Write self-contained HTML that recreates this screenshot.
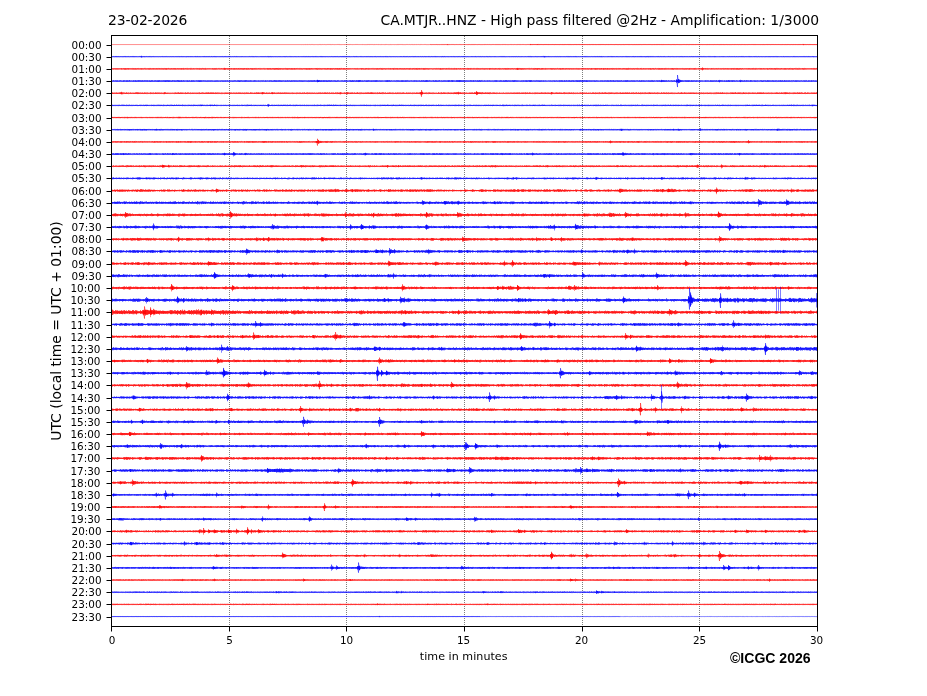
<!DOCTYPE html>
<html lang="en">
<head>
<meta charset="utf-8">
<title>CA.MTJR..HNZ - 23-02-2026</title>
<style>
html,body{margin:0;padding:0;background:#fff;}
body{width:927px;height:696px;overflow:hidden;}
svg{display:block;}
text{font-family:"DejaVu Sans","Liberation Sans",sans-serif;fill:#000;}
.c{font-family:"Liberation Sans",sans-serif;font-weight:bold;}
</style>
</head>
<body>
<svg width="927" height="696" viewBox="0 0 927 696">
<rect width="927" height="696" fill="#fff"/>
<g stroke="#000" stroke-opacity="0.5" stroke-width="1" stroke-dasharray="1 1" fill="none">
<line x1="229.5" y1="36" x2="229.5" y2="626"/>
<line x1="346.5" y1="36" x2="346.5" y2="626"/>
<line x1="464.5" y1="36" x2="464.5" y2="626"/>
<line x1="582.5" y1="36" x2="582.5" y2="626"/>
<line x1="699.5" y1="36" x2="699.5" y2="626"/>
</g>
<clipPath id="ax"><rect x="111.5" y="35.5" width="706.0" height="591.0"/></clipPath>
<g clip-path="url(#ax)" fill="none" stroke-width="5.00" stroke-linejoin="round">
<g stroke="#f00" transform="translate(111.5,44.55) scale(0.1)"><path id="t0" d="M0 0h10h10h10h10h10h10h10h10h10h10h10h10h10h10h10h10h10h10h10h10h10h10h10h10h10h10h10h10h10h10h10h10h10h10h10h10h10h10h10h10h10h10h10h10h10h10h10h10h10h10h10h10h10h10h10h10h10h10h10h10h10h10h10h10h10h10h10h10h10h10h10h10h10h10h10h10h10h10h10h10h10h10h10h10h10h10h10h10h10h10h10h10h10h10h10h10h10h10h10h10h10h10h10h10h10h10h10h10h10h10h10h10h10h10h10h10h10h10h10h10h10h10h10h10h10h10h10h10h10h10h10h10h10h10h10h10h10h10h10h10h10h10h10h10h10h10h10h10h10h10h10h10h10h10h10h10h10h10h10h10h10h10h10h10h10h10h10h10h10h10h10h10h10h10h10h10h10h10h10h10h10h10h10h10h10h10h10h10h10l10 1v-1h10l10 1v-1h10l10 1v-2l10 1l10 1v-2l10 1h10v-1l10 2v-1h10v-1l10 1v-1l10 2v-1l10 1v-1h10h10l10 1v-1l10 1v-1h10v-1l10 2v-2l10 2v-1h10v-1l10 1h10v-1l10 2v-1l10 1v-1h10v-1l10 1v-1l10 1v-1l10 2v-2l10 2v-1h10v-1l10 1l10 1v-1h10h10h10v-1l10 1v-1l10 2v-2l10 2v-1l10 1v-1h10h10l10 1v-2l10 1h10l10 1v-2l10 2v-2l10 2v-2l10 1v-1l10 1l10 1v-1h10h10h10v-1l10 1v-1l10 1v-1l10 1h10h10h10l10 1v-2l10 1l10 1v-1l10 1v-1l10 1v-1l10 1v-2l10 1v-1l10 2v-2l10 1v-1l10 1v-1l10 1v-1l10 2v-1l10 1v-2l10 1h10v-1l10 1l10 1v-2l10 1l10 1v-1l10 1v-2l10 1h10l10 1v-1l10 1v-2l10 1v-1l10 1l10 1v-1l10 1v-1l10 1v-2l10 2v-1h10h10l10 1v-1h10l10 1v-1l10 1v-2l10 2v-2l10 1v-1l10 1v-1l10 1v-1l10 2v-2l10 2v-1l10 1v-1l10 1v-1h10v-1l10 1v-1l10 1h10v-1l10 2v-1h10v-1l10 2v-2l10 2v-1l10 1v-2l10 1l10 1v-2l10 1h10v-1l10 2v-1l10 1v-2l10 1v-1l10 1h10h10v-1l10 1v-1l10 2v-1l10 1v-1l10 1v-1h10h10v-1l10 2v-1h10h10h10h10h10v-1l10 2v-1h10l10 1v-1h10l10 1v-2l10 2v-2l10 2v-2l10 2v-2l10 1v-1l10 2v-2l10 3v-3l10 3v-3l10 2v-2l10 1h10v-1l10 1v-1l10 1v-1l10 2v-1h10h10v-1l10 1h10h10v-1l10 2v-2l10 2v-1h10h10v-1l10 1h10h10l10 1v-1l10 1v-2l10 1v-1l10 2v-1l10 1v-2l10 2v-2l10 2v-2l10 2v-2l10 1v-1l10 1l10 1v-1h10v-1l10 1v-1l10 2v-1l10 1v-1l10 1v-1h10l10 1v-2l10 1v-1l10 1h10v-1l10 1h10v-1l10 2v-1l10 1v-1h10v-1l10 1v-1l10 1l10 1v-2l10 2v-2l10 2v-2l10 2v-2l10 2v-2l10 2v-1h10l10 1v-2l10 1v-1l10 1v-1l10 2v-2l10 1l10 1v-1l10 1v-1h10h10v-1l10 2v-2l10 1l10 1v-1h10v-1l10 1l10 1v-1l10 1v-2l10 1v-1l10 2v-2l10 2v-2l10 1h10v-1l10 1v-1l10 1l10 1v-1l10 1v-1h10v-1l10 1v-1l10 2v-2l10 3v-4l10 3v-2l10 2v-2l10 1v-1l10 1v-1l10 1v-1l10 2v-2l10 2v-2l10 2v-3l10 3v-2l10 1v-1l10 1v-1l10 1l10 1v-1h10v-1l10 1v-1l10 1v-1l10 1l10 1v-2l10 1h10h10h10v-1l10 1l10 1v-1h10v-1l10 1h10h10l10 1v-1h10v-1l10 1l10 1v-2l10 2v-1l10 1v-2l10 1v-1l10 1h10v-1l10 2v-2l10 2v-2l10 2v-2l10 2v-1h10l10 1v-1h10v-1l10 1v-1l10 2v-2l10 1h10v-1l10 2v-2l10 2v-1l10 1v-2l10 2v-1l10 1v-1l10 1v-2l10 1h10l10 1v-1h10l10 1v-2l10 2v-1h10v-1l10 2v-2l10 2v-2l10 1l10 1v-2l10 2v-1h10l10 1v-2l10 2v-2l10 2v-2l10 1v-1l10 1v-1l10 1v-1l10 1l10 1v-1h10v-1l10 1l10 1v-2l10 1h10v-1l10 1v-1l10 1h10l10 1v-1h10v-1l10 1v-1l10 2v-1l10 1v-1h10v-1l10 2v-1l10 1v-1h10l10 1v-2l10 2v-1h10v-1l10 1v-1l10 1v-1l10 2v-2l10 2v-2l10 1h10v-1l10 2v-1l10 1v-1l10 1v-2l10 2v-1l10 1v-2l10 2v-1l10 1v-2l10 2v-2l10 1v-1l10 2v-1h10h10v-1l10 1v-1l10 1v-1l10 1h10h10v-1l10 1v-1l10 1v-1l10 2v-1l10 1v-1h10l10 1v-2l10 1l10 1v-2l10 2v-2l10 1v-1l10 2v-2l10 1l10 1v-2l10 2v-1l10 1v-2l10 1h10h10h10h10v-1l10 1l10 1v-1l10 1v-1h10v-1l10 2v-2l10 2v-2l10 2v-1h10v-1l10 1v-1l10 1l10 1v-1l10 1v-1l10 1v-1h10h10v-1l10 1v-1l10 1l10 1v-2l10 1v-1l10 2v-1l10 1v-2l10 1v-1l10 2v-2l10 2v-2l10 2v-2l10 1l10 1v-2l10 1v-1l10 1v-1l10 2v-2l10 2v-2l10 2v-1h10v-1l10 2v-1h10h10h10l10 1v-1l10 1v-2l10 1l10 1v-2l10 1h10h10l10 1v-1h10v-1l10 1h10h10v-1l10 1l10 1v-1l10 1v-2l10 2v-2l10 1l10 1v-2l10 2v-1h10h10v-1l10 2v-1h10l10 1v-1l10 1v-1l10 1v-1h10v-1l10 1l10 1v-2l10 1v-1l10 1h10v-1l10 2v-1h10v-1l10 2v-1l10 1v-2l10 1v-1l10 1l10 1v-2l10 2v-1h10l10 1v-1h10v-1l10 1v-1l10 1h10v-1l10 1v-1l10 2v-2l10 2v-2l10 2v-2l10 1h10h10h10l10 1v-1h10l10 1v-1l10 1v-2l10 2v-1h10h10v-1l10 2v-2l10 1v-1l10 1v-1l10 2v-1h10v-1l10 1v-1l10 1v-1l10 1h10v-1l10 1h10h10v-1l10 1l10 1v-1l10 1v-1l10 1v-2l10 1l10 1v-1l10 1v-2l10 2v-1l10 1v-2l10 1v-1l10 2v-1l10 1v-1h10v-1l10 2v-1l10 1v-2l10 1l10 1v-2l10 1l10 1v-1l10 1v-2l10 2v-2l10 2v-2l10 1l10 1v-3l10 4v-4l10 3v-2l10 2v-2l10 2v-1h10v-1l10 2v-1l10 1v-2l10 2v-2l10 1l10 1v-1l10 1v-1l10 1v-2l10 2v-1l10 1v-1h10v-1"/><path d="M3360 5v-10M4190 4v-9M4260 3v-7M6920 6v-11"/><path stroke-width="2.5" d="M3185 0H4185"/><path stroke-width="5.0" d="M4185 0H7065"/></g>
<g stroke="#00f" transform="translate(111.5,56.72) scale(0.1)"><path id="t1" d="M0 3v-4l10 2v-2l10 2v-4l10 5v-3l10 4v-6l10 6v-6l10 5v-4l10 4v-5l10 5v-3l10 3v-4l10 3v-3l10 5v-4l10 4v-4l10 3v-5l10 6v-6l10 4v-3l10 4v-4l10 4v-5l10 4v-2l10 4v-5l10 4v-4l10 5v-6l10 6v-6l10 6v-5l10 4v-4l10 4v-4l10 3v-2l10 3v-3l10 3v-5l10 6v-6l10 9v-11l10 7v-4l10 5v-5l10 6v-6l10 4v-3l10 3v-5l10 4v-3l10 5v-5l10 5v-6l10 4v-4l10 6v-4l10 3v-4l10 4v-5l10 4v-3l10 3v-3l10 3v-3l10 3v-3l10 4v-3l10 2v-3l10 4v-3l10 2v-3l10 4v-5l10 4v-3l10 4v-4l10 4v-4l10 3v-4l10 4v-3l10 3v-3l10 4v-3l10 3v-4l10 4v-3l10 3v-4l10 4v-4l10 3v-2l10 3v-4l10 4v-4l10 4v-4l10 3v-4l10 6v-5l10 3v-3l10 4v-5l10 5v-4l10 4v-4l10 3v-3l10 4v-3l10 5v-5l10 3v-4l10 5v-5l10 3v-3l10 5v-5l10 4v-4l10 4v-4l10 3v-2l10 3v-4l10 5v-6l10 5v-4l10 5v-6l10 4v-3l10 5v-5l10 4v-3l10 2v-2l10 3v-4l10 5v-5l10 5v-6l10 5v-4l10 5v-5l10 4v-4l10 5v-5l10 4v-5l10 4v-2l10 4v-6l10 5v-3l10 4v-5l10 5v-6l10 6v-5l10 5v-4l10 2v-3l10 3v-3l10 4v-4l10 4v-4l10 4v-4l10 4v-5l10 5v-3l10 4v-5l10 4v-5l10 5v-4l10 4v-3l10 4v-6l10 5v-5l10 5v-5l10 4v-2l10 3v-4l10 4v-3l10 3v-5l10 4v-3l10 5v-6l10 4v-3l10 3v-3l10 4v-3l10 3v-3l10 4v-4l10 3v-4l10 3v-2l10 3v-3l10 3v-3l10 2v-2l10 2v-2l10 3v-3l10 3v-5l10 4v-3l10 3v-4l10 5v-5l10 6v-5l10 4v-3l10 2v-4l10 5v-4l10 3v-3l10 3v-2l10 2v-2l10 3v-4l10 4v-4l10 4v-4l10 4v-4l10 4v-4l10 3v-4l10 4v-3l10 4v-5l10 7v-7l10 6v-5l10 5v-6l10 6v-4l10 3v-4l10 4v-3l10 2v-3l10 4v-4l10 3v-3l10 4v-3l10 3v-4l10 4v-4l10 4v-4l10 3v-2l10 3v-3l10 3v-4l10 5v-5l10 5v-4l10 2v-4l10 4v-3l10 3v-3l10 3v-4l10 5v-5l10 5v-4l10 3v-3l10 4v-3l10 3v-4l10 4v-4l10 4v-3l10 2v-2l10 4v-5l10 3v-2l10 2v-3l10 4v-4l10 4v-4l10 4v-5l10 4v-4l10 6v-5l10 4v-5l10 5v-4l10 5v-6l10 5v-4l10 5v-4l10 3v-4l10 4v-5l10 6v-5l10 4v-4l10 5v-6l10 4v-4l10 5v-4l10 4v-3l10 3v-4l10 5v-6l10 6v-6l10 6v-5l10 4v-4l10 4v-4l10 5v-4l10 2v-3l10 4v-4l10 4v-3l10 3v-4l10 4v-3l10 3v-5l10 5v-4l10 5v-4l10 4v-5l10 5v-5l10 4v-4l10 4v-5l10 5v-3l10 4v-4l10 3v-5l10 6v-5l10 5v-6l10 6v-6l10 5v-6l10 6v-5l10 5v-5l10 4v-4l10 5v-5l10 6v-6l10 4v-2l10 3v-3l10 2v-2l10 3v-5l10 6v-5l10 4v-4l10 5v-6l10 4v-3l10 4v-3l10 2v-3l10 4v-5l10 4v-4l10 4v-3l10 4v-3l10 3v-4l10 3v-3l10 5v-5l10 4v-4l10 3v-4l10 5v-4l10 5v-5l10 4v-4l10 5v-4l10 2v-2l10 4v-5l10 4v-5l10 5v-3l10 3v-4l10 4v-4l10 4v-4l10 4v-5l10 4v-3l10 4v-4l10 5v-4l10 2v-3l10 5v-6l10 4v-4l10 6v-5l10 3v-2l10 2v-4l10 5v-4l10 4v-3l10 2v-3l10 4v-4l10 3v-3l10 4v-3l10 2v-3l10 4v-3l10 2v-2l10 3v-3l10 4v-5l10 4v-4l10 3v-2l10 4v-6l10 4v-4l10 5v-4l10 5v-5l10 3v-4l10 5v-3l10 4v-5l10 4v-3l10 3v-4l10 3v-4l10 6v-5l10 5v-5l10 4v-5l10 4v-3l10 4v-4l10 5v-5l10 3v-2l10 3v-5l10 5v-3l10 3v-5l10 5v-3l10 3v-5l10 6v-5l10 4v-4l10 3v-3l10 5v-6l10 4v-4l10 5v-3l10 3v-5l10 5v-4l10 4v-4l10 4v-5l10 6v-6l10 5v-4l10 4v-4l10 3v-3l10 4v-3l10 2v-3l10 6v-5l10 4v-6l10 6v-4l10 4v-6l10 5v-3l10 2v-3l10 4v-4l10 5v-4l10 2v-2l10 3v-4l10 5v-5l10 3v-3l10 4v-5l10 6v-5l10 4v-3l10 3v-4l10 5v-4l10 4v-5l10 3v-4l10 5v-3l10 3v-5l10 6v-5l10 5v-6l10 5v-4l10 3v-4l10 5v-3l10 3v-4l10 4v-3l10 2v-2l10 2v-2l10 4v-5l10 4v-4l10 3v-3l10 4v-4l10 5v-6l10 5v-3l10 2v-3l10 3v-4l10 5v-4l10 4v-5l10 5v-3l10 2v-4l10 4v-3l10 5v-4l10 2v-2l10 3v-5l10 6v-5l10 4v-3l10 3v-5l10 5v-4l10 4v-3l10 2v-3l10 3v-3l10 5v-5l10 4v-4l10 3v-2l10 2v-2l10 3v-3l10 3v-4l10 3v-4l10 5v-5l10 5v-5l10 5v-5l10 5v-5l10 5v-3l10 3v-3l10 2v-2l10 2v-3l10 5v-4l10 2v-2l10 4v-4l10 3v-4l10 5v-4l10 3v-4l10 5v-4l10 2v-4l10 5v-3l10 3v-5l10 4v-3l10 4v-3l10 4v-4l10 2v-3l10 3v-2l10 3v-3l10 3v-4l10 3v-2l10 3v-4l10 5v-6l10 5v-5l10 5v-6l10 7v-5l10 3v-3l10 4v-3l10 3v-3l10 3v-5l10 5v-4l10 5v-4l10 3v-4l10 3v-3l10 4v-4l10 5v-5l10 4v-5l10 6v-8l10 7v-5l10 7v-7l10 5v-4l10 4v-4l10 5v-6l10 5v-4l10 3v-3l10 4v-3l10 2v-3l10 3v-3l10 4v-4l10 3v-4l10 5v-4l10 3v-4l10 5v-4l10 3v-4l10 6v-5l10 3v-3l10 3v-3l10 4v-4l10 4v-4l10 4v-3l10 3v-5l10 5v-5l10 6v-6l10 6v-5l10 3v-4l10 5v-4l10 3v-3l10 5v-5l10 4v-4l10 5v-6l10 6v-5l10 3v-2l10 3v-4l10 3v-2l10 3v-4l10 3v-3l10 5v-4l10 3v-4l10 5v-6l10 6v-6l10 5v-5l10 4v-4l10 5v-4l10 4v-4l10 4v-3l10 2v-4l10 5v-4l10 4v-4l10 4v-5l10 6v-5l10 4v-4l10 5v-6l10 5v-4l10 5v-6l10 6v-5l10 6v-7l10 5v-3l10 3v-4l10 3v-2l10 2v-2l10 2v-2l10 4v-4l10 4v-5l10 3v-3l10 3v-4l10 6v-6l10 6v-5l10 4v-4l10 4v-4l10 3v-2l10 4v-5l10 4v-4l10 4v-3l10 3v-3l10 3v-4l10 4v-3l10 4v-4l10 3v-4l10 3v-3l10 4v-5l10 6v-6l10 6v-5l10 5v-5l10 5v-4l10 2v-3l10 4v-3l10 4v-5l10 5v-6l10 6v-4l10 4v-5l10 3v-3l10 5v-5l10 4v-4l10 5v-5l10 5v-6l10 6v-6l10 5v-4l10 4v-4l10 5v-5l10 6v-5l10 5v-6l10 5v-6l10 7v-7l10 4v-4l10 6v-6l10 4v-4l10 5v-5l10 4v-4l10 4v-3l10 4v-3l10 3v-4l10 5v-5l10 5v-6l10 5v-3l10 3v-5l10 5v-4l10 3v-3l10 5v-5l10 4v-5l10 4v-2l10 2v-2l10 3v-3l10 4v-6l10 4v-3l10 5v-4l10 2v-3l10 3v-4l10 5v-4l10 4v-3l10 3v-3l10 4v-4l10 2v-3l10 4v-4l10 5v-4l10 4v-5l10 4v-5l10 6v-5l10 4v-3l10 4v-5l10 3v-3l10 4v-4l10 4v-4l10 3v-2l10 4v-5l10 4v-3l10 3v-5l10 5v-4l10 5v-5l10 3v-3l10 3v-4l10 5v-4l10 4v-5l10 6v-5l10 4v-3l10 3v-5l10 5v-5l10 5v-4l10 4v-5l10 4v-4l10 5v-4l10 4v-3l10 2v-3l10 4v-5l10 5v-5l10 4v-4l10 4v-3l10 4v-4l10 4v-4l10 6v-7l10 6v-5l10 3v-2l10 2v-2l10 2v-2l10 4v-4l10 2v-2l10 3v-4l10 4v-4l10 5v-5l10 3v-3l10 3v-2l10 2v-2l10 3v-4l10 4v-3l10 3v-5l10 4v-3l10 4v-4l10 4v-4l10 3v-3l10 4v-5l10 4v-2l10 4v-5l10 3v-2l10 4v-4l10 3v-4l10 4v-4l10 5v-6l10 5v-5l10 5v-5l10 5v-3l10 3v-4l10 4v-4l10 3v-3l10 4v-5l10 6v-6l10 5v-4l10 4v-4l10 3v-2l10 3v-4l10 5v-5l10 3v-4l10 4v-4l10 5v-3l10 3v-5l10 5v-3l10 2v-3l10 4v-4l10 4v-3l10 2v-3l10 4v-3l10 4v-4l10 3v-4l10 3v-3l10 5v-5l10 5v-5l10 5v-4l10 3v-4l10 4v-4l10 5v-5l10 4v-4l10 3v-4l10 5v-5l10 6v-5l10 3v-3l10 3v-2l10 2v-3l10 4v-4l10 3v-2l10 4v-6l10 5v-3l10 3v-4l10 4v-4l10 4v-4l10 4v-4l10 4v-3l10 3v-3l10 2v-3l10 4v-3l10 4v-6l10 5v-5l10 5v-4l10 4v-4l10 4v-4l10 4v-3l10 3v-4l10 4v-4l10 4v-4l10 4v-4l10 4v-5l10 5v-5l10 5v-4l10 3v-4l10 5v-4l10 5v-6l10 5v-4l10 4v-3l10 2v-2l10 3v-5l10 7v-6l10 3v-2l10 2v-2l10 3v-3l10 3v-3"/><use href="#t1" transform="translate(5,0) scale(1,-.85)"/><path d="M300 8v-17M4330 7v-14"/></g>
<g stroke="#f00" transform="translate(111.5,68.89) scale(0.1)"><path id="t2" d="M0 3v-6l10 6v-6l10 9v-9l10 6v-7l10 9v-9l10 9v-9l10 9v-9l10 8v-7l10 6v-6l10 6v-6l10 8v-12l10 12v-8l10 7v-8l10 10v-12l10 13v-14l10 13v-9l10 8v-9l10 10v-13l10 10v-7l10 7v-7l10 8v-8l10 9v-10l10 8v-9l10 12v-11l10 11v-10l10 10v-8l10 7v-9l10 8v-9l10 8v-6l10 8v-9l10 11v-12l10 10v-8l10 8v-7l10 5v-9l10 9v-9l10 9v-6l10 7v-7l10 8v-9l10 12v-13l10 9v-9l10 9v-7l10 8v-9l10 9v-11l10 10v-8l10 8v-7l10 8v-11l10 11v-9l10 7v-8l10 8v-10l10 11v-8l10 8v-9l10 9v-9l10 11v-10l10 8v-9l10 9v-10l10 13v-14l10 12v-8l10 6v-9l10 9v-7l10 10v-9l10 8v-10l10 10v-8l10 8v-10l10 10v-12l10 10v-10l10 12v-8l10 7v-8l10 9v-9l10 8v-8l10 9v-9l10 9v-12l10 12v-10l10 11v-12l10 9v-6l10 6v-9l10 10v-9l10 9v-10l10 9v-7l10 7v-7l10 10v-12l10 9v-9l10 9v-6l10 7v-10l10 10v-7l10 5v-5l10 7v-9l10 8v-9l10 10v-8l10 11v-12l10 9v-8l10 11v-10l10 6v-9l10 9v-9l10 11v-9l10 11v-13l10 9v-5l10 6v-7l10 6v-6l10 6v-7l10 6v-5l10 6v-5l10 8v-11l10 11v-9l10 10v-11l10 11v-11l10 9v-10l10 8v-5l10 5v-8l10 8v-8l10 8v-6l10 6v-9l10 10v-7l10 9v-11l10 9v-10l10 13v-16l10 12v-7l10 10v-10l10 10v-10l10 11v-12l10 10v-8l10 8v-11l10 10v-7l10 10v-11l10 11v-13l10 11v-8l10 6v-9l10 12v-10l10 7v-9l10 12v-11l10 9v-9l10 10v-11l10 10v-9l10 13v-13l10 10v-12l10 10v-7l10 9v-12l10 13v-11l10 8v-9l10 12v-9l10 6v-8l10 10v-11l10 13v-13l10 12v-9l10 9v-10l10 9v-10l10 9v-9l10 8v-6l10 6v-9l10 10v-9l10 9v-9l10 8v-7l10 7v-6l10 6v-8l10 9v-9l10 8v-6l10 6v-6l10 8v-12l10 13v-12l10 11v-9l10 8v-11l10 13v-9l10 8v-9l10 7v-9l10 13v-13l10 13v-13l10 11v-13l10 11v-11l10 15v-13l10 9v-8l10 12v-14l10 10v-6l10 9v-9l10 9v-9l10 7v-7l10 8v-11l10 9v-9l10 13v-13l10 12v-10l10 8v-8l10 10v-9l10 9v-12l10 12v-12l10 12v-9l10 9v-12l10 12v-10l10 8v-8l10 7v-8l10 8v-7l10 9v-10l10 9v-9l10 8v-8l10 12v-10l10 6v-6l10 7v-9l10 10v-10l10 11v-12l10 12v-11l10 12v-11l10 11v-12l10 12v-11l10 8v-9l10 10v-9l10 7v-6l10 6v-7l10 7v-10l10 10v-11l10 15v-12l10 9v-8l10 9v-10l10 9v-9l10 11v-9l10 8v-8l10 6v-7l10 8v-10l10 10v-9l10 12v-10l10 9v-12l10 10v-10l10 10v-8l10 11v-14l10 12v-11l10 13v-10l10 6v-7l10 10v-9l10 8v-11l10 11v-10l10 10v-13l10 14v-10l10 9v-12l10 13v-11l10 8v-9l10 9v-7l10 10v-13l10 10v-10l10 13v-9l10 7v-8l10 9v-9l10 9v-9l10 8v-8l10 7v-7l10 6v-5l10 5v-6l10 6v-5l10 6v-8l10 10v-9l10 8v-7l10 8v-10l10 8v-5l10 6v-6l10 5v-7l10 11v-14l10 10v-9l10 11v-9l10 9v-7l10 10v-11l10 7v-10l10 10v-8l10 10v-11l10 9v-8l10 7v-6l10 7v-8l10 7v-8l10 8v-8l10 9v-8l10 7v-7l10 11v-11l10 8v-10l10 12v-10l10 8v-8l10 7v-9l10 9v-10l10 14v-12l10 8v-6l10 6v-8l10 11v-9l10 7v-7l10 6v-6l10 7v-9l10 8v-7l10 9v-12l10 10v-6l10 6v-8l10 11v-13l10 12v-11l10 9v-7l10 8v-10l10 10v-11l10 12v-8l10 8v-8l10 7v-10l10 11v-9l10 9v-9l10 10v-9l10 6v-9l10 12v-10l10 8v-8l10 7v-8l10 10v-9l10 11v-12l10 10v-10l10 8v-6l10 10v-11l10 7v-9l10 11v-10l10 9v-9l10 10v-13l10 14v-11l10 9v-8l10 9v-13l10 11v-6l10 7v-9l10 8v-7l10 10v-13l10 13v-12l10 12v-11l10 8v-7l10 8v-9l10 11v-9l10 7v-7l10 5v-5l10 5v-6l10 9v-7l10 7v-7l10 5v-6l10 8v-8l10 7v-9l10 8v-7l10 7v-8l10 9v-8l10 11v-14l10 13v-9l10 9v-9l10 8v-9l10 6v-6l10 9v-8l10 8v-11l10 10v-7l10 7v-10l10 9v-9l10 9v-7l10 9v-10l10 9v-7l10 9v-9l10 9v-12l10 9v-7l10 10v-13l10 10v-5l10 5v-8l10 10v-8l10 7v-10l10 10v-6l10 5v-7l10 10v-10l10 7v-7l10 7v-7l10 8v-7l10 9v-12l10 9v-10l10 12v-10l10 11v-11l10 8v-8l10 8v-6l10 8v-10l10 8v-8l10 8v-6l10 9v-11l10 9v-10l10 9v-9l10 11v-8l10 9v-9l10 7v-7l10 7v-9l10 9v-8l10 11v-10l10 8v-8l10 7v-8l10 9v-8l10 6v-6l10 10v-14l10 12v-12l10 10v-6l10 7v-9l10 9v-8l10 10v-9l10 8v-11l10 10v-8l10 8v-6l10 7v-10l10 11v-11l10 9v-8l10 8v-6l10 6v-8l10 9v-8l10 7v-9l10 10v-12l10 12v-11l10 12v-11l10 9v-10l10 10v-8l10 9v-8l10 7v-8l10 6v-8l10 11v-8l10 5v-6l10 9v-8l10 9v-12l10 13v-14l10 15v-13l10 9v-9l10 8v-10l10 15v-13l10 11v-10l10 11v-10l10 8v-9l10 9v-8l10 7v-7l10 6v-7l10 7v-8l10 9v-10l10 9v-7l10 7v-9l10 9v-7l10 9v-10l10 13v-13l10 9v-11l10 11v-10l10 14v-16l10 12v-11l10 10v-9l10 12v-9l10 11v-11l10 9v-13l10 11v-8l10 8v-7l10 10v-12l10 8v-6l10 7v-7l10 6v-6l10 6v-6l10 7v-10l10 11v-11l10 12v-12l10 10v-8l10 10v-9l10 8v-8l10 8v-7l10 5v-9l10 9v-6l10 8v-10l10 11v-12l10 12v-10l10 9v-11l10 10v-11l10 10v-6l10 9v-10l10 7v-9l10 10v-8l10 7v-8l10 11v-10l10 7v-7l10 9v-9l10 8v-7l10 8v-9l10 7v-6l10 7v-7l10 7v-9l10 9v-8l10 10v-10l10 9v-8l10 6v-5l10 5v-8l10 12v-10l10 8v-10l10 8v-8l10 10v-11l10 10v-7l10 8v-10l10 11v-9l10 6v-7l10 10v-9l10 11v-15l10 11v-7l10 6v-7l10 7v-9l10 13v-15l10 14v-10l10 10v-10l10 7v-7l10 9v-10l10 12v-11l10 9v-12l10 10v-6l10 11v-15l10 13v-10l10 7v-9l10 12v-10l10 11v-13l10 11v-8l10 10v-10l10 8v-8l10 8v-10l10 11v-11l10 8v-9l10 11v-9l10 7v-7l10 10v-11l10 8v-6l10 8v-10l10 8v-10l10 10v-9l10 10v-6l10 8v-9l10 7v-10l10 10v-10l10 11v-9l10 10v-11l10 12v-12l10 12v-14l10 9v-6l10 8v-9l10 9v-8l10 10v-9l10 7v-9l10 11v-9l10 6v-7l10 8v-9l10 10v-12l10 9v-7l10 10v-7l10 7v-11l10 11v-11l10 9v-5l10 7v-11l10 10v-7l10 8v-8l10 7v-7l10 6v-6l10 9v-10l10 8v-8l10 10v-13l10 13v-9l10 7v-8l10 7v-10l10 13v-9l10 5v-8l10 9v-6l10 7v-8l10 11v-12l10 9v-11l10 13v-11l10 11v-10l10 10v-11l10 10v-8l10 10v-11l10 9v-11l10 9v-8l10 8v-7l10 8v-9l10 8v-6l10 8v-8l10 9v-11l10 10v-13l10 15v-11l10 7v-6l10 8v-9l10 9v-10l10 9v-10l10 10v-7l10 7v-7l10 8v-8l10 7v-7l10 8v-10l10 8v-7l10 12v-11l10 9v-9l10 10v-10l10 7v-8l10 10v-9l10 9v-13l10 12v-10l10 8v-6l10 8v-8l10 9v-10l10 11v-13l10 11v-11l10 9v-6l10 5v-4l10 6v-10l10 8v-5l10 7v-8l10 10v-14l10 15v-13l10 12v-15l10 12v-7l10 8v-10l10 10v-8l10 9v-10l10 9v-7l10 5v-5l10 8v-7l10 8v-12l10 10v-8l10 7v-8l10 9v-7l10 7v-7l10 7v-9l10 10v-8l10 6v-8l10 7v-5l10 8v-9l10 9v-8l10 6v-7l10 9v-10l10 9v-8l10 7v-9l10 10v-8l10 8v-10l10 11v-9l10 7v-6l10 6v-7l10 12v-14l10 10v-8l10 10v-12l10 11v-10l10 9v-8l10 11v-13l10 11v-12l10 13v-10l10 12v-12l10 8v-9l10 11v-9l10 6v-9l10 10v-6l10 5v-6l10 6v-6l10 7v-8l10 8v-7l10 8v-11l10 10v-10l10 11v-8l10 8v-8l10 9v-11l10 10v-11l10 9v-7l10 11v-12l10 8v-8l10 8v-6l10 6v-7l10 7v-8l10 9v-11l10 11v-11l10 10v-6l10 6v-10l10 11v-8l10 7v-6l10 6v-7l10 10v-12l10 12v-9l10 6v-8l10 10v-10l10 8v-10l10 11v-9l10 10v-8l10 6v-10l10 13v-13l10 12v-11l10 9v-8l10 8v-9l10 11v-8l10 9v-9l10 6v-10l10 10v-6l10 8v-8l10 10v-12l10 11v-12l10 11v-8l10 6v-7l10 10v-9l10 6v-10l10 12v-11l10 9v-7l10 10v-11l10 12v-10l10 6v-7l10 8v-10l10 9v-9l10 9v-9l10 12v-12l10 9v-9l10 9v-7l10 7v-6l10 6v-10l10 13v-12l10 12v-12l10 9v-7l10 8v-7l10 6v-6l10 6v-6l10 6v-6l10 6v-6l10 7v-8l10 7v-6l10 8v-10l10 9v-9l10 9v-7l10 6v-9l10 9v-9"/><use href="#t2" transform="translate(5,0) scale(1,-.85)"/><path d="M1130 9v-20M4060 11v-21M5910 16v-33"/></g>
<g stroke="#00f" transform="translate(111.5,81.06) scale(0.1)"><path id="t3" d="M0 8v-15l10 12v-8l10 7v-11l10 10v-7l10 7v-10l10 11v-10l10 12v-13l10 12v-8l10 10v-10l10 7v-11l10 11v-8l10 8v-7l10 11v-14l10 12v-13l10 10v-7l10 11v-13l10 13v-14l10 13v-9l10 8v-14l10 13v-8l10 8v-8l10 10v-9l10 10v-13l10 12v-11l10 11v-13l10 15v-12l10 10v-10l10 11v-15l10 12v-13l10 12v-10l10 14v-12l10 9v-11l10 13v-11l10 10v-11l10 10v-11l10 11v-11l10 11v-12l10 12v-9l10 9v-10l10 14v-12l10 13v-14l10 9v-10l10 12v-10l10 11v-11l10 10v-12l10 10v-9l10 12v-14l10 16v-14l10 12v-14l10 13v-9l10 8v-9l10 12v-13l10 11v-11l10 9v-11l10 16v-16l10 15v-14l10 10v-12l10 15v-15l10 16v-13l10 8v-7l10 12v-12l10 12v-15l10 10v-8l10 10v-12l10 14v-12l10 11v-9l10 8v-15l10 15v-14l10 15v-11l10 13v-12l10 11v-13l10 13v-11l10 10v-12l10 11v-9l10 7v-7l10 9v-10l10 11v-13l10 14v-10l10 7v-9l10 12v-10l10 10v-12l10 13v-13l10 11v-11l10 11v-9l10 6v-6l10 7v-11l10 11v-10l10 10v-12l10 16v-15l10 14v-13l10 14v-13l10 8v-6l10 7v-11l10 10v-9l10 10v-10l10 11v-8l10 8v-10l10 12v-12l10 9v-8l10 11v-11l10 9v-10l10 10v-9l10 8v-7l10 10v-10l10 11v-11l10 10v-11l10 10v-11l10 10v-8l10 6v-7l10 11v-10l10 6v-8l10 8v-9l10 13v-12l10 9v-8l10 11v-12l10 8v-7l10 7v-11l10 12v-8l10 11v-13l10 10v-8l10 8v-8l10 9v-9l10 12v-12l10 8v-9l10 8v-10l10 11v-8l10 10v-12l10 9v-11l10 17v-14l10 13v-12l10 8v-9l10 8v-8l10 12v-12l10 9v-9l10 13v-17l10 13v-11l10 11v-8l10 8v-9l10 12v-12l10 11v-11l10 10v-9l10 7v-6l10 10v-11l10 11v-14l10 11v-10l10 10v-8l10 7v-7l10 10v-11l10 9v-7l10 9v-9l10 7v-9l10 10v-10l10 8v-9l10 9v-7l10 10v-13l10 12v-9l10 7v-7l10 7v-7l10 11v-12l10 8v-9l10 10v-11l10 12v-9l10 12v-12l10 11v-14l10 11v-11l10 15v-14l10 10v-8l10 11v-13l10 11v-13l10 11v-10l10 13v-12l10 12v-10l10 7v-7l10 9v-9l10 10v-11l10 12v-11l10 10v-12l10 11v-9l10 8v-10l10 11v-9l10 13v-15l10 11v-8l10 8v-11l10 10v-11l10 12v-12l10 11v-9l10 11v-10l10 9v-9l10 9v-12l10 11v-10l10 11v-11l10 11v-10l10 12v-12l10 8v-7l10 7v-8l10 8v-8l10 11v-9l10 9v-11l10 12v-12l10 12v-12l10 10v-10l10 12v-13l10 13v-12l10 9v-12l10 13v-10l10 11v-11l10 11v-17l10 17v-10l10 13v-18l10 16v-11l10 11v-12l10 12v-12l10 11v-12l10 14v-15l10 11v-9l10 11v-13l10 16v-13l10 11v-11l10 8v-11l10 15v-13l10 10v-11l10 10v-8l10 9v-10l10 9v-11l10 11v-10l10 14v-11l10 10v-11l10 8v-10l10 9v-6l10 7v-7l10 8v-10l10 8v-9l10 11v-9l10 11v-14l10 11v-11l10 11v-10l10 11v-9l10 7v-6l10 8v-11l10 10v-12l10 17v-13l10 10v-13l10 16v-13l10 9v-9l10 9v-9l10 12v-17l10 12v-9l10 16v-18l10 17v-18l10 13v-13l10 13v-8l10 8v-9l10 12v-10l10 6v-8l10 9v-9l10 11v-12l10 15v-14l10 8v-10l10 12v-12l10 11v-8l10 11v-12l10 12v-12l10 11v-10l10 8v-10l10 14v-16l10 14v-14l10 13v-11l10 10v-7l10 8v-10l10 8v-8l10 12v-12l10 8v-6l10 6v-6l10 6v-7l10 8v-10l10 13v-15l10 16v-16l10 14v-12l10 10v-12l10 14v-10l10 7v-8l10 8v-6l10 7v-8l10 8v-9l10 10v-8l10 9v-12l10 11v-12l10 10v-10l10 13v-11l10 10v-8l10 10v-13l10 14v-15l10 12v-10l10 12v-11l10 10v-11l10 13v-14l10 10v-10l10 9v-8l10 11v-9l10 6v-7l10 7v-10l10 10v-7l10 9v-10l10 11v-13l10 10v-9l10 10v-11l10 12v-10l10 8v-6l10 6v-9l10 13v-10l10 10v-12l10 11v-10l10 8v-12l10 13v-10l10 13v-14l10 15v-18l10 14v-12l10 13v-10l10 8v-10l10 9v-8l10 10v-8l10 7v-8l10 8v-12l10 14v-10l10 10v-13l10 13v-13l10 12v-9l10 12v-12l10 9v-12l10 10v-6l10 9v-11l10 11v-9l10 10v-11l10 7v-9l10 12v-13l10 11v-7l10 6v-9l10 15v-17l10 14v-13l10 11v-7l10 8v-14l10 17v-17l10 13v-9l10 9v-8l10 8v-8l10 11v-15l10 15v-16l10 14v-13l10 18v-19l10 15v-14l10 15v-13l10 11v-10l10 13v-16l10 12v-7l10 12v-12l10 9v-9l10 7v-9l10 12v-12l10 9v-7l10 8v-13l10 12v-12l10 12v-9l10 11v-14l10 12v-9l10 8v-10l10 11v-8l10 8v-12l10 16v-12l10 8v-12l10 16v-13l10 9v-10l10 9v-9l10 9v-6l10 6v-10l10 12v-9l10 7v-6l10 10v-12l10 8v-7l10 8v-11l10 11v-8l10 8v-7l10 8v-8l10 9v-9l10 10v-11l10 9v-12l10 15v-16l10 11v-6l10 6v-7l10 11v-11l10 11v-13l10 9v-9l10 12v-10l10 10v-11l10 12v-12l10 14v-16l10 11v-12l10 15v-12l10 9v-9l10 8v-9l10 13v-13l10 9v-6l10 7v-12l10 15v-14l10 16v-16l10 11v-10l10 11v-11l10 11v-10l10 8v-7l10 7v-7l10 10v-9l10 10v-10l10 9v-10l10 11v-12l10 9v-8l10 8v-11l10 14v-15l10 14v-10l10 7v-9l10 11v-14l10 18v-17l10 13v-13l10 12v-7l10 7v-8l10 6v-7l10 12v-12l10 8v-9l10 9v-10l10 10v-10l10 13v-12l10 14v-12l10 10v-9l10 7v-8l10 11v-12l10 8v-6l10 8v-10l10 8v-6l10 6v-5l10 5v-7l10 8v-8l10 9v-10l10 9v-7l10 9v-9l10 6v-8l10 10v-11l10 12v-10l10 7v-8l10 10v-8l10 8v-8l10 9v-12l10 13v-13l10 10v-11l10 13v-13l10 12v-8l10 10v-13l10 13v-10l10 7v-11l10 12v-10l10 11v-11l10 10v-13l10 12v-9l10 14v-13l10 8v-9l10 11v-13l10 13v-10l10 9v-9l10 9v-13l10 16v-15l10 12v-11l10 16v-15l10 9v-12l10 13v-12l10 12v-14l10 16v-12l10 8v-11l10 12v-12l10 15v-15l10 16v-12l10 9v-8l10 8v-11l10 12v-12l10 11v-9l10 8v-9l10 8v-9l10 10v-11l10 14v-11l10 8v-9l10 9v-9l10 9v-7l10 6v-6l10 10v-11l10 8v-9l10 11v-11l10 9v-8l10 10v-11l10 8v-9l10 11v-10l10 9v-12l10 13v-12l10 12v-9l10 9v-13l10 12v-11l10 12v-11l10 11v-13l10 12v-9l10 13v-12l10 7v-7l10 9v-12l10 14v-12l10 11v-10l10 11v-10l10 8v-12l10 11v-7l10 10v-11l10 10v-10l10 10v-13l10 16v-15l10 11v-13l10 13v-10l10 8v-7l10 12v-12l10 8v-9l10 11v-11l10 8v-9l10 12v-13l10 12v-8l10 6v-7l10 7v-10l10 11v-8l10 10v-13l10 11v-8l10 12v-16l10 12v-9l10 11v-11l10 8v-8l10 12v-11l10 7v-7l10 8v-8l10 8v-11l10 12v-11l10 12v-11l10 13v-14l10 9v-10l10 15v-12l10 8v-8l10 7v-6l10 6v-10l10 11v-11l10 12v-12l10 10v-10l10 13v-11l10 14v-17l10 15v-15l10 15v-15l10 14v-12l10 14v-12l10 9v-11l10 12v-9l10 8v-11l10 11v-8l10 8v-8l10 9v-12l10 11v-9l10 12v-12l10 9v-11l10 12v-9l10 15v-25l10 21v-15l10 19v-33l10 35v-28l10 23v-18l10 16v-14l10 12v-12l10 13v-10l10 7v-7l10 8v-12l10 15v-14l10 11v-10l10 15v-16l10 12v-11l10 12v-10l10 11v-13l10 12v-12l10 13v-12l10 8v-8l10 9v-9l10 13v-15l10 10v-7l10 7v-7l10 11v-12l10 13v-12l10 7v-6l10 8v-9l10 6v-4l10 6v-8l10 10v-13l10 12v-11l10 9v-8l10 9v-9l10 8v-6l10 10v-14l10 13v-12l10 12v-11l10 13v-11l10 8v-9l10 11v-10l10 7v-11l10 12v-9l10 11v-13l10 14v-12l10 12v-15l10 11v-10l10 11v-11l10 9v-7l10 10v-12l10 12v-10l10 11v-12l10 14v-13l10 10v-15l10 18v-15l10 9v-7l10 7v-11l10 16v-16l10 11v-9l10 11v-12l10 11v-7l10 6v-10l10 11v-9l10 8v-6l10 6v-11l10 17v-13l10 12v-15l10 10v-8l10 13v-11l10 8v-11l10 12v-10l10 9v-12l10 12v-12l10 11v-8l10 8v-8l10 11v-16l10 13v-12l10 11v-6l10 6v-8l10 9v-11l10 13v-12l10 12v-9l10 9v-10l10 7v-6l10 8v-8l10 6v-10l10 10v-11l10 16v-12l10 11v-10l10 6v-8l10 8v-10l10 14v-11l10 10v-13l10 13v-13l10 13v-11l10 10v-9l10 10v-9l10 7v-11l10 13v-12l10 12v-10l10 11v-10l10 9v-10l10 9v-8l10 11v-12l10 10v-10l10 10v-14l10 15v-11l10 8v-10l10 13v-10l10 10v-14l10 12v-10l10 13v-12l10 9v-8l10 11v-11l10 8v-10l10 12v-10l10 9v-9l10 9v-9l10 6v-10l10 11v-8l10 8v-11l10 15v-14l10 10v-8l10 8v-9l10 11v-9l10 8v-8l10 6v-9l10 10v-7l10 8v-10l10 9v-10l10 13v-13l10 9v-9l10 9v-6l10 11v-13l10 10v-9l10 8v-8l10 11v-14l10 12v-10l10 8v-9l10 10v-8l10 8v-9l10 12v-10l10 8v-10"/><use href="#t3" transform="translate(5,0) scale(1,-.85)"/><path d="M2060 13v-25l10 21v-19M5500 11v-24M5650 16v-31l10 75v-120l10 81v-41M6080 14v-26M6290 11v-24"/></g>
<g stroke="#f00" transform="translate(111.5,93.23) scale(0.1)"><path id="t4" d="M0 4v-8l10 11v-13l10 12v-9l10 6v-6l10 6v-7l10 7v-10l10 13v-10l10 7v-6l10 6v-10l10 14v-17l10 16v-14l10 18v-15l10 9v-8l10 7v-9l10 11v-9l10 11v-14l10 11v-7l10 9v-10l10 7v-7l10 10v-12l10 9v-6l10 6v-7l10 7v-8l10 12v-11l10 11v-12l10 10v-14l10 13v-14l10 15v-12l10 11v-8l10 8v-10l10 10v-9l10 11v-11l10 9v-7l10 11v-14l10 11v-9l10 9v-9l10 9v-10l10 8v-6l10 6v-6l10 9v-13l10 12v-10l10 9v-7l10 8v-10l10 8v-7l10 10v-13l10 14v-11l10 8v-9l10 10v-10l10 9v-10l10 10v-8l10 8v-9l10 8v-6l10 9v-10l10 12v-16l10 13v-13l10 11v-7l10 10v-9l10 6v-6l10 7v-6l10 6v-6l10 5v-5l10 4v-6l10 6v-5l10 8v-10l10 11v-12l10 9v-8l10 12v-13l10 9v-11l10 15v-11l10 12v-13l10 11v-10l10 11v-10l10 6v-6l10 6v-6l10 8v-12l10 14v-10l10 10v-10l10 6v-9l10 9v-6l10 8v-10l10 8v-7l10 10v-11l10 10v-8l10 6v-7l10 7v-7l10 8v-9l10 11v-9l10 7v-8l10 9v-12l10 12v-9l10 12v-11l10 7v-10l10 10v-9l10 8v-7l10 12v-13l10 11v-11l10 10v-11l10 13v-15l10 13v-9l10 10v-12l10 12v-13l10 13v-12l10 11v-11l10 12v-9l10 7v-10l10 14v-12l10 8v-8l10 8v-9l10 8v-8l10 9v-7l10 9v-10l10 9v-8l10 6v-6l10 9v-9l10 6v-9l10 13v-13l10 11v-8l10 6v-7l10 8v-9l10 13v-13l10 8v-7l10 7v-6l10 6v-9l10 9v-8l10 9v-9l10 10v-11l10 9v-7l10 7v-10l10 12v-12l10 11v-9l10 9v-7l10 6v-9l10 11v-8l10 9v-10l10 8v-7l10 6v-10l10 12v-11l10 9v-7l10 7v-6l10 10v-14l10 10v-9l10 8v-7l10 8v-7l10 10v-11l10 12v-10l10 7v-11l10 12v-12l10 14v-14l10 13v-9l10 6v-7l10 9v-12l10 17v-19l10 16v-14l10 10v-9l10 10v-8l10 11v-12l10 9v-8l10 10v-10l10 10v-10l10 7v-6l10 11v-15l10 14v-13l10 13v-12l10 11v-11l10 8v-6l10 7v-9l10 11v-10l10 7v-10l10 12v-10l10 9v-10l10 12v-11l10 12v-12l10 10v-8l10 10v-12l10 9v-10l10 10v-10l10 9v-9l10 10v-9l10 9v-8l10 8v-7l10 6v-7l10 9v-11l10 11v-8l10 6v-6l10 6v-6l10 9v-10l10 7v-8l10 8v-7l10 8v-10l10 10v-9l10 9v-7l10 10v-11l10 8v-7l10 6v-11l10 12v-8l10 10v-9l10 9v-12l10 10v-9l10 10v-10l10 9v-8l10 8v-8l10 7v-9l10 11v-8l10 6v-8l10 9v-6l10 6v-7l10 7v-8l10 12v-13l10 8v-7l10 8v-11l10 12v-9l10 7v-9l10 10v-9l10 10v-12l10 12v-13l10 14v-9l10 7v-10l10 9v-7l10 9v-12l10 10v-7l10 10v-11l10 9v-8l10 8v-10l10 12v-9l10 10v-11l10 9v-9l10 9v-12l10 13v-11l10 14v-13l10 14v-15l10 10v-8l10 6v-5l10 5v-6l10 8v-12l10 13v-10l10 8v-9l10 14v-15l10 10v-9l10 9v-9l10 11v-11l10 13v-14l10 11v-10l10 8v-6l10 6v-10l10 13v-10l10 10v-9l10 10v-15l10 13v-8l10 9v-9l10 9v-10l10 8v-10l10 9v-7l10 8v-9l10 12v-10l10 6v-8l10 12v-13l10 12v-12l10 9v-10l10 12v-11l10 13v-14l10 15v-16l10 16v-12l10 8v-8l10 12v-12l10 8v-7l10 7v-7l10 8v-12l10 12v-9l10 7v-11l10 14v-11l10 13v-11l10 9v-11l10 9v-11l10 10v-7l10 8v-11l10 10v-6l10 10v-11l10 10v-9l10 10v-13l10 10v-9l10 8v-7l10 9v-10l10 9v-8l10 7v-6l10 10v-11l10 9v-8l10 11v-12l10 8v-8l10 8v-9l10 9v-9l10 9v-8l10 11v-12l10 10v-12l10 10v-6l10 6v-6l10 10v-12l10 9v-8l10 10v-11l10 11v-9l10 6v-8l10 8v-6l10 9v-10l10 7v-7l10 7v-9l10 10v-8l10 11v-13l10 10v-10l10 11v-9l10 8v-11l10 16v-16l10 23v-30l10 21v-13l10 9v-7l10 10v-10l10 10v-9l10 8v-10l10 9v-7l10 9v-12l10 10v-11l10 12v-11l10 10v-7l10 8v-9l10 8v-10l10 10v-7l10 6v-6l10 6v-7l10 7v-6l10 11v-16l10 11v-6l10 8v-9l10 9v-13l10 14v-9l10 6v-10l10 14v-14l10 12v-9l10 7v-6l10 8v-10l10 8v-11l10 14v-10l10 9v-9l10 10v-11l10 12v-10l10 9v-10l10 12v-16l10 16v-14l10 15v-16l10 13v-16l10 16v-13l10 12v-13l10 15v-16l10 14v-8l10 9v-10l10 9v-10l10 9v-9l10 8v-7l10 7v-9l10 9v-6l10 6v-7l10 11v-12l10 10v-10l10 13v-13l10 8v-9l10 12v-10l10 12v-17l10 17v-14l10 18v-26l10 21v-15l10 14v-15l10 16v-16l10 14v-12l10 16v-14l10 9v-12l10 12v-10l10 12v-11l10 13v-15l10 11v-8l10 8v-11l10 15v-14l10 15v-13l10 8v-10l10 9v-6l10 7v-10l10 11v-12l10 10v-10l10 13v-10l10 9v-8l10 6v-7l10 6v-6l10 10v-11l10 7v-4l10 5v-6l10 7v-6l10 5v-9l10 9v-5l10 6v-7l10 7v-8l10 8v-8l10 7v-8l10 9v-7l10 6v-8l10 8v-9l10 10v-9l10 11v-10l10 8v-10l10 11v-9l10 7v-9l10 14v-14l10 9v-7l10 8v-11l10 12v-8l10 6v-8l10 12v-13l10 13v-11l10 7v-6l10 9v-13l10 13v-11l10 10v-10l10 8v-7l10 11v-14l10 10v-8l10 8v-6l10 8v-9l10 7v-6l10 9v-10l10 9v-11l10 12v-11l10 9v-8l10 7v-8l10 11v-10l10 12v-12l10 10v-12l10 10v-10l10 11v-9l10 8v-10l10 11v-12l10 12v-9l10 8v-9l10 10v-11l10 11v-8l10 9v-10l10 14v-20l10 15v-12l10 10v-7l10 8v-8l10 10v-11l10 10v-12l10 11v-10l10 13v-12l10 11v-11l10 10v-10l10 10v-10l10 12v-10l10 10v-10l10 9v-13l10 12v-11l10 10v-8l10 8v-8l10 9v-11l10 10v-11l10 13v-11l10 10v-10l10 9v-7l10 9v-12l10 9v-6l10 8v-8l10 6v-6l10 7v-9l10 8v-5l10 6v-8l10 8v-11l10 10v-8l10 9v-10l10 11v-9l10 7v-9l10 10v-8l10 7v-9l10 9v-7l10 10v-9l10 6v-6l10 6v-8l10 9v-7l10 10v-12l10 8v-10l10 13v-9l10 9v-11l10 11v-10l10 10v-9l10 8v-8l10 8v-13l10 12v-8l10 8v-9l10 11v-13l10 12v-10l10 12v-13l10 9v-11l10 12v-10l10 13v-10l10 9v-9l10 8v-11l10 13v-13l10 13v-12l10 8v-7l10 8v-8l10 9v-9l10 12v-12l10 8v-8l10 8v-10l10 9v-7l10 7v-8l10 9v-12l10 14v-10l10 11v-11l10 12v-13l10 12v-10l10 10v-12l10 11v-11l10 12v-14l10 13v-10l10 10v-11l10 8v-6l10 10v-12l10 12v-11l10 9v-11l10 10v-8l10 12v-12l10 8v-11l10 10v-6l10 7v-11l10 13v-10l10 13v-13l10 8v-7l10 11v-12l10 8v-7l10 8v-10l10 9v-11l10 11v-9l10 10v-9l10 9v-11l10 11v-14l10 17v-12l10 7v-6l10 6v-9l10 13v-11l10 7v-8l10 9v-9l10 11v-9l10 9v-12l10 9v-8l10 8v-7l10 8v-7l10 10v-14l10 10v-6l10 6v-11l10 12v-11l10 13v-9l10 8v-11l10 11v-8l10 9v-12l10 10v-8l10 11v-11l10 10v-10l10 9v-9l10 8v-7l10 8v-8l10 6v-6l10 6v-7l10 12v-11l10 6v-8l10 9v-8l10 11v-11l10 11v-15l10 13v-9l10 7v-7l10 10v-14l10 12v-9l10 9v-9l10 10v-8l10 6v-9l10 12v-12l10 12v-12l10 13v-11l10 7v-8l10 11v-12l10 11v-10l10 12v-11l10 9v-8l10 6v-6l10 7v-7l10 8v-8l10 8v-8l10 8v-11l10 11v-8l10 9v-10l10 8v-8l10 10v-9l10 6v-7l10 9v-11l10 11v-9l10 12v-12l10 8v-7l10 9v-9l10 5v-5l10 9v-9l10 9v-9l10 9v-10l10 9v-12l10 10v-10l10 10v-11l10 12v-10l10 10v-11l10 14v-12l10 11v-13l10 12v-10l10 10v-8l10 6v-6l10 9v-10l10 8v-8l10 8v-7l10 6v-6l10 8v-11l10 9v-10l10 14v-14l10 15v-12l10 12v-12l10 10v-14l10 13v-8l10 7v-9l10 12v-14l10 15v-12l10 9v-9l10 9v-8l10 9v-10l10 11v-15l10 15v-10l10 8v-9l10 10v-10l10 7v-6l10 9v-12l10 12v-12l10 9v-6l10 6v-8l10 11v-12l10 9v-9l10 12v-11l10 8v-7l10 9v-8l10 10v-13l10 13v-13l10 11v-11l10 13v-14l10 15v-13l10 11v-9l10 11v-14l10 9v-6l10 6v-7l10 8v-9l10 11v-9l10 7v-9l10 9v-8l10 7v-7l10 9v-11l10 10v-8l10 7v-6l10 6v-8l10 11v-11l10 11v-13l10 10v-10l10 14v-10l10 7v-9l10 10v-9l10 10v-13l10 14v-11l10 9v-9l10 9v-13l10 17v-18l10 16v-13l10 10v-10l10 14v-11l10 9v-10l10 7v-7l10 7v-7l10 8v-8l10 9v-11l10 13v-13l10 9v-8l10 12v-11l10 8v-11l10 11v-10l10 14v-15l10 13v-9l10 7v-11l10 11v-9l10 8v-6l10 11v-12l10 9v-12l10 11v-7l10 11v-13l10 8v-8l10 9v-7l10 6v-6l10 6v-9l10 9v-9l10 10v-10l10 11v-11l10 12v-10l10 8v-11l10 12v-10"/><use href="#t4" transform="translate(5,0) scale(1,-.85)"/><path d="M100 13v-28M530 10v-18M1510 9v-19M1610 10v-21M2290 9v-18M2360 11v-22M3090 9v-19l10 44v-65l10 41v-19M3470 14v-29M3650 19v-39l10 33v-26M4400 11v-22"/></g>
<g stroke="#00f" transform="translate(111.5,105.40) scale(0.1)"><path id="t5" d="M0 3v-7l10 9v-10l10 8v-5l10 5v-5l10 6v-6l10 4v-5l10 6v-6l10 8v-8l10 5v-7l10 8v-5l10 5v-8l10 8v-9l10 9v-10l10 10v-8l10 8v-5l10 7v-10l10 8v-7l10 9v-8l10 6v-9l10 9v-6l10 7v-8l10 8v-7l10 5v-6l10 6v-7l10 10v-9l10 6v-7l10 9v-8l10 7v-7l10 10v-8l10 6v-8l10 6v-7l10 8v-6l10 6v-8l10 9v-9l10 11v-10l10 9v-11l10 11v-10l10 7v-5l10 6v-6l10 5v-4l10 6v-10l10 11v-8l10 8v-9l10 8v-8l10 7v-6l10 7v-7l10 6v-8l10 8v-9l10 9v-8l10 9v-10l10 10v-9l10 9v-6l10 8v-11l10 8v-7l10 7v-6l10 8v-9l10 10v-12l10 10v-8l10 9v-8l10 6v-8l10 8v-10l10 11v-10l10 13v-11l10 10v-10l10 6v-6l10 10v-13l10 10v-8l10 10v-10l10 8v-9l10 10v-10l10 10v-7l10 9v-13l10 10v-7l10 9v-8l10 7v-8l10 7v-6l10 7v-6l10 6v-10l10 10v-9l10 9v-8l10 8v-9l10 9v-6l10 8v-12l10 10v-9l10 8v-9l10 11v-9l10 9v-8l10 6v-8l10 9v-9l10 8v-11l10 14v-11l10 11v-11l10 8v-7l10 6v-7l10 9v-6l10 6v-8l10 8v-9l10 7v-7l10 11v-10l10 8v-9l10 10v-10l10 8v-10l10 14v-11l10 10v-13l10 11v-7l10 9v-9l10 7v-7l10 5v-5l10 5v-4l10 6v-6l10 6v-7l10 5v-4l10 5v-7l10 6v-6l10 6v-7l10 9v-6l10 4v-4l10 5v-7l10 8v-7l10 5v-7l10 8v-6l10 7v-7l10 7v-7l10 6v-7l10 7v-8l10 10v-8l10 7v-9l10 8v-6l10 7v-8l10 6v-4l10 5v-8l10 9v-10l10 12v-8l10 5v-6l10 8v-8l10 9v-9l10 8v-11l10 9v-9l10 12v-12l10 12v-9l10 7v-9l10 8v-5l10 5v-6l10 7v-9l10 10v-9l10 7v-6l10 7v-6l10 4v-5l10 6v-8l10 10v-9l10 7v-7l10 8v-7l10 5v-7l10 9v-6l10 4v-6l10 6v-5l10 11v-16l10 16v-15l10 12v-10l10 8v-7l10 10v-10l10 8v-9l10 8v-6l10 6v-9l10 12v-11l10 10v-8l10 6v-7l10 8v-10l10 9v-7l10 7v-9l10 12v-11l10 9v-8l10 10v-12l10 10v-9l10 8v-9l10 9v-7l10 8v-11l10 10v-8l10 11v-10l10 7v-10l10 10v-6l10 6v-7l10 9v-10l10 9v-7l10 9v-11l10 10v-10l10 8v-9l10 10v-8l10 6v-7l10 9v-9l10 8v-7l10 7v-8l10 7v-6l10 8v-10l10 8v-4l10 7v-9l10 7v-7l10 9v-8l10 6v-6l10 6v-7l10 8v-7l10 7v-8l10 8v-7l10 8v-11l10 9v-6l10 8v-8l10 8v-10l10 7v-8l10 12v-9l10 7v-9l10 8v-9l10 10v-7l10 8v-8l10 9v-10l10 7v-7l10 7v-7l10 8v-11l10 13v-11l10 8v-10l10 12v-11l10 12v-12l10 9v-6l10 10v-14l10 10v-8l10 11v-11l10 8v-9l10 11v-9l10 7v-6l10 6v-6l10 7v-10l10 12v-9l10 5v-4l10 5v-7l10 7v-8l10 7v-7l10 10v-11l10 10v-8l10 7v-7l10 8v-7l10 6v-9l10 9v-7l10 9v-8l10 6v-7l10 9v-8l10 6v-6l10 6v-6l10 5v-5l10 6v-6l10 6v-6l10 6v-8l10 8v-8l10 7v-7l10 8v-8l10 8v-10l10 12v-8l10 8v-10l10 8v-7l10 8v-8l10 8v-7l10 8v-9l10 6v-5l10 5v-5l10 6v-7l10 9v-8l10 9v-10l10 6v-4l10 6v-8l10 7v-6l10 8v-8l10 9v-9l10 6v-8l10 10v-11l10 10v-10l10 12v-11l10 9v-9l10 10v-10l10 11v-12l10 9v-9l10 11v-10l10 10v-8l10 7v-8l10 9v-10l10 11v-13l10 10v-6l10 8v-9l10 9v-8l10 7v-7l10 6v-8l10 11v-13l10 12v-9l10 7v-10l10 11v-9l10 9v-10l10 10v-7l10 7v-7l10 6v-8l10 10v-7l10 6v-7l10 7v-8l10 10v-11l10 9v-7l10 6v-8l10 12v-10l10 8v-10l10 10v-9l10 8v-8l10 8v-7l10 9v-11l10 11v-8l10 7v-8l10 7v-10l10 12v-10l10 8v-8l10 8v-8l10 10v-10l10 8v-10l10 9v-6l10 8v-9l10 8v-10l10 11v-8l10 8v-10l10 11v-9l10 6v-8l10 7v-6l10 7v-5l10 6v-10l10 12v-9l10 10v-13l10 9v-6l10 6v-8l10 9v-10l10 11v-8l10 6v-7l10 7v-5l10 5v-5l10 5v-8l10 8v-6l10 8v-9l10 7v-8l10 9v-8l10 7v-7l10 7v-9l10 11v-9l10 9v-9l10 9v-10l10 9v-10l10 11v-8l10 9v-11l10 8v-8l10 8v-7l10 8v-9l10 7v-5l10 7v-7l10 5v-5l10 6v-6l10 5v-5l10 9v-8l10 4v-5l10 6v-8l10 8v-10l10 11v-7l10 6v-7l10 10v-9l10 5v-6l10 8v-8l10 8v-9l10 8v-7l10 9v-9l10 7v-7l10 8v-6l10 6v-6l10 4v-4l10 6v-8l10 10v-9l10 7v-9l10 10v-11l10 10v-7l10 6v-10l10 11v-7l10 6v-9l10 12v-9l10 9v-10l10 10v-10l10 6v-5l10 5v-6l10 7v-9l10 10v-10l10 10v-6l10 6v-7l10 6v-8l10 8v-6l10 10v-13l10 14v-13l10 9v-7l10 10v-11l10 10v-11l10 9v-9l10 10v-10l10 11v-10l10 8v-7l10 5v-5l10 6v-8l10 8v-6l10 9v-9l10 6v-9l10 13v-10l10 5v-5l10 6v-8l10 9v-8l10 7v-5l10 7v-8l10 8v-11l10 9v-6l10 5v-5l10 5v-5l10 7v-9l10 8v-8l10 7v-4l10 5v-9l10 9v-8l10 8v-6l10 7v-9l10 11v-12l10 13v-11l10 7v-7l10 7v-6l10 7v-7l10 7v-8l10 8v-10l10 9v-8l10 11v-9l10 6v-10l10 13v-12l10 11v-10l10 8v-6l10 6v-5l10 5v-5l10 4v-5l10 7v-7l10 6v-5l10 5v-9l10 9v-9l10 10v-7l10 6v-6l10 7v-10l10 10v-9l10 10v-7l10 7v-8l10 7v-8l10 8v-9l10 8v-9l10 11v-7l10 8v-10l10 7v-7l10 7v-9l10 10v-8l10 9v-10l10 10v-9l10 9v-9l10 8v-6l10 7v-8l10 5v-4l10 7v-9l10 8v-7l10 7v-7l10 6v-6l10 9v-11l10 9v-6l10 7v-11l10 9v-6l10 10v-12l10 8v-9l10 11v-9l10 10v-10l10 9v-7l10 6v-7l10 8v-8l10 6v-8l10 9v-8l10 10v-9l10 6v-5l10 5v-5l10 7v-10l10 11v-9l10 9v-9l10 9v-10l10 9v-8l10 7v-10l10 9v-6l10 7v-9l10 8v-7l10 7v-6l10 6v-9l10 12v-10l10 10v-9l10 6v-7l10 6v-8l10 8v-5l10 5v-5l10 5v-4l10 7v-8l10 5v-7l10 9v-8l10 7v-6l10 6v-6l10 7v-9l10 9v-7l10 7v-9l10 8v-6l10 10v-12l10 9v-9l10 8v-8l10 10v-8l10 7v-7l10 6v-8l10 9v-7l10 6v-6l10 7v-8l10 9v-8l10 8v-8l10 9v-9l10 7v-9l10 11v-10l10 7v-6l10 8v-10l10 9v-7l10 6v-10l10 9v-6l10 7v-7l10 6v-5l10 10v-10l10 7v-10l10 9v-9l10 10v-9l10 9v-7l10 8v-9l10 7v-7l10 7v-9l10 11v-8l10 6v-7l10 7v-8l10 8v-6l10 9v-11l10 8v-9l10 11v-9l10 7v-8l10 8v-9l10 8v-5l10 7v-7l10 6v-7l10 9v-8l10 8v-10l10 11v-10l10 8v-8l10 9v-11l10 9v-7l10 7v-9l10 10v-10l10 9v-8l10 11v-12l10 9v-6l10 6v-6l10 7v-10l10 12v-9l10 7v-8l10 7v-8l10 8v-7l10 9v-11l10 11v-8l10 6v-5l10 5v-8l10 7v-5l10 6v-6l10 6v-7l10 8v-7l10 9v-10l10 8v-11l10 13v-9l10 7v-7l10 9v-10l10 7v-7l10 9v-10l10 11v-9l10 5v-5l10 8v-8l10 7v-9l10 8v-5l10 7v-10l10 8v-8l10 10v-8l10 9v-11l10 7v-5l10 5v-5l10 7v-8l10 9v-9l10 7v-6l10 7v-7l10 9v-10l10 8v-7l10 7v-7l10 7v-7l10 7v-7l10 6v-7l10 7v-5l10 4v-8l10 9v-8l10 10v-11l10 9v-6l10 8v-10l10 9v-8l10 10v-9l10 10v-13l10 10v-9l10 8v-7l10 7v-8l10 8v-7l10 9v-8l10 7v-9l10 8v-6l10 8v-11l10 10v-7l10 6v-6l10 6v-6l10 6v-6l10 7v-8l10 9v-8l10 6v-6l10 8v-8l10 5v-5l10 5v-6l10 6v-6l10 7v-6l10 7v-6l10 4v-5l10 8v-9l10 7v-9l10 11v-12l10 12v-10l10 10v-10l10 7v-4l10 5v-6l10 8v-9l10 8v-10l10 12v-11l10 8v-8l10 10v-12l10 12v-10l10 11v-11l10 10v-10l10 8v-6l10 9v-9l10 8v-10l10 8v-8l10 10v-9l10 10v-13l10 13v-9l10 6v-6l10 8v-8l10 6v-6l10 7v-7l10 6v-7l10 10v-9l10 6v-8l10 7v-5l10 7v-7l10 7v-6l10 5v-5l10 4v-5l10 7v-8l10 7v-5l10 5v-7l10 8v-7l10 6v-8l10 8v-7l10 7v-6l10 6v-8l10 10v-10l10 8v-8l10 11v-12l10 12v-9l10 8v-12l10 12v-8l10 9v-11l10 9v-9l10 9v-7l10 8v-9l10 7v-9l10 9v-7l10 7v-7l10 8v-9l10 10v-8l10 7v-8l10 8v-9l10 7v-4l10 5v-8l10 8v-6l10 6v-7l10 7v-6l10 7v-11l10 10v-5l10 7v-9l10 8v-8l10 11v-13l10 10v-9l10 8v-7l10 8v-7l10 10v-11"/><use href="#t5" transform="translate(5,0) scale(1,-.85)"/><path d="M900 8v-16M990 8v-16M1570 16v-31M7010 10v-19"/></g>
<g stroke="#f00" transform="translate(111.5,117.57) scale(0.1)"><path id="t6" d="M0 4v-9l10 10v-10l10 8v-6l10 6v-7l10 7v-6l10 7v-10l10 11v-8l10 6v-8l10 9v-8l10 9v-10l10 10v-8l10 5v-6l10 7v-6l10 9v-10l10 7v-7l10 8v-7l10 9v-13l10 13v-8l10 5v-6l10 8v-8l10 6v-8l10 8v-6l10 7v-6l10 7v-8l10 7v-9l10 9v-7l10 5v-4l10 5v-6l10 6v-6l10 6v-7l10 9v-10l10 9v-6l10 5v-5l10 4v-4l10 5v-6l10 6v-7l10 9v-7l10 4v-4l10 6v-8l10 8v-7l10 7v-7l10 8v-8l10 5v-5l10 5v-4l10 6v-7l10 8v-8l10 8v-10l10 8v-8l10 7v-6l10 8v-9l10 7v-8l10 9v-6l10 6v-6l10 5v-7l10 10v-10l10 7v-5l10 7v-10l10 8v-4l10 7v-11l10 11v-11l10 10v-6l10 8v-8l10 8v-10l10 7v-6l10 6v-5l10 5v-7l10 9v-8l10 7v-12l10 13v-9l10 9v-11l10 9v-6l10 6v-7l10 8v-7l10 7v-6l10 6v-9l10 9v-9l10 8v-7l10 10v-9l10 7v-6l10 4v-7l10 10v-8l10 8v-10l10 9v-8l10 7v-9l10 10v-9l10 7v-8l10 9v-6l10 6v-6l10 8v-9l10 10v-11l10 8v-6l10 6v-9l10 10v-10l10 13v-13l10 12v-12l10 8v-5l10 6v-9l10 13v-10l10 7v-10l10 12v-9l10 10v-10l10 9v-13l10 11v-8l10 8v-8l10 9v-10l10 10v-9l10 8v-8l10 8v-7l10 5v-4l10 6v-9l10 9v-8l10 6v-4l10 7v-7l10 6v-10l10 10v-7l10 6v-5l10 5v-6l10 5v-6l10 8v-6l10 4v-6l10 6v-4l10 7v-8l10 9v-9l10 8v-8l10 7v-7l10 8v-7l10 5v-5l10 6v-6l10 5v-6l10 6v-5l10 8v-11l10 7v-6l10 6v-4l10 7v-8l10 6v-8l10 11v-8l10 6v-8l10 7v-9l10 9v-5l10 5v-5l10 5v-5l10 4v-6l10 7v-6l10 6v-6l10 8v-10l10 7v-6l10 7v-5l10 7v-10l10 7v-4l10 5v-7l10 7v-5l10 6v-6l10 5v-7l10 7v-9l10 10v-9l10 10v-9l10 8v-9l10 9v-6l10 4v-6l10 8v-8l10 8v-7l10 8v-10l10 8v-6l10 7v-7l10 7v-7l10 6v-9l10 10v-8l10 9v-10l10 8v-5l10 7v-8l10 7v-7l10 7v-8l10 6v-4l10 4v-5l10 8v-9l10 6v-4l10 5v-8l10 9v-7l10 5v-6l10 7v-5l10 5v-6l10 9v-11l10 9v-7l10 9v-11l10 8v-7l10 9v-8l10 10v-13l10 9v-9l10 12v-12l10 11v-8l10 6v-6l10 8v-8l10 6v-7l10 10v-13l10 12v-8l10 6v-5l10 6v-7l10 8v-8l10 6v-6l10 7v-7l10 6v-7l10 9v-8l10 6v-8l10 11v-9l10 8v-7l10 7v-8l10 6v-6l10 8v-8l10 8v-11l10 10v-9l10 8v-6l10 9v-11l10 12v-12l10 10v-9l10 8v-9l10 11v-9l10 7v-10l10 12v-11l10 8v-9l10 8v-7l10 8v-6l10 6v-7l10 7v-6l10 6v-7l10 7v-9l10 11v-12l10 10v-8l10 9v-7l10 8v-8l10 6v-7l10 6v-7l10 9v-6l10 6v-8l10 6v-6l10 6v-8l10 10v-7l10 6v-8l10 9v-6l10 7v-10l10 8v-8l10 8v-8l10 10v-9l10 9v-8l10 8v-8l10 7v-8l10 9v-9l10 7v-7l10 9v-9l10 6v-7l10 7v-5l10 7v-8l10 6v-7l10 8v-5l10 5v-6l10 6v-6l10 7v-8l10 9v-7l10 6v-8l10 7v-5l10 4v-7l10 9v-7l10 8v-7l10 5v-7l10 8v-9l10 9v-8l10 8v-7l10 7v-10l10 9v-10l10 11v-8l10 10v-8l10 6v-9l10 10v-10l10 10v-10l10 10v-7l10 6v-9l10 9v-8l10 8v-7l10 7v-7l10 6v-5l10 8v-10l10 9v-8l10 7v-9l10 8v-6l10 7v-7l10 6v-6l10 6v-6l10 8v-11l10 9v-6l10 7v-7l10 7v-9l10 8v-8l10 10v-11l10 9v-7l10 7v-7l10 6v-7l10 10v-7l10 5v-6l10 5v-5l10 7v-8l10 6v-6l10 9v-9l10 7v-6l10 8v-9l10 9v-8l10 6v-5l10 5v-5l10 4v-7l10 11v-10l10 10v-9l10 5v-6l10 7v-6l10 5v-5l10 8v-10l10 9v-7l10 6v-9l10 9v-6l10 6v-6l10 5v-5l10 6v-6l10 5v-7l10 9v-10l10 9v-8l10 8v-5l10 5v-6l10 7v-9l10 7v-4l10 7v-10l10 9v-6l10 5v-6l10 6v-6l10 6v-9l10 8v-8l10 11v-9l10 9v-8l10 7v-7l10 5v-6l10 7v-8l10 9v-7l10 5v-5l10 6v-6l10 9v-11l10 9v-9l10 10v-8l10 9v-8l10 4v-4l10 6v-6l10 7v-7l10 5v-6l10 5v-6l10 7v-8l10 7v-6l10 9v-8l10 8v-8l10 5v-7l10 7v-4l10 5v-5l10 6v-9l10 9v-8l10 7v-7l10 7v-7l10 6v-5l10 8v-11l10 9v-8l10 11v-9l10 6v-6l10 7v-8l10 9v-10l10 10v-9l10 7v-7l10 8v-6l10 6v-7l10 6v-7l10 8v-9l10 9v-7l10 6v-9l10 12v-9l10 9v-10l10 7v-6l10 6v-5l10 4v-4l10 7v-9l10 9v-7l10 5v-6l10 6v-8l10 8v-6l10 8v-8l10 7v-7l10 6v-8l10 7v-7l10 8v-5l10 8v-10l10 7v-8l10 7v-5l10 6v-7l10 7v-9l10 11v-12l10 11v-10l10 9v-7l10 7v-8l10 10v-10l10 8v-7l10 6v-7l10 8v-6l10 5v-4l10 5v-5l10 5v-8l10 8v-6l10 5v-6l10 8v-8l10 9v-8l10 8v-10l10 7v-6l10 7v-8l10 7v-4l10 7v-9l10 8v-10l10 9v-7l10 9v-9l10 10v-10l10 9v-8l10 6v-5l10 6v-7l10 6v-7l10 8v-7l10 7v-7l10 5v-7l10 8v-9l10 11v-7l10 5v-7l10 7v-8l10 8v-9l10 11v-7l10 7v-11l10 11v-8l10 6v-7l10 8v-6l10 7v-8l10 7v-9l10 10v-8l10 5v-6l10 9v-9l10 7v-7l10 9v-7l10 6v-6l10 5v-6l10 8v-8l10 6v-9l10 8v-6l10 8v-8l10 7v-8l10 9v-10l10 12v-10l10 10v-12l10 11v-10l10 10v-7l10 6v-7l10 6v-6l10 8v-9l10 7v-6l10 5v-5l10 6v-9l10 12v-11l10 11v-9l10 9v-12l10 10v-9l10 10v-10l10 9v-6l10 5v-5l10 6v-7l10 9v-11l10 7v-4l10 7v-11l10 9v-8l10 10v-11l10 8v-4l10 5v-6l10 6v-6l10 8v-11l10 11v-9l10 7v-6l10 6v-7l10 10v-9l10 6v-7l10 7v-7l10 7v-5l10 7v-11l10 9v-9l10 11v-8l10 7v-8l10 10v-8l10 6v-8l10 9v-8l10 7v-7l10 8v-7l10 7v-8l10 7v-8l10 8v-9l10 9v-7l10 8v-7l10 4v-6l10 9v-11l10 8v-4l10 4v-6l10 8v-6l10 4v-4l10 4v-5l10 7v-7l10 7v-7l10 6v-8l10 11v-9l10 6v-6l10 5v-5l10 6v-7l10 9v-10l10 8v-6l10 7v-6l10 7v-10l10 9v-9l10 7v-6l10 7v-6l10 5v-5l10 6v-7l10 6v-5l10 6v-7l10 9v-10l10 9v-6l10 5v-7l10 8v-7l10 8v-10l10 8v-7l10 8v-10l10 10v-10l10 11v-11l10 12v-9l10 6v-5l10 7v-8l10 7v-6l10 5v-6l10 6v-8l10 7v-6l10 7v-8l10 8v-8l10 10v-11l10 9v-8l10 11v-12l10 11v-9l10 9v-8l10 7v-8l10 8v-7l10 9v-10l10 10v-11l10 10v-7l10 4v-4l10 5v-9l10 10v-10l10 10v-7l10 8v-11l10 8v-5l10 6v-9l10 9v-7l10 7v-9l10 9v-8l10 8v-9l10 11v-9l10 7v-7l10 9v-10l10 8v-6l10 6v-7l10 7v-7l10 8v-7l10 8v-8l10 8v-9l10 7v-6l10 9v-12l10 9v-7l10 7v-6l10 7v-9l10 11v-8l10 6v-10l10 11v-7l10 4v-6l10 9v-7l10 7v-8l10 5v-5l10 8v-8l10 5v-5l10 7v-8l10 8v-7l10 8v-9l10 7v-6l10 8v-10l10 11v-11l10 11v-9l10 6v-9l10 12v-13l10 11v-8l10 8v-7l10 8v-8l10 5v-7l10 8v-7l10 7v-7l10 7v-6l10 9v-8l10 5v-7l10 7v-10l10 10v-6l10 6v-6l10 6v-9l10 9v-8l10 8v-6l10 7v-6l10 7v-9l10 8v-6l10 4v-5l10 7v-8l10 7v-6l10 5v-4l10 6v-7l10 7v-7l10 8v-10l10 7v-7l10 10v-7l10 5v-5l10 5v-5l10 6v-9l10 10v-10l10 9v-7l10 7v-7l10 5v-6l10 7v-5l10 6v-6l10 4v-8l10 11v-10l10 9v-10l10 9v-8l10 8v-6l10 9v-12l10 11v-8l10 5v-7l10 8v-7l10 7v-8l10 10v-8l10 9v-10l10 8v-6l10 5v-6l10 6v-6l10 9v-11l10 8v-6l10 6v-8l10 8v-6l10 7v-7l10 6v-7l10 7v-7l10 8v-7l10 6v-6l10 6v-6l10 7v-6l10 7v-9l10 6v-5l10 9v-11l10 9v-8l10 10v-11l10 8v-8l10 9v-9l10 10v-11l10 9v-9l10 9v-9l10 12v-11l10 9v-7l10 7v-8l10 9v-8l10 8v-9l10 10v-8l10 6v-7l10 8v-8l10 7v-9l10 9v-9l10 8v-6l10 7v-9l10 12v-11l10 9v-10l10 8v-6l10 6v-8l10 9v-8l10 7v-5l10 6v-6l10 7v-10l10 10v-10l10 8v-7l10 10v-9l10 9v-9l10 5v-5l10 6v-7l10 7v-7l10 6v-4l10 6v-7l10 5v-7l10 10v-8l10 6v-6l10 6v-8l10 9v-6l10 5v-8l10 11v-9l10 9v-9l10 9v-12l10 10v-7l10 6v-9"/><use href="#t6" transform="translate(5,0) scale(1,-.85)"/><path d="M680 7v-15"/></g>
<g stroke="#00f" transform="translate(111.5,129.74) scale(0.1)"><path id="t7" d="M0 7v-10l10 6v-6l10 6v-6l10 6v-8l10 9v-8l10 8v-8l10 10v-12l10 9v-8l10 10v-8l10 8v-11l10 9v-9l10 10v-10l10 10v-7l10 8v-9l10 7v-9l10 11v-8l10 9v-10l10 8v-10l10 13v-14l10 13v-11l10 11v-11l10 10v-9l10 8v-9l10 8v-6l10 8v-11l10 10v-9l10 11v-14l10 11v-8l10 10v-9l10 8v-12l10 14v-11l10 12v-14l10 13v-10l10 8v-12l10 13v-12l10 14v-13l10 10v-7l10 7v-8l10 7v-7l10 7v-10l10 11v-7l10 8v-9l10 7v-6l10 10v-11l10 11v-13l10 10v-9l10 8v-9l10 12v-10l10 10v-12l10 13v-12l10 9v-10l10 9v-9l10 12v-12l10 10v-7l10 7v-8l10 8v-8l10 8v-9l10 9v-8l10 9v-8l10 9v-11l10 9v-9l10 9v-12l10 11v-10l10 10v-10l10 12v-8l10 8v-12l10 14v-12l10 9v-7l10 8v-10l10 10v-9l10 11v-13l10 13v-10l10 6v-6l10 8v-8l10 7v-7l10 9v-9l10 7v-6l10 5v-5l10 4v-7l10 7v-4l10 4v-8l10 9v-9l10 9v-6l10 6v-8l10 8v-7l10 7v-7l10 7v-9l10 10v-10l10 10v-8l10 10v-10l10 11v-11l10 9v-9l10 10v-10l10 9v-8l10 7v-10l10 10v-10l10 9v-6l10 7v-11l10 12v-12l10 11v-8l10 11v-10l10 6v-9l10 14v-14l10 12v-13l10 10v-8l10 10v-8l10 9v-10l10 9v-8l10 6v-8l10 9v-7l10 8v-10l10 8v-9l10 9v-6l10 6v-10l10 13v-9l10 6v-8l10 9v-7l10 10v-14l10 10v-7l10 7v-7l10 9v-10l10 8v-7l10 8v-7l10 10v-12l10 13v-15l10 12v-9l10 7v-9l10 12v-11l10 12v-11l10 8v-8l10 7v-7l10 10v-11l10 13v-13l10 9v-11l10 13v-14l10 16v-14l10 10v-8l10 8v-7l10 7v-9l10 10v-10l10 10v-10l10 12v-10l10 9v-12l10 11v-12l10 13v-13l10 12v-12l10 11v-7l10 8v-10l10 11v-12l10 9v-8l10 10v-9l10 7v-8l10 8v-9l10 10v-11l10 12v-12l10 16v-16l10 11v-8l10 7v-10l10 13v-8l10 7v-8l10 9v-11l10 11v-10l10 8v-7l10 6v-7l10 9v-8l10 6v-8l10 9v-10l10 9v-6l10 6v-6l10 6v-9l10 11v-11l10 9v-10l10 10v-6l10 8v-8l10 8v-10l10 7v-4l10 5v-6l10 9v-10l10 7v-6l10 8v-12l10 15v-13l10 8v-9l10 10v-7l10 5v-6l10 8v-6l10 6v-8l10 9v-10l10 8v-7l10 7v-7l10 9v-7l10 4v-5l10 9v-10l10 7v-6l10 6v-9l10 9v-6l10 6v-8l10 10v-9l10 9v-11l10 12v-11l10 8v-9l10 11v-8l10 7v-7l10 6v-8l10 9v-7l10 6v-10l10 14v-14l10 13v-11l10 11v-11l10 10v-8l10 8v-10l10 9v-7l10 8v-11l10 13v-12l10 10v-8l10 10v-14l10 11v-11l10 12v-9l10 11v-10l10 8v-12l10 13v-12l10 13v-13l10 12v-11l10 9v-9l10 11v-10l10 10v-11l10 8v-7l10 9v-8l10 9v-11l10 9v-9l10 8v-7l10 10v-12l10 9v-7l10 10v-10l10 10v-10l10 8v-8l10 8v-9l10 10v-11l10 12v-10l10 11v-14l10 12v-10l10 8v-6l10 9v-10l10 8v-11l10 12v-10l10 10v-8l10 7v-10l10 10v-8l10 9v-11l10 12v-11l10 12v-13l10 13v-13l10 9v-7l10 7v-6l10 9v-10l10 8v-7l10 6v-7l10 7v-7l10 10v-9l10 8v-9l10 8v-7l10 6v-6l10 7v-8l10 9v-15l10 14v-10l10 12v-10l10 7v-8l10 9v-7l10 6v-6l10 8v-8l10 7v-9l10 8v-6l10 7v-9l10 10v-9l10 8v-7l10 7v-7l10 9v-12l10 11v-8l10 6v-6l10 7v-11l10 13v-11l10 10v-12l10 13v-8l10 7v-8l10 9v-9l10 8v-11l10 8v-6l10 8v-7l10 7v-7l10 7v-8l10 8v-9l10 8v-6l10 8v-10l10 8v-8l10 9v-6l10 4v-5l10 7v-9l10 8v-9l10 11v-9l10 8v-9l10 11v-13l10 13v-12l10 11v-12l10 14v-11l10 8v-9l10 10v-8l10 6v-7l10 8v-8l10 8v-10l10 13v-12l10 11v-11l10 9v-11l10 11v-8l10 7v-7l10 7v-7l10 11v-13l10 13v-12l10 8v-5l10 7v-10l10 12v-12l10 13v-12l10 8v-11l10 11v-8l10 7v-7l10 9v-8l10 8v-11l10 12v-12l10 12v-10l10 7v-9l10 10v-8l10 10v-9l10 7v-7l10 5v-5l10 7v-10l10 9v-6l10 7v-10l10 10v-9l10 11v-9l10 7v-8l10 7v-8l10 10v-12l10 10v-10l10 10v-6l10 5v-7l10 11v-12l10 12v-12l10 12v-9l10 9v-9l10 8v-8l10 5v-5l10 8v-11l10 12v-12l10 10v-9l10 12v-11l10 9v-11l10 10v-6l10 6v-6l10 7v-8l10 6v-5l10 5v-6l10 6v-6l10 5v-5l10 8v-8l10 9v-9l10 8v-10l10 8v-6l10 9v-11l10 8v-6l10 7v-8l10 8v-10l10 9v-9l10 13v-12l10 8v-6l10 5v-4l10 6v-7l10 6v-5l10 5v-7l10 10v-10l10 8v-10l10 8v-6l10 6v-6l10 9v-7l10 6v-7l10 7v-9l10 9v-10l10 9v-10l10 11v-7l10 9v-10l10 7v-8l10 9v-7l10 8v-9l10 10v-10l10 11v-11l10 9v-8l10 7v-9l10 10v-9l10 7v-7l10 7v-7l10 7v-7l10 7v-6l10 10v-12l10 9v-10l10 10v-11l10 11v-9l10 9v-8l10 9v-13l10 13v-8l10 11v-12l10 11v-13l10 10v-7l10 6v-7l10 8v-10l10 12v-9l10 7v-8l10 7v-8l10 11v-10l10 11v-11l10 10v-11l10 9v-11l10 12v-8l10 6v-8l10 8v-6l10 9v-9l10 6v-6l10 6v-8l10 8v-6l10 6v-6l10 7v-9l10 11v-10l10 9v-11l10 9v-7l10 10v-13l10 13v-11l10 8v-7l10 7v-10l10 10v-9l10 9v-6l10 6v-6l10 6v-9l10 9v-9l10 10v-7l10 9v-11l10 10v-9l10 8v-6l10 7v-9l10 7v-7l10 7v-5l10 7v-8l10 5v-7l10 11v-10l10 10v-12l10 9v-7l10 9v-10l10 8v-5l10 8v-9l10 9v-10l10 7v-10l10 11v-9l10 11v-8l10 5v-9l10 13v-10l10 8v-10l10 10v-8l10 9v-9l10 5v-6l10 7v-5l10 5v-6l10 6v-6l10 6v-5l10 7v-11l10 12v-10l10 10v-11l10 9v-9l10 9v-11l10 11v-8l10 8v-7l10 6v-10l10 12v-8l10 8v-9l10 7v-7l10 8v-10l10 13v-10l10 7v-7l10 10v-13l10 9v-8l10 9v-10l10 13v-10l10 6v-9l10 13v-14l10 12v-8l10 8v-9l10 9v-11l10 11v-8l10 9v-9l10 6v-6l10 6v-7l10 7v-7l10 7v-7l10 7v-7l10 7v-9l10 9v-6l10 7v-10l10 9v-7l10 10v-11l10 7v-6l10 8v-8l10 9v-8l10 7v-10l10 10v-7l10 9v-10l10 8v-13l10 20v-16l10 12v-14l10 12v-10l10 8v-7l10 7v-8l10 8v-7l10 7v-9l10 9v-9l10 13v-10l10 8v-10l10 7v-5l10 6v-6l10 6v-7l10 6v-6l10 7v-6l10 6v-7l10 9v-8l10 8v-8l10 9v-9l10 7v-7l10 7v-8l10 8v-7l10 6v-6l10 6v-6l10 7v-7l10 6v-6l10 6v-8l10 12v-11l10 7v-6l10 10v-13l10 10v-10l10 11v-8l10 8v-11l10 10v-7l10 7v-8l10 9v-8l10 6v-7l10 6v-8l10 10v-7l10 6v-6l10 6v-9l10 9v-6l10 6v-6l10 10v-11l10 10v-11l10 9v-8l10 10v-13l10 11v-10l10 11v-10l10 11v-11l10 9v-7l10 8v-10l10 10v-10l10 11v-9l10 8v-8l10 8v-10l10 11v-11l10 9v-8l10 13v-16l10 12v-11l10 13v-10l10 6v-6l10 6v-6l10 7v-7l10 6v-6l10 7v-7l10 5v-4l10 5v-6l10 6v-7l10 9v-8l10 8v-10l10 11v-10l10 10v-9l10 6v-10l10 10v-6l10 6v-6l10 9v-9l10 9v-11l10 11v-10l10 10v-18l10 15v-8l10 9v-9l10 8v-5l10 7v-9l10 9v-8l10 8v-9l10 9v-9l10 7v-6l10 6v-9l10 12v-10l10 6v-5l10 8v-10l10 9v-7l10 8v-8l10 7v-11l10 14v-12l10 11v-13l10 12v-11l10 9v-6l10 10v-11l10 7v-8l10 8v-9l10 12v-12l10 9v-11l10 11v-6l10 8v-10l10 9v-7l10 6v-6l10 7v-10l10 10v-9l10 12v-10l10 6v-9l10 9v-7l10 9v-8l10 6v-6l10 9v-13l10 12v-10l10 8v-9l10 12v-10l10 9v-12l10 11v-7l10 8v-8l10 7v-8l10 10v-11l10 10v-13l10 15v-14l10 10v-10l10 10v-6l10 7v-7l10 8v-9l10 10v-13l10 10v-10l10 11v-11l10 12v-10l10 8v-9l10 9v-9l10 9v-9l10 10v-10l10 12v-9l10 6v-7l10 7v-8l10 10v-11l10 9v-6l10 6v-8l10 8v-6l10 6v-8l10 12v-10l10 7v-9l10 10v-8l10 10v-10l10 7v-10l10 12v-11l10 9v-7l10 8v-10l10 9v-7l10 10v-13l10 14v-17l10 14v-15l10 14v-13l10 14v-10l10 12v-12l10 11v-12l10 9v-9l10 9v-9l10 9v-8l10 8v-10l10 14v-13l10 9v-7l10 9v-13l10 14v-13l10 13v-10l10 11v-13l10 10v-8l10 8v-10l10 9v-8l10 12v-13l10 8v-8l10 8v-5l10 9v-9l10 6v-9l10 9v-9l10 11v-8l10 8v-10l10 11v-11l10 10v-8l10 8v-10l10 11v-10l10 9v-8l10 8v-9l10 11v-12l10 8v-7l10 8v-7l10 8v-10l10 10v-7l10 8v-11l10 10v-8l10 6v-6"/><use href="#t7" transform="translate(5,0) scale(1,-.85)"/><path d="M450 9v-19M2620 10v-18M4690 9v-19M5100 9v-19M5620 9v-20M5670 10v-21M5890 11v-22M6660 9v-18"/></g>
<g stroke="#f00" transform="translate(111.5,141.91) scale(0.1)"><path id="t8" d="M0 3v-7l10 10v-9l10 9v-10l10 7v-7l10 8v-11l10 14v-11l10 10v-10l10 7v-8l10 9v-7l10 9v-12l10 14v-14l10 10v-7l10 7v-7l10 7v-12l10 13v-9l10 11v-14l10 11v-11l10 10v-9l10 13v-12l10 9v-10l10 10v-7l10 6v-11l10 14v-10l10 9v-12l10 13v-12l10 9v-9l10 10v-7l10 8v-9l10 10v-9l10 7v-11l10 10v-8l10 9v-11l10 12v-9l10 7v-8l10 9v-8l10 8v-8l10 9v-9l10 7v-6l10 7v-9l10 8v-5l10 8v-9l10 6v-9l10 13v-10l10 11v-14l10 13v-11l10 8v-9l10 10v-12l10 13v-10l10 8v-8l10 12v-15l10 10v-7l10 7v-6l10 9v-11l10 9v-7l10 7v-8l10 11v-15l10 13v-9l10 10v-10l10 8v-11l10 13v-12l10 10v-8l10 9v-12l10 10v-9l10 10v-8l10 8v-8l10 11v-15l10 14v-10l10 11v-15l10 13v-9l10 8v-11l10 12v-11l10 10v-7l10 6v-7l10 8v-11l10 11v-10l10 12v-9l10 11v-13l10 11v-14l10 12v-11l10 16v-16l10 14v-14l10 11v-7l10 8v-8l10 8v-9l10 9v-12l10 12v-10l10 10v-7l10 6v-8l10 7v-9l10 13v-10l10 10v-12l10 10v-13l10 14v-9l10 7v-9l10 10v-8l10 7v-8l10 10v-12l10 13v-16l10 12v-7l10 10v-13l10 14v-12l10 9v-11l10 12v-9l10 10v-12l10 12v-13l10 14v-10l10 6v-10l10 10v-6l10 8v-8l10 8v-9l10 10v-11l10 9v-9l10 10v-13l10 12v-8l10 8v-7l10 9v-10l10 9v-9l10 7v-7l10 7v-11l10 15v-10l10 6v-6l10 7v-11l10 14v-11l10 11v-12l10 9v-11l10 13v-10l10 9v-11l10 13v-10l10 6v-6l10 9v-9l10 6v-9l10 9v-7l10 7v-5l10 9v-14l10 12v-8l10 10v-12l10 8v-10l10 14v-14l10 13v-13l10 13v-11l10 9v-8l10 11v-16l10 14v-11l10 13v-12l10 11v-10l10 7v-9l10 12v-9l10 9v-9l10 7v-8l10 9v-9l10 10v-10l10 9v-14l10 17v-16l10 16v-17l10 13v-13l10 14v-12l10 12v-8l10 11v-13l10 9v-8l10 8v-11l10 13v-11l10 13v-15l10 10v-7l10 8v-8l10 11v-12l10 10v-8l10 9v-12l10 11v-9l10 9v-11l10 10v-10l10 11v-12l10 11v-12l10 11v-7l10 8v-12l10 12v-7l10 6v-11l10 15v-10l10 7v-7l10 7v-9l10 9v-9l10 8v-6l10 6v-8l10 8v-7l10 8v-10l10 11v-8l10 7v-9l10 9v-10l10 13v-10l10 11v-15l10 15v-13l10 14v-14l10 11v-9l10 7v-11l10 11v-10l10 10v-8l10 8v-8l10 8v-7l10 7v-11l10 10v-9l10 8v-5l10 6v-6l10 9v-9l10 6v-7l10 9v-9l10 9v-12l10 15v-17l10 16v-14l10 18v-29l10 24v-14l10 18v-20l10 19v-14l10 9v-9l10 12v-12l10 10v-9l10 10v-14l10 15v-15l10 16v-14l10 9v-7l10 10v-9l10 7v-12l10 17v-14l10 11v-14l10 11v-7l10 9v-10l10 8v-9l10 9v-9l10 10v-7l10 6v-7l10 7v-8l10 8v-9l10 9v-6l10 8v-8l10 6v-9l10 14v-14l10 10v-11l10 11v-9l10 9v-7l10 9v-12l10 10v-8l10 8v-9l10 8v-9l10 10v-10l10 12v-9l10 7v-8l10 11v-12l10 9v-10l10 13v-10l10 6v-7l10 8v-8l10 9v-11l10 13v-10l10 8v-10l10 8v-6l10 7v-7l10 8v-8l10 7v-10l10 10v-8l10 7v-6l10 7v-9l10 10v-12l10 11v-7l10 7v-9l10 10v-9l10 8v-8l10 12v-14l10 12v-10l10 10v-10l10 7v-6l10 6v-6l10 6v-6l10 9v-10l10 7v-6l10 8v-11l10 11v-8l10 8v-8l10 6v-9l10 11v-11l10 9v-7l10 8v-10l10 10v-7l10 7v-10l10 9v-6l10 7v-7l10 7v-9l10 13v-15l10 12v-12l10 11v-10l10 10v-11l10 10v-6l10 9v-12l10 9v-7l10 7v-6l10 6v-8l10 8v-10l10 11v-9l10 9v-8l10 8v-11l10 11v-8l10 9v-11l10 12v-9l10 6v-9l10 12v-10l10 8v-7l10 9v-11l10 11v-12l10 12v-12l10 10v-9l10 10v-10l10 9v-9l10 12v-12l10 8v-5l10 5v-6l10 7v-7l10 8v-9l10 8v-9l10 12v-11l10 12v-15l10 12v-12l10 12v-12l10 11v-8l10 10v-12l10 11v-13l10 13v-9l10 12v-12l10 11v-10l10 7v-10l10 9v-7l10 8v-7l10 9v-13l10 14v-15l10 12v-8l10 8v-7l10 8v-8l10 10v-11l10 11v-11l10 9v-8l10 7v-10l10 12v-9l10 7v-11l10 13v-9l10 7v-7l10 9v-13l10 13v-9l10 6v-9l10 10v-9l10 8v-6l10 9v-10l10 8v-8l10 8v-9l10 9v-11l10 10v-6l10 6v-6l10 10v-15l10 16v-14l10 11v-10l10 11v-9l10 5v-7l10 8v-9l10 12v-9l10 9v-14l10 17v-13l10 8v-10l10 13v-12l10 8v-9l10 11v-12l10 10v-10l10 11v-9l10 8v-9l10 13v-12l10 9v-8l10 8v-7l10 10v-13l10 9v-6l10 7v-8l10 8v-11l10 15v-16l10 11v-8l10 10v-12l10 10v-7l10 8v-7l10 6v-7l10 8v-12l10 16v-15l10 14v-15l10 14v-13l10 12v-9l10 10v-9l10 7v-7l10 9v-10l10 11v-11l10 8v-7l10 7v-10l10 11v-9l10 7v-9l10 9v-9l10 11v-8l10 10v-13l10 14v-14l10 11v-9l10 8v-11l10 11v-9l10 11v-10l10 9v-12l10 11v-12l10 12v-8l10 8v-8l10 10v-12l10 9v-10l10 11v-8l10 7v-7l10 11v-10l10 7v-7l10 7v-9l10 11v-11l10 9v-11l10 13v-10l10 9v-9l10 7v-6l10 7v-7l10 6v-6l10 7v-8l10 7v-6l10 9v-13l10 11v-9l10 9v-8l10 10v-12l10 10v-10l10 12v-12l10 9v-9l10 13v-11l10 8v-7l10 10v-12l10 9v-12l10 11v-9l10 13v-10l10 8v-9l10 10v-9l10 7v-8l10 10v-8l10 7v-8l10 9v-9l10 9v-10l10 9v-11l10 10v-10l10 13v-11l10 10v-13l10 11v-7l10 10v-15l10 12v-11l10 12v-10l10 10v-8l10 7v-8l10 7v-11l10 16v-12l10 11v-12l10 10v-9l10 10v-9l10 6v-8l10 8v-7l10 8v-7l10 7v-9l10 10v-10l10 9v-8l10 9v-8l10 9v-10l10 7v-7l10 8v-10l10 10v-7l10 7v-10l10 9v-7l10 8v-7l10 10v-12l10 8v-9l10 12v-11l10 9v-10l10 14v-13l10 11v-9l10 6v-10l10 13v-12l10 10v-13l10 14v-8l10 9v-10l10 9v-10l10 10v-13l10 11v-10l10 14v-12l10 10v-12l10 12v-10l10 8v-10l10 10v-6l10 7v-8l10 7v-6l10 8v-12l10 12v-8l10 7v-11l10 12v-11l10 11v-9l10 10v-9l10 12v-17l10 16v-15l10 15v-15l10 14v-12l10 9v-7l10 8v-9l10 12v-13l10 9v-10l10 13v-13l10 11v-9l10 8v-12l10 16v-15l10 11v-9l10 8v-9l10 11v-13l10 14v-11l10 11v-9l10 6v-6l10 11v-12l10 11v-14l10 12v-11l10 11v-8l10 7v-11l10 11v-11l10 14v-10l10 7v-9l10 12v-10l10 10v-10l10 9v-14l10 16v-16l10 14v-12l10 9v-6l10 7v-10l10 9v-6l10 10v-10l10 10v-13l10 11v-12l10 13v-12l10 9v-8l10 10v-9l10 10v-12l10 9v-6l10 8v-8l10 7v-10l10 10v-10l10 12v-11l10 11v-11l10 11v-11l10 10v-11l10 9v-9l10 12v-11l10 11v-11l10 9v-11l10 12v-9l10 9v-8l10 7v-9l10 10v-11l10 9v-9l10 15v-15l10 12v-11l10 10v-8l10 8v-13l10 17v-13l10 8v-11l10 12v-10l10 8v-7l10 8v-7l10 10v-14l10 12v-12l10 15v-14l10 11v-11l10 12v-14l10 12v-10l10 12v-11l10 12v-11l10 9v-12l10 12v-10l10 9v-9l10 12v-12l10 12v-11l10 7v-8l10 9v-9l10 9v-8l10 10v-11l10 9v-9l10 12v-11l10 13v-15l10 12v-11l10 9v-9l10 13v-12l10 9v-10l10 10v-13l10 13v-12l10 13v-11l10 10v-11l10 9v-9l10 11v-11l10 10v-9l10 10v-11l10 11v-10l10 12v-13l10 12v-11l10 9v-8l10 9v-13l10 15v-13l10 9v-9l10 9v-6l10 7v-12l10 14v-9l10 8v-11l10 11v-12l10 15v-12l10 7v-10l10 15v-13l10 12v-14l10 10v-9l10 13v-10l10 9v-11l10 9v-8l10 10v-9l10 7v-10l10 13v-14l10 13v-14l10 16v-12l10 9v-14l10 18v-15l10 14v-12l10 8v-11l10 13v-10l10 7v-9l10 14v-12l10 9v-8l10 9v-9l10 10v-10l10 7v-10l10 10v-8l10 7v-8l10 12v-14l10 13v-14l10 16v-22l10 23v-16l10 12v-11l10 13v-11l10 8v-8l10 8v-8l10 8v-10l10 10v-7l10 8v-9l10 8v-9l10 7v-5l10 6v-8l10 12v-11l10 11v-13l10 9v-9l10 10v-7l10 8v-9l10 7v-6l10 9v-13l10 11v-8l10 10v-11l10 9v-7l10 7v-11l10 12v-9l10 12v-12l10 8v-8l10 10v-12l10 11v-10l10 13v-16l10 12v-10l10 14v-15l10 12v-12l10 16v-17l10 12v-7l10 8v-8l10 9v-10l10 10v-12l10 10v-7l10 9v-13l10 13v-10l10 8v-7l10 8v-9l10 10v-12l10 10v-11l10 11v-9l10 7v-5l10 5v-8l10 10v-10l10 11v-11l10 11v-9l10 8v-11l10 11v-11l10 13v-12l10 11v-11l10 15v-13l10 8v-8l10 10v-13l10 10v-7l10 8v-8l10 11v-13l10 10v-7l10 5v-7l10 8v-7l10 8v-11l10 12v-11l10 9v-6l10 10v-11l10 10v-13l10 11v-9l10 8v-10"/><use href="#t8" transform="translate(5,0) scale(1,-.85)"/><path d="M2050 9v-18l10 45v-67l10 49v-35M4990 15v-31M6370 15v-31"/></g>
<g stroke="#00f" transform="translate(111.5,154.08) scale(0.1)"><path id="t9" d="M0 8v-12l10 13v-13l10 9v-11l10 12v-10l10 13v-16l10 15v-15l10 15v-16l10 16v-13l10 9v-8l10 11v-15l10 16v-14l10 12v-13l10 14v-15l10 16v-13l10 11v-13l10 12v-13l10 16v-11l10 10v-15l10 13v-12l10 11v-10l10 10v-7l10 9v-9l10 8v-10l10 10v-12l10 11v-7l10 6v-11l10 13v-12l10 12v-8l10 9v-13l10 11v-8l10 7v-11l10 15v-11l10 10v-10l10 9v-11l10 10v-10l10 12v-11l10 12v-11l10 13v-13l10 13v-17l10 17v-17l10 13v-9l10 8v-9l10 9v-8l10 8v-9l10 8v-10l10 14v-15l10 14v-9l10 6v-7l10 10v-10l10 8v-7l10 6v-6l10 7v-12l10 16v-14l10 13v-10l10 6v-11l10 13v-9l10 9v-14l10 14v-11l10 11v-10l10 9v-12l10 12v-9l10 14v-17l10 14v-16l10 19v-12l10 11v-13l10 11v-15l10 13v-8l10 8v-10l10 11v-11l10 14v-16l10 13v-9l10 8v-10l10 11v-9l10 8v-10l10 13v-15l10 16v-12l10 11v-11l10 11v-12l10 14v-16l10 11v-8l10 8v-10l10 12v-15l10 16v-10l10 7v-9l10 10v-12l10 11v-8l10 8v-10l10 14v-16l10 12v-10l10 10v-13l10 17v-15l10 15v-14l10 11v-13l10 16v-16l10 12v-11l10 12v-9l10 8v-12l10 16v-15l10 11v-13l10 14v-13l10 15v-11l10 12v-15l10 11v-11l10 12v-11l10 12v-13l10 10v-7l10 11v-15l10 11v-10l10 11v-10l10 11v-10l10 11v-10l10 9v-13l10 15v-16l10 20v-20l10 18v-16l10 12v-13l10 14v-12l10 14v-15l10 12v-15l10 14v-9l10 9v-12l10 18v-17l10 16v-20l10 24v-27l10 22v-15l10 13v-12l10 10v-9l10 9v-8l10 11v-14l10 14v-12l10 13v-16l10 11v-7l10 9v-8l10 11v-15l10 16v-16l10 13v-17l10 16v-9l10 8v-10l10 10v-9l10 12v-16l10 13v-9l10 9v-8l10 12v-12l10 8v-9l10 11v-9l10 10v-12l10 11v-10l10 9v-12l10 11v-11l10 12v-11l10 13v-16l10 13v-9l10 10v-11l10 10v-7l10 9v-10l10 8v-8l10 11v-11l10 8v-7l10 8v-13l10 13v-9l10 10v-12l10 10v-7l10 7v-10l10 12v-10l10 13v-15l10 10v-8l10 12v-12l10 10v-11l10 12v-10l10 10v-11l10 11v-11l10 7v-9l10 14v-14l10 10v-8l10 12v-12l10 8v-8l10 12v-16l10 13v-11l10 13v-11l10 9v-9l10 11v-15l10 14v-11l10 9v-10l10 10v-9l10 11v-12l10 11v-12l10 13v-12l10 10v-8l10 8v-11l10 10v-11l10 12v-10l10 12v-13l10 16v-16l10 11v-8l10 8v-11l10 13v-12l10 13v-13l10 10v-12l10 15v-16l10 16v-15l10 14v-13l10 12v-13l10 12v-10l10 11v-9l10 8v-8l10 10v-10l10 8v-11l10 11v-11l10 12v-10l10 12v-17l10 17v-12l10 13v-12l10 9v-11l10 11v-13l10 12v-8l10 10v-12l10 10v-7l10 7v-7l10 9v-9l10 6v-6l10 8v-11l10 11v-12l10 15v-16l10 14v-13l10 10v-10l10 12v-8l10 10v-14l10 11v-10l10 13v-12l10 11v-11l10 13v-13l10 14v-15l10 16v-14l10 10v-13l10 15v-13l10 12v-14l10 13v-16l10 14v-8l10 8v-8l10 12v-12l10 12v-11l10 9v-10l10 13v-13l10 13v-17l10 13v-13l10 12v-7l10 6v-8l10 9v-8l10 9v-11l10 10v-10l10 10v-10l10 14v-11l10 11v-12l10 15v-21l10 15v-15l10 19v-16l10 12v-11l10 11v-9l10 8v-8l10 7v-6l10 10v-12l10 9v-12l10 14v-9l10 7v-11l10 16v-18l10 18v-16l10 12v-9l10 11v-11l10 11v-16l10 17v-16l10 15v-15l10 11v-7l10 11v-14l10 15v-12l10 8v-7l10 10v-11l10 11v-10l10 10v-16l10 15v-10l10 12v-13l10 9v-9l10 10v-9l10 8v-13l10 16v-14l10 14v-12l10 9v-10l10 13v-11l10 11v-11l10 8v-11l10 11v-11l10 11v-8l10 8v-9l10 9v-7l10 11v-12l10 8v-9l10 12v-10l10 8v-10l10 12v-13l10 14v-14l10 13v-15l10 13v-9l10 9v-9l10 8v-7l10 9v-12l10 11v-9l10 7v-9l10 9v-7l10 8v-8l10 8v-9l10 11v-15l10 13v-13l10 13v-12l10 16v-17l10 16v-11l10 8v-8l10 10v-13l10 14v-13l10 13v-13l10 11v-12l10 10v-8l10 8v-6l10 9v-13l10 15v-16l10 16v-14l10 13v-10l10 11v-15l10 11v-11l10 12v-10l10 12v-16l10 17v-13l10 13v-14l10 15v-13l10 9v-8l10 8v-8l10 8v-10l10 11v-11l10 12v-15l10 14v-11l10 12v-11l10 8v-8l10 10v-9l10 8v-10l10 10v-12l10 12v-13l10 15v-13l10 11v-10l10 9v-8l10 8v-8l10 8v-8l10 8v-10l10 10v-10l10 9v-6l10 8v-11l10 14v-14l10 10v-13l10 14v-9l10 9v-10l10 11v-11l10 9v-9l10 9v-12l10 11v-7l10 8v-6l10 6v-7l10 12v-17l10 12v-8l10 10v-9l10 11v-12l10 8v-9l10 12v-10l10 6v-6l10 10v-14l10 15v-16l10 16v-16l10 11v-6l10 8v-13l10 12v-11l10 12v-11l10 11v-9l10 8v-8l10 10v-15l10 13v-13l10 15v-14l10 15v-15l10 13v-9l10 9v-13l10 12v-13l10 18v-16l10 11v-8l10 9v-9l10 12v-16l10 13v-16l10 21v-17l10 12v-11l10 14v-13l10 12v-16l10 13v-11l10 13v-13l10 13v-13l10 16v-17l10 16v-16l10 12v-8l10 11v-11l10 8v-8l10 8v-10l10 10v-8l10 9v-11l10 10v-9l10 12v-11l10 11v-12l10 11v-11l10 10v-13l10 14v-9l10 6v-7l10 10v-14l10 12v-8l10 10v-14l10 17v-17l10 16v-12l10 12v-12l10 9v-11l10 12v-16l10 16v-13l10 17v-19l10 15v-11l10 11v-10l10 8v-14l10 15v-10l10 12v-11l10 13v-14l10 9v-10l10 10v-8l10 8v-9l10 11v-11l10 8v-10l10 15v-13l10 9v-11l10 12v-12l10 15v-13l10 14v-16l10 12v-11l10 14v-15l10 12v-8l10 7v-10l10 10v-8l10 8v-8l10 9v-14l10 15v-10l10 13v-16l10 12v-9l10 10v-9l10 10v-13l10 12v-10l10 10v-9l10 11v-12l10 10v-11l10 14v-13l10 8v-9l10 9v-10l10 10v-13l10 14v-11l10 10v-9l10 8v-8l10 13v-13l10 10v-11l10 9v-10l10 11v-8l10 11v-11l10 8v-9l10 10v-12l10 11v-10l10 11v-12l10 12v-9l10 12v-13l10 9v-9l10 9v-9l10 12v-12l10 10v-12l10 15v-17l10 14v-12l10 14v-16l10 15v-12l10 12v-11l10 11v-13l10 11v-10l10 12v-13l10 14v-13l10 14v-15l10 11v-11l10 12v-9l10 8v-8l10 8v-7l10 11v-16l10 12v-8l10 12v-15l10 11v-10l10 14v-12l10 11v-10l10 6v-8l10 11v-12l10 10v-10l10 12v-10l10 11v-15l10 18v-17l10 12v-14l10 14v-11l10 12v-11l10 13v-16l10 17v-16l10 15v-16l10 15v-15l10 17v-17l10 15v-14l10 19v-27l10 21v-14l10 17v-21l10 19v-13l10 13v-16l10 14v-10l10 14v-14l10 13v-19l10 15v-9l10 10v-9l10 9v-12l10 10v-7l10 12v-13l10 14v-13l10 9v-10l10 10v-14l10 16v-12l10 8v-6l10 8v-13l10 15v-16l10 13v-11l10 15v-16l10 14v-12l10 10v-8l10 9v-11l10 11v-9l10 9v-12l10 11v-10l10 11v-9l10 11v-13l10 17v-20l10 13v-8l10 11v-11l10 8v-12l10 17v-16l10 15v-12l10 10v-9l10 11v-12l10 13v-15l10 13v-16l10 13v-12l10 18v-18l10 13v-11l10 12v-12l10 13v-15l10 14v-12l10 10v-10l10 11v-12l10 11v-10l10 13v-15l10 16v-12l10 10v-11l10 12v-12l10 10v-12l10 14v-12l10 12v-15l10 13v-9l10 13v-14l10 10v-11l10 10v-8l10 12v-14l10 9v-6l10 6v-6l10 8v-10l10 12v-10l10 6v-7l10 13v-16l10 16v-14l10 16v-21l10 18v-16l10 13v-13l10 14v-13l10 12v-11l10 14v-14l10 9v-6l10 7v-11l10 16v-17l10 14v-10l10 11v-11l10 10v-13l10 10v-7l10 11v-13l10 11v-9l10 11v-11l10 8v-8l10 9v-11l10 9v-7l10 8v-10l10 10v-12l10 17v-13l10 9v-10l10 9v-13l10 17v-15l10 11v-9l10 11v-10l10 9v-14l10 18v-13l10 8v-11l10 11v-10l10 13v-10l10 9v-12l10 12v-11l10 10v-11l10 14v-16l10 12v-11l10 14v-12l10 13v-13l10 9v-11l10 16v-14l10 8v-10l10 10v-6l10 10v-15l10 14v-13l10 12v-9l10 9v-12l10 11v-13l10 20v-20l10 15v-14l10 14v-12l10 10v-8l10 13v-14l10 9v-10l10 13v-13l10 13v-14l10 11v-10l10 13v-13l10 13v-11l10 9v-10l10 10v-11l10 15v-17l10 15v-12l10 10v-9l10 7v-8l10 9v-9l10 9v-8l10 8v-9l10 8v-7l10 12v-13l10 11v-14l10 14v-12l10 11v-14l10 14v-14l10 12v-10l10 10v-11l10 16v-15l10 14v-10l10 7v-9l10 8v-6l10 7v-11l10 11v-11l10 11v-10l10 15v-16l10 12v-12l10 11v-8l10 9v-10l10 9v-9l10 9v-12l10 15v-14l10 13v-10l10 11v-11l10 10v-10l10 12v-14l10 13v-16l10 13v-8l10 9v-11l10 13v-14l10 13v-10l10 8v-7l10 11v-12l10 7v-7l10 10v-10l10 7v-10l10 15v-14l10 12v-10l10 12v-14l10 13v-14l10 13v-10l10 11v-12l10 11v-12l10 10v-12l10 15v-11l10 8v-10l10 14v-13l10 12v-11l10 8v-11l10 11v-11l10 11v-8l10 11v-15l10 14v-10l10 10v-10l10 9v-10l10 13v-13l10 12v-10l10 10v-12l10 11v-10"/><use href="#t9" transform="translate(5,0) scale(1,-.85)"/><path d="M120 10v-19M610 10v-20M1130 12v-26M1220 24v-45l10 31v-22M1340 11v-23M2540 15v-29M4210 15v-31M5110 16v-32l10 28v-24M5790 11v-22M6280 13v-24"/></g>
<g stroke="#f00" transform="translate(111.5,166.25) scale(0.1)"><path id="t10" d="M0 3v-10l10 11v-7l10 9v-14l10 11v-7l10 10v-11l10 9v-10l10 9v-7l10 8v-9l10 13v-14l10 12v-11l10 12v-13l10 10v-12l10 12v-13l10 13v-8l10 11v-11l10 14v-17l10 12v-15l10 15v-12l10 14v-13l10 12v-14l10 16v-15l10 10v-7l10 9v-13l10 11v-7l10 11v-12l10 11v-12l10 11v-10l10 11v-11l10 14v-17l10 13v-9l10 10v-13l10 13v-10l10 8v-13l10 18v-16l10 17v-14l10 11v-10l10 10v-11l10 9v-11l10 14v-16l10 12v-10l10 15v-15l10 10v-10l10 11v-14l10 13v-10l10 10v-11l10 11v-8l10 10v-12l10 13v-11l10 13v-13l10 9v-13l10 13v-14l10 21v-20l10 18v-22l10 21v-17l10 14v-13l10 12v-11l10 13v-12l10 13v-18l10 20v-16l10 14v-12l10 9v-9l10 9v-9l10 11v-16l10 15v-10l10 9v-11l10 14v-12l10 8v-10l10 12v-10l10 13v-17l10 12v-14l10 16v-15l10 13v-10l10 14v-13l10 11v-13l10 11v-9l10 10v-9l10 11v-11l10 13v-15l10 15v-16l10 16v-15l10 11v-12l10 14v-13l10 13v-13l10 11v-12l10 12v-11l10 11v-11l10 15v-15l10 15v-18l10 18v-14l10 10v-9l10 8v-8l10 10v-12l10 10v-11l10 12v-12l10 14v-12l10 14v-13l10 12v-16l10 12v-12l10 11v-6l10 8v-11l10 11v-8l10 8v-14l10 16v-11l10 8v-8l10 8v-10l10 10v-7l10 8v-10l10 8v-7l10 12v-13l10 9v-11l10 15v-12l10 9v-9l10 8v-7l10 11v-11l10 10v-14l10 11v-9l10 12v-11l10 11v-11l10 10v-11l10 14v-13l10 13v-15l10 9v-9l10 14v-13l10 15v-17l10 13v-13l10 13v-14l10 16v-13l10 11v-13l10 16v-17l10 16v-17l10 13v-8l10 14v-15l10 10v-10l10 12v-14l10 12v-10l10 12v-11l10 8v-8l10 11v-11l10 11v-15l10 12v-9l10 10v-10l10 10v-10l10 11v-14l10 13v-15l10 15v-12l10 16v-13l10 10v-14l10 16v-12l10 14v-16l10 11v-14l10 17v-13l10 13v-16l10 12v-11l10 11v-8l10 12v-15l10 14v-11l10 10v-14l10 12v-11l10 11v-11l10 16v-18l10 19v-19l10 18v-17l10 11v-11l10 12v-11l10 12v-13l10 13v-13l10 13v-11l10 13v-13l10 10v-9l10 10v-9l10 8v-8l10 12v-13l10 11v-10l10 12v-15l10 10v-10l10 12v-11l10 11v-11l10 10v-10l10 11v-13l10 14v-10l10 12v-12l10 9v-12l10 10v-10l10 11v-8l10 13v-18l10 15v-11l10 8v-11l10 15v-12l10 13v-12l10 12v-17l10 20v-22l10 18v-14l10 15v-18l10 16v-10l10 14v-17l10 14v-13l10 10v-10l10 9v-10l10 14v-14l10 16v-13l10 9v-10l10 10v-15l10 18v-14l10 13v-13l10 9v-8l10 10v-10l10 10v-9l10 11v-11l10 14v-18l10 18v-14l10 9v-12l10 16v-14l10 9v-10l10 15v-14l10 11v-15l10 16v-14l10 14v-11l10 8v-8l10 11v-14l10 13v-15l10 14v-14l10 15v-15l10 17v-17l10 14v-9l10 8v-12l10 14v-10l10 8v-9l10 8v-11l10 12v-8l10 8v-10l10 12v-14l10 14v-10l10 9v-8l10 6v-9l10 9v-7l10 10v-13l10 14v-12l10 13v-13l10 11v-9l10 10v-15l10 15v-11l10 8v-9l10 11v-10l10 8v-8l10 11v-14l10 10v-8l10 10v-11l10 11v-10l10 14v-16l10 11v-9l10 10v-9l10 10v-11l10 11v-10l10 9v-10l10 9v-11l10 15v-12l10 8v-8l10 10v-16l10 20v-14l10 9v-13l10 12v-8l10 8v-11l10 12v-9l10 9v-13l10 13v-9l10 10v-11l10 8v-7l10 7v-6l10 7v-8l10 11v-11l10 12v-13l10 10v-12l10 15v-13l10 9v-9l10 13v-15l10 13v-12l10 18v-22l10 15v-11l10 11v-9l10 10v-10l10 8v-10l10 11v-14l10 17v-15l10 15v-12l10 13v-14l10 9v-11l10 14v-12l10 11v-14l10 13v-11l10 11v-14l10 13v-7l10 8v-11l10 13v-14l10 12v-11l10 10v-13l10 13v-10l10 11v-13l10 16v-14l10 10v-12l10 15v-14l10 10v-8l10 11v-12l10 14v-12l10 9v-11l10 12v-11l10 10v-8l10 7v-10l10 12v-15l10 16v-13l10 10v-12l10 16v-13l10 9v-10l10 10v-8l10 10v-11l10 14v-13l10 9v-10l10 9v-7l10 9v-10l10 11v-14l10 14v-14l10 11v-10l10 14v-13l10 12v-12l10 10v-11l10 13v-14l10 12v-11l10 11v-9l10 13v-15l10 10v-10l10 14v-13l10 13v-14l10 11v-10l10 10v-11l10 15v-14l10 11v-15l10 14v-9l10 12v-13l10 9v-10l10 10v-11l10 12v-9l10 12v-12l10 11v-14l10 12v-9l10 13v-15l10 11v-9l10 9v-9l10 8v-12l10 12v-12l10 13v-13l10 14v-10l10 13v-16l10 11v-11l10 15v-16l10 12v-10l10 12v-14l10 13v-9l10 8v-10l10 15v-13l10 8v-11l10 13v-12l10 10v-8l10 10v-10l10 8v-13l10 15v-10l10 11v-11l10 13v-14l10 9v-11l10 14v-11l10 9v-13l10 15v-12l10 10v-9l10 13v-17l10 12v-8l10 12v-14l10 14v-17l10 15v-12l10 9v-6l10 6v-11l10 14v-13l10 17v-14l10 12v-17l10 19v-17l10 11v-11l10 16v-16l10 17v-21l10 16v-9l10 8v-11l10 15v-13l10 12v-12l10 11v-11l10 10v-12l10 14v-10l10 7v-10l10 9v-7l10 7v-11l10 15v-15l10 12v-7l10 7v-10l10 10v-12l10 13v-11l10 9v-10l10 13v-11l10 8v-8l10 10v-9l10 13v-13l10 8v-8l10 8v-9l10 11v-11l10 12v-11l10 8v-9l10 9v-8l10 8v-11l10 12v-9l10 10v-13l10 12v-11l10 14v-16l10 13v-10l10 11v-12l10 10v-11l10 10v-9l10 10v-7l10 6v-8l10 12v-16l10 13v-10l10 13v-14l10 12v-14l10 16v-15l10 12v-9l10 14v-17l10 12v-13l10 12v-8l10 13v-13l10 11v-13l10 12v-9l10 13v-15l10 14v-15l10 17v-20l10 17v-12l10 10v-9l10 10v-10l10 9v-9l10 7v-11l10 16v-12l10 11v-12l10 10v-11l10 15v-17l10 16v-12l10 11v-12l10 13v-18l10 15v-9l10 12v-12l10 13v-14l10 13v-12l10 9v-9l10 9v-10l10 9v-9l10 9v-11l10 11v-8l10 11v-11l10 8v-12l10 14v-13l10 11v-8l10 10v-15l10 18v-13l10 12v-15l10 12v-11l10 10v-8l10 13v-14l10 12v-11l10 8v-12l10 15v-12l10 11v-15l10 14v-11l10 14v-11l10 9v-10l10 10v-14l10 13v-11l10 10v-11l10 12v-12l10 16v-15l10 11v-10l10 9v-12l10 17v-13l10 8v-9l10 13v-12l10 12v-15l10 11v-8l10 12v-15l10 12v-13l10 12v-7l10 6v-6l10 9v-12l10 10v-9l10 9v-11l10 11v-8l10 9v-11l10 10v-10l10 11v-12l10 11v-11l10 12v-13l10 15v-12l10 11v-10l10 10v-11l10 9v-11l10 13v-11l10 13v-16l10 17v-19l10 14v-11l10 13v-10l10 11v-13l10 13v-13l10 14v-16l10 15v-11l10 12v-12l10 10v-13l10 11v-12l10 14v-10l10 8v-10l10 15v-12l10 12v-14l10 9v-11l10 13v-11l10 10v-10l10 11v-13l10 12v-12l10 11v-7l10 6v-7l10 9v-8l10 9v-13l10 12v-11l10 13v-16l10 13v-11l10 10v-8l10 9v-8l10 11v-11l10 11v-11l10 9v-9l10 9v-11l10 14v-14l10 11v-8l10 7v-8l10 7v-7l10 10v-15l10 17v-15l10 11v-10l10 11v-13l10 17v-13l10 11v-13l10 11v-11l10 13v-17l10 15v-14l10 13v-8l10 10v-10l10 10v-9l10 9v-13l10 12v-10l10 9v-12l10 14v-14l10 14v-12l10 9v-10l10 15v-13l10 12v-11l10 11v-13l10 9v-10l10 15v-14l10 15v-13l10 13v-19l10 20v-14l10 11v-11l10 10v-15l10 16v-11l10 10v-13l10 12v-13l10 14v-13l10 15v-13l10 15v-17l10 13v-14l10 13v-9l10 11v-14l10 13v-12l10 12v-14l10 16v-17l10 13v-9l10 12v-15l10 15v-15l10 19v-19l10 19v-27l10 21v-16l10 18v-12l10 11v-10l10 8v-12l10 12v-8l10 8v-13l10 18v-13l10 10v-10l10 9v-13l10 17v-14l10 9v-13l10 13v-10l10 12v-13l10 16v-13l10 7v-9l10 12v-12l10 10v-11l10 12v-9l10 13v-15l10 11v-10l10 8v-7l10 8v-7l10 9v-12l10 15v-20l10 23v-20l10 12v-9l10 9v-11l10 12v-15l10 15v-10l10 9v-8l10 7v-7l10 9v-9l10 10v-14l10 16v-13l10 9v-14l10 15v-13l10 17v-14l10 8v-8l10 13v-14l10 11v-8l10 7v-8l10 12v-14l10 12v-13l10 13v-12l10 13v-16l10 16v-13l10 10v-8l10 10v-10l10 10v-12l10 11v-10l10 10v-13l10 15v-14l10 13v-14l10 12v-8l10 12v-12l10 9v-13l10 12v-11l10 13v-10l10 8v-11l10 10v-10l10 11v-9l10 15v-15l10 9v-13l10 17v-13l10 10v-12l10 13v-12l10 11v-13l10 16v-20l10 18v-11l10 12v-14l10 16v-14l10 10v-9l10 10v-15l10 15v-10l10 8v-11l10 13v-11l10 11v-13l10 14v-16l10 14v-13l10 14v-12l10 10v-11l10 15v-13l10 10v-11l10 11v-8l10 9v-10l10 12v-14l10 11v-12l10 11v-7l10 8v-8l10 6v-8l10 10v-8l10 6v-7l10 10v-9l10 10v-13l10 12v-14l10 15v-13l10 10v-9l10 10v-10l10 10v-10l10 11v-14l10 12v-8l10 13v-18l10 15v-12l10 13v-15l10 11v-8l10 8v-9l10 11v-12l10 11v-9l10 11v-9l10 8v-12l10 14v-16l10 18v-15l10 15v-15l10 10v-13l10 17v-16l10 15v-15l10 14v-13l10 16v-15l10 12v-10l10 13v-19"/><use href="#t10" transform="translate(5,0) scale(1,-.85)"/><path d="M510 14v-29l10 25v-20M570 12v-27M2760 11v-21M2870 11v-22M5860 14v-27M6100 22v-43M6530 16v-30M6980 9v-20"/></g>
<g stroke="#00f" transform="translate(111.5,178.42) scale(0.1)"><path id="t11" d="M0 4v-10l10 15v-16l10 13v-15l10 14v-10l10 11v-10l10 8v-12l10 12v-10l10 12v-13l10 12v-13l10 15v-10l10 7v-11l10 11v-9l10 13v-15l10 10v-8l10 11v-11l10 14v-16l10 11v-12l10 13v-13l10 12v-8l10 8v-9l10 9v-9l10 13v-16l10 13v-12l10 13v-9l10 6v-9l10 10v-12l10 17v-19l10 18v-17l10 18v-19l10 18v-15l10 12v-9l10 9v-11l10 13v-13l10 12v-10l10 11v-13l10 12v-13l10 15v-15l10 12v-13l10 16v-16l10 16v-12l10 8v-10l10 14v-14l10 15v-17l10 17v-16l10 13v-12l10 10v-10l10 13v-10l10 9v-12l10 11v-9l10 13v-17l10 12v-9l10 10v-12l10 13v-14l10 12v-14l10 14v-8l10 13v-13l10 11v-14l10 13v-11l10 11v-13l10 16v-14l10 10v-13l10 12v-13l10 17v-15l10 11v-9l10 14v-16l10 13v-11l10 13v-15l10 12v-13l10 12v-9l10 10v-10l10 11v-11l10 15v-14l10 11v-16l10 15v-12l10 9v-7l10 8v-10l10 11v-8l10 7v-9l10 12v-13l10 15v-18l10 17v-16l10 12v-8l10 9v-9l10 10v-13l10 14v-13l10 10v-8l10 8v-11l10 13v-14l10 16v-15l10 18v-19l10 15v-15l10 16v-14l10 10v-10l10 10v-10l10 10v-12l10 17v-17l10 15v-15l10 15v-13l10 10v-10l10 13v-11l10 13v-17l10 15v-11l10 10v-14l10 16v-16l10 18v-15l10 9v-8l10 12v-12l10 9v-9l10 13v-15l10 11v-13l10 11v-7l10 13v-17l10 14v-10l10 8v-8l10 9v-11l10 10v-13l10 17v-13l10 11v-14l10 15v-12l10 14v-13l10 7v-11l10 12v-7l10 8v-11l10 14v-12l10 10v-9l10 8v-10l10 8v-11l10 14v-11l10 8v-6l10 8v-8l10 10v-13l10 10v-8l10 11v-10l10 8v-11l10 10v-10l10 12v-12l10 11v-14l10 14v-9l10 7v-9l10 9v-10l10 12v-8l10 7v-12l10 14v-10l10 9v-9l10 11v-12l10 12v-11l10 8v-10l10 10v-8l10 13v-13l10 8v-8l10 10v-12l10 10v-9l10 11v-11l10 9v-9l10 9v-9l10 10v-13l10 13v-11l10 11v-10l10 12v-13l10 10v-9l10 8v-8l10 13v-12l10 10v-11l10 10v-12l10 16v-17l10 13v-9l10 11v-15l10 11v-6l10 7v-10l10 10v-8l10 11v-15l10 11v-8l10 10v-10l10 10v-12l10 12v-12l10 10v-7l10 13v-13l10 13v-13l10 9v-11l10 10v-8l10 8v-8l10 12v-15l10 15v-16l10 13v-10l10 10v-10l10 14v-14l10 11v-10l10 9v-9l10 13v-15l10 10v-9l10 11v-15l10 17v-14l10 10v-12l10 12v-9l10 13v-15l10 11v-11l10 14v-13l10 10v-10l10 11v-11l10 11v-11l10 15v-16l10 15v-17l10 16v-15l10 15v-17l10 17v-12l10 11v-14l10 12v-8l10 11v-16l10 14v-9l10 11v-13l10 10v-11l10 12v-9l10 10v-13l10 11v-12l10 13v-12l10 11v-10l10 12v-11l10 11v-13l10 15v-15l10 10v-10l10 12v-12l10 11v-11l10 15v-15l10 12v-13l10 11v-8l10 9v-8l10 8v-8l10 11v-12l10 13v-11l10 10v-14l10 14v-15l10 12v-7l10 11v-11l10 7v-8l10 8v-10l10 9v-9l10 9v-11l10 12v-9l10 14v-13l10 11v-14l10 12v-10l10 9v-9l10 12v-11l10 8v-8l10 9v-10l10 8v-10l10 12v-8l10 9v-10l10 8v-11l10 16v-18l10 14v-9l10 7v-11l10 14v-9l10 9v-12l10 10v-9l10 8v-10l10 11v-7l10 6v-8l10 10v-10l10 9v-8l10 11v-13l10 11v-9l10 11v-11l10 8v-8l10 9v-10l10 10v-11l10 15v-16l10 10v-8l10 12v-14l10 12v-9l10 13v-18l10 18v-14l10 11v-15l10 15v-15l10 16v-12l10 9v-12l10 17v-16l10 13v-15l10 15v-10l10 8v-13l10 17v-17l10 17v-13l10 11v-14l10 12v-8l10 10v-12l10 12v-13l10 17v-16l10 15v-16l10 13v-16l10 17v-11l10 11v-12l10 12v-12l10 13v-13l10 12v-12l10 9v-10l10 9v-6l10 6v-11l10 13v-8l10 11v-16l10 11v-9l10 10v-7l10 7v-11l10 12v-13l10 13v-10l10 9v-10l10 11v-9l10 10v-13l10 12v-9l10 8v-10l10 13v-16l10 14v-15l10 17v-15l10 13v-12l10 12v-14l10 13v-10l10 14v-13l10 9v-9l10 12v-11l10 8v-12l10 14v-12l10 10v-9l10 12v-14l10 11v-10l10 12v-10l10 11v-12l10 12v-13l10 10v-12l10 12v-9l10 11v-13l10 13v-14l10 14v-13l10 11v-12l10 14v-10l10 10v-10l10 8v-8l10 12v-16l10 13v-12l10 16v-18l10 15v-11l10 13v-11l10 11v-12l10 11v-12l10 9v-9l10 14v-18l10 17v-18l10 20v-17l10 14v-14l10 16v-15l10 11v-13l10 14v-15l10 15v-12l10 11v-9l10 12v-16l10 12v-9l10 13v-14l10 11v-12l10 11v-11l10 12v-11l10 11v-10l10 9v-9l10 9v-12l10 15v-12l10 12v-13l10 10v-10l10 15v-13l10 11v-15l10 16v-12l10 8v-9l10 8v-11l10 11v-6l10 7v-10l10 9v-6l10 10v-10l10 7v-10l10 10v-9l10 11v-12l10 12v-10l10 9v-14l10 17v-14l10 11v-8l10 6v-9l10 9v-7l10 7v-6l10 8v-10l10 13v-14l10 11v-8l10 7v-9l10 8v-11l10 14v-13l10 13v-11l10 10v-11l10 10v-11l10 12v-11l10 14v-14l10 12v-10l10 12v-14l10 15v-18l10 16v-11l10 9v-10l10 11v-11l10 14v-13l10 14v-15l10 14v-17l10 14v-11l10 11v-14l10 19v-22l10 15v-9l10 9v-11l10 10v-10l10 13v-9l10 10v-11l10 7v-9l10 10v-9l10 9v-9l10 9v-8l10 9v-9l10 11v-13l10 11v-12l10 12v-12l10 11v-11l10 16v-13l10 9v-12l10 14v-16l10 13v-8l10 8v-8l10 11v-10l10 6v-6l10 7v-9l10 8v-10l10 12v-9l10 7v-9l10 12v-11l10 9v-11l10 16v-17l10 16v-12l10 12v-12l10 10v-13l10 13v-11l10 11v-12l10 14v-15l10 11v-10l10 13v-13l10 14v-16l10 12v-7l10 8v-10l10 8v-9l10 12v-10l10 10v-13l10 11v-10l10 9v-8l10 10v-12l10 10v-7l10 8v-10l10 9v-8l10 10v-13l10 16v-14l10 16v-15l10 9v-9l10 12v-13l10 11v-11l10 13v-13l10 15v-17l10 18v-16l10 14v-15l10 13v-14l10 14v-13l10 16v-13l10 12v-13l10 11v-11l10 8v-9l10 11v-9l10 8v-10l10 9v-8l10 11v-11l10 12v-11l10 11v-15l10 16v-17l10 14v-10l10 12v-11l10 11v-12l10 9v-8l10 8v-9l10 11v-13l10 10v-9l10 16v-19l10 20v-18l10 14v-15l10 13v-12l10 12v-10l10 12v-13l10 15v-15l10 12v-11l10 11v-10l10 10v-10l10 8v-9l10 9v-12l10 12v-8l10 11v-13l10 13v-11l10 9v-11l10 11v-12l10 11v-9l10 10v-8l10 8v-12l10 11v-8l10 11v-14l10 11v-8l10 11v-14l10 13v-13l10 16v-13l10 8v-9l10 10v-9l10 7v-10l10 13v-10l10 10v-15l10 15v-11l10 15v-19l10 13v-8l10 8v-7l10 6v-7l10 9v-12l10 14v-14l10 13v-10l10 9v-12l10 11v-11l10 12v-9l10 9v-10l10 12v-13l10 12v-11l10 11v-12l10 12v-15l10 14v-11l10 16v-19l10 15v-10l10 8v-9l10 10v-11l10 11v-10l10 15v-15l10 9v-9l10 12v-13l10 10v-12l10 13v-10l10 9v-8l10 13v-16l10 11v-8l10 9v-9l10 8v-10l10 11v-12l10 12v-12l10 14v-13l10 15v-21l10 20v-18l10 16v-13l10 12v-14l10 12v-8l10 12v-11l10 10v-9l10 7v-7l10 12v-14l10 12v-11l10 9v-12l10 15v-13l10 13v-13l10 9v-8l10 8v-12l10 12v-9l10 9v-8l10 9v-13l10 16v-12l10 11v-11l10 13v-16l10 15v-17l10 16v-16l10 14v-9l10 14v-17l10 12v-10l10 13v-16l10 14v-11l10 10v-10l10 12v-12l10 15v-16l10 10v-10l10 14v-12l10 9v-9l10 12v-12l10 10v-9l10 9v-10l10 9v-9l10 9v-9l10 13v-16l10 14v-16l10 17v-15l10 12v-14l10 17v-17l10 13v-10l10 10v-12l10 11v-6l10 7v-10l10 14v-12l10 9v-8l10 8v-9l10 8v-9l10 13v-15l10 11v-14l10 20v-19l10 13v-10l10 11v-9l10 10v-14l10 16v-12l10 10v-12l10 10v-9l10 8v-7l10 9v-9l10 11v-15l10 14v-12l10 10v-9l10 15v-16l10 13v-15l10 15v-12l10 9v-13l10 16v-13l10 12v-12l10 11v-11l10 10v-8l10 10v-10l10 10v-14l10 12v-9l10 10v-9l10 12v-12l10 8v-8l10 8v-8l10 9v-12l10 10v-8l10 14v-15l10 14v-15l10 16v-17l10 16v-18l10 14v-11l10 12v-11l10 11v-10l10 14v-18l10 18v-13l10 11v-14l10 14v-16l10 14v-11l10 10v-10l10 10v-7l10 6v-10l10 10v-9l10 9v-6l10 9v-11l10 10v-10l10 9v-8l10 9v-8l10 7v-11l10 10v-8l10 10v-9l10 10v-10l10 9v-9l10 10v-10l10 7v-6l10 7v-7l10 8v-14l10 16v-12l10 13v-12l10 9v-10l10 9v-10l10 10v-9l10 8v-8l10 9v-7l10 7v-10l10 12v-13l10 14v-10l10 7v-11l10 14v-15l10 14v-10l10 14v-17l10 11v-12l10 12v-12l10 13v-14l10 12v-11l10 13v-10l10 10v-9l10 8v-11l10 10v-6l10 6v-7l10 11v-10l10 8v-10l10 9v-8l10 12v-14l10 12v-12l10 10v-12l10 14v-10l10 7v-6l10 7v-12l10 11v-7l10 9v-9l10 11v-14l10 11v-8l10 8v-7l10 12v-15l10 10v-8l10 11v-14l10 13v-12l10 15v-15l10 10v-9l10 10v-11"/><use href="#t11" transform="translate(5,0) scale(1,-.85)"/><path d="M350 11v-23M650 12v-22M2130 10v-19M2850 11v-20M3100 14v-28M4020 9v-19M4850 13v-28M5500 11v-22M6340 13v-29"/></g>
<g stroke="#f00" transform="translate(111.5,190.59) scale(0.1)"><path id="t12" d="M0 7v-12l10 13v-16l10 15v-12l10 11v-17l10 23v-17l10 10v-12l10 15v-20l10 19v-12l10 18v-21l10 19v-17l10 17v-18l10 19v-20l10 18v-14l10 14v-17l10 18v-16l10 10v-12l10 19v-17l10 12v-16l10 17v-12l10 9v-10l10 13v-15l10 16v-17l10 12v-13l10 17v-15l10 11v-14l10 23v-19l10 20v-21l10 13v-12l10 17v-17l10 19v-25l10 20v-22l10 22v-18l10 16v-16l10 19v-15l10 15v-20l10 20v-14l10 16v-17l10 18v-20l10 16v-18l10 21v-17l10 11v-12l10 16v-16l10 16v-15l10 13v-15l10 15v-12l10 10v-9l10 10v-13l10 12v-9l10 14v-15l10 10v-11l10 14v-18l10 17v-13l10 14v-19l10 20v-18l10 14v-13l10 13v-10l10 12v-19l10 18v-16l10 16v-18l10 18v-11l10 12v-14l10 12v-14l10 14v-10l10 17v-19l10 13v-12l10 13v-12l10 11v-10l10 8v-8l10 8v-13l10 13v-7l10 7v-14l10 22v-18l10 13v-19l10 18v-15l10 14v-13l10 15v-12l10 14v-17l10 16v-19l10 17v-13l10 18v-16l10 10v-14l10 18v-14l10 11v-14l10 18v-19l10 17v-21l10 19v-13l10 14v-14l10 18v-17l10 12v-14l10 15v-16l10 13v-11l10 15v-17l10 16v-17l10 18v-14l10 14v-15l10 12v-10l10 13v-16l10 13v-9l10 9v-10l10 13v-12l10 14v-17l10 11v-15l10 16v-14l10 15v-11l10 11v-15l10 26v-32l10 28v-26l10 23v-17l10 13v-13l10 16v-16l10 13v-12l10 17v-17l10 12v-13l10 15v-14l10 10v-11l10 19v-23l10 16v-11l10 10v-11l10 11v-8l10 12v-12l10 14v-18l10 12v-12l10 13v-16l10 16v-14l10 17v-19l10 21v-15l10 10v-10l10 14v-17l10 16v-15l10 13v-12l10 14v-20l10 23v-17l10 12v-14l10 14v-13l10 13v-17l10 20v-14l10 14v-20l10 16v-9l10 15v-16l10 10v-11l10 13v-12l10 10v-13l10 12v-11l10 12v-15l10 19v-15l10 13v-12l10 10v-17l10 17v-14l10 17v-18l10 15v-12l10 12v-10l10 14v-15l10 11v-16l10 21v-21l10 16v-12l10 18v-22l10 17v-13l10 15v-14l10 11v-16l10 17v-12l10 12v-14l10 13v-10l10 11v-11l10 10v-17l10 19v-17l10 15v-16l10 17v-14l10 17v-15l10 16v-15l10 14v-16l10 13v-11l10 16v-23l10 18v-13l10 15v-12l10 15v-20l10 17v-19l10 19v-14l10 15v-16l10 15v-18l10 19v-15l10 18v-23l10 16v-12l10 13v-13l10 18v-18l10 12v-11l10 12v-15l10 18v-15l10 17v-17l10 13v-15l10 16v-17l10 18v-18l10 17v-16l10 18v-14l10 16v-20l10 13v-12l10 12v-10l10 15v-18l10 14v-17l10 15v-10l10 16v-18l10 13v-9l10 13v-19l10 15v-11l10 17v-16l10 9v-12l10 13v-12l10 12v-13l10 17v-19l10 18v-17l10 19v-18l10 19v-17l10 17v-22l10 22v-22l10 16v-10l10 17v-19l10 16v-17l10 13v-12l10 13v-17l10 23v-21l10 22v-22l10 20v-22l10 22v-19l10 20v-19l10 16v-21l10 21v-21l10 22v-21l10 19v-23l10 24v-21l10 20v-13l10 12v-12l10 14v-14l10 17v-17l10 12v-12l10 15v-15l10 18v-25l10 24v-24l10 21v-17l10 17v-15l10 13v-13l10 12v-17l10 19v-22l10 25v-23l10 18v-14l10 14v-18l10 25v-25l10 19v-19l10 22v-23l10 18v-15l10 18v-18l10 18v-18l10 20v-18l10 12v-13l10 14v-15l10 21v-16l10 10v-9l10 14v-17l10 17v-17l10 19v-24l10 18v-12l10 14v-13l10 14v-14l10 14v-14l10 10v-14l10 20v-21l10 17v-12l10 11v-15l10 14v-11l10 14v-14l10 11v-16l10 23v-24l10 17v-12l10 13v-13l10 14v-12l10 15v-19l10 14v-10l10 10v-15l10 15v-12l10 21v-28l10 24v-18l10 17v-23l10 20v-11l10 13v-17l10 17v-17l10 18v-14l10 14v-19l10 16v-11l10 11v-14l10 17v-18l10 15v-10l10 15v-20l10 20v-22l10 22v-16l10 9v-11l10 16v-14l10 10v-15l10 17v-17l10 16v-18l10 18v-11l10 16v-21l10 23v-23l10 18v-16l10 18v-20l10 21v-19l10 14v-16l10 18v-21l10 26v-19l10 13v-17l10 19v-17l10 17v-18l10 14v-15l10 15v-18l10 20v-15l10 12v-15l10 22v-21l10 16v-12l10 16v-20l10 19v-22l10 23v-20l10 21v-21l10 22v-24l10 19v-16l10 17v-19l10 18v-11l10 12v-16l10 12v-9l10 16v-16l10 11v-14l10 14v-17l10 16v-14l10 14v-15l10 14v-14l10 14v-11l10 16v-14l10 14v-17l10 13v-10l10 13v-16l10 12v-8l10 14v-15l10 12v-12l10 9v-8l10 8v-8l10 13v-19l10 15v-12l10 12v-13l10 13v-10l10 12v-11l10 8v-8l10 11v-11l10 10v-10l10 12v-15l10 14v-13l10 10v-8l10 8v-9l10 12v-20l10 25v-21l10 17v-14l10 10v-12l10 13v-10l10 10v-11l10 11v-12l10 13v-13l10 20v-24l10 18v-15l10 17v-14l10 10v-10l10 12v-12l10 10v-10l10 11v-12l10 16v-17l10 13v-16l10 24v-27l10 26v-23l10 19v-16l10 15v-13l10 17v-21l10 18v-15l10 10v-9l10 13v-15l10 14v-14l10 15v-15l10 12v-11l10 11v-10l10 16v-22l10 19v-18l10 22v-21l10 16v-12l10 12v-20l10 18v-14l10 16v-15l10 20v-17l10 17v-19l10 15v-13l10 11v-16l10 15v-12l10 17v-18l10 18v-18l10 15v-14l10 18v-18l10 16v-16l10 19v-20l10 17v-19l10 20v-16l10 18v-23l10 24v-25l10 19v-15l10 16v-13l10 16v-24l10 26v-24l10 19v-13l10 10v-13l10 17v-21l10 23v-23l10 23v-24l10 17v-12l10 16v-18l10 14v-11l10 13v-13l10 17v-21l10 23v-20l10 18v-20l10 15v-11l10 12v-16l10 15v-13l10 14v-16l10 17v-17l10 16v-14l10 19v-17l10 19v-18l10 13v-13l10 16v-16l10 11v-15l10 14v-11l10 16v-17l10 17v-22l10 23v-16l10 15v-21l10 19v-21l10 20v-12l10 15v-22l10 21v-15l10 11v-11l10 10v-12l10 13v-17l10 24v-20l10 17v-14l10 18v-18l10 12v-20l10 24v-25l10 23v-19l10 17v-21l10 25v-16l10 11v-17l10 19v-14l10 18v-22l10 18v-17l10 15v-15l10 19v-15l10 10v-12l10 17v-14l10 12v-15l10 11v-10l10 12v-12l10 12v-13l10 12v-9l10 10v-17l10 23v-20l10 13v-9l10 8v-8l10 8v-8l10 12v-17l10 16v-18l10 15v-9l10 10v-10l10 12v-16l10 15v-18l10 18v-18l10 21v-14l10 10v-11l10 11v-15l10 19v-21l10 18v-17l10 18v-14l10 15v-12l10 11v-12l10 10v-10l10 13v-15l10 16v-16l10 12v-15l10 18v-18l10 18v-13l10 11v-11l10 13v-13l10 12v-15l10 13v-15l10 19v-16l10 16v-13l10 9v-14l10 21v-24l10 18v-11l10 15v-14l10 8v-15l10 15v-10l10 11v-12l10 15v-14l10 13v-16l10 16v-14l10 14v-17l10 18v-15l10 24v-29l10 34v-39l10 32v-28l10 27v-26l10 20v-17l10 18v-19l10 17v-19l10 19v-19l10 21v-15l10 14v-13l10 14v-20l10 19v-13l10 11v-14l10 15v-16l10 16v-13l10 15v-19l10 17v-12l10 16v-16l10 15v-21l10 22v-16l10 16v-19l10 19v-20l10 18v-17l10 14v-13l10 13v-12l10 15v-19l10 14v-10l10 14v-17l10 19v-15l10 11v-14l10 13v-14l10 16v-12l10 11v-11l10 16v-16l10 14v-15l10 16v-21l10 17v-12l10 18v-25l10 25v-20l10 21v-21l10 16v-13l10 15v-24l10 21v-16l10 26v-31l10 22v-21l10 21v-15l10 16v-15l10 12v-15l10 24v-27l10 26v-29l10 24v-22l10 25v-24l10 21v-27l10 28v-27l10 32v-22l10 20v-26l10 20v-20l10 21v-15l10 13v-12l10 14v-16l10 18v-20l10 16v-13l10 14v-13l10 11v-11l10 11v-13l10 13v-13l10 14v-15l10 14v-11l10 12v-18l10 23v-16l10 17v-20l10 14v-14l10 13v-15l10 17v-16l10 17v-18l10 19v-20l10 16v-13l10 15v-12l10 12v-13l10 12v-14l10 15v-13l10 14v-16l10 14v-12l10 17v-18l10 12v-11l10 10v-13l10 15v-10l10 9v-11l10 17v-16l10 12v-18l10 16v-14l10 22v-23l10 17v-13l10 12v-15l10 17v-14l10 16v-19l10 19v-21l10 35v-39l10 29v-27l10 22v-15l10 11v-16l10 22v-21l10 15v-13l10 19v-17l10 17v-17l10 13v-13l10 13v-14l10 21v-20l10 12v-11l10 12v-12l10 12v-12l10 10v-14l10 15v-11l10 10v-9l10 11v-13l10 15v-13l10 14v-15l10 9v-10l10 12v-12l10 13v-15l10 13v-15l10 18v-15l10 13v-15l10 14v-17l10 20v-17l10 14v-15l10 20v-22l10 25v-24l10 17v-17l10 17v-17l10 25v-26l10 23v-26l10 20v-18l10 19v-18l10 19v-13l10 12v-16l10 15v-9l10 10v-10l10 9v-10l10 17v-19l10 13v-15l10 14v-12l10 19v-19l10 17v-15l10 15v-14l10 9v-15l10 23v-19l10 11v-11l10 16v-22l10 18v-13l10 15v-14l10 13v-20l10 22v-14l10 10v-14l10 14v-16l10 21v-17l10 14v-15l10 13v-16l10 18v-13l10 18v-17l10 15v-16l10 19v-21l10 16v-16l10 13v-15l10 19v-17l10 20v-17l10 11v-10l10 8v-13l10 14v-17l10 21v-17l10 12v-10l10 15v-17l10 19v-18l10 19v-20l10 19v-19l10 18v-15l10 10v-10l10 17v-20l10 18v-18l10 17v-21l10 17v-10l10 11v-13l10 15v-16l10 16v-16l10 18v-14l10 16v-18l10 16v-20l10 16v-14l10 18v-19l10 21v-17l10 15v-19l10 17v-18l10 21v-17l10 15v-21l10 21v-19l10 15v-12l10 11v-12l10 13v-16l10 17v-15"/><use href="#t12" transform="translate(5,0) scale(1,-.85)"/><path d="M720 12v-24M1050 22v-43M2240 16v-35M2350 14v-27M2410 17v-32M5080 18v-37M5510 12v-25M5570 17v-36l10 33v-26M6050 36v-68M6800 21v-42M6860 13v-24"/></g>
<g stroke="#00f" transform="translate(111.5,202.76) scale(0.1)"><path id="t13" d="M0 7v-22l10 20v-12l10 13v-13l10 16v-20l10 21v-19l10 20v-18l10 19v-23l10 18v-17l10 16v-19l10 24v-16l10 10v-11l10 17v-17l10 12v-16l10 23v-26l10 24v-20l10 14v-17l10 20v-13l10 11v-14l10 17v-20l10 20v-14l10 13v-19l10 22v-18l10 15v-15l10 19v-24l10 22v-17l10 20v-26l10 21v-14l10 12v-15l10 23v-20l10 19v-26l10 18v-15l10 19v-21l10 22v-16l10 14v-17l10 14v-16l10 16v-18l10 20v-13l10 16v-18l10 17v-15l10 12v-16l10 21v-15l10 10v-15l10 20v-17l10 12v-12l10 13v-17l10 21v-23l10 21v-17l10 15v-14l10 15v-20l10 18v-11l10 16v-21l10 20v-16l10 15v-18l10 15v-13l10 16v-19l10 17v-14l10 16v-14l10 17v-20l10 17v-17l10 18v-22l10 20v-14l10 19v-19l10 18v-21l10 22v-24l10 20v-23l10 22v-15l10 13v-12l10 15v-20l10 19v-15l10 14v-17l10 15v-12l10 20v-23l10 21v-23l10 16v-15l10 18v-14l10 17v-18l10 14v-14l10 21v-19l10 12v-17l10 17v-12l10 17v-16l10 13v-21l10 19v-11l10 15v-15l10 13v-18l10 21v-18l10 22v-31l10 22v-12l10 21v-21l10 12v-14l10 22v-24l10 17v-21l10 24v-22l10 17v-16l10 23v-22l10 15v-14l10 17v-14l10 11v-14l10 16v-12l10 16v-24l10 19v-12l10 18v-20l10 17v-21l10 19v-11l10 13v-19l10 18v-14l10 12v-17l10 19v-13l10 14v-18l10 16v-17l10 22v-20l10 13v-14l10 19v-20l10 23v-25l10 21v-18l10 15v-17l10 16v-13l10 18v-20l10 15v-12l10 12v-15l10 17v-11l10 15v-20l10 14v-13l10 13v-12l10 12v-12l10 13v-12l10 12v-18l10 24v-19l10 13v-12l10 15v-16l10 13v-15l10 24v-23l10 24v-30l10 23v-20l10 17v-16l10 15v-17l10 19v-13l10 12v-13l10 17v-18l10 14v-13l10 21v-26l10 22v-23l10 20v-19l10 17v-13l10 20v-25l10 24v-17l10 10v-14l10 15v-17l10 17v-12l10 12v-14l10 19v-15l10 11v-15l10 22v-26l10 20v-15l10 13v-11l10 17v-24l10 22v-16l10 16v-21l10 22v-23l10 19v-11l10 16v-18l10 14v-15l10 17v-21l10 19v-13l10 15v-20l10 19v-13l10 14v-19l10 15v-11l10 12v-11l10 12v-15l10 16v-17l10 16v-12l10 15v-18l10 14v-12l10 13v-12l10 10v-12l10 19v-18l10 16v-24l10 19v-14l10 15v-10l10 10v-10l10 13v-17l10 16v-15l10 17v-20l10 15v-12l10 15v-13l10 17v-17l10 18v-19l10 17v-16l10 10v-13l10 19v-16l10 18v-22l10 15v-17l10 21v-17l10 14v-13l10 17v-16l10 10v-13l10 15v-18l10 23v-23l10 17v-14l10 21v-20l10 15v-21l10 20v-16l10 21v-25l10 22v-15l10 20v-26l10 28v-28l10 20v-14l10 16v-20l10 20v-16l10 12v-14l10 15v-15l10 20v-17l10 13v-15l10 15v-15l10 14v-19l10 17v-15l10 18v-13l10 16v-24l10 22v-20l10 21v-18l10 14v-16l10 18v-13l10 13v-15l10 11v-12l10 12v-10l10 12v-10l10 11v-12l10 11v-18l10 18v-11l10 16v-19l10 20v-20l10 13v-12l10 17v-22l10 18v-11l10 12v-13l10 14v-13l10 10v-10l10 16v-16l10 14v-21l10 19v-17l10 21v-24l10 19v-13l10 18v-20l10 18v-15l10 11v-16l10 16v-13l10 18v-17l10 17v-17l10 11v-8l10 10v-12l10 16v-15l10 10v-9l10 11v-15l10 13v-9l10 11v-17l10 17v-13l10 14v-15l10 14v-20l10 24v-16l10 13v-15l10 15v-16l10 17v-14l10 13v-19l10 16v-15l10 21v-18l10 13v-12l10 16v-16l10 14v-18l10 16v-11l10 11v-17l10 19v-13l10 16v-21l10 19v-20l10 18v-12l10 14v-22l10 21v-24l10 28v-21l10 17v-14l10 18v-18l10 15v-20l10 17v-12l10 13v-19l10 23v-21l10 23v-24l10 21v-25l10 25v-15l10 11v-14l10 14v-17l10 23v-18l10 11v-12l10 14v-11l10 11v-16l10 17v-13l10 12v-14l10 18v-16l10 13v-14l10 12v-15l10 16v-15l10 15v-11l10 9v-9l10 9v-14l10 15v-13l10 11v-8l10 10v-11l10 10v-15l10 18v-19l10 19v-13l10 10v-11l10 16v-15l10 17v-20l10 14v-18l10 29v-33l10 25v-21l10 23v-20l10 16v-16l10 14v-15l10 21v-18l10 19v-20l10 18v-21l10 18v-15l10 18v-17l10 14v-12l10 16v-18l10 19v-20l10 13v-16l10 18v-16l10 19v-20l10 15v-13l10 15v-13l10 13v-18l10 20v-14l10 15v-20l10 23v-30l10 34v-31l10 27v-27l10 26v-23l10 18v-22l10 28v-19l10 13v-16l10 22v-28l10 30v-27l10 21v-17l10 22v-23l10 18v-19l10 17v-18l10 26v-30l10 28v-24l10 22v-23l10 21v-16l10 19v-21l10 17v-14l10 12v-16l10 21v-20l10 19v-16l10 11v-10l10 13v-17l10 18v-19l10 19v-20l10 17v-12l10 11v-13l10 18v-22l10 20v-12l10 12v-15l10 14v-16l10 19v-18l10 18v-15l10 14v-16l10 12v-12l10 15v-15l10 13v-15l10 16v-19l10 26v-27l10 23v-18l10 17v-20l10 23v-17l10 12v-14l10 12v-14l10 14v-9l10 9v-16l10 18v-13l10 15v-17l10 17v-19l10 23v-27l10 28v-21l10 15v-13l10 18v-25l10 24v-18l10 14v-21l10 23v-22l10 23v-16l10 10v-15l10 17v-11l10 10v-15l10 17v-18l10 16v-16l10 19v-17l10 14v-12l10 14v-14l10 20v-23l10 16v-17l10 24v-24l10 23v-22l10 16v-15l10 15v-12l10 11v-12l10 14v-16l10 12v-12l10 17v-14l10 13v-16l10 14v-15l10 17v-19l10 19v-16l10 13v-10l10 10v-14l10 15v-13l10 13v-13l10 17v-15l10 17v-23l10 19v-18l10 22v-18l10 15v-15l10 13v-17l10 17v-15l10 20v-19l10 17v-20l10 18v-14l10 16v-20l10 16v-15l10 21v-19l10 16v-19l10 22v-21l10 14v-14l10 22v-19l10 14v-17l10 16v-20l10 24v-21l10 19v-14l10 10v-11l10 14v-15l10 16v-16l10 13v-14l10 22v-20l10 15v-14l10 13v-13l10 11v-12l10 13v-16l10 14v-11l10 15v-16l10 14v-13l10 12v-16l10 17v-15l10 18v-16l10 11v-10l10 12v-18l10 23v-23l10 17v-13l10 12v-12l10 12v-10l10 10v-9l10 14v-16l10 12v-14l10 12v-12l10 15v-15l10 16v-14l10 18v-17l10 15v-24l10 28v-23l10 17v-21l10 20v-17l10 15v-18l10 21v-14l10 18v-22l10 24v-27l10 19v-12l10 13v-19l10 21v-20l10 17v-12l10 17v-16l10 13v-18l10 21v-19l10 18v-17l10 21v-23l10 15v-12l10 15v-16l10 18v-22l10 15v-14l10 19v-16l10 16v-17l10 16v-15l10 12v-10l10 10v-15l10 17v-18l10 20v-15l10 13v-17l10 21v-19l10 15v-13l10 11v-13l10 19v-21l10 19v-21l10 25v-18l10 11v-14l10 20v-17l10 13v-14l10 13v-11l10 14v-16l10 13v-16l10 16v-12l10 10v-11l10 12v-12l10 19v-18l10 13v-18l10 17v-14l10 19v-21l10 19v-20l10 17v-14l10 20v-20l10 12v-13l10 18v-16l10 12v-13l10 13v-14l10 19v-20l10 22v-19l10 18v-25l10 19v-16l10 16v-16l10 18v-15l10 17v-17l10 20v-22l10 17v-18l10 16v-11l10 15v-15l10 11v-18l10 21v-19l10 17v-19l10 23v-22l10 16v-14l10 20v-21l10 23v-26l10 19v-11l10 10v-10l10 14v-19l10 22v-25l10 20v-13l10 19v-23l10 15v-15l10 17v-18l10 18v-14l10 17v-18l10 15v-16l10 21v-19l10 13v-13l10 20v-23l10 18v-15l10 15v-18l10 20v-17l10 16v-19l10 15v-13l10 16v-15l10 21v-27l10 22v-20l10 18v-12l10 19v-20l10 17v-18l10 18v-20l10 15v-15l10 18v-13l10 10v-12l10 13v-19l10 23v-17l10 13v-21l10 24v-21l10 17v-15l10 21v-25l10 19v-12l10 13v-16l10 18v-14l10 15v-18l10 21v-20l10 17v-19l10 23v-23l10 15v-15l10 20v-18l10 13v-11l10 11v-13l10 13v-14l10 12v-10l10 16v-16l10 10v-8l10 13v-14l10 11v-13l10 16v-18l10 13v-9l10 10v-11l10 11v-10l10 11v-11l10 15v-20l10 17v-12l10 11v-16l10 17v-15l10 21v-21l10 18v-18l10 16v-16l10 16v-13l10 15v-17l10 13v-14l10 12v-13l10 16v-11l10 9v-12l10 13v-12l10 11v-14l10 18v-15l10 10v-9l10 11v-11l10 12v-12l10 15v-20l10 15v-16l10 16v-11l10 11v-16l10 23v-17l10 13v-19l10 19v-20l10 24v-18l10 20v-22l10 14v-15l10 18v-17l10 20v-22l10 19v-20l10 23v-24l10 19v-14l10 21v-21l10 13v-18l10 20v-22l10 21v-14l10 11v-11l10 19v-19l10 20v-26l10 20v-16l10 15v-14l10 17v-17l10 19v-18l10 16v-19l10 17v-19l10 22v-22l10 23v-17l10 16v-17l10 16v-20l10 24v-22l10 23v-38l10 37v-35l10 40v-29l10 18v-17l10 23v-24l10 18v-14l10 16v-22l10 26v-22l10 18v-15l10 12v-13l10 20v-20l10 18v-17l10 18v-20l10 17v-18l10 15v-17l10 23v-18l10 17v-18l10 15v-12l10 10v-13l10 12v-13l10 20v-22l10 17v-18l10 19v-19l10 22v-19l10 20v-17l10 17v-25l10 24v-20l10 25v-29l10 35v-43l10 39v-37l10 27v-15l10 20v-22l10 18v-21l10 19v-20l10 19v-17l10 18v-12l10 18v-24l10 19v-13l10 17v-21l10 18v-16l10 21v-28l10 22v-14l10 15v-15l10 11v-13l10 21v-21l10 14v-15l10 20v-23l10 21v-16l10 19v-22l10 18v-14l10 11v-18l10 21v-19l10 24v-19l10 12v-18l10 25v-22l10 18v-21l10 20v-14l10 19v-19l10 12v-15"/><use href="#t13" transform="translate(5,0) scale(1,-.85)"/><path d="M2060 25v-45M3110 23v-47l10 38v-26M3180 16v-31M3330 17v-32l10 28v-23M3470 23v-44M3830 13v-26M4300 13v-29M5790 15v-30M6470 40v-76l10 59v-45M6750 30v-62l10 45v-29"/></g>
<g stroke="#f00" transform="translate(111.5,214.93) scale(0.1)"><path id="t14" d="M0 7v-20l10 18v-13l10 21v-24l10 23v-25l10 26v-29l10 22v-17l10 24v-22l10 16v-13l10 14v-14l10 18v-24l10 23v-20l10 23v-21l10 14v-16l10 25v-25l10 25v-29l10 30v-31l10 28v-32l10 28v-21l10 19v-23l10 27v-25l10 19v-14l10 15v-20l10 21v-15l10 13v-12l10 17v-18l10 13v-15l10 18v-16l10 16v-19l10 19v-20l10 24v-19l10 13v-15l10 18v-16l10 18v-17l10 11v-18l10 21v-16l10 21v-20l10 17v-18l10 17v-17l10 14v-14l10 18v-21l10 17v-22l10 24v-20l10 22v-16l10 15v-15l10 11v-12l10 14v-16l10 23v-28l10 25v-20l10 16v-16l10 14v-15l10 16v-15l10 15v-13l10 20v-20l10 14v-17l10 15v-17l10 23v-22l10 22v-26l10 20v-18l10 25v-26l10 22v-20l10 19v-15l10 17v-23l10 21v-19l10 17v-17l10 16v-12l10 13v-14l10 14v-12l10 22v-25l10 24v-22l10 14v-16l10 19v-17l10 18v-24l10 27v-25l10 25v-26l10 19v-13l10 17v-17l10 17v-17l10 13v-13l10 12v-13l10 19v-21l10 19v-21l10 20v-17l10 15v-14l10 17v-17l10 19v-24l10 19v-14l10 18v-19l10 17v-16l10 14v-18l10 17v-19l10 20v-13l10 14v-14l10 13v-15l10 19v-16l10 10v-12l10 17v-19l10 18v-18l10 16v-18l10 19v-14l10 17v-23l10 17v-16l10 18v-21l10 22v-15l10 14v-13l10 12v-14l10 17v-23l10 24v-17l10 16v-26l10 30v-20l10 22v-22l10 13v-20l10 29v-30l10 26v-19l10 15v-14l10 15v-18l10 24v-19l10 20v-25l10 22v-19l10 22v-29l10 27v-40l10 45v-39l10 32v-27l10 25v-21l10 19v-24l10 26v-21l10 26v-29l10 24v-17l10 15v-20l10 23v-21l10 18v-19l10 19v-15l10 15v-18l10 16v-10l10 18v-22l10 20v-17l10 13v-15l10 16v-23l10 26v-18l10 16v-19l10 18v-14l10 17v-18l10 19v-19l10 12v-10l10 12v-12l10 13v-17l10 18v-19l10 18v-22l10 22v-18l10 17v-15l10 14v-17l10 18v-15l10 18v-20l10 19v-17l10 16v-23l10 23v-20l10 19v-13l10 18v-22l10 16v-12l10 16v-16l10 14v-22l10 24v-15l10 12v-14l10 13v-17l10 24v-21l10 19v-20l10 16v-15l10 17v-16l10 12v-11l10 15v-16l10 15v-14l10 12v-12l10 13v-19l10 18v-14l10 18v-22l10 25v-24l10 24v-20l10 16v-23l10 26v-19l10 16v-22l10 22v-24l10 21v-13l10 17v-21l10 23v-20l10 22v-27l10 19v-16l10 18v-20l10 20v-15l10 18v-22l10 18v-16l10 17v-21l10 19v-13l10 14v-18l10 19v-20l10 27v-29l10 22v-19l10 17v-19l10 23v-24l10 29v-31l10 26v-16l10 11v-17l10 20v-13l10 11v-14l10 13v-12l10 18v-23l10 18v-20l10 20v-18l10 22v-18l10 14v-17l10 25v-20l10 12v-13l10 17v-26l10 29v-26l10 29v-29l10 28v-22l10 21v-23l10 21v-23l10 21v-20l10 24v-24l10 21v-19l10 17v-16l10 18v-20l10 21v-18l10 12v-14l10 16v-16l10 14v-14l10 18v-25l10 23v-17l10 17v-15l10 14v-16l10 18v-17l10 17v-19l10 16v-18l10 23v-18l10 16v-22l10 32v-30l10 24v-26l10 23v-19l10 23v-23l10 19v-26l10 22v-21l10 27v-23l10 26v-23l10 22v-28l10 21v-16l10 20v-17l10 16v-18l10 16v-20l10 26v-25l10 23v-19l10 15v-21l10 21v-19l10 22v-22l10 17v-11l10 13v-17l10 14v-17l10 17v-16l10 20v-15l10 17v-26l10 22v-19l10 21v-18l10 22v-28l10 26v-20l10 34v-42l10 27v-20l10 21v-22l10 24v-21l10 23v-24l10 21v-29l10 29v-20l10 20v-25l10 24v-22l10 24v-22l10 16v-17l10 15v-16l10 17v-14l10 14v-21l10 22v-14l10 13v-14l10 16v-13l10 11v-15l10 16v-18l10 24v-24l10 20v-17l10 16v-20l10 25v-22l10 25v-33l10 29v-20l10 25v-33l10 26v-20l10 24v-27l10 26v-22l10 21v-21l10 21v-25l10 21v-20l10 21v-21l10 24v-21l10 20v-18l10 17v-19l10 18v-21l10 24v-21l10 17v-14l10 19v-22l10 14v-12l10 13v-16l10 16v-16l10 19v-16l10 16v-15l10 17v-20l10 16v-15l10 22v-28l10 20v-18l10 25v-19l10 12v-14l10 20v-23l10 26v-24l10 33v-46l10 33v-24l10 30v-24l10 24v-30l10 19v-19l10 27v-30l10 31v-22l10 14v-16l10 15v-13l10 14v-13l10 13v-18l10 24v-19l10 18v-19l10 13v-12l10 12v-17l10 22v-25l10 27v-20l10 21v-21l10 15v-15l10 14v-21l10 24v-24l10 22v-14l10 19v-18l10 12v-13l10 18v-22l10 16v-11l10 12v-16l10 20v-22l10 16v-16l10 20v-16l10 17v-19l10 20v-27l10 27v-25l10 29v-36l10 34v-29l10 31v-26l10 19v-15l10 17v-17l10 17v-18l10 18v-18l10 20v-19l10 18v-26l10 28v-24l10 19v-15l10 14v-14l10 15v-20l10 21v-20l10 19v-13l10 17v-17l10 15v-23l10 19v-12l10 13v-13l10 20v-27l10 23v-18l10 19v-25l10 24v-24l10 21v-15l10 15v-15l10 19v-23l10 23v-19l10 17v-15l10 12v-14l10 14v-14l10 18v-18l10 16v-20l10 26v-21l10 13v-12l10 13v-18l10 16v-14l10 17v-16l10 18v-23l10 23v-17l10 14v-16l10 19v-20l10 16v-12l10 19v-23l10 21v-21l10 17v-14l10 18v-16l10 13v-15l10 16v-15l10 11v-10l10 17v-19l10 13v-17l10 18v-16l10 16v-23l10 25v-23l10 20v-19l10 19v-15l10 21v-18l10 16v-23l10 22v-16l10 20v-25l10 19v-13l10 12v-13l10 20v-20l10 20v-24l10 24v-26l10 21v-15l10 13v-19l10 23v-16l10 14v-17l10 14v-13l10 17v-15l10 13v-18l10 18v-16l10 21v-21l10 17v-16l10 19v-17l10 14v-20l10 21v-16l10 17v-17l10 17v-16l10 15v-16l10 13v-13l10 19v-19l10 13v-11l10 13v-19l10 20v-17l10 21v-23l10 17v-15l10 16v-16l10 21v-19l10 14v-14l10 15v-15l10 20v-24l10 22v-25l10 25v-20l10 13v-13l10 14v-20l10 26v-18l10 19v-24l10 23v-23l10 18v-16l10 18v-21l10 18v-16l10 25v-22l10 19v-21l10 22v-20l10 17v-23l10 23v-15l10 10v-11l10 11v-14l10 15v-14l10 20v-18l10 12v-12l10 15v-16l10 20v-22l10 17v-14l10 12v-14l10 16v-15l10 19v-17l10 14v-17l10 20v-22l10 15v-11l10 15v-14l10 13v-18l10 22v-24l10 25v-24l10 25v-25l10 24v-24l10 25v-23l10 21v-23l10 17v-17l10 18v-16l10 14v-10l10 11v-13l10 15v-20l10 26v-23l10 17v-16l10 23v-22l10 21v-29l10 23v-15l10 16v-24l10 23v-15l10 21v-20l10 20v-21l10 18v-25l10 26v-25l10 19v-14l10 17v-17l10 21v-22l10 18v-22l10 28v-26l10 28v-38l10 40v-34l10 28v-25l10 26v-33l10 32v-23l10 18v-19l10 23v-20l10 16v-19l10 23v-18l10 14v-23l10 25v-16l10 12v-11l10 15v-17l10 12v-12l10 18v-25l10 28v-26l10 31v-34l10 26v-25l10 27v-26l10 23v-19l10 26v-25l10 17v-17l10 16v-15l10 18v-17l10 17v-17l10 17v-18l10 15v-16l10 22v-27l10 23v-25l10 22v-13l10 13v-12l10 12v-17l10 17v-12l10 12v-17l10 21v-19l10 15v-12l10 15v-16l10 13v-16l10 17v-19l10 24v-19l10 14v-22l10 21v-12l10 18v-26l10 22v-18l10 22v-29l10 25v-18l10 17v-23l10 23v-21l10 21v-14l10 12v-16l10 25v-26l10 25v-28l10 27v-23l10 17v-18l10 24v-20l10 13v-13l10 22v-26l10 24v-25l10 18v-14l10 14v-14l10 15v-20l10 18v-13l10 13v-11l10 16v-23l10 22v-21l10 19v-20l10 20v-18l10 20v-16l10 15v-18l10 25v-28l10 24v-23l10 22v-19l10 21v-19l10 15v-12l10 11v-21l10 25v-27l10 31v-29l10 22v-23l10 25v-27l10 23v-16l10 20v-16l10 14v-17l10 14v-14l10 14v-14l10 16v-18l10 20v-16l10 13v-16l10 17v-14l10 15v-22l10 23v-21l10 22v-17l10 12v-13l10 16v-20l10 20v-17l10 15v-14l10 14v-11l10 10v-18l10 19v-11l10 11v-13l10 18v-21l10 17v-18l10 24v-26l10 24v-19l10 14v-12l10 14v-19l10 23v-20l10 17v-18l10 26v-26l10 30v-49l10 44v-34l10 35v-30l10 24v-24l10 25v-18l10 13v-17l10 18v-19l10 17v-19l10 23v-16l10 14v-15l10 13v-12l10 17v-16l10 15v-20l10 16v-15l10 19v-17l10 16v-19l10 21v-18l10 14v-18l10 24v-21l10 16v-16l10 15v-19l10 23v-16l10 14v-15l10 14v-17l10 19v-15l10 12v-14l10 17v-18l10 18v-22l10 20v-19l10 23v-26l10 21v-21l10 20v-17l10 21v-17l10 16v-16l10 17v-16l10 12v-16l10 15v-18l10 24v-19l10 20v-18l10 17v-18l10 20v-19l10 15v-22l10 26v-19l10 13v-13l10 13v-17l10 21v-18l10 18v-23l10 23v-17l10 13v-17l10 15v-12l10 18v-17l10 18v-17l10 10v-13l10 14v-20l10 22v-21l10 22v-24l10 21v-16l10 23v-27l10 21v-13l10 14v-14l10 20v-20l10 14v-20l10 18v-15l10 15v-16l10 18v-16l10 15v-18l10 21v-23l10 22v-19l10 25v-29l10 21v-14l10 17v-16l10 16v-16l10 18v-21l10 23v-27l10 21v-23l10 23v-20l10 22v-21l10 18v-16l10 16v-17l10 23v-20l10 18v-16l10 15v-15l10 10v-18l10 29v-29l10 22v-25l10 22v-20l10 28v-23l10 16v-14l10 16v-17l10 19v-17l10 13v-21l10 24v-17l10 17v-21l10 23v-19l10 17v-16l10 13v-15l10 20v-23l10 21v-23l10 19v-13l10 17v-18"/><use href="#t14" transform="translate(5,0) scale(1,-.85)"/><path d="M140 31v-60l10 44v-31M1190 38v-74l10 59v-47M1640 17v-33M2340 27v-60M2620 19v-36M2840 18v-37M3150 29v-57l10 42v-29M3460 27v-54l10 49v-43M4730 19v-36M4980 19v-43M5140 31v-61l10 46v-36M5250 15v-33M5500 15v-31M5740 28v-56M6070 28v-61l10 48v-29M6800 17v-33"/></g>
<g stroke="#00f" transform="translate(111.5,227.10) scale(0.1)"><path id="t15" d="M0 10v-18l10 14v-16l10 19v-15l10 12v-16l10 16v-19l10 18v-9l10 11v-17l10 21v-16l10 16v-23l10 20v-18l10 16v-14l10 12v-9l10 10v-18l10 24v-18l10 15v-14l10 17v-26l10 26v-21l10 17v-16l10 18v-14l10 17v-24l10 18v-17l10 21v-16l10 15v-19l10 20v-22l10 23v-26l10 22v-20l10 22v-16l10 18v-23l10 19v-17l10 15v-10l10 13v-13l10 11v-15l10 14v-14l10 19v-18l10 23v-21l10 17v-18l10 16v-20l10 16v-10l10 15v-22l10 18v-13l10 16v-16l10 16v-24l10 37v-34l10 19v-14l10 19v-20l10 21v-25l10 25v-24l10 18v-16l10 15v-15l10 16v-12l10 10v-14l10 17v-19l10 17v-12l10 14v-17l10 19v-21l10 16v-10l10 13v-20l10 22v-17l10 15v-18l10 17v-19l10 21v-17l10 14v-16l10 14v-11l10 16v-14l10 14v-14l10 11v-21l10 24v-23l10 24v-24l10 30v-22l10 12v-21l10 27v-25l10 23v-16l10 14v-13l10 15v-23l10 21v-16l10 17v-15l10 17v-17l10 19v-25l10 21v-18l10 21v-17l10 15v-21l10 23v-19l10 18v-19l10 19v-21l10 16v-17l10 16v-11l10 14v-14l10 11v-13l10 14v-18l10 18v-17l10 18v-14l10 13v-14l10 14v-11l10 11v-17l10 21v-20l10 23v-20l10 17v-21l10 15v-12l10 16v-12l10 9v-12l10 11v-8l10 9v-14l10 14v-11l10 15v-13l10 14v-21l10 19v-18l10 17v-15l10 19v-23l10 22v-15l10 19v-24l10 24v-21l10 19v-24l10 20v-18l10 16v-18l10 21v-21l10 22v-16l10 10v-14l10 19v-17l10 16v-13l10 18v-25l10 24v-19l10 14v-17l10 15v-12l10 14v-16l10 17v-13l10 15v-17l10 16v-15l10 12v-14l10 15v-15l10 19v-24l10 24v-22l10 21v-23l10 19v-20l10 29v-26l10 22v-22l10 16v-12l10 13v-10l10 14v-20l10 18v-14l10 19v-23l10 21v-21l10 18v-21l10 20v-19l10 22v-18l10 19v-20l10 14v-11l10 14v-20l10 20v-18l10 17v-15l10 13v-12l10 15v-18l10 16v-11l10 11v-15l10 13v-8l10 14v-17l10 13v-13l10 12v-13l10 15v-17l10 16v-13l10 19v-19l10 23v-28l10 21v-18l10 30v-35l10 25v-26l10 27v-21l10 24v-22l10 21v-28l10 29v-24l10 18v-17l10 13v-15l10 21v-19l10 18v-15l10 17v-18l10 19v-22l10 22v-19l10 15v-22l10 23v-24l10 25v-18l10 13v-18l10 17v-13l10 20v-19l10 15v-15l10 17v-16l10 15v-17l10 15v-16l10 25v-25l10 18v-20l10 17v-15l10 14v-14l10 16v-13l10 17v-20l10 16v-18l10 20v-22l10 24v-19l10 14v-12l10 11v-15l10 20v-19l10 16v-16l10 19v-19l10 14v-10l10 15v-21l10 22v-16l10 10v-14l10 16v-12l10 13v-19l10 22v-15l10 14v-16l10 14v-13l10 16v-17l10 14v-12l10 14v-16l10 17v-20l10 20v-22l10 17v-12l10 11v-11l10 16v-19l10 16v-17l10 17v-11l10 12v-18l10 21v-17l10 10v-10l10 11v-12l10 17v-14l10 14v-14l10 9v-9l10 8v-8l10 11v-19l10 19v-19l10 18v-18l10 24v-19l10 12v-16l10 17v-16l10 23v-19l10 14v-13l10 14v-14l10 11v-20l10 19v-14l10 19v-16l10 18v-22l10 24v-33l10 29v-25l10 26v-19l10 15v-15l10 21v-23l10 18v-17l10 22v-23l10 22v-23l10 20v-14l10 11v-15l10 23v-30l10 33v-35l10 37v-36l10 30v-25l10 21v-19l10 22v-19l10 18v-19l10 13v-13l10 19v-18l10 14v-19l10 19v-18l10 26v-24l10 16v-22l10 29v-26l10 26v-28l10 25v-24l10 22v-14l10 11v-13l10 12v-12l10 18v-19l10 15v-13l10 15v-16l10 13v-11l10 15v-16l10 13v-15l10 14v-16l10 23v-23l10 15v-10l10 12v-17l10 16v-14l10 18v-19l10 22v-18l10 14v-18l10 19v-22l10 21v-15l10 12v-16l10 15v-11l10 20v-22l10 21v-23l10 19v-23l10 22v-15l10 21v-26l10 25v-19l10 12v-15l10 17v-15l10 16v-14l10 13v-19l10 18v-13l10 13v-18l10 20v-18l10 17v-15l10 15v-13l10 12v-12l10 11v-11l10 13v-18l10 15v-14l10 14v-13l10 14v-20l10 20v-19l10 25v-17l10 14v-20l10 20v-15l10 11v-12l10 12v-16l10 16v-12l10 21v-31l10 39v-43l10 36v-31l10 30v-21l10 18v-18l10 13v-16l10 16v-19l10 19v-11l10 10v-17l10 20v-18l10 18v-15l10 17v-16l10 10v-9l10 10v-15l10 16v-16l10 21v-16l10 10v-14l10 17v-15l10 12v-15l10 23v-26l10 20v-16l10 17v-22l10 20v-13l10 18v-26l10 24v-21l10 19v-14l10 15v-18l10 18v-21l10 23v-21l10 19v-13l10 13v-20l10 24v-19l10 17v-19l10 14v-10l10 18v-21l10 20v-24l10 20v-21l10 21v-20l10 20v-19l10 17v-11l10 11v-11l10 15v-17l10 15v-13l10 14v-14l10 13v-15l10 11v-13l10 14v-11l10 15v-19l10 15v-16l10 20v-17l10 16v-15l10 13v-18l10 18v-13l10 15v-19l10 15v-9l10 10v-10l10 10v-12l10 16v-15l10 11v-11l10 15v-19l10 15v-16l10 20v-16l10 15v-22l10 25v-25l10 26v-18l10 14v-14l10 16v-19l10 18v-15l10 14v-21l10 25v-25l10 23v-15l10 10v-13l10 19v-22l10 18v-15l10 20v-24l10 28v-27l10 20v-17l10 14v-16l10 23v-19l10 14v-14l10 13v-15l10 17v-20l10 20v-19l10 23v-25l10 24v-22l10 24v-22l10 15v-18l10 24v-19l10 15v-19l10 17v-14l10 12v-17l10 21v-14l10 14v-13l10 9v-16l10 19v-19l10 21v-16l10 15v-14l10 11v-17l10 18v-15l10 15v-13l10 16v-18l10 18v-15l10 15v-16l10 13v-21l10 19v-16l10 23v-25l10 22v-18l10 23v-26l10 22v-21l10 22v-19l10 16v-20l10 23v-23l10 22v-20l10 18v-15l10 12v-13l10 17v-17l10 16v-15l10 16v-14l10 10v-12l10 17v-22l10 19v-12l10 16v-23l10 19v-16l10 16v-20l10 25v-24l10 24v-33l10 30v-19l10 25v-24l10 24v-29l10 26v-27l10 25v-20l10 18v-17l10 15v-12l10 14v-20l10 21v-20l10 17v-12l10 18v-20l10 15v-18l10 18v-15l10 19v-19l10 14v-14l10 15v-13l10 19v-19l10 13v-15l10 20v-24l10 17v-15l10 21v-16l10 13v-19l10 16v-16l10 19v-21l10 21v-27l10 39v-30l10 30v-38l10 28v-25l10 30v-24l10 24v-29l10 23v-22l10 20v-19l10 28v-27l10 20v-17l10 20v-18l10 15v-22l10 20v-15l10 22v-24l10 15v-15l10 21v-18l10 17v-21l10 18v-16l10 15v-15l10 18v-24l10 24v-17l10 16v-15l10 17v-20l10 15v-9l10 10v-12l10 11v-12l10 11v-8l10 9v-10l10 16v-23l10 22v-16l10 12v-14l10 14v-15l10 19v-16l10 15v-15l10 12v-18l10 18v-19l10 19v-18l10 18v-14l10 19v-18l10 11v-12l10 14v-11l10 12v-12l10 15v-20l10 20v-23l10 18v-18l10 20v-14l10 12v-14l10 18v-14l10 10v-12l10 11v-9l10 16v-18l10 14v-18l10 22v-23l10 18v-17l10 23v-17l10 14v-14l10 13v-15l10 16v-18l10 20v-24l10 22v-17l10 19v-20l10 21v-26l10 24v-23l10 20v-20l10 20v-17l10 18v-19l10 18v-17l10 17v-16l10 14v-10l10 13v-16l10 14v-12l10 14v-21l10 21v-14l10 19v-25l10 18v-18l10 22v-22l10 18v-17l10 18v-19l10 20v-15l10 22v-21l10 11v-17l10 22v-14l10 14v-15l10 15v-17l10 21v-21l10 13v-15l10 14v-12l10 12v-9l10 15v-16l10 10v-10l10 11v-17l10 21v-17l10 13v-15l10 16v-15l10 13v-15l10 15v-10l10 10v-17l10 20v-13l10 10v-14l10 21v-19l10 17v-21l10 16v-13l10 18v-16l10 13v-13l10 20v-20l10 14v-16l10 18v-24l10 25v-22l10 18v-13l10 13v-19l10 24v-21l10 18v-16l10 17v-17l10 16v-15l10 13v-12l10 11v-13l10 16v-14l10 18v-19l10 17v-17l10 11v-18l10 18v-12l10 16v-18l10 16v-21l10 27v-19l10 15v-23l10 21v-17l10 20v-20l10 18v-15l10 13v-11l10 13v-13l10 17v-21l10 18v-14l10 12v-17l10 18v-12l10 10v-14l10 12v-13l10 14v-11l10 15v-20l10 23v-17l10 10v-10l10 16v-16l10 15v-17l10 13v-13l10 15v-16l10 18v-16l10 15v-14l10 13v-14l10 14v-14l10 13v-12l10 12v-12l10 10v-15l10 18v-15l10 18v-17l10 20v-23l10 41v-64l10 44v-26l10 25v-27l10 30v-24l10 24v-26l10 18v-14l10 16v-14l10 15v-14l10 19v-28l10 27v-19l10 13v-17l10 18v-19l10 21v-24l10 23v-20l10 22v-19l10 18v-18l10 19v-20l10 16v-18l10 16v-10l10 11v-12l10 11v-12l10 12v-14l10 20v-19l10 17v-19l10 17v-18l10 20v-16l10 20v-24l10 20v-16l10 16v-17l10 12v-9l10 11v-13l10 17v-16l10 14v-13l10 11v-14l10 16v-16l10 19v-17l10 16v-17l10 17v-16l10 12v-12l10 14v-18l10 20v-21l10 19v-13l10 11v-17l10 17v-13l10 17v-15l10 15v-16l10 14v-16l10 14v-16l10 19v-18l10 16v-16l10 16v-16l10 18v-21l10 18v-17l10 18v-13l10 12v-14l10 14v-18l10 19v-19l10 18v-12l10 14v-15l10 17v-18l10 14v-15l10 18v-21l10 24v-21l10 15v-18l10 25v-24l10 18v-15l10 15v-14l10 16v-15l10 12v-13l10 12v-15l10 18v-13l10 14v-20l10 22v-17l10 11v-13l10 15v-17l10 18v-13l10 13v-18l10 19v-20l10 21v-15l10 15v-15l10 13v-19l10 20v-14l10 13v-13l10 11v-17l10 16v-16l10 19v-16l10 18v-23l10 26v-22l10 19v-21"/><use href="#t15" transform="translate(5,0) scale(1,-.85)"/><path d="M420 32v-67l10 47v-26M1610 23v-52l10 44v-29M2390 30v-60M2500 28v-59l10 48v-32M2580 20v-39M2620 16v-35M3150 28v-56M3880 12v-25M4370 17v-32M4430 34v-60M4640 29v-61l10 50v-39M4840 15v-31M6180 38v-76l10 54v-32"/></g>
<g stroke="#f00" transform="translate(111.5,239.27) scale(0.1)"><path id="t16" d="M0 7v-17l10 16v-13l10 19v-19l10 13v-13l10 16v-16l10 16v-19l10 16v-11l10 16v-18l10 11v-8l10 12v-13l10 11v-15l10 20v-19l10 16v-15l10 15v-16l10 17v-17l10 19v-20l10 17v-20l10 20v-14l10 14v-14l10 14v-21l10 26v-20l10 19v-25l10 20v-19l10 21v-21l10 22v-18l10 16v-15l10 14v-20l10 26v-25l10 24v-23l10 17v-21l10 22v-17l10 17v-16l10 18v-18l10 16v-16l10 16v-19l10 22v-21l10 17v-19l10 25v-20l10 18v-19l10 21v-18l10 16v-19l10 17v-13l10 13v-22l10 24v-16l10 18v-19l10 13v-13l10 14v-12l10 10v-11l10 11v-17l10 17v-13l10 18v-18l10 15v-14l10 19v-19l10 14v-14l10 14v-14l10 19v-19l10 19v-17l10 14v-20l10 17v-15l10 18v-21l10 24v-23l10 17v-13l10 19v-17l10 10v-11l10 11v-12l10 18v-16l10 14v-21l10 33v-38l10 28v-20l10 15v-14l10 19v-18l10 19v-22l10 15v-11l10 11v-14l10 14v-12l10 20v-25l10 24v-24l10 23v-22l10 21v-23l10 22v-16l10 19v-20l10 13v-16l10 19v-13l10 11v-12l10 15v-14l10 12v-19l10 23v-18l10 20v-21l10 14v-18l10 18v-16l10 17v-18l10 19v-13l10 10v-12l10 11v-9l10 15v-22l10 21v-18l10 16v-20l10 22v-20l10 22v-21l10 19v-15l10 12v-11l10 17v-26l10 25v-17l10 15v-18l10 20v-20l10 15v-12l10 13v-16l10 15v-19l10 19v-16l10 16v-11l10 10v-15l10 20v-23l10 25v-23l10 21v-18l10 13v-10l10 15v-17l10 12v-15l10 16v-11l10 16v-20l10 19v-15l10 14v-16l10 18v-21l10 17v-15l10 20v-18l10 19v-20l10 12v-11l10 13v-15l10 15v-13l10 16v-15l10 15v-16l10 18v-23l10 20v-17l10 13v-10l10 10v-10l10 15v-20l10 16v-16l10 18v-16l10 15v-19l10 19v-14l10 19v-21l10 19v-17l10 12v-16l10 17v-13l10 14v-19l10 21v-18l10 20v-19l10 26v-28l10 20v-16l10 14v-21l10 26v-22l10 17v-16l10 17v-18l10 24v-28l10 26v-20l10 15v-18l10 18v-19l10 25v-23l10 30v-41l10 29v-23l10 22v-15l10 16v-22l10 19v-19l10 21v-20l10 22v-23l10 21v-14l10 12v-20l10 25v-22l10 18v-19l10 21v-16l10 16v-20l10 17v-12l10 12v-20l10 27v-24l10 17v-12l10 13v-14l10 14v-17l10 19v-15l10 21v-24l10 16v-13l10 16v-16l10 15v-16l10 18v-20l10 18v-18l10 19v-17l10 13v-14l10 15v-15l10 14v-17l10 18v-17l10 18v-18l10 20v-23l10 20v-19l10 19v-18l10 21v-22l10 25v-22l10 22v-20l10 13v-13l10 21v-23l10 22v-19l10 14v-15l10 17v-24l10 23v-16l10 13v-17l10 19v-15l10 12v-10l10 12v-14l10 14v-13l10 18v-18l10 14v-14l10 13v-15l10 17v-19l10 20v-21l10 31v-40l10 40v-33l10 20v-16l10 22v-25l10 23v-24l10 24v-19l10 16v-17l10 19v-18l10 18v-22l10 22v-23l10 21v-13l10 12v-12l10 15v-21l10 19v-14l10 20v-22l10 15v-13l10 15v-20l10 15v-8l10 10v-12l10 18v-18l10 11v-13l10 14v-19l10 19v-13l10 13v-12l10 17v-18l10 14v-19l10 24v-22l10 16v-11l10 17v-18l10 14v-19l10 18v-12l10 15v-21l10 22v-19l10 20v-24l10 19v-12l10 12v-17l10 18v-16l10 21v-19l10 13v-15l10 15v-14l10 16v-16l10 13v-18l10 23v-20l10 21v-21l10 20v-21l10 20v-21l10 18v-12l10 12v-14l10 17v-17l10 14v-15l10 15v-13l10 16v-20l10 22v-17l10 11v-16l10 20v-16l10 15v-20l10 24v-21l10 14v-17l10 17v-16l10 17v-18l10 15v-12l10 16v-18l10 19v-19l10 16v-15l10 17v-17l10 15v-13l10 12v-11l10 16v-22l10 23v-16l10 13v-18l10 23v-26l10 18v-16l10 19v-18l10 15v-16l10 20v-15l10 13v-15l10 21v-18l10 16v-17l10 14v-17l10 19v-19l10 15v-16l10 22v-22l10 16v-14l10 15v-18l10 19v-17l10 17v-16l10 19v-20l10 15v-17l10 20v-17l10 13v-14l10 14v-11l10 13v-12l10 10v-11l10 16v-14l10 9v-11l10 11v-12l10 18v-24l10 19v-14l10 17v-15l10 11v-14l10 21v-23l10 19v-17l10 14v-12l10 12v-11l10 14v-19l10 21v-18l10 14v-10l10 8v-10l10 17v-17l10 19v-26l10 26v-24l10 24v-20l10 13v-12l10 13v-13l10 11v-13l10 12v-10l10 15v-13l10 10v-11l10 18v-22l10 25v-27l10 22v-23l10 22v-22l10 17v-12l10 20v-20l10 16v-15l10 16v-23l10 28v-23l10 19v-17l10 13v-21l10 24v-18l10 21v-18l10 14v-16l10 20v-19l10 14v-21l10 20v-12l10 14v-20l10 16v-12l10 18v-17l10 15v-16l10 14v-15l10 21v-20l10 28v-33l10 25v-27l10 27v-23l10 25v-24l10 23v-21l10 18v-23l10 20v-20l10 21v-18l10 20v-17l10 14v-14l10 17v-21l10 22v-22l10 19v-18l10 16v-13l10 17v-22l10 19v-14l10 11v-12l10 18v-18l10 17v-19l10 19v-15l10 15v-19l10 18v-16l10 16v-14l10 15v-15l10 9v-11l10 13v-12l10 11v-16l10 21v-21l10 23v-20l10 19v-18l10 13v-14l10 14v-15l10 19v-24l10 24v-22l10 24v-22l10 19v-15l10 14v-16l10 13v-13l10 15v-16l10 15v-11l10 12v-18l10 16v-16l10 16v-15l10 17v-15l10 16v-18l10 18v-17l10 18v-20l10 18v-22l10 24v-18l10 16v-23l10 24v-18l10 16v-11l10 16v-18l10 18v-18l10 17v-17l10 17v-21l10 19v-13l10 21v-30l10 21v-20l10 21v-16l10 19v-17l10 13v-14l10 15v-16l10 18v-15l10 12v-16l10 18v-20l10 17v-18l10 23v-16l10 10v-16l10 24v-27l10 20v-14l10 18v-16l10 14v-14l10 18v-19l10 22v-23l10 17v-22l10 23v-20l10 21v-20l10 15v-13l10 18v-17l10 17v-23l10 18v-11l10 16v-23l10 18v-12l10 14v-14l10 13v-15l10 13v-13l10 15v-23l10 31v-35l10 27v-16l10 17v-14l10 13v-15l10 21v-24l10 16v-12l10 15v-16l10 16v-19l10 16v-12l10 21v-25l10 22v-25l10 25v-21l10 24v-25l10 24v-20l10 18v-17l10 11v-12l10 21v-23l10 18v-19l10 22v-17l10 18v-19l10 17v-19l10 14v-19l10 22v-15l10 14v-14l10 15v-15l10 15v-15l10 13v-15l10 15v-18l10 16v-13l10 17v-19l10 15v-15l10 21v-16l10 10v-17l10 20v-20l10 17v-14l10 16v-16l10 16v-13l10 13v-17l10 20v-19l10 19v-15l10 12v-13l10 14v-14l10 16v-21l10 16v-16l10 18v-13l10 15v-15l10 13v-18l10 20v-19l10 22v-22l10 20v-23l10 23v-23l10 23v-22l10 17v-16l10 20v-14l10 11v-20l10 19v-14l10 15v-13l10 15v-15l10 12v-17l10 16v-11l10 11v-15l10 23v-19l10 14v-15l10 16v-17l10 15v-15l10 23v-23l10 21v-20l10 18v-16l10 18v-28l10 23v-21l10 29v-22l10 23v-24l10 19v-20l10 17v-16l10 14v-14l10 20v-18l10 20v-21l10 17v-19l10 22v-18l10 15v-21l10 21v-24l10 29v-31l10 23v-22l10 27v-19l10 16v-20l10 24v-20l10 12v-16l10 18v-18l10 21v-20l10 21v-16l10 15v-19l10 14v-14l10 16v-17l10 15v-10l10 13v-15l10 15v-18l10 17v-17l10 18v-13l10 14v-13l10 14v-18l10 13v-10l10 12v-14l10 18v-19l10 19v-17l10 10v-9l10 10v-16l10 22v-22l10 17v-16l10 15v-14l10 19v-15l10 12v-12l10 10v-10l10 14v-18l10 16v-15l10 20v-22l10 19v-14l10 14v-14l10 17v-20l10 21v-25l10 20v-17l10 21v-23l10 18v-21l10 19v-16l10 16v-11l10 15v-19l10 22v-20l10 14v-15l10 18v-19l10 21v-19l10 18v-21l10 19v-17l10 21v-17l10 13v-18l10 20v-17l10 21v-24l10 17v-14l10 12v-14l10 20v-16l10 10v-15l10 18v-14l10 12v-15l10 16v-12l10 12v-17l10 22v-20l10 20v-20l10 17v-21l10 17v-10l10 14v-16l10 13v-12l10 13v-18l10 19v-14l10 11v-13l10 15v-13l10 12v-11l10 13v-16l10 13v-12l10 13v-19l10 19v-13l10 16v-15l10 14v-15l10 15v-16l10 13v-11l10 12v-12l10 12v-15l10 21v-23l10 18v-13l10 16v-15l10 17v-22l10 20v-19l10 26v-35l10 26v-24l10 25v-19l10 24v-23l10 16v-18l10 22v-21l10 15v-14l10 20v-18l10 12v-14l10 14v-12l10 11v-8l10 9v-15l10 17v-13l10 12v-14l10 20v-19l10 17v-15l10 10v-12l10 18v-23l10 23v-17l10 16v-22l10 21v-18l10 18v-17l10 21v-19l10 11v-13l10 14v-11l10 10v-11l10 11v-14l10 18v-18l10 21v-20l10 20v-22l10 16v-11l10 10v-18l10 20v-14l10 13v-14l10 18v-20l10 25v-23l10 15v-14l10 20v-22l10 20v-20l10 18v-23l10 25v-20l10 22v-18l10 17v-19l10 19v-20l10 15v-15l10 14v-19l10 18v-17l10 22v-16l10 14v-16l10 17v-14l10 17v-20l10 17v-21l10 20v-13l10 16v-17l10 11v-10l10 13v-14l10 11v-14l10 13v-8l10 10v-15l10 15v-11l10 14v-23l10 28v-25l10 19v-23l10 27v-21l10 20v-25l10 27v-21l10 20v-23l10 18v-14l10 16v-24l10 27v-18l10 12v-11l10 12v-12l10 14v-21l10 20v-17l10 15v-13l10 20v-21l10 18v-17l10 20v-25l10 16v-9l10 9v-10l10 13v-12l10 11v-11l10 11v-13l10 18v-16l10 14v-18l10 15v-16l10 18v-17l10 14v-11l10 12v-20l10 26v-23l10 21v-18l10 16v-15l10 19v-22l10 20v-17l10 15v-15l10 18v-24l10 19v-13l10 16v-14"/><use href="#t16" transform="translate(5,0) scale(1,-.85)"/><path d="M120 16v-31M260 16v-32M670 27v-52M970 21v-41M1450 21v-42M1520 17v-36M1570 22v-41M2100 24v-47l10 40v-33M3510 26v-51l10 37v-26M4250 21v-44M4400 15v-28M4500 27v-50M5210 13v-29M6080 33v-64l10 48v-34"/></g>
<g stroke="#00f" transform="translate(111.5,251.44) scale(0.1)"><path id="t17" d="M0 9v-18l10 16v-13l10 12v-16l10 21v-20l10 17v-17l10 17v-14l10 18v-24l10 21v-13l10 11v-16l10 21v-24l10 21v-19l10 19v-15l10 12v-17l10 15v-10l10 15v-13l10 15v-21l10 15v-11l10 16v-17l10 16v-20l10 21v-21l10 19v-13l10 17v-23l10 24v-25l10 22v-23l10 27v-20l10 15v-18l10 22v-24l10 26v-22l10 13v-14l10 18v-18l10 16v-19l10 23v-25l10 19v-12l10 18v-21l10 15v-12l10 18v-17l10 19v-20l10 15v-20l10 18v-17l10 20v-17l10 17v-23l10 27v-27l10 24v-21l10 20v-16l10 18v-18l10 12v-11l10 18v-19l10 11v-10l10 14v-19l10 21v-24l10 24v-21l10 21v-17l10 14v-16l10 15v-16l10 16v-13l10 15v-15l10 12v-17l10 19v-15l10 22v-24l10 22v-23l10 15v-12l10 15v-18l10 18v-14l10 15v-19l10 19v-14l10 11v-14l10 14v-13l10 15v-19l10 23v-20l10 18v-15l10 14v-15l10 14v-14l10 18v-20l10 15v-17l10 19v-14l10 10v-15l10 17v-13l10 17v-15l10 13v-14l10 11v-15l10 21v-21l10 14v-12l10 12v-12l10 16v-14l10 16v-17l10 14v-15l10 13v-11l10 11v-11l10 18v-23l10 20v-20l10 21v-18l10 18v-20l10 14v-17l10 22v-17l10 15v-16l10 17v-21l10 23v-17l10 17v-18l10 16v-22l10 28v-28l10 19v-19l10 22v-20l10 22v-23l10 19v-20l10 20v-15l10 18v-20l10 23v-20l10 21v-26l10 18v-19l10 20v-17l10 18v-20l10 21v-16l10 14v-13l10 18v-25l10 28v-24l10 16v-15l10 17v-15l10 12v-16l10 20v-17l10 18v-18l10 18v-19l10 14v-15l10 16v-14l10 16v-19l10 15v-13l10 15v-12l10 13v-17l10 14v-12l10 16v-16l10 19v-24l10 20v-14l10 20v-28l10 24v-18l10 17v-19l10 26v-25l10 24v-34l10 38v-39l10 33v-28l10 32v-26l10 16v-16l10 14v-15l10 21v-19l10 14v-14l10 14v-16l10 20v-22l10 19v-14l10 17v-18l10 18v-19l10 17v-13l10 14v-14l10 14v-19l10 19v-17l10 15v-15l10 18v-15l10 19v-25l10 19v-15l10 13v-18l10 20v-13l10 16v-23l10 19v-13l10 16v-15l10 14v-16l10 12v-11l10 16v-20l10 17v-11l10 17v-22l10 17v-22l10 25v-24l10 28v-23l10 15v-12l10 13v-20l10 25v-19l10 12v-12l10 18v-22l10 17v-19l10 22v-18l10 19v-16l10 14v-17l10 16v-13l10 14v-17l10 17v-14l10 13v-18l10 17v-18l10 16v-14l10 15v-15l10 20v-18l10 14v-15l10 15v-13l10 16v-16l10 15v-21l10 23v-17l10 19v-20l10 19v-21l10 16v-13l10 12v-16l10 16v-15l10 15v-15l10 20v-18l10 19v-18l10 20v-22l10 18v-23l10 27v-22l10 16v-21l10 26v-25l10 19v-18l10 16v-10l10 17v-18l10 13v-17l10 18v-14l10 20v-21l10 13v-13l10 19v-21l10 19v-16l10 12v-12l10 13v-16l10 22v-27l10 23v-20l10 18v-19l10 18v-19l10 22v-23l10 28v-21l10 13v-18l10 18v-18l10 21v-15l10 11v-11l10 11v-12l10 13v-15l10 14v-15l10 22v-21l10 20v-18l10 15v-16l10 14v-20l10 22v-13l10 10v-11l10 14v-18l10 19v-15l10 16v-16l10 13v-17l10 22v-24l10 20v-16l10 21v-25l10 24v-19l10 18v-25l10 24v-19l10 16v-14l10 17v-19l10 17v-22l10 21v-19l10 18v-13l10 17v-21l10 26v-26l10 22v-23l10 19v-17l10 22v-26l10 29v-27l10 27v-23l10 22v-24l10 18v-17l10 19v-14l10 10v-15l10 17v-15l10 14v-14l10 17v-16l10 11v-15l10 24v-31l10 31v-25l10 26v-27l10 23v-25l10 23v-17l10 17v-26l10 29v-25l10 26v-25l10 20v-19l10 23v-18l10 16v-18l10 18v-20l10 17v-12l10 17v-19l10 18v-25l10 39v-39l10 28v-31l10 33v-30l10 25v-23l10 26v-32l10 25v-18l10 19v-16l10 20v-18l10 17v-21l10 21v-20l10 17v-14l10 16v-18l10 16v-13l10 9v-13l10 15v-12l10 12v-11l10 17v-21l10 16v-20l10 20v-12l10 13v-13l10 10v-13l10 13v-13l10 14v-13l10 13v-14l10 21v-25l10 21v-15l10 13v-18l10 23v-19l10 13v-18l10 23v-19l10 17v-14l10 11v-18l10 23v-21l10 15v-15l10 18v-17l10 23v-23l10 19v-26l10 28v-27l10 25v-24l10 33v-33l10 27v-24l10 25v-25l10 20v-20l10 17v-17l10 18v-18l10 16v-13l10 16v-14l10 13v-17l10 16v-19l10 26v-23l10 15v-11l10 13v-14l10 15v-13l10 12v-13l10 15v-20l10 17v-17l10 15v-15l10 21v-21l10 17v-16l10 17v-16l10 14v-16l10 18v-19l10 20v-17l10 15v-10l10 15v-17l10 14v-16l10 15v-12l10 11v-12l10 16v-23l10 28v-30l10 26v-20l10 22v-26l10 22v-14l10 12v-14l10 17v-16l10 12v-13l10 14v-20l10 27v-27l10 21v-17l10 16v-17l10 21v-19l10 13v-11l10 16v-21l10 17v-12l10 11v-10l10 14v-15l10 10v-9l10 18v-22l10 18v-16l10 16v-16l10 20v-20l10 15v-19l10 19v-18l10 19v-16l10 15v-17l10 15v-16l10 17v-18l10 18v-19l10 17v-13l10 16v-14l10 14v-13l10 10v-15l10 20v-18l10 19v-24l10 18v-14l10 19v-18l10 18v-16l10 20v-28l10 25v-18l10 16v-20l10 16v-15l10 18v-13l10 13v-13l10 15v-16l10 11v-17l10 20v-17l10 20v-24l10 21v-17l10 19v-21l10 18v-12l10 16v-24l10 27v-23l10 19v-19l10 17v-18l10 18v-19l10 18v-14l10 15v-17l10 15v-18l10 20v-20l10 20v-19l10 24v-19l10 21v-21l10 17v-21l10 21v-16l10 17v-17l10 18v-23l10 19v-15l10 16v-15l10 11v-13l10 12v-16l10 22v-21l10 16v-13l10 19v-23l10 18v-13l10 13v-12l10 14v-15l10 16v-19l10 20v-21l10 24v-29l10 20v-18l10 24v-18l10 15v-13l10 10v-13l10 13v-12l10 17v-18l10 20v-23l10 19v-18l10 17v-19l10 20v-17l10 15v-16l10 16v-10l10 9v-11l10 13v-15l10 14v-15l10 14v-10l10 13v-17l10 15v-13l10 15v-17l10 19v-18l10 17v-15l10 12v-15l10 20v-19l10 13v-15l10 17v-12l10 14v-20l10 16v-11l10 15v-18l10 17v-17l10 19v-18l10 20v-18l10 17v-21l10 21v-17l10 15v-18l10 22v-26l10 19v-14l10 16v-15l10 20v-19l10 14v-13l10 9v-15l10 16v-14l10 18v-18l10 20v-26l10 24v-19l10 16v-14l10 16v-15l10 19v-21l10 16v-13l10 14v-15l10 17v-17l10 18v-16l10 15v-15l10 15v-15l10 17v-18l10 15v-17l10 18v-18l10 18v-23l10 22v-16l10 16v-16l10 13v-11l10 12v-15l10 14v-11l10 11v-15l10 20v-21l10 15v-9l10 8v-11l10 17v-15l10 12v-17l10 15v-16l10 19v-16l10 18v-20l10 16v-16l10 18v-13l10 11v-16l10 21v-20l10 20v-26l10 22v-16l10 23v-20l10 17v-21l10 15v-12l10 18v-21l10 16v-16l10 18v-15l10 20v-20l10 16v-24l10 28v-22l10 15v-13l10 20v-25l10 32v-35l10 29v-28l10 24v-18l10 22v-20l10 14v-21l10 19v-15l10 21v-21l10 20v-22l10 22v-20l10 19v-17l10 17v-15l10 10v-13l10 15v-14l10 13v-11l10 11v-18l10 19v-17l10 21v-19l10 17v-19l10 19v-14l10 10v-15l10 18v-17l10 18v-18l10 15v-12l10 11v-18l10 19v-17l10 17v-19l10 22v-16l10 20v-26l10 22v-20l10 22v-24l10 18v-11l10 17v-19l10 17v-15l10 15v-21l10 19v-13l10 10v-10l10 15v-14l10 11v-15l10 17v-14l10 16v-16l10 12v-15l10 14v-16l10 21v-15l10 11v-11l10 14v-17l10 18v-21l10 20v-14l10 16v-18l10 14v-14l10 16v-22l10 23v-18l10 21v-23l10 17v-14l10 13v-20l10 26v-17l10 14v-17l10 17v-17l10 15v-19l10 18v-14l10 16v-20l10 19v-15l10 19v-17l10 12v-16l10 22v-23l10 19v-16l10 21v-21l10 22v-28l10 29v-24l10 21v-18l10 14v-14l10 19v-23l10 20v-17l10 19v-17l10 15v-15l10 11v-16l10 18v-17l10 16v-17l10 15v-16l10 22v-20l10 22v-23l10 19v-21l10 20v-20l10 18v-19l10 23v-15l10 13v-16l10 15v-16l10 21v-17l10 11v-19l10 19v-16l10 16v-13l10 19v-22l10 15v-10l10 18v-21l10 14v-14l10 13v-11l10 12v-12l10 19v-20l10 12v-17l10 18v-14l10 12v-10l10 12v-12l10 14v-13l10 16v-18l10 11v-14l10 15v-17l10 17v-11l10 16v-16l10 20v-22l10 15v-13l10 21v-26l10 23v-20l10 13v-11l10 17v-16l10 17v-21l10 20v-23l10 23v-18l10 14v-13l10 12v-11l10 13v-15l10 17v-16l10 18v-19l10 19v-19l10 15v-14l10 14v-15l10 13v-13l10 18v-18l10 15v-17l10 19v-16l10 15v-19l10 19v-16l10 20v-24l10 21v-16l10 20v-21l10 15v-15l10 15v-16l10 14v-15l10 15v-12l10 14v-18l10 21v-17l10 15v-18l10 14v-10l10 10v-10l10 15v-21l10 18v-15l10 17v-20l10 22v-22l10 19v-19l10 24v-19l10 13v-22l10 20v-12l10 18v-25l10 25v-17l10 13v-19l10 24v-21l10 16v-12l10 17v-20l10 22v-25l10 25v-23l10 18v-20l10 20v-15l10 15v-18l10 15v-13l10 17v-18l10 17v-17l10 16v-13l10 15v-16l10 16v-15l10 15v-22l10 21v-14l10 13v-18l10 21v-16l10 15v-20l10 24v-20l10 16v-18l10 14v-14l10 14v-11l10 10v-11l10 16v-18l10 19v-16l10 13v-14l10 18v-19l10 17v-15l10 14v-18l10 16v-13l10 15v-15l10 11v-12l10 17v-22l10 20v-15l10 16v-14l10 17v-19l10 13v-17"/><use href="#t17" transform="translate(5,0) scale(1,-.85)"/><path d="M390 14v-27M490 14v-25M1350 35v-62l10 41v-27M1660 19v-38M2400 15v-31M2540 13v-25M2650 17v-37l10 35v-28M2710 19v-39M2780 41v-75l10 49v-34M2830 22v-45M3170 28v-53M3560 13v-25M4700 19v-41M5020 18v-33M5160 17v-33M5230 25v-52M5540 14v-29M6720 16v-32"/></g>
<g stroke="#f00" transform="translate(111.5,263.61) scale(0.1)"><path id="t18" d="M0 5v-12l10 16v-22l10 20v-19l10 20v-17l10 15v-12l10 17v-19l10 16v-15l10 15v-14l10 12v-10l10 9v-16l10 17v-14l10 14v-12l10 14v-17l10 23v-23l10 23v-26l10 18v-12l10 11v-15l10 22v-21l10 14v-10l10 14v-17l10 16v-19l10 24v-25l10 17v-15l10 17v-13l10 15v-21l10 18v-16l10 23v-27l10 27v-27l10 24v-18l10 14v-12l10 17v-17l10 12v-13l10 23v-22l10 19v-23l10 16v-16l10 16v-19l10 25v-20l10 17v-23l10 25v-24l10 20v-16l10 18v-18l10 22v-20l10 17v-18l10 15v-18l10 18v-15l10 14v-12l10 18v-17l10 12v-12l10 15v-21l10 17v-16l10 24v-25l10 22v-18l10 19v-21l10 17v-19l10 17v-18l10 21v-22l10 18v-12l10 16v-15l10 13v-14l10 17v-19l10 20v-20l10 18v-14l10 16v-18l10 17v-15l10 15v-21l10 16v-12l10 13v-13l10 13v-11l10 11v-17l10 23v-23l10 21v-23l10 18v-13l10 14v-17l10 21v-17l10 15v-16l10 19v-17l10 11v-14l10 15v-13l10 11v-13l10 15v-19l10 20v-15l10 21v-18l10 19v-27l10 27v-22l10 18v-18l10 19v-17l10 12v-21l10 29v-23l10 16v-12l10 14v-23l10 27v-19l10 15v-18l10 16v-12l10 18v-20l10 15v-13l10 14v-16l10 21v-23l10 21v-26l10 28v-31l10 31v-31l10 25v-24l10 27v-20l10 21v-25l10 26v-28l10 28v-20l10 20v-20l10 16v-15l10 11v-15l10 15v-10l10 12v-12l10 15v-22l10 19v-16l10 21v-17l10 10v-16l10 24v-22l10 17v-17l10 17v-20l10 19v-14l10 13v-13l10 18v-26l10 25v-19l10 16v-21l10 27v-25l10 23v-16l10 11v-11l10 15v-15l10 14v-22l10 19v-19l10 19v-17l10 19v-18l10 16v-13l10 14v-14l10 20v-22l10 19v-18l10 16v-13l10 15v-20l10 15v-12l10 13v-14l10 20v-19l10 16v-17l10 13v-16l10 16v-12l10 16v-20l10 24v-24l10 16v-16l10 22v-18l10 18v-19l10 17v-20l10 19v-19l10 20v-18l10 21v-24l10 22v-20l10 21v-22l10 25v-26l10 19v-13l10 13v-17l10 18v-19l10 19v-18l10 17v-16l10 14v-11l10 14v-13l10 15v-15l10 14v-14l10 11v-14l10 18v-23l10 26v-19l10 18v-24l10 26v-23l10 18v-16l10 19v-23l10 22v-16l10 11v-13l10 16v-15l10 15v-14l10 11v-14l10 16v-18l10 15v-13l10 14v-12l10 12v-18l10 21v-21l10 22v-20l10 17v-14l10 12v-12l10 15v-21l10 27v-22l10 18v-21l10 18v-17l10 20v-17l10 14v-12l10 14v-14l10 13v-17l10 17v-15l10 17v-16l10 13v-15l10 19v-16l10 10v-14l10 17v-18l10 22v-20l10 13v-16l10 19v-15l10 16v-18l10 18v-23l10 30v-25l10 18v-23l10 23v-18l10 16v-17l10 22v-23l10 19v-17l10 16v-12l10 13v-15l10 14v-11l10 9v-11l10 13v-15l10 14v-12l10 15v-19l10 20v-21l10 16v-12l10 17v-23l10 19v-13l10 14v-20l10 20v-17l10 16v-17l10 22v-18l10 16v-15l10 14v-14l10 19v-22l10 16v-19l10 20v-20l10 17v-16l10 19v-21l10 24v-19l10 16v-17l10 23v-29l10 22v-13l10 12v-15l10 16v-14l10 20v-20l10 15v-16l10 21v-30l10 29v-21l10 17v-15l10 20v-18l10 11v-12l10 11v-14l10 22v-24l10 19v-13l10 12v-13l10 14v-16l10 13v-14l10 18v-18l10 18v-18l10 17v-12l10 10v-16l10 21v-22l10 16v-12l10 12v-13l10 15v-14l10 15v-15l10 11v-14l10 22v-22l10 21v-23l10 21v-18l10 18v-14l10 16v-17l10 16v-15l10 10v-10l10 13v-17l10 20v-21l10 18v-17l10 13v-15l10 23v-20l10 14v-17l10 16v-13l10 20v-18l10 13v-17l10 20v-15l10 14v-17l10 21v-23l10 30v-43l10 35v-26l10 26v-25l10 27v-24l10 23v-22l10 19v-19l10 24v-24l10 16v-14l10 13v-21l10 27v-23l10 25v-29l10 25v-21l10 23v-19l10 16v-20l10 18v-19l10 20v-13l10 15v-17l10 17v-18l10 19v-17l10 12v-11l10 11v-13l10 13v-17l10 16v-13l10 20v-21l10 15v-14l10 15v-14l10 12v-13l10 13v-12l10 13v-15l10 19v-18l10 19v-19l10 18v-21l10 19v-16l10 17v-16l10 13v-13l10 14v-12l10 10v-17l10 19v-20l10 25v-17l10 10v-10l10 11v-14l10 16v-15l10 13v-11l10 14v-19l10 22v-17l10 19v-23l10 22v-26l10 28v-33l10 27v-22l10 24v-21l10 17v-13l10 12v-14l10 19v-16l10 16v-21l10 15v-10l10 15v-17l10 17v-17l10 15v-20l10 25v-25l10 17v-16l10 20v-21l10 17v-14l10 16v-16l10 20v-17l10 11v-14l10 14v-10l10 12v-13l10 18v-22l10 22v-21l10 19v-19l10 19v-18l10 15v-15l10 17v-21l10 26v-28l10 24v-15l10 10v-11l10 12v-15l10 14v-17l10 19v-12l10 11v-14l10 16v-20l10 21v-14l10 11v-19l10 23v-20l10 20v-21l10 21v-21l10 18v-12l10 16v-16l10 11v-18l10 18v-15l10 17v-14l10 11v-17l10 24v-22l10 23v-21l10 15v-12l10 14v-23l10 21v-20l10 27v-21l10 16v-19l10 16v-19l10 20v-15l10 17v-18l10 15v-13l10 14v-16l10 19v-18l10 16v-14l10 11v-13l10 15v-11l10 8v-13l10 15v-12l10 16v-16l10 19v-23l10 19v-15l10 19v-20l10 23v-26l10 25v-33l10 29v-19l10 18v-21l10 19v-17l10 14v-13l10 15v-16l10 19v-19l10 27v-29l10 25v-36l10 39v-29l10 20v-18l10 24v-21l10 12v-16l10 18v-15l10 20v-20l10 16v-20l10 22v-20l10 19v-15l10 11v-10l10 12v-18l10 25v-27l10 18v-17l10 23v-18l10 15v-13l10 13v-17l10 17v-14l10 13v-17l10 17v-16l10 17v-19l10 23v-20l10 17v-16l10 13v-17l10 23v-21l10 14v-11l10 17v-23l10 18v-16l10 18v-14l10 14v-13l10 13v-14l10 13v-12l10 12v-21l10 20v-12l10 20v-26l10 22v-19l10 14v-11l10 13v-17l10 16v-17l10 19v-13l10 10v-11l10 18v-22l10 16v-11l10 9v-15l10 15v-8l10 15v-16l10 16v-17l10 19v-20l10 15v-14l10 11v-14l10 17v-14l10 15v-19l10 20v-19l10 19v-17l10 13v-10l10 8v-12l10 13v-12l10 15v-18l10 18v-16l10 16v-15l10 21v-24l10 18v-16l10 24v-32l10 35v-33l10 30v-25l10 18v-23l10 27v-24l10 21v-22l10 22v-20l10 18v-17l10 24v-29l10 23v-16l10 19v-22l10 24v-23l10 18v-15l10 16v-20l10 19v-14l10 17v-23l10 19v-14l10 13v-14l10 16v-15l10 14v-15l10 12v-13l10 13v-14l10 14v-11l10 10v-8l10 14v-20l10 22v-20l10 16v-20l10 19v-18l10 17v-18l10 20v-15l10 15v-18l10 18v-18l10 17v-17l10 21v-17l10 12v-14l10 16v-16l10 21v-20l10 13v-18l10 20v-17l10 15v-16l10 23v-18l10 17v-19l10 12v-13l10 16v-19l10 15v-8l10 9v-9l10 11v-15l10 14v-11l10 10v-10l10 13v-14l10 18v-21l10 22v-23l10 23v-22l10 17v-14l10 12v-17l10 16v-9l10 13v-21l10 21v-18l10 15v-17l10 20v-16l10 16v-14l10 15v-20l10 18v-16l10 13v-15l10 19v-20l10 16v-14l10 19v-22l10 23v-19l10 14v-13l10 13v-18l10 26v-21l10 13v-17l10 19v-19l10 17v-14l10 15v-12l10 11v-15l10 23v-26l10 21v-16l10 14v-16l10 16v-17l10 19v-18l10 14v-14l10 18v-20l10 22v-24l10 21v-15l10 21v-26l10 20v-20l10 23v-19l10 20v-23l10 20v-18l10 17v-14l10 20v-21l10 19v-25l10 20v-15l10 20v-20l10 17v-15l10 16v-21l10 23v-18l10 19v-23l10 16v-13l10 19v-17l10 14v-19l10 22v-24l10 18v-12l10 16v-17l10 18v-24l10 24v-17l10 13v-13l10 14v-16l10 22v-21l10 20v-25l10 31v-33l10 33v-42l10 32v-25l10 26v-20l10 17v-15l10 16v-14l10 14v-18l10 23v-20l10 14v-14l10 17v-21l10 20v-14l10 12v-12l10 11v-17l10 20v-16l10 19v-21l10 18v-20l10 16v-15l10 20v-16l10 18v-24l10 25v-27l10 20v-14l10 17v-16l10 19v-18l10 19v-24l10 18v-14l10 16v-19l10 22v-21l10 22v-18l10 19v-22l10 15v-19l10 18v-13l10 15v-14l10 17v-25l10 20v-16l10 20v-17l10 22v-24l10 16v-20l10 26v-23l10 17v-14l10 15v-14l10 13v-14l10 13v-20l10 27v-23l10 16v-19l10 24v-17l10 16v-16l10 17v-19l10 15v-15l10 17v-16l10 16v-14l10 10v-10l10 12v-14l10 14v-19l10 19v-18l10 21v-15l10 11v-17l10 20v-20l10 16v-15l10 17v-11l10 10v-12l10 16v-14l10 13v-19l10 25v-32l10 25v-20l10 29v-32l10 35v-32l10 26v-22l10 16v-24l10 26v-20l10 18v-20l10 23v-18l10 15v-16l10 16v-18l10 19v-20l10 17v-16l10 17v-19l10 18v-16l10 20v-18l10 16v-16l10 14v-15l10 16v-18l10 19v-14l10 19v-23l10 16v-13l10 14v-20l10 28v-30l10 30v-26l10 20v-19l10 20v-16l10 16v-19l10 21v-21l10 20v-22l10 22v-20l10 25v-29l10 19v-12l10 12v-14l10 18v-16l10 13v-19l10 23v-20l10 23v-20l10 19v-27l10 20v-13l10 15v-12l10 14v-15l10 11v-14l10 17v-19l10 19v-14l10 14v-15l10 13v-16l10 17v-13l10 10v-15l10 19v-14l10 13v-13l10 11v-16l10 14v-14l10 20v-22l10 24v-17l10 13v-14l10 15v-19l10 16v-13l10 13v-12l10 12v-20l10 20v-17l10 20v-16l10 13v-20l10 22v-16l10 13v-11l10 14v-15l10 16v-18l10 17v-17l10 14v-10l10 14v-19l10 15v-10"/><use href="#t18" transform="translate(5,0) scale(1,-.85)"/><path d="M370 19v-36M970 25v-48l10 37v-27M2370 14v-28M2770 28v-56l10 45v-31M3240 24v-44M3930 26v-56M4010 35v-69l10 50v-33M4620 19v-39l10 37v-34M4880 23v-44M5740 28v-63l10 52v-32M6370 19v-36M6590 19v-37"/></g>
<g stroke="#00f" transform="translate(111.5,275.78) scale(0.1)"><path id="t19" d="M0 8v-16l10 20v-24l10 25v-25l10 22v-15l10 19v-20l10 12v-16l10 24v-21l10 22v-30l10 22v-20l10 23v-17l10 17v-17l10 19v-19l10 19v-27l10 26v-21l10 17v-17l10 24v-23l10 14v-15l10 16v-12l10 18v-23l10 15v-9l10 11v-17l10 21v-17l10 12v-10l10 11v-13l10 15v-13l10 12v-17l10 17v-17l10 23v-20l10 16v-21l10 17v-14l10 14v-11l10 18v-20l10 15v-16l10 17v-15l10 19v-17l10 12v-15l10 21v-26l10 24v-17l10 18v-20l10 15v-13l10 15v-17l10 22v-23l10 15v-18l10 18v-19l10 20v-15l10 20v-24l10 20v-17l10 21v-22l10 16v-12l10 12v-18l10 18v-11l10 11v-19l10 19v-18l10 23v-23l10 25v-23l10 18v-21l10 20v-13l10 11v-14l10 17v-19l10 22v-16l10 10v-14l10 17v-17l10 15v-15l10 20v-21l10 15v-16l10 17v-11l10 11v-17l10 19v-19l10 19v-20l10 18v-11l10 17v-19l10 16v-17l10 17v-15l10 14v-19l10 16v-15l10 21v-16l10 13v-16l10 15v-12l10 10v-11l10 15v-20l10 16v-11l10 15v-15l10 15v-14l10 10v-9l10 16v-22l10 16v-17l10 23v-18l10 15v-15l10 16v-22l10 23v-25l10 28v-27l10 21v-19l10 20v-19l10 17v-22l10 23v-17l10 16v-20l10 23v-16l10 14v-17l10 16v-12l10 15v-18l10 15v-21l10 26v-19l10 21v-29l10 38v-51l10 43v-34l10 31v-29l10 25v-22l10 25v-21l10 18v-18l10 16v-15l10 15v-13l10 14v-17l10 14v-15l10 17v-11l10 13v-18l10 15v-13l10 14v-12l10 12v-14l10 18v-22l10 19v-14l10 14v-16l10 21v-23l10 21v-16l10 13v-13l10 18v-18l10 12v-20l10 21v-14l10 20v-25l10 18v-12l10 14v-18l10 20v-16l10 17v-16l10 15v-16l10 13v-14l10 14v-19l10 19v-13l10 17v-24l10 22v-21l10 30v-34l10 28v-25l10 29v-26l10 22v-25l10 24v-20l10 19v-17l10 19v-23l10 18v-19l10 21v-15l10 12v-15l10 24v-24l10 21v-21l10 24v-22l10 19v-21l10 17v-15l10 21v-20l10 13v-20l10 22v-19l10 20v-17l10 19v-18l10 12v-20l10 28v-21l10 23v-29l10 20v-15l10 14v-19l10 26v-20l10 14v-14l10 18v-19l10 18v-17l10 19v-25l10 25v-19l10 15v-19l10 17v-17l10 27v-31l10 22v-18l10 20v-19l10 18v-21l10 22v-15l10 13v-12l10 13v-14l10 17v-22l10 17v-12l10 11v-10l10 15v-22l10 20v-19l10 18v-13l10 12v-13l10 14v-19l10 24v-21l10 16v-15l10 13v-14l10 17v-15l10 16v-15l10 15v-19l10 15v-11l10 14v-16l10 15v-12l10 11v-15l10 17v-17l10 18v-16l10 12v-10l10 12v-16l10 16v-14l10 12v-14l10 14v-17l10 17v-16l10 23v-17l10 17v-22l10 15v-14l10 17v-15l10 17v-20l10 20v-19l10 17v-17l10 18v-16l10 18v-19l10 22v-25l10 27v-30l10 28v-27l10 20v-19l10 24v-18l10 14v-18l10 17v-14l10 15v-14l10 14v-16l10 14v-12l10 16v-16l10 12v-15l10 15v-11l10 18v-21l10 16v-17l10 18v-19l10 23v-20l10 18v-17l10 12v-16l10 19v-19l10 19v-14l10 12v-16l10 14v-17l10 19v-14l10 16v-22l10 21v-17l10 16v-13l10 12v-15l10 22v-24l10 19v-16l10 17v-17l10 15v-16l10 22v-21l10 21v-27l10 26v-18l10 17v-16l10 11v-20l10 20v-15l10 17v-16l10 15v-18l10 22v-16l10 16v-23l10 19v-13l10 11v-10l10 10v-16l10 18v-13l10 16v-19l10 19v-22l10 22v-15l10 15v-21l10 20v-18l10 17v-14l10 19v-21l10 16v-22l10 21v-15l10 15v-21l10 19v-12l10 15v-18l10 20v-18l10 15v-12l10 11v-16l10 17v-14l10 12v-10l10 19v-23l10 18v-22l10 28v-24l10 23v-25l10 23v-18l10 19v-22l10 26v-28l10 19v-19l10 24v-22l10 17v-18l10 15v-11l10 11v-12l10 13v-16l10 16v-15l10 18v-16l10 13v-16l10 18v-22l10 24v-18l10 18v-21l10 17v-10l10 11v-13l10 12v-12l10 15v-15l10 14v-14l10 15v-19l10 16v-14l10 19v-21l10 19v-15l10 13v-12l10 11v-14l10 14v-12l10 20v-25l10 18v-17l10 23v-21l10 15v-18l10 22v-19l10 22v-22l10 15v-22l10 25v-18l10 13v-11l10 18v-18l10 14v-17l10 24v-29l10 21v-18l10 16v-16l10 15v-13l10 14v-14l10 21v-18l10 12v-11l10 14v-18l10 15v-11l10 13v-21l10 21v-14l10 11v-11l10 16v-20l10 15v-13l10 17v-15l10 12v-11l10 11v-13l10 12v-12l10 12v-10l10 11v-18l10 17v-11l10 12v-19l10 23v-19l10 21v-22l10 18v-15l10 14v-19l10 18v-16l10 21v-15l10 10v-18l10 25v-19l10 14v-13l10 13v-17l10 14v-14l10 16v-12l10 15v-20l10 18v-14l10 18v-20l10 20v-21l10 17v-17l10 15v-15l10 21v-20l10 13v-10l10 16v-17l10 19v-26l10 25v-19l10 17v-21l10 21v-17l10 13v-18l10 19v-15l10 13v-13l10 19v-22l10 17v-15l10 15v-18l10 17v-11l10 14v-13l10 17v-21l10 14v-13l10 17v-14l10 11v-14l10 15v-17l10 22v-17l10 12v-18l10 24v-21l10 17v-16l10 14v-18l10 22v-17l10 17v-20l10 14v-15l10 15v-16l10 18v-13l10 11v-11l10 12v-13l10 12v-11l10 14v-13l10 12v-16l10 22v-26l10 19v-19l10 22v-17l10 15v-18l10 17v-11l10 17v-18l10 17v-17l10 16v-18l10 17v-14l10 16v-20l10 19v-24l10 22v-18l10 20v-21l10 19v-20l10 17v-15l10 20v-21l10 21v-16l10 15v-16l10 15v-14l10 13v-14l10 19v-24l10 19v-19l10 19v-16l10 14v-13l10 18v-18l10 19v-17l10 17v-19l10 16v-13l10 12v-16l10 15v-13l10 12v-17l10 20v-17l10 20v-19l10 21v-20l10 16v-19l10 17v-13l10 16v-23l10 22v-20l10 18v-17l10 18v-19l10 31v-36l10 27v-28l10 32v-24l10 16v-19l10 22v-22l10 31v-29l10 22v-24l10 20v-21l10 20v-20l10 22v-20l10 20v-20l10 17v-11l10 11v-18l10 20v-17l10 21v-22l10 15v-11l10 13v-18l10 20v-16l10 17v-15l10 11v-12l10 12v-15l10 18v-15l10 12v-18l10 24v-22l10 16v-13l10 17v-18l10 17v-22l10 20v-12l10 11v-13l10 14v-19l10 23v-23l10 19v-18l10 19v-19l10 16v-12l10 13v-11l10 10v-14l10 14v-11l10 16v-18l10 17v-21l10 24v-33l10 31v-22l10 22v-18l10 17v-15l10 11v-15l10 23v-22l10 15v-18l10 24v-17l10 12v-15l10 21v-19l10 13v-12l10 12v-14l10 18v-20l10 15v-13l10 18v-17l10 18v-18l10 16v-17l10 14v-16l10 21v-22l10 21v-21l10 18v-14l10 17v-22l10 16v-10l10 14v-16l10 12v-14l10 16v-15l10 17v-15l10 13v-13l10 16v-24l10 20v-17l10 17v-20l10 27v-21l10 19v-22l10 16v-10l10 12v-13l10 15v-15l10 13v-12l10 11v-14l10 20v-18l10 18v-18l10 17v-18l10 20v-26l10 21v-23l10 25v-23l10 18v-14l10 17v-14l10 14v-21l10 21v-13l10 13v-17l10 22v-22l10 20v-21l10 15v-15l10 17v-18l10 16v-16l10 17v-13l10 17v-15l10 11v-18l10 25v-21l10 19v-25l10 29v-24l10 17v-20l10 24v-22l10 18v-15l10 18v-17l10 14v-19l10 18v-14l10 16v-20l10 22v-19l10 19v-19l10 18v-16l10 19v-23l10 16v-13l10 18v-25l10 26v-29l10 37v-38l10 29v-25l10 28v-24l10 20v-17l10 18v-23l10 22v-17l10 16v-23l10 21v-20l10 20v-16l10 17v-18l10 18v-16l10 13v-10l10 12v-12l10 19v-27l10 23v-16l10 15v-22l10 23v-19l10 14v-15l10 16v-11l10 10v-14l10 17v-15l10 15v-21l10 23v-18l10 19v-23l10 19v-17l10 17v-11l10 11v-20l10 25v-18l10 15v-19l10 22v-25l10 21v-14l10 17v-22l10 19v-17l10 19v-17l10 13v-12l10 13v-19l10 19v-18l10 20v-16l10 15v-19l10 16v-11l10 11v-10l10 10v-16l10 16v-10l10 10v-12l10 12v-13l10 16v-16l10 18v-21l10 19v-14l10 16v-22l10 21v-15l10 11v-16l10 16v-11l10 16v-22l10 18v-11l10 14v-17l10 14v-18l10 23v-20l10 20v-22l10 18v-20l10 23v-15l10 18v-19l10 15v-14l10 16v-16l10 10v-15l10 19v-20l10 20v-20l10 22v-23l10 20v-18l10 17v-18l10 23v-20l10 14v-17l10 16v-14l10 20v-23l10 22v-19l10 23v-22l10 15v-16l10 15v-19l10 23v-16l10 12v-14l10 14v-18l10 21v-15l10 20v-23l10 14v-17l10 21v-21l10 23v-16l10 12v-13l10 11v-13l10 18v-18l10 16v-14l10 14v-18l10 24v-26l10 24v-19l10 19v-20l10 18v-16l10 12v-14l10 16v-20l10 23v-24l10 19v-13l10 18v-20l10 16v-20l10 25v-24l10 23v-18l10 16v-16l10 18v-18l10 17v-18l10 15v-19l10 21v-14l10 15v-17l10 12v-12l10 14v-15l10 15v-13l10 16v-16l10 11v-10l10 12v-17l10 15v-9l10 9v-16l10 23v-22l10 26v-29l10 26v-27l10 24v-22l10 22v-22l10 22v-23l10 23v-21l10 24v-19l10 14v-20l10 25v-19l10 13v-14l10 20v-27l10 22v-16l10 18v-20l10 22v-26l10 22v-15l10 14v-13l10 16v-18l10 14v-15l10 17v-14l10 12v-17l10 16v-15l10 14v-12l10 13v-9l10 15v-17l10 14v-13l10 10v-16l10 23v-20l10 14v-14l10 18v-17l10 14v-20l10 20v-13l10 20v-26l10 20v-13l10 11v-14l10 13v-11l10 16v-18l10 20v-18l10 16v-20l10 17v-12l10 19v-25l10 19v-16l10 18v-27l10 31v-26l10 20v-16"/><use href="#t19" transform="translate(5,0) scale(1,-.85)"/><path d="M1030 32v-68l10 55v-40M1370 20v-43l10 37v-28M1600 18v-34M1710 23v-48M2140 19v-38M2440 13v-27M2770 16v-34M2820 31v-60M4320 18v-34l10 29v-24M4380 18v-34M4710 35v-70l10 50v-30M5320 16v-33M5450 28v-59l10 45v-31M5730 12v-25M7030 12v-27"/></g>
<g stroke="#f00" transform="translate(111.5,287.95) scale(0.1)"><path id="t20" d="M0 7v-17l10 24v-20l10 14v-19l10 16v-12l10 14v-15l10 20v-19l10 13v-12l10 19v-22l10 14v-16l10 17v-12l10 15v-17l10 18v-20l10 24v-26l10 25v-27l10 21v-16l10 15v-20l10 25v-17l10 19v-25l10 29v-27l10 24v-26l10 18v-16l10 18v-15l10 17v-22l10 18v-16l10 17v-20l10 20v-19l10 24v-23l10 19v-16l10 15v-14l10 19v-22l10 18v-19l10 18v-18l10 18v-18l10 20v-14l10 15v-19l10 16v-13l10 14v-17l10 17v-19l10 20v-19l10 20v-18l10 15v-16l10 19v-23l10 22v-17l10 18v-23l10 25v-17l10 10v-11l10 12v-15l10 22v-26l10 26v-19l10 12v-12l10 12v-17l10 23v-24l10 18v-13l10 18v-17l10 11v-12l10 15v-13l10 13v-18l10 14v-9l10 13v-16l10 21v-26l10 24v-37l10 42v-31l10 30v-30l10 26v-19l10 16v-17l10 23v-26l10 23v-18l10 17v-17l10 17v-18l10 16v-13l10 13v-17l10 18v-14l10 17v-22l10 23v-23l10 19v-16l10 18v-23l10 20v-18l10 20v-16l10 16v-19l10 15v-13l10 15v-16l10 20v-21l10 19v-17l10 11v-14l10 15v-10l10 14v-16l10 18v-22l10 18v-13l10 13v-19l10 22v-22l10 20v-21l10 28v-22l10 16v-15l10 16v-18l10 14v-11l10 18v-26l10 22v-17l10 16v-15l10 13v-15l10 16v-13l10 12v-18l10 20v-13l10 14v-19l10 21v-18l10 15v-17l10 17v-17l10 15v-11l10 16v-17l10 17v-16l10 10v-10l10 10v-11l10 11v-16l10 21v-18l10 19v-18l10 20v-27l10 19v-18l10 20v-14l10 13v-15l10 15v-15l10 14v-16l10 26v-22l10 29v-36l10 26v-32l10 28v-20l10 25v-19l10 14v-21l10 23v-23l10 22v-19l10 14v-8l10 11v-12l10 15v-18l10 16v-15l10 15v-22l10 24v-21l10 18v-14l10 20v-24l10 24v-18l10 11v-16l10 20v-23l10 20v-12l10 16v-17l10 16v-23l10 19v-14l10 13v-16l10 25v-27l10 24v-18l10 19v-22l10 19v-15l10 14v-19l10 20v-20l10 19v-15l10 17v-17l10 14v-17l10 16v-14l10 17v-20l10 24v-18l10 15v-22l10 17v-14l10 18v-17l10 17v-18l10 16v-15l10 21v-26l10 19v-16l10 15v-13l10 15v-18l10 18v-12l10 19v-20l10 18v-24l10 19v-16l10 16v-14l10 12v-11l10 16v-16l10 11v-13l10 15v-11l10 11v-15l10 17v-18l10 18v-16l10 12v-9l10 12v-13l10 16v-21l10 19v-17l10 13v-9l10 10v-16l10 16v-12l10 11v-16l10 19v-15l10 18v-17l10 12v-14l10 15v-17l10 15v-13l10 18v-17l10 12v-17l10 20v-23l10 21v-16l10 20v-18l10 25v-27l10 20v-20l10 21v-23l10 24v-19l10 13v-13l10 16v-17l10 16v-16l10 21v-18l10 15v-16l10 12v-12l10 16v-25l10 26v-24l10 21v-23l10 21v-14l10 14v-12l10 19v-18l10 13v-14l10 17v-18l10 16v-18l10 22v-26l10 26v-19l10 16v-17l10 16v-15l10 15v-19l10 24v-22l10 18v-21l10 18v-14l10 16v-16l10 21v-26l10 19v-14l10 19v-20l10 18v-22l10 22v-21l10 17v-14l10 14v-14l10 23v-25l10 19v-16l10 16v-22l10 20v-20l10 21v-14l10 14v-17l10 21v-18l10 11v-11l10 13v-12l10 10v-15l10 20v-18l10 17v-17l10 18v-21l10 21v-21l10 24v-27l10 24v-19l10 20v-17l10 12v-14l10 15v-17l10 18v-18l10 17v-16l10 18v-14l10 10v-10l10 11v-12l10 15v-21l10 19v-13l10 12v-12l10 19v-21l10 12v-9l10 10v-11l10 13v-15l10 16v-16l10 17v-20l10 17v-16l10 22v-26l10 27v-26l10 19v-19l10 20v-19l10 17v-16l10 23v-20l10 20v-24l10 24v-19l10 14v-19l10 21v-16l10 17v-21l10 25v-28l10 27v-19l10 13v-13l10 14v-16l10 16v-18l10 17v-17l10 15v-10l10 10v-14l10 19v-18l10 15v-17l10 18v-17l10 18v-21l10 20v-18l10 16v-16l10 18v-16l10 21v-26l10 31v-30l10 23v-27l10 27v-31l10 28v-16l10 20v-21l10 15v-13l10 13v-19l10 26v-20l10 13v-14l10 20v-24l10 19v-17l10 18v-17l10 15v-19l10 22v-17l10 21v-25l10 19v-13l10 15v-14l10 13v-13l10 11v-20l10 25v-23l10 23v-21l10 18v-15l10 13v-16l10 14v-9l10 11v-13l10 14v-12l10 13v-18l10 16v-14l10 17v-15l10 16v-15l10 11v-19l10 20v-12l10 14v-22l10 18v-16l10 21v-16l10 13v-12l10 11v-13l10 14v-12l10 13v-15l10 12v-12l10 12v-10l10 14v-14l10 11v-10l10 13v-17l10 15v-15l10 15v-14l10 12v-15l10 20v-19l10 20v-22l10 23v-17l10 10v-11l10 16v-17l10 12v-11l10 11v-13l10 16v-16l10 13v-9l10 8v-8l10 12v-14l10 13v-14l10 16v-16l10 14v-18l10 17v-11l10 10v-11l10 14v-16l10 13v-12l10 21v-26l10 24v-24l10 19v-14l10 13v-15l10 20v-18l10 16v-18l10 16v-21l10 21v-13l10 16v-18l10 16v-19l10 23v-20l10 15v-16l10 17v-18l10 15v-10l10 10v-11l10 14v-16l10 18v-21l10 18v-12l10 13v-12l10 11v-13l10 15v-19l10 18v-17l10 19v-21l10 23v-20l10 20v-17l10 15v-19l10 19v-22l10 18v-11l10 12v-15l10 16v-17l10 28v-30l10 25v-26l10 22v-19l10 18v-22l10 18v-16l10 20v-17l10 18v-23l10 21v-21l10 24v-20l10 25v-25l10 17v-17l10 17v-23l10 33v-30l10 26v-35l10 34v-25l10 27v-24l10 22v-23l10 17v-13l10 15v-15l10 16v-18l10 31v-48l10 41v-35l10 29v-19l10 21v-22l10 15v-12l10 17v-14l10 11v-18l10 16v-17l10 17v-13l10 17v-18l10 20v-23l10 23v-24l10 28v-21l10 13v-14l10 13v-14l10 16v-21l10 18v-12l10 20v-18l10 14v-14l10 12v-12l10 13v-14l10 16v-16l10 14v-14l10 12v-12l10 11v-10l10 10v-11l10 12v-14l10 14v-11l10 13v-17l10 19v-15l10 18v-19l10 14v-21l10 22v-15l10 17v-19l10 18v-20l10 18v-19l10 21v-20l10 15v-15l10 18v-14l10 13v-13l10 12v-15l10 22v-23l10 15v-16l10 18v-15l10 20v-23l10 16v-15l10 17v-13l10 12v-15l10 20v-23l10 19v-21l10 22v-16l10 17v-23l10 26v-34l10 37v-32l10 25v-21l10 26v-22l10 25v-26l10 18v-19l10 28v-27l10 25v-29l10 26v-20l10 21v-28l10 23v-16l10 18v-17l10 17v-22l10 18v-16l10 17v-14l10 16v-23l10 26v-24l10 22v-23l10 22v-17l10 20v-17l10 12v-12l10 13v-20l10 21v-20l10 16v-12l10 14v-18l10 18v-16l10 19v-20l10 15v-10l10 10v-11l10 16v-21l10 15v-10l10 12v-18l10 18v-16l10 15v-10l10 12v-18l10 21v-16l10 13v-15l10 14v-10l10 16v-18l10 17v-20l10 15v-17l10 17v-13l10 13v-12l10 19v-24l10 20v-21l10 18v-18l10 18v-14l10 17v-18l10 17v-13l10 11v-15l10 14v-16l10 24v-22l10 18v-20l10 18v-14l10 12v-13l10 14v-18l10 19v-19l10 17v-14l10 16v-15l10 18v-21l10 21v-17l10 16v-15l10 13v-18l10 20v-15l10 16v-21l10 21v-18l10 21v-24l10 21v-19l10 17v-21l10 18v-10l10 14v-22l10 25v-20l10 16v-15l10 16v-20l10 19v-14l10 14v-13l10 16v-23l10 24v-21l10 20v-19l10 14v-16l10 17v-16l10 14v-10l10 14v-22l10 24v-21l10 16v-12l10 18v-25l10 23v-21l10 23v-21l10 20v-34l10 30v-21l10 23v-15l10 20v-20l10 15v-17l10 20v-20l10 13v-16l10 15v-8l10 15v-17l10 13v-15l10 12v-11l10 14v-13l10 14v-16l10 20v-18l10 14v-18l10 16v-15l10 19v-19l10 14v-10l10 12v-17l10 15v-17l10 21v-18l10 16v-12l10 15v-15l10 17v-21l10 17v-14l10 18v-17l10 17v-22l10 17v-12l10 10v-11l10 12v-13l10 17v-23l10 19v-16l10 15v-18l10 18v-12l10 14v-16l10 15v-10l10 12v-19l10 22v-16l10 10v-10l10 15v-15l10 12v-12l10 10v-11l10 16v-21l10 23v-20l10 20v-19l10 13v-13l10 14v-17l10 19v-19l10 17v-15l10 18v-16l10 14v-17l10 14v-14l10 19v-16l10 14v-14l10 14v-19l10 19v-16l10 18v-20l10 16v-12l10 16v-21l10 19v-21l10 25v-18l10 17v-19l10 23v-25l10 18v-17l10 22v-25l10 23v-22l10 19v-20l10 22v-19l10 20v-25l10 21v-21l10 28v-22l10 20v-28l10 28v-25l10 24v-16l10 11v-14l10 18v-18l10 14v-11l10 14v-14l10 12v-14l10 15v-14l10 15v-19l10 15v-18l10 19v-17l10 16v-13l10 19v-21l10 16v-13l10 19v-24l10 20v-21l10 19v-12l10 19v-25l10 18v-16l10 17v-13l10 14v-22l10 22v-18l10 21v-20l10 15v-15l10 16v-22l10 30v-22l10 21v-27l10 20v-13l10 20v-21l10 15v-15l10 16v-14l10 10v-10l10 12v-15l10 18v-22l10 22v-16l10 11v-11l10 18v-22l10 21v-17l10 12v-17l10 19v-19l10 17v-11l10 17v-18l10 11v-15l10 19v-20l10 22v-17l10 12v-16l10 24v-28l10 23v-14l10 11v-14l10 14v-16l10 20v-18l10 18v-22l10 22v-16l10 14v-20l10 23v-16l10 13v-14l10 16v-18l10 14v-12l10 13v-18l10 25v-28l10 25v-21l10 19v-17l10 18v-21l10 18v-13l10 14v-15l10 12v-10l10 10v-13l10 14v-12l10 18v-18l10 12v-18l10 24v-18l10 14v-13l10 12v-17l10 15v-10l10 12v-12l10 15v-19l10 17v-14l10 12v-11l10 17v-22l10 18v-20l10 17v-17l10 24v-19l10 14v-14l10 12v-10l10 13v-13l10 13v-14l10 13v-13l10 17v-20l10 19v-15"/><use href="#t20" transform="translate(5,0) scale(1,-.85)"/><path d="M600 35v-74l10 60v-48M1210 33v-60l10 42v-29M1930 13v-29M2430 14v-27M2910 33v-68l10 53v-36M3860 21v-40l10 32v-26M3910 20v-41l10 36v-29M3970 17v-34M4060 31v-59l10 42v-27M4570 18v-38l10 33v-26M4630 29v-58l10 43v-28M5460 24v-52M6090 15v-29M6770 16v-29"/></g>
<g stroke="#00f" transform="translate(111.5,300.12) scale(0.1)"><path id="t21" d="M0 11v-17l10 20v-28l10 22v-14l10 18v-22l10 21v-25l10 20v-20l10 21v-15l10 14v-13l10 19v-23l10 17v-17l10 16v-15l10 24v-25l10 21v-19l10 15v-15l10 20v-19l10 14v-12l10 12v-11l10 16v-17l10 13v-16l10 16v-20l10 19v-13l10 21v-21l10 22v-30l10 29v-25l10 27v-26l10 18v-21l10 31v-27l10 25v-28l10 27v-23l10 19v-18l10 13v-12l10 12v-14l10 20v-19l10 15v-16l10 25v-35l10 28v-18l10 25v-33l10 26v-22l10 27v-24l10 16v-17l10 22v-21l10 20v-20l10 25v-24l10 20v-20l10 14v-12l10 16v-16l10 12v-15l10 21v-25l10 19v-16l10 17v-13l10 14v-15l10 18v-18l10 20v-24l10 27v-28l10 28v-24l10 19v-23l10 21v-18l10 16v-14l10 22v-23l10 18v-16l10 18v-18l10 12v-17l10 17v-17l10 22v-25l10 25v-17l10 25v-32l10 31v-50l10 53v-36l10 27v-25l10 25v-25l10 20v-24l10 26v-20l10 36v-40l10 31v-23l10 17v-18l10 16v-24l10 23v-18l10 24v-28l10 25v-18l10 20v-22l10 24v-29l10 23v-22l10 28v-20l10 14v-23l10 31v-22l10 19v-20l10 19v-21l10 21v-18l10 14v-18l10 22v-26l10 22v-21l10 26v-20l10 16v-15l10 13v-18l10 25v-22l10 16v-20l10 30v-36l10 26v-19l10 25v-25l10 22v-19l10 14v-15l10 16v-21l10 28v-27l10 20v-16l10 24v-29l10 30v-32l10 23v-18l10 20v-18l10 26v-24l10 14v-22l10 24v-21l10 22v-20l10 21v-17l10 15v-22l10 23v-20l10 17v-19l10 22v-20l10 18v-16l10 15v-13l10 12v-19l10 19v-17l10 18v-17l10 22v-23l10 21v-22l10 18v-15l10 17v-18l10 27v-25l10 25v-24l10 15v-16l10 15v-15l10 19v-24l10 22v-16l10 19v-20l10 18v-19l10 18v-17l10 14v-16l10 16v-13l10 20v-25l10 20v-17l10 19v-17l10 13v-19l10 22v-21l10 24v-24l10 24v-28l10 25v-17l10 15v-18l10 17v-12l10 19v-20l10 17v-16l10 13v-16l10 20v-24l10 29v-23l10 20v-24l10 20v-21l10 18v-14l10 16v-13l10 18v-23l10 17v-15l10 15v-19l10 18v-19l10 26v-25l10 24v-18l10 16v-19l10 21v-27l10 26v-20l10 20v-24l10 20v-22l10 24v-24l10 22v-22l10 28v-28l10 26v-22l10 25v-29l10 24v-16l10 19v-21l10 26v-34l10 25v-15l10 19v-20l10 14v-13l10 17v-19l10 22v-25l10 18v-18l10 21v-15l10 19v-22l10 16v-14l10 12v-18l10 20v-22l10 21v-12l10 16v-21l10 19v-18l10 22v-26l10 27v-27l10 22v-19l10 16v-11l10 16v-19l10 16v-16l10 20v-17l10 14v-21l10 23v-23l10 22v-22l10 27v-21l10 13v-17l10 20v-17l10 15v-19l10 18v-18l10 24v-24l10 19v-22l10 29v-26l10 28v-25l10 16v-14l10 18v-25l10 30v-27l10 22v-23l10 28v-28l10 25v-20l10 21v-23l10 17v-23l10 24v-18l10 18v-23l10 28v-25l10 21v-17l10 13v-13l10 19v-25l10 26v-21l10 22v-22l10 23v-28l10 27v-21l10 17v-23l10 19v-14l10 22v-21l10 12v-11l10 18v-26l10 24v-19l10 20v-20l10 18v-26l10 29v-28l10 31v-34l10 33v-28l10 25v-21l10 20v-26l10 23v-15l10 24v-32l10 31v-29l10 27v-22l10 25v-25l10 19v-25l10 27v-22l10 24v-23l10 17v-22l10 26v-23l10 17v-12l10 12v-12l10 16v-15l10 15v-17l10 19v-18l10 18v-24l10 23v-19l10 15v-17l10 20v-23l10 28v-24l10 22v-19l10 16v-22l10 21v-16l10 19v-25l10 23v-16l10 12v-17l10 21v-16l10 19v-29l10 30v-21l10 19v-23l10 23v-20l10 18v-17l10 20v-23l10 24v-27l10 29v-36l10 33v-24l10 21v-20l10 19v-24l10 27v-23l10 24v-23l10 23v-24l10 24v-22l10 18v-16l10 16v-15l10 16v-17l10 15v-17l10 23v-25l10 17v-11l10 13v-14l10 18v-24l10 27v-25l10 34v-39l10 30v-33l10 38v-39l10 34v-25l10 22v-24l10 29v-26l10 26v-30l10 25v-22l10 28v-31l10 23v-22l10 20v-17l10 16v-16l10 17v-16l10 16v-21l10 22v-20l10 18v-14l10 17v-23l10 23v-21l10 24v-21l10 15v-14l10 16v-15l10 20v-22l10 14v-12l10 18v-20l10 21v-24l10 18v-15l10 15v-18l10 19v-13l10 16v-16l10 17v-17l10 16v-24l10 24v-21l10 23v-19l10 19v-28l10 27v-22l10 20v-19l10 16v-14l10 17v-19l10 14v-16l10 21v-21l10 17v-18l10 21v-15l10 12v-17l10 18v-19l10 24v-18l10 11v-18l10 26v-24l10 22v-20l10 15v-17l10 21v-22l10 24v-25l10 24v-17l10 19v-22l10 15v-21l10 22v-21l10 23v-20l10 21v-22l10 23v-20l10 18v-23l10 21v-14l10 20v-21l10 22v-28l10 21v-12l10 12v-19l10 21v-19l10 21v-18l10 13v-15l10 22v-23l10 17v-13l10 18v-18l10 14v-18l10 17v-16l10 15v-13l10 13v-13l10 13v-12l10 15v-23l10 20v-21l10 26v-25l10 26v-19l10 16v-24l10 22v-20l10 24v-19l10 19v-22l10 21v-18l10 13v-11l10 17v-16l10 13v-16l10 18v-18l10 20v-26l10 23v-16l10 15v-17l10 22v-20l10 15v-17l10 26v-25l10 19v-19l10 23v-25l10 17v-24l10 27v-25l10 24v-17l10 19v-27l10 23v-19l10 22v-20l10 25v-24l10 21v-24l10 20v-18l10 26v-23l10 20v-20l10 18v-18l10 14v-16l10 18v-20l10 24v-20l10 22v-28l10 20v-15l10 17v-22l10 20v-24l10 27v-23l10 25v-20l10 28v-39l10 30v-26l10 29v-31l10 25v-21l10 29v-32l10 28v-19l10 18v-25l10 26v-27l10 26v-20l10 17v-15l10 25v-30l10 21v-23l10 28v-28l10 26v-21l10 16v-17l10 19v-21l10 18v-16l10 16v-18l10 17v-12l10 18v-19l10 21v-21l10 14v-15l10 16v-13l10 20v-20l10 13v-16l10 17v-15l10 14v-14l10 18v-19l10 22v-22l10 15v-13l10 11v-16l10 18v-12l10 10v-13l10 15v-20l10 21v-23l10 25v-26l10 27v-23l10 18v-17l10 25v-20l10 13v-15l10 13v-10l10 10v-11l10 16v-16l10 11v-11l10 20v-28l10 28v-30l10 31v-22l10 15v-14l10 13v-14l10 20v-21l10 15v-13l10 16v-25l10 23v-19l10 22v-19l10 19v-16l10 14v-17l10 16v-16l10 24v-31l10 23v-21l10 27v-21l10 18v-21l10 17v-15l10 16v-15l10 14v-13l10 13v-18l10 23v-21l10 20v-21l10 17v-13l10 12v-18l10 26v-28l10 19v-11l10 12v-18l10 25v-21l10 14v-15l10 19v-22l10 16v-15l10 19v-17l10 20v-18l10 22v-31l10 25v-23l10 27v-22l10 23v-24l10 19v-17l10 15v-13l10 12v-13l10 13v-16l10 18v-18l10 20v-19l10 19v-16l10 20v-27l10 27v-29l10 31v-29l10 27v-23l10 18v-20l10 17v-13l10 13v-15l10 15v-20l10 25v-22l10 19v-14l10 15v-20l10 17v-14l10 14v-20l10 20v-15l10 19v-17l10 20v-29l10 42v-47l10 39v-37l10 28v-26l10 31v-26l10 23v-23l10 22v-24l10 23v-26l10 28v-21l10 21v-18l10 15v-16l10 20v-22l10 18v-15l10 20v-21l10 18v-19l10 18v-18l10 23v-26l10 17v-13l10 13v-14l10 16v-12l10 14v-17l10 12v-11l10 13v-14l10 14v-12l10 13v-14l10 15v-15l10 17v-26l10 25v-18l10 21v-17l10 15v-16l10 15v-18l10 18v-21l10 18v-12l10 17v-24l10 21v-17l10 23v-20l10 13v-14l10 12v-18l10 19v-13l10 18v-18l10 18v-21l10 19v-15l10 13v-15l10 14v-13l10 17v-27l10 23v-12l10 13v-14l10 13v-11l10 10v-15l10 23v-19l10 13v-16l10 22v-18l10 18v-22l10 16v-16l10 19v-17l10 12v-16l10 16v-12l10 12v-15l10 16v-12l10 18v-18l10 15v-18l10 22v-21l10 22v-21l10 20v-24l10 21v-16l10 16v-16l10 38v-55l10 41v-44l10 83v-115l10 80v-56l10 66v-47l10 28v-34l10 35v-29l10 26v-20l10 23v-24l10 25v-31l10 30v-25l10 20v-20l10 20v-18l10 18v-20l10 23v-27l10 26v-21l10 28v-28l10 25v-29l10 29v-27l10 23v-25l10 29v-24l10 20v-18l10 15v-23l10 31v-25l10 24v-34l10 34v-32l10 39v-34l10 27v-33l10 28v-25l10 29v-27l10 19v-15l10 33v-46l10 50v-62l10 44v-24l10 23v-25l10 34v-37l10 33v-28l10 26v-31l10 35v-32l10 30v-32l10 32v-27l10 28v-28l10 28v-35l10 34v-23l10 22v-24l10 23v-28l10 37v-37l10 39v-36l10 22v-20l10 33v-45l10 46v-34l10 24v-22l10 20v-26l10 27v-23l10 19v-27l10 40v-34l10 30v-27l10 19v-21l10 19v-26l10 28v-17l10 24v-25l10 26v-35l10 35v-37l10 31v-29l10 41v-35l10 25v-34l10 30v-28l10 27v-19l10 31v-29l10 25v-24l10 20v-21l10 22v-23l10 23v-27l10 27v-27l10 28v-30l10 32v-32l10 34v-27l10 30v-35l10 28v-23l10 19v-18l10 15v-14l10 20v-22l10 19v-28l10 32v-25l10 33v-40l10 35v-27l10 23v-29l10 26v-26l10 24v-27l10 28v-25l10 33v-26l10 27v-36l10 28v-24l10 24v-24l10 25v-20l10 20v-22l10 20v-18l10 28v-33l10 23v-20l10 21v-21l10 20v-24l10 34v-41l10 35v-35l10 41v-30l10 20v-24l10 33v-36l10 39v-30l10 23v-26l10 29v-29l10 21v-17l10 31v-36l10 31v-40l10 32v-31l10 40v-28l10 23v-28l10 26v-25l10 21v-24l10 24v-21l10 23v-21l10 21v-20l10 18v-29l10 35v-22l10 28v-34l10 38v-48l10 44v-31l10 32v-33l10 33v-38l10 36v-28l10 29v-28l10 21v-33"/><use href="#t21" transform="translate(5,0) scale(1,-.85)"/><path d="M350 34v-64l10 45v-34M660 33v-68l10 51v-30M720 18v-35M2340 16v-34M2730 17v-34M2770 23v-44M2890 33v-66l10 48v-29M2930 25v-53M2970 22v-44M4070 21v-41M4140 19v-35M4950 18v-37M5120 32v-67l10 55v-37M5770 30v-70l10 134v-215l10 187v-142l10 102v-52l10 42v-36M5870 17v-33M6080 20v-41l10 99v-145l10 82v-30M6160 24v-48M6650 134v-254M6670 106v-213M6690 137v-268M7050 74v-145"/></g>
<g stroke="#f00" transform="translate(111.5,312.29) scale(0.1)"><path id="t22" d="M0 14v-24l10 36v-52l10 37v-21l10 25v-27l10 26v-36l10 31v-27l10 34v-35l10 26v-21l10 31v-32l10 29v-28l10 31v-37l10 39v-29l10 22v-29l10 34v-39l10 31v-22l10 23v-28l10 29v-21l10 19v-31l10 36v-31l10 28v-26l10 30v-26l10 26v-38l10 34v-34l10 32v-22l10 24v-32l10 42v-38l10 26v-18l10 19v-20l10 18v-18l10 25v-34l10 29v-19l10 22v-35l10 52v-49l10 39v-36l10 48v-56l10 50v-48l10 47v-49l10 43v-37l10 33v-33l10 45v-58l10 51v-38l10 35v-39l10 37v-31l10 37v-46l10 35v-28l10 34v-36l10 31v-26l10 30v-31l10 38v-34l10 24v-26l10 28v-27l10 26v-29l10 32v-31l10 27v-24l10 28v-25l10 24v-23l10 26v-29l10 23v-23l10 19v-25l10 34v-40l10 38v-37l10 31v-28l10 28v-24l10 24v-31l10 32v-30l10 31v-25l10 39v-43l10 28v-23l10 31v-30l10 35v-46l10 34v-24l10 26v-39l10 44v-31l10 32v-43l10 34v-21l10 20v-22l10 28v-29l10 27v-33l10 39v-39l10 37v-29l10 34v-44l10 36v-27l10 35v-41l10 32v-34l10 32v-30l10 39v-47l10 38v-32l10 34v-42l10 39v-26l10 46v-50l10 48v-48l10 33v-26l10 32v-39l10 42v-35l10 24v-26l10 37v-42l10 36v-26l10 23v-30l10 34v-33l10 29v-24l10 34v-40l10 35v-39l10 43v-35l10 25v-31l10 30v-28l10 29v-27l10 30v-28l10 27v-29l10 29v-27l10 36v-35l10 27v-26l10 23v-34l10 44v-41l10 31v-22l10 35v-35l10 22v-28l10 38v-31l10 24v-27l10 23v-26l10 27v-26l10 27v-24l10 27v-32l10 27v-27l10 30v-24l10 27v-31l10 23v-19l10 18v-26l10 27v-21l10 20v-23l10 29v-23l10 18v-16l10 14v-17l10 22v-22l10 22v-21l10 21v-23l10 25v-24l10 22v-24l10 29v-24l10 23v-38l10 31v-19l10 18v-28l10 31v-23l10 19v-16l10 21v-24l10 30v-29l10 23v-21l10 18v-20l10 25v-22l10 21v-26l10 23v-22l10 26v-31l10 28v-22l10 21v-21l10 23v-22l10 17v-18l10 26v-24l10 26v-37l10 32v-21l10 24v-30l10 29v-27l10 21v-22l10 30v-23l10 17v-25l10 31v-24l10 16v-18l10 29v-36l10 26v-17l10 20v-19l10 15v-22l10 31v-29l10 29v-33l10 27v-20l10 29v-28l10 18v-24l10 30v-28l10 23v-29l10 35v-29l10 22v-18l10 15v-14l10 14v-15l10 21v-32l10 31v-23l10 21v-22l10 34v-38l10 35v-28l10 23v-27l10 22v-29l10 35v-36l10 31v-22l10 29v-25l10 25v-25l10 17v-27l10 25v-23l10 28v-19l10 15v-15l10 15v-15l10 22v-25l10 20v-26l10 27v-21l10 22v-26l10 27v-23l10 26v-22l10 12v-12l10 17v-27l10 30v-21l10 18v-17l10 13v-15l10 23v-27l10 23v-17l10 12v-18l10 22v-24l10 24v-21l10 20v-21l10 26v-21l10 14v-15l10 15v-17l10 16v-19l10 28v-22l10 13v-13l10 15v-14l10 17v-17l10 18v-24l10 18v-12l10 20v-26l10 23v-23l10 23v-19l10 19v-30l10 32v-21l10 19v-23l10 21v-19l10 21v-23l10 22v-22l10 18v-17l10 18v-15l10 18v-17l10 15v-15l10 19v-23l10 17v-20l10 27v-20l10 14v-21l10 22v-21l10 21v-16l10 14v-16l10 17v-18l10 18v-16l10 25v-30l10 22v-15l10 16v-18l10 24v-30l10 35v-32l10 26v-24l10 28v-29l10 21v-27l10 30v-20l10 18v-18l10 15v-15l10 23v-33l10 26v-20l10 19v-18l10 24v-27l10 26v-20l10 16v-18l10 21v-25l10 23v-26l10 25v-17l10 18v-19l10 16v-21l10 25v-25l10 23v-21l10 27v-27l10 26v-21l10 21v-21l10 14v-18l10 25v-27l10 25v-21l10 24v-28l10 21v-24l10 26v-21l10 18v-22l10 30v-22l10 16v-17l10 22v-24l10 21v-19l10 24v-23l10 22v-25l10 16v-21l10 21v-12l10 19v-25l10 23v-25l10 23v-24l10 24v-20l10 22v-31l10 32v-22l10 21v-29l10 35v-34l10 31v-25l10 19v-22l10 30v-25l10 26v-30l10 23v-21l10 24v-31l10 28v-16l10 17v-18l10 14v-21l10 29v-29l10 22v-17l10 16v-16l10 20v-20l10 17v-15l10 14v-13l10 14v-16l10 22v-20l10 18v-27l10 24v-16l10 13v-19l10 25v-22l10 21v-20l10 25v-22l10 16v-17l10 15v-16l10 16v-20l10 18v-21l10 23v-18l10 17v-14l10 15v-16l10 18v-18l10 20v-20l10 14v-15l10 16v-16l10 20v-25l10 24v-22l10 27v-22l10 22v-26l10 21v-15l10 15v-22l10 20v-16l10 13v-12l10 12v-9l10 17v-22l10 15v-12l10 13v-17l10 21v-26l10 29v-26l10 22v-18l10 23v-25l10 18v-18l10 22v-22l10 29v-35l10 33v-26l10 18v-15l10 19v-19l10 13v-17l10 24v-28l10 28v-21l10 20v-27l10 26v-30l10 26v-17l10 18v-17l10 20v-27l10 22v-22l10 21v-20l10 26v-18l10 16v-20l10 21v-23l10 26v-24l10 16v-12l10 13v-16l10 16v-20l10 22v-23l10 27v-30l10 24v-14l10 14v-19l10 27v-25l10 16v-18l10 23v-17l10 14v-18l10 19v-19l10 28v-30l10 29v-27l10 24v-29l10 26v-19l10 25v-24l10 14v-23l10 26v-20l10 24v-20l10 14v-19l10 19v-19l10 22v-21l10 23v-21l10 19v-18l10 13v-18l10 24v-18l10 14v-15l10 13v-18l10 20v-20l10 23v-20l10 21v-20l10 17v-18l10 21v-22l10 21v-24l10 22v-16l10 22v-25l10 19v-19l10 25v-31l10 28v-22l10 26v-26l10 23v-28l10 29v-31l10 30v-26l10 20v-20l10 24v-20l10 16v-17l10 20v-18l10 18v-15l10 19v-29l10 28v-20l10 17v-23l10 25v-25l10 24v-27l10 25v-23l10 25v-20l10 23v-23l10 17v-20l10 27v-29l10 23v-17l10 26v-26l10 15v-24l10 30v-29l10 29v-19l10 13v-14l10 16v-16l10 18v-18l10 17v-23l10 22v-23l10 21v-20l10 20v-14l10 19v-31l10 34v-28l10 29v-35l10 32v-23l10 24v-27l10 28v-32l10 25v-27l10 34v-31l10 41v-39l10 33v-39l10 33v-25l10 20v-16l10 15v-22l10 23v-15l10 17v-21l10 19v-18l10 18v-15l10 18v-25l10 30v-25l10 17v-23l10 30v-33l10 34v-36l10 34v-22l10 18v-17l10 24v-31l10 24v-27l10 29v-21l10 20v-24l10 23v-17l10 15v-19l10 19v-22l10 25v-18l10 21v-29l10 29v-26l10 28v-22l10 16v-21l10 25v-23l10 21v-27l10 22v-17l10 18v-17l10 17v-16l10 22v-28l10 24v-16l10 14v-14l10 14v-17l10 15v-12l10 16v-23l10 24v-18l10 24v-23l10 18v-19l10 16v-16l10 17v-16l10 15v-24l10 23v-15l10 15v-20l10 18v-17l10 18v-16l10 22v-25l10 19v-23l10 27v-20l10 17v-22l10 26v-25l10 23v-18l10 17v-15l10 16v-22l10 23v-24l10 24v-20l10 19v-26l10 27v-21l10 16v-20l10 20v-16l10 18v-18l10 21v-22l10 17v-14l10 21v-27l10 25v-20l10 17v-19l10 19v-14l10 12v-15l10 14v-11l10 12v-12l10 18v-19l10 13v-14l10 17v-24l10 26v-26l10 26v-22l10 29v-30l10 33v-35l10 27v-28l10 24v-19l10 16v-15l10 15v-19l10 26v-22l10 16v-14l10 14v-21l10 25v-19l10 18v-20l10 25v-21l10 15v-15l10 17v-20l10 14v-14l10 19v-18l10 22v-23l10 17v-24l10 23v-17l10 16v-21l10 32v-24l10 16v-25l10 24v-24l10 24v-17l10 24v-32l10 33v-29l10 21v-18l10 20v-16l10 22v-31l10 29v-25l10 27v-27l10 23v-22l10 16v-17l10 20v-18l10 25v-28l10 30v-30l10 25v-24l10 29v-38l10 44v-39l10 28v-26l10 23v-20l10 29v-32l10 32v-40l10 33v-20l10 18v-21l10 18v-14l10 13v-15l10 22v-19l10 18v-20l10 19v-22l10 20v-18l10 18v-16l10 13v-18l10 23v-25l10 27v-22l10 16v-16l10 20v-24l10 19v-19l10 20v-13l10 18v-19l10 13v-19l10 23v-25l10 24v-16l10 22v-24l10 21v-25l10 29v-27l10 23v-27l10 22v-20l10 28v-30l10 29v-27l10 24v-18l10 21v-22l10 18v-20l10 22v-18l10 13v-18l10 23v-25l10 29v-30l10 27v-20l10 13v-15l10 15v-13l10 13v-12l10 11v-11l10 13v-24l10 33v-31l10 22v-16l10 25v-23l10 22v-27l10 18v-18l10 27v-30l10 22v-16l10 22v-20l10 17v-20l10 17v-20l10 27v-24l10 21v-20l10 18v-17l10 20v-21l10 18v-17l10 16v-15l10 25v-26l10 23v-25l10 29v-31l10 19v-18l10 26v-28l10 26v-28l10 28v-26l10 19v-16l10 16v-12l10 20v-24l10 17v-19l10 21v-24l10 29v-29l10 27v-20l10 17v-17l10 18v-18l10 21v-31l10 33v-30l10 32v-24l10 24v-28l10 23v-30l10 26v-24l10 27v-21l10 22v-19l10 22v-27l10 21v-22l10 20v-24l10 29v-25l10 24v-26l10 31v-25l10 22v-23l10 28v-26l10 18v-20l10 25v-29l10 28v-23l10 20v-18l10 25v-31l10 24v-22l10 21v-18l10 16v-15l10 15v-19l10 17v-13l10 17v-18l10 21v-26l10 25v-20l10 21v-20l10 16v-15l10 13v-12l10 14v-19l10 22v-19l10 18v-24l10 24v-19l10 20v-19l10 16v-23l10 21v-20l10 25v-19l10 20v-25l10 18v-12l10 12v-12l10 15v-22l10 23v-16l10 13v-21l10 25v-26l10 29v-20l10 15v-15l10 19v-20l10 15v-17l10 15v-18l10 23v-27l10 27v-21l10 17v-16l10 18v-15l10 14v-18l10 17v-16l10 16v-21l10 21v-13l10 21v-24l10 24v-25l10 23v-31l10 25v-22l10 22v-15l10 21v-20l10 13v-13l10 13v-13l10 15v-23l10 31v-27"/><use href="#t22" transform="translate(5,0) scale(1,-.85)"/><path d="M320 21v-39l10 81v-121l10 78v-41M390 49v-97l10 67v-35M420 30v-64l10 53v-36M900 28v-54M1000 25v-55M1820 21v-42M2500 23v-44M2900 26v-49M2940 21v-39M3470 23v-47M3540 17v-35M4370 28v-58l10 47v-34M4440 23v-42M5580 34v-67l10 51v-37M6500 16v-34"/></g>
<g stroke="#00f" transform="translate(111.5,324.46) scale(0.1)"><path id="t23" d="M0 11v-16l10 12v-12l10 10v-12l10 18v-17l10 13v-16l10 24v-22l10 12v-10l10 11v-13l10 19v-18l10 19v-23l10 17v-22l10 22v-15l10 14v-14l10 23v-22l10 21v-27l10 25v-23l10 17v-14l10 17v-18l10 21v-18l10 13v-13l10 13v-15l10 18v-23l10 25v-18l10 17v-17l10 17v-18l10 16v-18l10 17v-17l10 22v-28l10 24v-19l10 22v-21l10 21v-25l10 25v-23l10 18v-13l10 12v-12l10 14v-13l10 10v-10l10 12v-20l10 25v-22l10 21v-18l10 17v-17l10 12v-17l10 21v-17l10 19v-18l10 18v-18l10 19v-19l10 20v-23l10 21v-16l10 14v-18l10 21v-17l10 10v-11l10 16v-17l10 15v-15l10 13v-13l10 17v-16l10 12v-11l10 17v-23l10 19v-14l10 15v-21l10 20v-18l10 28v-30l10 24v-19l10 17v-21l10 18v-18l10 16v-14l10 14v-16l10 23v-25l10 19v-19l10 19v-14l10 19v-25l10 24v-23l10 19v-18l10 23v-25l10 20v-20l10 27v-22l10 16v-20l10 23v-21l10 17v-16l10 22v-22l10 14v-12l10 17v-14l10 11v-11l10 14v-15l10 17v-23l10 21v-20l10 22v-20l10 19v-18l10 19v-18l10 13v-12l10 11v-15l10 17v-17l10 18v-14l10 17v-20l10 18v-16l10 14v-12l10 13v-15l10 12v-13l10 15v-11l10 10v-15l10 18v-18l10 16v-15l10 24v-25l10 19v-24l10 23v-20l10 19v-14l10 11v-10l10 15v-19l10 15v-14l10 17v-17l10 16v-13l10 17v-19l10 13v-12l10 13v-19l10 19v-15l10 13v-15l10 22v-21l10 15v-15l10 18v-15l10 14v-19l10 17v-11l10 12v-19l10 21v-15l10 14v-18l10 21v-25l10 21v-19l10 25v-22l10 17v-14l10 16v-20l10 20v-17l10 16v-14l10 12v-15l10 15v-15l10 20v-23l10 22v-22l10 18v-20l10 23v-18l10 16v-15l10 20v-22l10 20v-18l10 12v-11l10 16v-16l10 12v-21l10 22v-15l10 20v-23l10 23v-21l10 19v-20l10 27v-30l10 25v-20l10 22v-23l10 24v-24l10 26v-35l10 31v-23l10 24v-22l10 18v-17l10 17v-17l10 19v-18l10 19v-19l10 19v-20l10 20v-20l10 15v-18l10 20v-19l10 18v-21l10 20v-18l10 21v-17l10 12v-12l10 17v-20l10 15v-12l10 17v-18l10 16v-16l10 12v-13l10 17v-15l10 14v-14l10 11v-15l10 17v-12l10 17v-17l10 18v-23l10 18v-14l10 13v-12l10 19v-28l10 24v-16l10 12v-19l10 21v-19l10 22v-20l10 16v-14l10 12v-11l10 14v-14l10 17v-23l10 16v-10l10 15v-17l10 15v-17l10 18v-13l10 11v-16l10 22v-18l10 18v-19l10 14v-13l10 13v-17l10 19v-16l10 14v-18l10 17v-12l10 16v-16l10 14v-19l10 17v-13l10 19v-17l10 12v-14l10 12v-14l10 17v-15l10 15v-20l10 18v-19l10 22v-14l10 15v-19l10 16v-15l10 18v-17l10 16v-14l10 12v-13l10 11v-13l10 13v-16l10 21v-19l10 21v-20l10 17v-17l10 14v-15l10 17v-14l10 13v-19l10 24v-20l10 14v-13l10 13v-19l10 19v-12l10 19v-24l10 19v-15l10 19v-20l10 14v-17l10 21v-21l10 20v-14l10 14v-21l10 17v-12l10 15v-13l10 10v-13l10 13v-13l10 18v-15l10 12v-13l10 12v-17l10 16v-17l10 18v-11l10 10v-15l10 19v-24l10 26v-19l10 21v-27l10 25v-26l10 22v-20l10 25v-20l10 13v-16l10 20v-15l10 11v-12l10 12v-11l10 18v-23l10 15v-10l10 12v-16l10 15v-16l10 18v-12l10 10v-13l10 17v-19l10 18v-15l10 13v-12l10 12v-12l10 15v-21l10 21v-14l10 18v-21l10 15v-13l10 17v-26l10 22v-15l10 19v-19l10 16v-14l10 18v-22l10 17v-19l10 20v-14l10 14v-15l10 13v-19l10 22v-15l10 11v-11l10 11v-15l10 22v-21l10 14v-15l10 17v-14l10 16v-19l10 21v-18l10 13v-18l10 23v-22l10 18v-17l10 17v-13l10 10v-13l10 19v-14l10 10v-16l10 16v-16l10 20v-21l10 22v-23l10 32v-41l10 36v-27l10 23v-23l10 20v-19l10 17v-21l10 21v-19l10 19v-18l10 17v-12l10 13v-12l10 12v-12l10 13v-15l10 15v-14l10 20v-26l10 22v-16l10 14v-14l10 20v-22l10 16v-12l10 16v-15l10 12v-20l10 23v-23l10 20v-14l10 16v-18l10 20v-19l10 14v-14l10 15v-23l10 27v-19l10 21v-26l10 25v-19l10 13v-17l10 23v-24l10 18v-15l10 14v-14l10 24v-32l10 24v-21l10 18v-15l10 15v-13l10 13v-13l10 19v-22l10 24v-18l10 14v-17l10 14v-18l10 24v-22l10 17v-19l10 17v-17l10 17v-12l10 12v-12l10 17v-20l10 18v-14l10 14v-19l10 17v-15l10 20v-16l10 14v-14l10 17v-23l10 21v-21l10 17v-15l10 19v-22l10 26v-19l10 16v-19l10 14v-12l10 19v-26l10 20v-17l10 15v-15l10 16v-15l10 13v-8l10 11v-12l10 13v-16l10 17v-14l10 12v-18l10 17v-15l10 15v-12l10 14v-19l10 17v-12l10 15v-14l10 14v-19l10 19v-18l10 19v-21l10 17v-19l10 27v-21l10 13v-15l10 22v-25l10 20v-14l10 12v-10l10 9v-14l10 18v-14l10 13v-17l10 14v-11l10 18v-23l10 17v-13l10 14v-17l10 15v-11l10 16v-15l10 17v-19l10 14v-14l10 18v-18l10 16v-18l10 16v-14l10 18v-23l10 24v-21l10 19v-20l10 19v-15l10 15v-19l10 20v-22l10 25v-18l10 16v-23l10 18v-13l10 15v-16l10 13v-11l10 18v-17l10 13v-15l10 15v-18l10 16v-16l10 20v-18l10 13v-18l10 23v-18l10 16v-20l10 18v-11l10 14v-14l10 16v-22l10 17v-12l10 16v-16l10 15v-21l10 19v-17l10 17v-16l10 16v-13l10 17v-16l10 14v-16l10 16v-21l10 19v-14l10 17v-17l10 19v-24l10 26v-21l10 27v-36l10 34v-29l10 23v-28l10 26v-17l10 22v-26l10 23v-22l10 20v-16l10 13v-15l10 16v-16l10 15v-14l10 13v-17l10 16v-17l10 25v-18l10 15v-20l10 22v-33l10 35v-30l10 33v-30l10 21v-15l10 14v-15l10 24v-31l10 24v-18l10 14v-11l10 13v-16l10 18v-14l10 12v-13l10 10v-12l10 16v-14l10 16v-18l10 12v-13l10 19v-20l10 16v-11l10 11v-11l10 10v-12l10 13v-16l10 17v-15l10 15v-14l10 15v-19l10 16v-10l10 17v-22l10 22v-22l10 16v-13l10 11v-8l10 8v-11l10 11v-10l10 11v-11l10 17v-15l10 11v-16l10 16v-17l10 15v-12l10 14v-14l10 14v-13l10 16v-19l10 21v-20l10 14v-14l10 13v-12l10 12v-14l10 19v-16l10 18v-22l10 22v-18l10 12v-14l10 13v-15l10 16v-12l10 18v-17l10 19v-27l10 19v-13l10 14v-17l10 16v-11l10 12v-13l10 18v-17l10 10v-11l10 17v-18l10 14v-13l10 14v-16l10 20v-21l10 15v-12l10 13v-19l10 21v-22l10 20v-13l10 14v-15l10 12v-15l10 15v-13l10 16v-13l10 11v-12l10 11v-12l10 14v-12l10 16v-19l10 15v-16l10 22v-28l10 24v-18l10 14v-18l10 20v-15l10 18v-20l10 17v-12l10 13v-14l10 12v-12l10 12v-19l10 18v-14l10 20v-16l10 13v-22l10 26v-20l10 21v-23l10 20v-19l10 19v-19l10 19v-24l10 25v-20l10 20v-26l10 23v-14l10 15v-24l10 23v-18l10 22v-24l10 23v-17l10 19v-20l10 17v-17l10 14v-12l10 18v-24l10 22v-17l10 13v-17l10 18v-21l10 20v-13l10 11v-18l10 23v-18l10 15v-13l10 18v-18l10 13v-13l10 15v-22l10 20v-19l10 18v-15l10 15v-14l10 14v-20l10 22v-15l10 19v-19l10 14v-14l10 16v-18l10 18v-23l10 21v-12l10 19v-24l10 21v-25l10 29v-26l10 18v-14l10 16v-21l10 26v-21l10 13v-12l10 19v-27l10 27v-25l10 23v-22l10 24v-22l10 18v-17l10 18v-16l10 12v-11l10 12v-18l10 18v-19l10 17v-17l10 20v-15l10 16v-17l10 18v-19l10 21v-17l10 13v-17l10 17v-14l10 11v-13l10 18v-14l10 10v-12l10 10v-14l10 20v-15l10 10v-16l10 19v-16l10 14v-12l10 18v-17l10 12v-13l10 12v-12l10 16v-16l10 16v-19l10 16v-12l10 16v-24l10 19v-17l10 24v-28l10 21v-15l10 21v-22l10 16v-19l10 22v-19l10 17v-20l10 22v-16l10 12v-10l10 13v-13l10 11v-13l10 17v-19l10 18v-16l10 12v-17l10 23v-24l10 27v-24l10 21v-22l10 17v-13l10 14v-16l10 19v-23l10 19v-18l10 18v-11l10 12v-12l10 11v-12l10 24v-36l10 31v-28l10 36v-33l10 21v-21l10 27v-23l10 16v-21l10 25v-24l10 23v-25l10 22v-17l10 18v-20l10 16v-13l10 16v-14l10 13v-20l10 18v-17l10 23v-21l10 15v-16l10 19v-19l10 25v-20l10 20v-26l10 18v-14l10 20v-17l10 11v-16l10 15v-17l10 19v-15l10 17v-21l10 25v-21l10 16v-21l10 23v-15l10 9v-14l10 21v-16l10 13v-13l10 10v-15l10 15v-12l10 12v-10l10 11v-15l10 20v-20l10 14v-10l10 11v-11l10 18v-19l10 18v-19l10 16v-14l10 14v-14l10 15v-16l10 14v-19l10 17v-13l10 15v-14l10 12v-11l10 13v-18l10 22v-21l10 15v-13l10 17v-15l10 11v-15l10 15v-17l10 23v-20l10 14v-16l10 21v-21l10 21v-24l10 25v-18l10 13v-16l10 16v-19l10 22v-17l10 16v-21l10 24v-19l10 16v-22l10 22v-24l10 21v-15l10 18v-20l10 25v-20l10 16v-15l10 11v-11l10 17v-18l10 14v-17l10 18v-19l10 25v-22l10 18v-23l10 22v-16l10 15v-18l10 16v-19l10 22v-18l10 14v-17l10 23v-24l10 23v-19l10 16v-18l10 15v-10l10 14v-13l10 11v-18"/><use href="#t23" transform="translate(5,0) scale(1,-.85)"/><path d="M270 16v-31M930 15v-31M1000 20v-39M1440 29v-63l10 47v-30M1490 24v-47M2430 18v-36M2920 24v-48l10 41v-35M4230 17v-35M4380 39v-73l10 52v-34M4430 18v-36M5230 14v-27M5670 21v-43M6220 36v-76l10 58v-34M6270 15v-33M6950 13v-23"/></g>
<g stroke="#f00" transform="translate(111.5,336.64) scale(0.1)"><path id="t24" d="M0 13v-19l10 18v-23l10 21v-15l10 16v-18l10 13v-11l10 10v-16l10 20v-15l10 14v-16l10 19v-16l10 13v-12l10 10v-14l10 17v-14l10 16v-19l10 12v-11l10 17v-19l10 19v-15l10 11v-13l10 13v-13l10 13v-14l10 17v-13l10 14v-18l10 17v-22l10 22v-14l10 14v-21l10 23v-24l10 20v-13l10 20v-20l10 17v-21l10 23v-23l10 24v-28l10 19v-12l10 18v-18l10 17v-22l10 22v-18l10 18v-22l10 20v-14l10 18v-26l10 21v-14l10 14v-16l10 24v-25l10 15v-11l10 18v-22l10 16v-16l10 17v-17l10 20v-19l10 14v-14l10 15v-17l10 26v-27l10 19v-17l10 16v-14l10 14v-18l10 24v-19l10 14v-13l10 17v-22l10 17v-12l10 13v-12l10 12v-12l10 11v-13l10 15v-15l10 14v-13l10 17v-24l10 19v-14l10 22v-26l10 17v-12l10 18v-19l10 19v-24l10 18v-15l10 24v-20l10 13v-15l10 17v-14l10 12v-12l10 11v-13l10 13v-16l10 16v-11l10 17v-18l10 16v-20l10 18v-14l10 12v-12l10 14v-22l10 27v-27l10 25v-24l10 24v-23l10 23v-19l10 22v-22l10 16v-18l10 23v-20l10 19v-22l10 19v-20l10 22v-21l10 15v-11l10 11v-10l10 12v-12l10 13v-14l10 16v-18l10 19v-18l10 14v-19l10 20v-15l10 21v-20l10 20v-27l10 23v-23l10 21v-15l10 13v-15l10 15v-17l10 23v-25l10 19v-11l10 12v-16l10 21v-25l10 27v-23l10 16v-14l10 15v-21l10 27v-20l10 18v-25l10 24v-22l10 15v-8l10 12v-13l10 15v-16l10 12v-19l10 22v-20l10 16v-14l10 16v-18l10 16v-13l10 18v-22l10 25v-21l10 14v-12l10 12v-16l10 17v-14l10 13v-17l10 18v-13l10 13v-12l10 17v-22l10 21v-19l10 22v-28l10 27v-20l10 19v-18l10 16v-20l10 16v-19l10 19v-15l10 20v-16l10 14v-22l10 20v-15l10 13v-10l10 16v-22l10 27v-26l10 32v-39l10 29v-21l10 24v-29l10 28v-29l10 25v-26l10 24v-19l10 17v-18l10 18v-12l10 16v-22l10 19v-13l10 13v-13l10 18v-21l10 15v-14l10 22v-30l10 22v-20l10 21v-13l10 18v-21l10 17v-22l10 27v-24l10 17v-14l10 15v-14l10 15v-19l10 20v-22l10 19v-18l10 19v-12l10 11v-15l10 15v-11l10 18v-21l10 19v-21l10 19v-17l10 14v-11l10 11v-12l10 13v-17l10 20v-18l10 13v-14l10 14v-18l10 23v-17l10 19v-19l10 15v-13l10 16v-16l10 10v-12l10 12v-13l10 13v-13l10 14v-16l10 15v-12l10 15v-19l10 17v-20l10 20v-17l10 24v-22l10 15v-17l10 18v-13l10 12v-13l10 17v-19l10 18v-15l10 11v-10l10 10v-16l10 17v-13l10 13v-12l10 17v-26l10 29v-29l10 32v-25l10 15v-18l10 22v-17l10 12v-17l10 18v-14l10 16v-17l10 16v-15l10 18v-16l10 10v-13l10 17v-14l10 15v-17l10 18v-22l10 21v-22l10 17v-18l10 18v-17l10 17v-11l10 18v-22l10 17v-13l10 14v-21l10 25v-27l10 35v-41l10 34v-30l10 37v-36l10 28v-32l10 30v-22l10 29v-29l10 28v-34l10 27v-19l10 22v-21l10 15v-18l10 23v-20l10 16v-13l10 14v-16l10 18v-19l10 19v-16l10 17v-18l10 12v-16l10 21v-15l10 10v-13l10 19v-19l10 19v-22l10 19v-14l10 16v-20l10 21v-17l10 11v-12l10 12v-10l10 10v-11l10 15v-19l10 19v-15l10 18v-20l10 18v-15l10 14v-20l10 19v-16l10 14v-16l10 17v-19l10 20v-15l10 14v-12l10 11v-14l10 15v-20l10 18v-17l10 21v-18l10 21v-19l10 15v-17l10 20v-19l10 13v-10l10 13v-17l10 14v-15l10 17v-12l10 11v-13l10 18v-16l10 10v-12l10 12v-17l10 20v-16l10 18v-16l10 21v-30l10 20v-14l10 18v-14l10 10v-15l10 20v-16l10 17v-18l10 17v-23l10 23v-15l10 18v-24l10 19v-15l10 14v-12l10 14v-17l10 15v-13l10 14v-17l10 19v-15l10 15v-21l10 22v-20l10 22v-19l10 17v-17l10 19v-19l10 21v-25l10 19v-23l10 27v-24l10 25v-25l10 17v-14l10 17v-23l10 24v-21l10 17v-20l10 27v-19l10 22v-23l10 19v-23l10 22v-19l10 15v-13l10 20v-20l10 15v-19l10 15v-11l10 13v-16l10 15v-12l10 15v-14l10 12v-12l10 10v-17l10 17v-12l10 19v-20l10 16v-18l10 24v-31l10 26v-23l10 20v-11l10 15v-24l10 21v-12l10 13v-20l10 19v-13l10 12v-14l10 14v-13l10 13v-12l10 14v-13l10 10v-15l10 15v-9l10 11v-14l10 19v-22l10 17v-15l10 21v-20l10 14v-19l10 20v-19l10 17v-19l10 24v-22l10 19v-18l10 18v-17l10 18v-19l10 18v-13l10 10v-12l10 16v-18l10 19v-23l10 20v-14l10 12v-12l10 15v-19l10 19v-18l10 21v-22l10 23v-17l10 11v-18l10 20v-15l10 19v-21l10 22v-23l10 18v-17l10 22v-23l10 24v-20l10 11v-17l10 18v-11l10 16v-22l10 15v-12l10 14v-10l10 10v-13l10 16v-17l10 16v-18l10 17v-15l10 14v-14l10 15v-19l10 20v-14l10 15v-15l10 15v-17l10 15v-12l10 11v-16l10 15v-14l10 16v-13l10 14v-16l10 14v-14l10 17v-17l10 13v-16l10 20v-16l10 12v-17l10 24v-20l10 19v-22l10 22v-19l10 23v-21l10 15v-17l10 24v-28l10 19v-19l10 19v-14l10 17v-19l10 16v-20l10 22v-17l10 17v-15l10 13v-18l10 20v-16l10 17v-22l10 19v-18l10 17v-19l10 26v-27l10 21v-19l10 27v-23l10 21v-22l10 15v-12l10 15v-25l10 41v-46l10 40v-29l10 21v-25l10 29v-29l10 21v-21l10 21v-18l10 26v-24l10 17v-15l10 14v-15l10 19v-18l10 15v-18l10 17v-19l10 24v-25l10 24v-16l10 11v-12l10 18v-17l10 11v-12l10 17v-19l10 20v-20l10 14v-17l10 24v-22l10 16v-14l10 17v-25l10 20v-12l10 18v-22l10 16v-13l10 15v-12l10 16v-17l10 12v-17l10 17v-20l10 23v-22l10 27v-25l10 24v-24l10 16v-12l10 15v-18l10 15v-11l10 12v-10l10 16v-24l10 18v-15l10 24v-28l10 20v-18l10 25v-21l10 19v-20l10 18v-19l10 16v-19l10 18v-11l10 16v-23l10 18v-12l10 12v-19l10 25v-17l10 16v-19l10 14v-11l10 10v-15l10 17v-12l10 14v-19l10 14v-11l10 14v-15l10 14v-11l10 18v-23l10 16v-11l10 11v-14l10 19v-24l10 25v-25l10 18v-11l10 11v-14l10 17v-16l10 12v-11l10 14v-16l10 18v-14l10 10v-9l10 9v-12l10 16v-15l10 12v-18l10 20v-13l10 13v-16l10 14v-12l10 11v-13l10 14v-14l10 20v-24l10 19v-15l10 19v-19l10 18v-15l10 11v-14l10 18v-22l10 18v-16l10 20v-16l10 15v-15l10 13v-14l10 13v-15l10 15v-13l10 17v-15l10 10v-12l10 14v-15l10 19v-16l10 18v-19l10 11v-10l10 16v-18l10 13v-14l10 15v-15l10 14v-14l10 18v-17l10 15v-17l10 18v-20l10 16v-12l10 18v-21l10 24v-25l10 27v-32l10 31v-23l10 16v-17l10 17v-16l10 28v-36l10 29v-22l10 16v-20l10 22v-18l10 17v-16l10 17v-16l10 18v-18l10 19v-17l10 10v-13l10 17v-17l10 21v-19l10 18v-19l10 17v-15l10 13v-16l10 15v-13l10 12v-13l10 20v-26l10 22v-21l10 19v-19l10 22v-22l10 19v-16l10 22v-21l10 16v-14l10 11v-11l10 14v-12l10 9v-12l10 19v-20l10 19v-19l10 13v-13l10 16v-14l10 17v-18l10 17v-16l10 17v-21l10 21v-24l10 22v-18l10 23v-20l10 20v-26l10 22v-23l10 19v-18l10 22v-22l10 18v-11l10 16v-22l10 19v-18l10 24v-26l10 24v-21l10 18v-16l10 14v-12l10 19v-24l10 18v-20l10 23v-22l10 20v-15l10 17v-17l10 11v-15l10 17v-12l10 11v-18l10 20v-17l10 17v-14l10 15v-14l10 10v-13l10 20v-19l10 19v-18l10 14v-15l10 17v-17l10 12v-10l10 17v-23l10 18v-15l10 15v-13l10 17v-18l10 16v-14l10 14v-21l10 27v-30l10 22v-21l10 27v-23l10 21v-20l10 16v-15l10 17v-18l10 21v-24l10 23v-17l10 13v-19l10 17v-13l10 19v-18l10 13v-13l10 14v-20l10 21v-21l10 22v-21l10 22v-19l10 16v-17l10 17v-17l10 19v-19l10 21v-17l10 11v-15l10 20v-17l10 19v-22l10 23v-25l10 20v-23l10 27v-20l10 18v-17l10 16v-16l10 19v-20l10 18v-24l10 24v-19l10 20v-19l10 19v-18l10 13v-13l10 15v-15l10 21v-25l10 17v-12l10 14v-16l10 19v-20l10 24v-29l10 21v-13l10 12v-11l10 15v-24l10 20v-19l10 19v-16l10 17v-20l10 22v-15l10 13v-14l10 15v-15l10 14v-17l10 21v-18l10 15v-14l10 13v-15l10 21v-26l10 25v-19l10 20v-23l10 20v-18l10 16v-20l10 22v-21l10 20v-15l10 19v-22l10 14v-17l10 22v-17l10 19v-20l10 15v-15l10 25v-26l10 21v-22l10 25v-26l10 20v-26l10 32v-24l10 16v-17l10 18v-18l10 21v-20l10 15v-13l10 16v-22l10 22v-16l10 14v-13l10 13v-18l10 17v-17l10 24v-20l10 16v-22l10 23v-21l10 19v-13l10 13v-15l10 12v-15l10 17v-17l10 17v-15l10 16v-17l10 22v-20l10 15v-20l10 20v-20l10 23v-23l10 20v-13l10 10v-10l10 10v-16l10 24v-21l10 18v-23l10 24v-22l10 20v-15l10 13v-15l10 13v-12l10 18v-22l10 17v-16l10 15v-10l10 11v-16l10 18v-14l10 12v-17l10 17v-12l10 12v-11l10 9v-10l10 13v-13l10 11v-18l10 22v-17l10 13v-14l10 23v-27l10 24v-19l10 15v-13l10 12v-12"/><use href="#t24" transform="translate(5,0) scale(1,-.85)"/><path d="M790 13v-25M1060 14v-29M1310 18v-35M1420 33v-74l10 56v-31M1470 15v-32M2020 16v-32M2240 39v-84l10 65v-42M2290 16v-33M3070 19v-35M3200 13v-29M3590 15v-30M3900 17v-33M4090 29v-62l10 50v-32M4470 17v-35M5140 32v-66l10 50v-31M5190 19v-38M5370 13v-28M6430 11v-24M6540 18v-40"/></g>
<g stroke="#00f" transform="translate(111.5,348.81) scale(0.1)"><path id="t25" d="M0 9v-18l10 23v-22l10 21v-27l10 21v-13l10 18v-24l10 25v-23l10 17v-14l10 13v-15l10 19v-18l10 21v-27l10 22v-20l10 20v-16l10 19v-23l10 21v-17l10 16v-14l10 18v-22l10 22v-25l10 22v-17l10 21v-21l10 14v-14l10 17v-21l10 22v-19l10 19v-17l10 20v-25l10 17v-11l10 16v-24l10 26v-26l10 26v-19l10 12v-16l10 16v-11l10 14v-15l10 13v-19l10 20v-13l10 13v-13l10 14v-14l10 13v-12l10 13v-14l10 14v-21l10 26v-27l10 27v-24l10 21v-16l10 14v-17l10 17v-16l10 14v-12l10 17v-17l10 11v-10l10 10v-13l10 18v-20l10 19v-15l10 20v-22l10 22v-22l10 15v-24l10 27v-16l10 13v-14l10 23v-32l10 28v-22l10 23v-27l10 19v-12l10 20v-21l10 19v-24l10 24v-19l10 14v-11l10 13v-19l10 21v-17l10 16v-18l10 15v-15l10 19v-16l10 17v-17l10 15v-23l10 21v-17l10 17v-23l10 29v-21l10 18v-24l10 19v-11l10 16v-22l10 28v-24l10 26v-29l10 24v-25l10 28v-24l10 22v-23l10 25v-32l10 24v-16l10 19v-22l10 19v-17l10 24v-28l10 19v-14l10 15v-17l10 24v-26l10 26v-24l10 24v-20l10 17v-18l10 13v-15l10 23v-22l10 20v-23l10 18v-14l10 20v-24l10 16v-13l10 15v-13l10 16v-24l10 20v-17l10 17v-13l10 15v-17l10 21v-22l10 17v-13l10 17v-24l10 21v-20l10 26v-24l10 19v-15l10 21v-31l10 28v-23l10 22v-25l10 26v-30l10 30v-24l10 24v-26l10 27v-22l10 25v-31l10 27v-37l10 43v-29l10 19v-18l10 25v-32l10 33v-22l10 18v-22l10 15v-16l10 17v-18l10 23v-23l10 19v-13l10 18v-21l10 20v-18l10 16v-23l10 20v-22l10 25v-19l10 20v-21l10 19v-21l10 30v-24l10 16v-20l10 21v-24l10 23v-18l10 26v-30l10 24v-23l10 22v-20l10 15v-10l10 14v-16l10 12v-9l10 11v-11l10 8v-9l10 16v-21l10 18v-15l10 13v-11l10 15v-17l10 16v-15l10 12v-14l10 20v-23l10 19v-20l10 26v-23l10 16v-18l10 20v-22l10 22v-15l10 15v-21l10 25v-22l10 16v-17l10 19v-15l10 13v-13l10 19v-25l10 21v-16l10 17v-23l10 26v-18l10 10v-15l10 24v-23l10 15v-12l10 13v-19l10 22v-21l10 21v-20l10 22v-25l10 22v-18l10 22v-24l10 23v-26l10 20v-13l10 20v-20l10 13v-16l10 15v-11l10 17v-19l10 15v-23l10 30v-24l10 23v-20l10 14v-14l10 12v-13l10 15v-12l10 10v-12l10 19v-25l10 26v-25l10 24v-18l10 13v-14l10 13v-12l10 15v-21l10 19v-15l10 16v-16l10 14v-12l10 16v-15l10 15v-20l10 19v-15l10 13v-16l10 20v-19l10 20v-24l10 19v-13l10 12v-19l10 22v-23l10 27v-22l10 16v-19l10 24v-20l10 14v-15l10 22v-23l10 26v-23l10 14v-20l10 25v-23l10 23v-21l10 16v-21l10 28v-23l10 21v-17l10 12v-12l10 16v-21l10 19v-19l10 17v-16l10 14v-10l10 10v-10l10 13v-16l10 18v-17l10 14v-15l10 18v-17l10 14v-17l10 17v-14l10 13v-12l10 13v-16l10 15v-17l10 23v-23l10 18v-15l10 16v-14l10 12v-12l10 13v-18l10 17v-14l10 17v-20l10 19v-19l10 21v-24l10 23v-19l10 23v-19l10 19v-24l10 17v-16l10 26v-30l10 22v-18l10 24v-29l10 27v-26l10 21v-17l10 18v-17l10 16v-17l10 24v-23l10 20v-18l10 23v-31l10 27v-20l10 19v-24l10 19v-15l10 20v-19l10 15v-13l10 17v-18l10 16v-19l10 29v-41l10 43v-42l10 33v-29l10 29v-22l10 21v-24l10 30v-35l10 26v-23l10 21v-13l10 13v-17l10 21v-18l10 20v-26l10 20v-12l10 15v-19l10 23v-25l10 22v-17l10 21v-23l10 21v-21l10 20v-17l10 18v-23l10 19v-15l10 14v-13l10 20v-21l10 16v-16l10 18v-17l10 16v-17l10 20v-21l10 20v-24l10 20v-17l10 17v-15l10 16v-21l10 18v-11l10 14v-17l10 15v-18l10 16v-15l10 18v-13l10 13v-13l10 17v-21l10 18v-15l10 22v-30l10 28v-26l10 25v-25l10 19v-15l10 14v-12l10 11v-19l10 24v-23l10 25v-18l10 11v-12l10 18v-21l10 23v-18l10 16v-22l10 17v-14l10 14v-14l10 13v-10l10 15v-18l10 16v-19l10 19v-18l10 19v-19l10 17v-19l10 26v-28l10 22v-19l10 23v-19l10 17v-16l10 13v-13l10 18v-17l10 17v-24l10 25v-28l10 26v-19l10 21v-32l10 31v-21l10 23v-22l10 22v-22l10 16v-15l10 12v-11l10 11v-12l10 17v-20l10 17v-17l10 21v-20l10 17v-13l10 14v-18l10 16v-22l10 22v-14l10 20v-20l10 15v-21l10 19v-13l10 14v-15l10 16v-19l10 20v-14l10 15v-15l10 14v-21l10 19v-17l10 20v-23l10 24v-23l10 22v-17l10 23v-26l10 20v-22l10 26v-22l10 14v-15l10 18v-23l10 21v-12l10 13v-18l10 17v-14l10 15v-20l10 17v-17l10 21v-16l10 14v-15l10 14v-13l10 16v-18l10 21v-18l10 20v-25l10 19v-23l10 25v-16l10 18v-22l10 20v-17l10 20v-24l10 19v-17l10 15v-19l10 23v-21l10 17v-12l10 16v-16l10 20v-22l10 21v-26l10 21v-14l10 14v-18l10 19v-18l10 22v-22l10 17v-14l10 12v-18l10 22v-17l10 21v-25l10 24v-26l10 26v-24l10 25v-20l10 18v-19l10 14v-14l10 15v-22l10 27v-19l10 20v-29l10 30v-26l10 23v-18l10 19v-19l10 18v-19l10 15v-19l10 18v-17l10 26v-28l10 23v-17l10 15v-19l10 22v-29l10 33v-36l10 36v-29l10 27v-24l10 23v-30l10 29v-21l10 18v-16l10 19v-19l10 21v-23l10 19v-16l10 14v-19l10 17v-14l10 16v-22l10 22v-21l10 20v-19l10 19v-16l10 18v-16l10 17v-21l10 17v-16l10 16v-14l10 23v-30l10 30v-25l10 16v-14l10 14v-20l10 25v-25l10 24v-26l10 28v-27l10 24v-20l10 21v-23l10 19v-11l10 11v-15l10 16v-21l10 25v-16l10 11v-15l10 19v-19l10 20v-17l10 18v-22l10 18v-13l10 10v-11l10 14v-22l10 22v-16l10 15v-14l10 14v-17l10 17v-13l10 11v-10l10 14v-22l10 27v-24l10 21v-16l10 12v-12l10 12v-12l10 16v-16l10 18v-19l10 12v-20l10 21v-18l10 22v-19l10 22v-23l10 18v-21l10 27v-27l10 29v-25l10 15v-15l10 20v-18l10 12v-15l10 20v-25l10 20v-21l10 27v-19l10 15v-21l10 22v-18l10 16v-16l10 14v-17l10 18v-14l10 18v-15l10 18v-21l10 14v-20l10 23v-22l10 23v-21l10 25v-27l10 19v-11l10 10v-11l10 20v-27l10 18v-17l10 21v-21l10 20v-15l10 16v-20l10 20v-21l10 17v-10l10 10v-10l10 12v-20l10 22v-20l10 18v-12l10 10v-13l10 12v-13l10 16v-13l10 13v-13l10 15v-18l10 20v-18l10 21v-22l10 14v-12l10 12v-21l10 21v-19l10 21v-15l10 21v-27l10 23v-24l10 23v-21l10 20v-21l10 20v-17l10 19v-23l10 21v-20l10 21v-15l10 17v-24l10 21v-14l10 17v-18l10 15v-22l10 28v-25l10 25v-20l10 16v-16l10 16v-24l10 36v-44l10 33v-21l10 26v-30l10 31v-30l10 27v-26l10 25v-26l10 27v-23l10 18v-19l10 23v-19l10 14v-18l10 17v-14l10 20v-20l10 16v-18l10 17v-16l10 16v-14l10 20v-25l10 18v-17l10 24v-24l10 17v-15l10 16v-12l10 12v-20l10 23v-18l10 16v-17l10 18v-22l10 26v-24l10 17v-14l10 15v-14l10 16v-19l10 21v-21l10 19v-17l10 19v-23l10 18v-18l10 21v-15l10 17v-21l10 22v-22l10 22v-19l10 14v-19l10 17v-11l10 12v-17l10 20v-13l10 11v-13l10 14v-22l10 22v-16l10 15v-17l10 22v-17l10 10v-17l10 22v-15l10 13v-18l10 20v-16l10 11v-11l10 13v-17l10 20v-22l10 20v-17l10 17v-21l10 21v-20l10 23v-24l10 31v-32l10 21v-14l10 18v-18l10 13v-11l10 17v-20l10 16v-15l10 17v-15l10 13v-18l10 16v-16l10 18v-21l10 23v-26l10 30v-25l10 23v-28l10 33v-28l10 22v-29l10 37v-29l10 22v-22l10 19v-17l10 22v-22l10 15v-14l10 21v-26l10 19v-14l10 19v-23l10 29v-34l10 24v-18l10 19v-28l10 34v-33l10 28v-22l10 25v-30l10 36v-37l10 36v-29l10 32v-37l10 24v-17l10 24v-27l10 24v-22l10 22v-29l10 25v-14l10 22v-26l10 23v-21l10 15v-17l10 18v-19l10 20v-19l10 17v-16l10 22v-29l10 25v-17l10 16v-19l10 22v-22l10 22v-18l10 20v-22l10 24v-29l10 23v-24l10 27v-24l10 20v-24l10 30v-30l10 32v-23l10 13v-18l10 20v-16l10 16v-20l10 23v-21l10 18v-19l10 28v-28l10 32v-31l10 27v-31l10 25v-26l10 22v-17l10 24v-23l10 17v-15l10 14v-14l10 20v-20l10 15v-15l10 18v-17l10 13v-16l10 23v-37l10 59v-70l10 59v-43l10 38v-34l10 25v-25l10 22v-16l10 19v-22l10 25v-25l10 25v-27l10 19v-17l10 18v-17l10 18v-25l10 30v-32l10 35v-30l10 24v-19l10 24v-23l10 17v-18l10 25v-31l10 27v-24l10 24v-29l10 24v-23l10 25v-19l10 24v-21l10 17v-21l10 24v-22l10 17v-24l10 24v-27l10 27v-21l10 21v-24l10 33v-24l10 19v-24l10 21v-20l10 31v-36l10 36v-36l10 33v-32l10 24v-17l10 23v-34l10 29v-19l10 25v-25l10 20v-19l10 22v-22l10 16v-24l10 30v-28l10 29v-24l10 23v-23l10 26v-25l10 28v-28l10 15v-18l10 24v-20l10 24v-27l10 19v-27l10 31v-29l10 35v-32l10 24v-21"/><use href="#t25" transform="translate(5,0) scale(1,-.85)"/><path d="M750 28v-54l10 42v-32M1100 39v-80l10 57v-31M1160 18v-41M2060 15v-31M2630 21v-39M2680 17v-38M3170 18v-35M3300 15v-29M4100 22v-49l10 41v-28M4220 15v-34M5010 13v-27M5250 33v-63l10 50v-37M5290 19v-42M5540 17v-35M5790 12v-28M5950 17v-34M6110 28v-61M6400 20v-38M6530 17v-33l10 77v-117l10 79v-48M6850 16v-35M7030 15v-30"/></g>
<g stroke="#f00" transform="translate(111.5,360.98) scale(0.1)"><path id="t26" d="M0 13v-25l10 18v-16l10 17v-17l10 21v-21l10 21v-19l10 17v-19l10 21v-19l10 18v-19l10 18v-16l10 11v-11l10 15v-19l10 24v-25l10 18v-18l10 21v-22l10 20v-14l10 14v-17l10 18v-14l10 13v-18l10 17v-16l10 18v-20l10 18v-12l10 11v-11l10 11v-12l10 15v-17l10 15v-17l10 19v-15l10 18v-18l10 19v-18l10 14v-16l10 20v-22l10 17v-18l10 23v-22l10 22v-19l10 12v-11l10 13v-12l10 13v-21l10 30v-37l10 29v-17l10 16v-20l10 26v-22l10 18v-16l10 14v-14l10 16v-16l10 12v-12l10 10v-10l10 11v-10l10 10v-11l10 17v-23l10 20v-20l10 18v-13l10 14v-23l10 23v-14l10 20v-25l10 22v-22l10 22v-17l10 17v-23l10 28v-21l10 12v-20l10 20v-16l10 22v-21l10 21v-21l10 23v-27l10 26v-26l10 18v-10l10 10v-11l10 15v-15l10 16v-19l10 22v-23l10 19v-17l10 17v-19l10 16v-11l10 18v-23l10 16v-12l10 19v-24l10 22v-17l10 15v-14l10 17v-24l10 24v-18l10 13v-17l10 20v-19l10 21v-25l10 25v-20l10 13v-14l10 14v-11l10 12v-13l10 17v-21l10 16v-12l10 15v-13l10 12v-16l10 15v-17l10 23v-18l10 12v-17l10 23v-19l10 12v-17l10 24v-17l10 15v-22l10 23v-21l10 18v-17l10 17v-20l10 23v-23l10 22v-16l10 12v-20l10 20v-14l10 17v-17l10 14v-16l10 21v-24l10 27v-29l10 27v-33l10 35v-23l10 22v-30l10 31v-27l10 27v-23l10 15v-12l10 15v-17l10 14v-16l10 18v-14l10 12v-17l10 19v-21l10 20v-16l10 15v-14l10 15v-13l10 16v-16l10 13v-21l10 19v-19l10 23v-19l10 22v-22l10 17v-18l10 20v-20l10 22v-16l10 9v-12l10 15v-12l10 11v-15l10 19v-22l10 21v-15l10 14v-16l10 14v-11l10 16v-21l10 16v-12l10 17v-22l10 22v-24l10 19v-13l10 13v-13l10 18v-20l10 17v-15l10 18v-17l10 15v-19l10 17v-17l10 17v-20l10 23v-20l10 16v-17l10 19v-12l10 13v-15l10 15v-21l10 24v-22l10 18v-12l10 13v-20l10 17v-15l10 20v-17l10 17v-20l10 19v-16l10 11v-10l10 14v-18l10 15v-14l10 19v-23l10 22v-21l10 25v-20l10 13v-15l10 19v-17l10 18v-22l10 14v-14l10 15v-12l10 15v-15l10 14v-13l10 13v-13l10 13v-18l10 22v-24l10 25v-21l10 23v-23l10 19v-23l10 24v-19l10 14v-12l10 14v-14l10 14v-16l10 19v-16l10 13v-20l10 17v-11l10 14v-17l10 24v-24l10 15v-21l10 29v-25l10 21v-17l10 17v-16l10 11v-13l10 20v-18l10 11v-12l10 15v-19l10 16v-11l10 15v-16l10 11v-12l10 19v-22l10 22v-16l10 11v-17l10 19v-16l10 14v-12l10 18v-22l10 17v-19l10 22v-22l10 17v-11l10 17v-18l10 19v-22l10 16v-16l10 18v-22l10 25v-23l10 23v-24l10 19v-20l10 28v-20l10 12v-12l10 16v-23l10 26v-25l10 25v-29l10 27v-22l10 21v-23l10 21v-20l10 21v-18l10 15v-15l10 17v-21l10 21v-13l10 12v-15l10 21v-22l10 24v-28l10 23v-24l10 23v-19l10 18v-15l10 13v-16l10 16v-11l10 14v-20l10 19v-16l10 17v-15l10 17v-18l10 12v-13l10 14v-14l10 20v-17l10 14v-17l10 17v-18l10 15v-15l10 15v-11l10 14v-14l10 16v-22l10 21v-21l10 17v-14l10 15v-13l10 18v-23l10 23v-25l10 20v-19l10 18v-19l10 18v-14l10 14v-14l10 21v-20l10 16v-18l10 18v-14l10 12v-11l10 9v-9l10 12v-16l10 19v-16l10 12v-13l10 18v-16l10 14v-15l10 21v-30l10 27v-21l10 29v-35l10 31v-25l10 18v-23l10 26v-17l10 15v-16l10 18v-25l10 19v-20l10 25v-21l10 18v-21l10 28v-24l10 20v-27l10 24v-20l10 21v-23l10 22v-17l10 17v-18l10 16v-12l10 15v-21l10 21v-16l10 15v-15l10 13v-17l10 23v-19l10 17v-18l10 14v-18l10 18v-12l10 20v-23l10 15v-16l10 16v-17l10 16v-10l10 10v-14l10 18v-19l10 20v-19l10 22v-23l10 16v-15l10 14v-15l10 21v-21l10 20v-22l10 24v-17l10 12v-13l10 16v-22l10 21v-20l10 18v-17l10 20v-21l10 22v-24l10 24v-26l10 22v-13l10 12v-12l10 18v-17l10 15v-24l10 20v-18l10 18v-18l10 20v-21l10 25v-20l10 19v-20l10 15v-16l10 20v-16l10 11v-10l10 17v-18l10 13v-14l10 17v-20l10 19v-19l10 15v-9l10 9v-16l10 20v-20l10 22v-21l10 22v-26l10 24v-22l10 21v-14l10 10v-14l10 14v-18l10 18v-11l10 14v-18l10 16v-18l10 22v-17l10 17v-20l10 21v-26l10 25v-21l10 17v-17l10 20v-16l10 18v-26l10 22v-18l10 20v-18l10 22v-20l10 18v-17l10 17v-26l10 22v-20l10 21v-15l10 20v-25l10 25v-18l10 13v-17l10 18v-18l10 19v-15l10 13v-17l10 17v-19l10 16v-10l10 16v-16l10 12v-20l10 23v-17l10 18v-22l10 16v-11l10 20v-19l10 19v-25l10 17v-13l10 16v-14l10 11v-14l10 18v-15l10 10v-17l10 23v-19l10 14v-12l10 11v-16l10 22v-18l10 15v-16l10 13v-14l10 23v-20l10 13v-14l10 13v-13l10 17v-18l10 18v-23l10 26v-18l10 15v-21l10 23v-18l10 13v-22l10 21v-19l10 22v-18l10 18v-19l10 25v-25l10 16v-14l10 15v-13l10 16v-15l10 12v-15l10 21v-19l10 16v-24l10 23v-21l10 18v-13l10 13v-14l10 17v-17l10 13v-12l10 13v-14l10 13v-10l10 10v-10l10 12v-14l10 16v-13l10 9v-16l10 17v-14l10 15v-15l10 19v-21l10 17v-15l10 18v-22l10 19v-20l10 20v-16l10 14v-13l10 20v-24l10 17v-16l10 18v-12l10 18v-21l10 20v-22l10 15v-12l10 14v-20l10 26v-21l10 16v-13l10 12v-14l10 13v-13l10 18v-22l10 22v-21l10 21v-19l10 22v-21l10 15v-20l10 24v-21l10 20v-24l10 24v-22l10 17v-13l10 12v-11l10 13v-17l10 17v-14l10 12v-12l10 18v-17l10 15v-15l10 19v-21l10 20v-22l10 21v-25l10 26v-18l10 14v-16l10 13v-14l10 14v-11l10 18v-17l10 16v-22l10 18v-13l10 14v-21l10 19v-15l10 21v-18l10 20v-23l10 20v-17l10 15v-19l10 15v-18l10 24v-18l10 18v-24l10 21v-15l10 15v-13l10 21v-24l10 13v-15l10 18v-17l10 22v-18l10 12v-17l10 15v-11l10 13v-17l10 15v-15l10 21v-22l10 24v-26l10 23v-17l10 12v-14l10 22v-25l10 20v-18l10 21v-24l10 20v-21l10 20v-11l10 12v-17l10 16v-18l10 25v-25l10 23v-22l10 21v-18l10 15v-13l10 13v-18l10 18v-13l10 12v-22l10 24v-17l10 16v-13l10 19v-19l10 17v-18l10 18v-17l10 17v-21l10 19v-19l10 15v-13l10 14v-14l10 13v-11l10 18v-25l10 24v-23l10 18v-11l10 12v-12l10 15v-16l10 13v-19l10 17v-11l10 12v-17l10 15v-13l10 17v-15l10 11v-9l10 11v-15l10 15v-14l10 15v-17l10 18v-13l10 13v-14l10 17v-22l10 22v-16l10 15v-20l10 18v-13l10 12v-15l10 14v-11l10 18v-21l10 21v-24l10 21v-18l10 21v-18l10 13v-14l10 12v-20l10 21v-21l10 21v-17l10 17v-18l10 17v-14l10 18v-14l10 9v-10l10 18v-19l10 15v-15l10 13v-16l10 19v-16l10 16v-22l10 18v-11l10 11v-12l10 15v-18l10 15v-13l10 12v-12l10 15v-16l10 19v-18l10 14v-15l10 22v-28l10 19v-15l10 21v-24l10 19v-18l10 19v-18l10 19v-19l10 16v-9l10 8v-8l10 11v-17l10 28v-35l10 33v-29l10 25v-18l10 14v-20l10 20v-17l10 15v-14l10 22v-21l10 16v-17l10 16v-15l10 21v-26l10 24v-27l10 24v-17l10 22v-24l10 24v-20l10 15v-15l10 19v-21l10 14v-14l10 20v-22l10 17v-13l10 11v-15l10 18v-13l10 12v-14l10 16v-16l10 19v-18l10 12v-13l10 14v-18l10 25v-21l10 14v-13l10 19v-20l10 12v-12l10 16v-18l10 18v-21l10 20v-20l10 18v-16l10 15v-14l10 15v-11l10 10v-15l10 18v-17l10 17v-13l10 15v-16l10 16v-21l10 31v-39l10 36v-33l10 30v-28l10 30v-27l10 18v-20l10 20v-20l10 18v-16l10 17v-16l10 16v-13l10 15v-18l10 15v-13l10 16v-21l10 23v-17l10 18v-19l10 16v-13l10 18v-26l10 23v-23l10 18v-11l10 14v-18l10 21v-23l10 19v-17l10 16v-11l10 17v-18l10 10v-10l10 13v-14l10 14v-19l10 24v-17l10 16v-20l10 15v-15l10 20v-19l10 18v-18l10 18v-20l10 15v-14l10 17v-14l10 12v-16l10 17v-15l10 15v-13l10 14v-15l10 16v-14l10 10v-17l10 22v-16l10 17v-18l10 13v-16l10 17v-14l10 15v-16l10 14v-13l10 15v-19l10 18v-13l10 13v-12l10 13v-19l10 21v-17l10 17v-20l10 21v-17l10 18v-23l10 19v-14l10 16v-17l10 17v-19l10 20v-21l10 20v-22l10 20v-18l10 23v-22l10 16v-16l10 16v-13l10 17v-19l10 15v-19l10 18v-11l10 10v-14l10 17v-14l10 14v-21l10 26v-25l10 23v-16l10 12v-16l10 15v-15l10 22v-19l10 12v-11l10 14v-16l10 15v-17l10 16v-17l10 15v-11l10 13v-12l10 10v-11l10 11v-12l10 14v-17l10 20v-18l10 17v-17l10 14v-12l10 17v-18l10 18v-19l10 21v-25l10 24v-23l10 25v-23l10 17v-13l10 11v-12l10 19v-19l10 15v-20l10 18v-18l10 19v-13l10 11v-14l10 14v-13l10 14v-17l10 24v-25l10 22v-19l10 22v-24l10 15v-11l10 18v-20l10 13v-10l10 12v-15l10 18v-23"/><use href="#t26" transform="translate(5,0) scale(1,-.85)"/><path d="M30 16v-30M360 22v-42M1060 30v-64l10 54v-40M2290 15v-33M2680 34v-67l10 46v-25M2770 17v-35M3430 16v-31M4340 14v-29M4460 19v-34M5580 25v-50l10 39v-27M5670 16v-35M5990 28v-57l10 47v-35"/></g>
<g stroke="#00f" transform="translate(111.5,373.15) scale(0.1)"><path id="t27" d="M0 6v-12l10 14v-14l10 11v-17l10 18v-15l10 19v-18l10 13v-13l10 22v-21l10 15v-14l10 13v-13l10 10v-10l10 17v-21l10 22v-23l10 22v-22l10 21v-19l10 15v-11l10 14v-20l10 16v-17l10 18v-11l10 11v-13l10 15v-13l10 15v-16l10 17v-18l10 19v-19l10 13v-19l10 22v-19l10 17v-13l10 13v-19l10 17v-17l10 20v-16l10 18v-22l10 22v-15l10 17v-24l10 19v-15l10 23v-27l10 23v-20l10 15v-12l10 18v-19l10 18v-22l10 18v-13l10 18v-17l10 11v-16l10 23v-24l10 21v-21l10 21v-20l10 18v-18l10 18v-14l10 12v-15l10 19v-19l10 14v-10l10 14v-15l10 14v-19l10 16v-10l10 15v-20l10 17v-13l10 15v-15l10 14v-15l10 20v-25l10 17v-17l10 20v-21l10 26v-26l10 20v-15l10 19v-17l10 10v-15l10 18v-12l10 11v-14l10 14v-13l10 19v-19l10 21v-23l10 14v-10l10 12v-14l10 12v-16l10 16v-12l10 13v-11l10 14v-15l10 11v-12l10 12v-10l10 12v-17l10 16v-15l10 20v-16l10 12v-14l10 15v-17l10 20v-18l10 19v-19l10 14v-14l10 19v-25l10 19v-19l10 21v-14l10 18v-23l10 20v-15l10 13v-19l10 18v-16l10 16v-15l10 15v-13l10 14v-13l10 19v-26l10 23v-19l10 24v-22l10 21v-29l10 24v-24l10 23v-19l10 19v-16l10 16v-20l10 24v-24l10 18v-13l10 17v-23l10 20v-14l10 14v-18l10 17v-12l10 14v-21l10 21v-21l10 23v-24l10 28v-24l10 30v-56l10 60v-50l10 44v-36l10 31v-32l10 31v-27l10 23v-21l10 20v-21l10 24v-20l10 17v-15l10 18v-15l10 11v-12l10 14v-13l10 15v-21l10 18v-13l10 10v-9l10 11v-11l10 16v-20l10 24v-23l10 17v-16l10 19v-23l10 25v-28l10 24v-21l10 23v-25l10 22v-19l10 25v-29l10 21v-18l10 18v-16l10 16v-15l10 15v-13l10 14v-16l10 16v-16l10 15v-17l10 17v-12l10 15v-22l10 18v-16l10 17v-17l10 19v-19l10 25v-30l10 25v-16l10 12v-12l10 18v-24l10 29v-34l10 36v-36l10 29v-29l10 27v-19l10 21v-20l10 16v-16l10 18v-19l10 17v-13l10 17v-18l10 19v-25l10 18v-13l10 15v-14l10 11v-11l10 12v-13l10 15v-17l10 16v-14l10 13v-11l10 11v-12l10 18v-19l10 13v-20l10 25v-17l10 17v-19l10 22v-21l10 22v-27l10 25v-25l10 25v-22l10 21v-22l10 21v-18l10 14v-20l10 21v-13l10 12v-14l10 14v-18l10 18v-12l10 13v-16l10 17v-21l10 25v-18l10 12v-16l10 15v-12l10 18v-21l10 14v-14l10 17v-18l10 19v-15l10 14v-14l10 17v-22l10 17v-16l10 21v-22l10 17v-17l10 24v-23l10 19v-15l10 19v-24l10 16v-16l10 18v-14l10 15v-17l10 20v-25l10 29v-29l10 30v-26l10 20v-17l10 16v-17l10 15v-12l10 17v-19l10 13v-18l10 19v-16l10 18v-17l10 19v-17l10 12v-18l10 22v-19l10 14v-15l10 16v-17l10 20v-18l10 16v-14l10 14v-17l10 20v-17l10 13v-11l10 13v-18l10 17v-17l10 16v-12l10 16v-19l10 14v-16l10 18v-20l10 26v-19l10 14v-18l10 16v-15l10 17v-13l10 16v-16l10 13v-14l10 12v-19l10 24v-18l10 21v-20l10 12v-14l10 20v-22l10 19v-18l10 14v-11l10 15v-15l10 10v-10l10 13v-18l10 18v-17l10 16v-11l10 11v-14l10 15v-16l10 19v-17l10 19v-19l10 20v-25l10 17v-13l10 15v-12l10 15v-18l10 21v-19l10 18v-22l10 15v-11l10 15v-22l10 19v-14l10 19v-22l10 17v-12l10 16v-33l10 56v-68l10 47v-32l10 29v-24l10 25v-18l10 33v-44l10 29v-20l10 23v-24l10 21v-17l10 20v-23l10 29v-41l10 33v-22l10 24v-26l10 28v-27l10 18v-15l10 17v-19l10 23v-17l10 15v-17l10 21v-24l10 22v-20l10 14v-15l10 21v-26l10 28v-27l10 22v-15l10 11v-14l10 15v-16l10 20v-17l10 17v-20l10 17v-20l10 21v-16l10 18v-18l10 21v-24l10 17v-13l10 22v-30l10 21v-13l10 13v-16l10 19v-17l10 20v-24l10 25v-20l10 21v-23l10 19v-19l10 17v-19l10 20v-17l10 14v-18l10 21v-17l10 18v-20l10 16v-12l10 13v-16l10 21v-21l10 20v-18l10 13v-17l10 23v-17l10 10v-11l10 19v-25l10 17v-11l10 12v-14l10 23v-22l10 19v-21l10 17v-18l10 19v-23l10 26v-17l10 12v-12l10 16v-17l10 14v-16l10 14v-11l10 14v-17l10 17v-19l10 17v-18l10 17v-15l10 21v-17l10 11v-17l10 19v-16l10 17v-14l10 11v-13l10 12v-15l10 19v-14l10 14v-15l10 12v-13l10 16v-22l10 20v-18l10 22v-20l10 15v-14l10 16v-18l10 19v-18l10 23v-25l10 21v-16l10 15v-17l10 18v-19l10 16v-17l10 20v-23l10 25v-26l10 25v-16l10 10v-15l10 19v-22l10 20v-18l10 21v-21l10 16v-15l10 16v-11l10 13v-17l10 18v-20l10 18v-14l10 13v-11l10 11v-17l10 23v-25l10 23v-17l10 20v-22l10 20v-23l10 19v-12l10 10v-10l10 11v-12l10 11v-10l10 9v-10l10 13v-17l10 20v-18l10 18v-18l10 17v-14l10 13v-12l10 10v-11l10 12v-14l10 20v-18l10 17v-19l10 15v-16l10 17v-19l10 18v-14l10 18v-22l10 16v-17l10 24v-19l10 18v-20l10 19v-21l10 16v-14l10 17v-16l10 20v-23l10 18v-17l10 19v-16l10 19v-19l10 12v-15l10 14v-14l10 15v-13l10 12v-16l10 19v-17l10 18v-16l10 16v-18l10 15v-14l10 13v-13l10 13v-17l10 18v-12l10 12v-18l10 17v-12l10 14v-21l10 21v-13l10 11v-16l10 22v-18l10 12v-11l10 17v-16l10 10v-12l10 15v-14l10 12v-11l10 15v-18l10 17v-16l10 16v-21l10 19v-14l10 16v-21l10 21v-16l10 19v-19l10 15v-13l10 16v-18l10 17v-17l10 14v-12l10 15v-15l10 11v-10l10 10v-13l10 15v-16l10 17v-17l10 17v-14l10 11v-12l10 14v-13l10 14v-14l10 11v-17l10 19v-15l10 15v-18l10 20v-16l10 12v-13l10 11v-9l10 18v-27l10 30v-29l10 26v-36l10 43v-43l10 37v-28l10 26v-21l10 15v-18l10 19v-18l10 18v-17l10 22v-21l10 15v-18l10 25v-19l10 15v-18l10 16v-13l10 16v-18l10 13v-10l10 12v-16l10 16v-13l10 11v-15l10 18v-17l10 17v-13l10 16v-18l10 12v-9l10 12v-18l10 16v-19l10 20v-13l10 13v-13l10 17v-19l10 13v-16l10 18v-18l10 31v-36l10 31v-25l10 21v-19l10 19v-17l10 15v-19l10 16v-12l10 18v-22l10 17v-18l10 19v-16l10 16v-20l10 22v-19l10 21v-20l10 16v-14l10 19v-23l10 15v-18l10 19v-11l10 13v-18l10 24v-21l10 18v-18l10 19v-22l10 18v-13l10 16v-17l10 13v-14l10 16v-23l10 20v-11l10 11v-19l10 26v-19l10 19v-21l10 18v-18l10 16v-14l10 18v-25l10 18v-12l10 13v-12l10 17v-23l10 23v-21l10 22v-17l10 13v-16l10 15v-12l10 13v-13l10 19v-26l10 19v-13l10 17v-17l10 11v-14l10 15v-14l10 17v-15l10 17v-19l10 16v-21l10 26v-24l10 19v-18l10 21v-20l10 15v-15l10 22v-21l10 21v-21l10 14v-14l10 15v-20l10 23v-17l10 12v-13l10 19v-17l10 17v-18l10 13v-19l10 23v-22l10 20v-17l10 17v-14l10 14v-17l10 17v-14l10 13v-13l10 20v-23l10 21v-23l10 20v-19l10 16v-18l10 17v-12l10 16v-20l10 23v-17l10 15v-22l10 18v-11l10 11v-19l10 22v-16l10 19v-20l10 17v-21l10 23v-19l10 16v-18l10 16v-20l10 26v-23l10 16v-11l10 16v-17l10 17v-26l10 26v-22l10 30v-27l10 27v-30l10 23v-20l10 21v-26l10 26v-18l10 15v-22l10 24v-18l10 21v-20l10 16v-20l10 18v-15l10 18v-21l10 16v-18l10 19v-18l10 18v-15l10 19v-17l10 15v-15l10 17v-16l10 12v-18l10 21v-24l10 19v-17l10 18v-11l10 12v-13l10 14v-12l10 16v-17l10 15v-15l10 11v-16l10 18v-13l10 16v-24l10 19v-13l10 18v-18l10 14v-15l10 15v-13l10 14v-17l10 20v-17l10 17v-21l10 18v-17l10 19v-22l10 18v-17l10 17v-13l10 13v-13l10 13v-14l10 15v-18l10 21v-19l10 15v-15l10 25v-28l10 20v-29l10 34v-21l10 13v-17l10 22v-15l10 12v-12l10 12v-16l10 14v-12l10 16v-20l10 22v-20l10 21v-24l10 26v-20l10 12v-16l10 16v-12l10 13v-13l10 12v-14l10 17v-19l10 25v-25l10 21v-19l10 14v-12l10 13v-19l10 22v-20l10 20v-15l10 10v-12l10 15v-20l10 18v-12l10 18v-21l10 21v-18l10 16v-19l10 18v-15l10 19v-22l10 24v-26l10 20v-14l10 12v-13l10 13v-14l10 16v-14l10 11v-15l10 16v-13l10 13v-21l10 21v-22l10 22v-16l10 15v-18l10 21v-21l10 19v-13l10 12v-17l10 22v-22l10 16v-11l10 12v-15l10 21v-24l10 18v-12l10 13v-21l10 23v-16l10 19v-17l10 15v-20l10 22v-22l10 20v-20l10 16v-16l10 22v-26l10 23v-16l10 15v-14l10 20v-27l10 21v-20l10 18v-13l10 18v-21l10 17v-12l10 15v-14l10 9v-12l10 13v-10l10 9v-15l10 15v-10l10 13v-14l10 15v-15l10 11v-11l10 14v-16l10 14v-12l10 18v-23l10 21v-20l10 18v-16l10 21v-25l10 25v-32l10 28v-30l10 38v-25l10 13v-14l10 17v-20l10 21v-15l10 12v-18l10 23v-17l10 12v-12l10 16v-17l10 13v-11l10 15v-23l10 28v-25l10 25v-33l10 30v-20l10 16v-20l10 24v-18l10 18v-20l10 15v-20"/><use href="#t27" transform="translate(5,0) scale(1,-.85)"/><path d="M320 17v-34M590 14v-28M950 23v-52l10 45v-30M1110 12v-26l10 56v-94l10 80v-56M1530 32v-65l10 50v-30M1590 18v-37M2060 16v-35M2650 21v-45l10 101v-141l10 85v-42M2700 33v-64l10 45v-28M2750 23v-47l10 37v-28M3100 11v-24M4480 13v-28l10 66v-100l10 76v-50M4780 20v-38M5120 13v-27M5560 18v-36M5640 24v-49l10 38v-27M6100 23v-44M6880 24v-53M7000 16v-31"/></g>
<g stroke="#f00" transform="translate(111.5,385.32) scale(0.1)"><path id="t28" d="M0 5v-15l10 21v-17l10 11v-10l10 15v-21l10 18v-13l10 14v-13l10 11v-14l10 17v-14l10 12v-16l10 19v-18l10 15v-20l10 23v-19l10 15v-16l10 15v-12l10 13v-16l10 23v-20l10 14v-12l10 17v-25l10 18v-11l10 13v-14l10 13v-13l10 13v-12l10 19v-19l10 13v-16l10 18v-15l10 13v-13l10 11v-11l10 11v-17l10 24v-17l10 14v-16l10 20v-18l10 17v-18l10 14v-13l10 18v-23l10 21v-17l10 11v-14l10 14v-16l10 21v-17l10 13v-12l10 14v-13l10 12v-13l10 11v-19l10 22v-17l10 19v-17l10 16v-14l10 11v-19l10 21v-21l10 19v-15l10 18v-14l10 12v-16l10 14v-10l10 15v-22l10 25v-21l10 13v-11l10 14v-14l10 13v-18l10 24v-21l10 21v-20l10 19v-18l10 14v-18l10 15v-17l10 25v-26l10 27v-23l10 16v-18l10 24v-26l10 22v-23l10 31v-25l10 15v-14l10 16v-24l10 28v-27l10 22v-17l10 19v-18l10 19v-18l10 13v-16l10 28v-28l10 25v-32l10 32v-30l10 33v-36l10 36v-35l10 25v-16l10 15v-19l10 26v-25l10 23v-19l10 13v-19l10 22v-19l10 18v-19l10 25v-28l10 21v-19l10 23v-23l10 19v-17l10 15v-12l10 18v-21l10 15v-12l10 13v-12l10 17v-25l10 22v-20l10 20v-15l10 13v-12l10 15v-20l10 20v-15l10 15v-20l10 17v-12l10 14v-18l10 19v-14l10 16v-20l10 18v-15l10 12v-14l10 16v-13l10 11v-14l10 17v-20l10 17v-20l10 22v-23l10 27v-24l10 23v-18l10 16v-22l10 20v-14l10 18v-23l10 22v-17l10 13v-13l10 13v-15l10 17v-21l10 20v-15l10 20v-21l10 15v-14l10 21v-21l10 21v-26l10 26v-24l10 18v-14l10 16v-20l10 20v-15l10 15v-22l10 19v-16l10 21v-21l10 23v-23l10 16v-16l10 21v-25l10 29v-31l10 30v-30l10 28v-30l10 26v-23l10 27v-19l10 18v-22l10 17v-16l10 18v-21l10 19v-12l10 16v-19l10 16v-14l10 15v-18l10 18v-14l10 18v-20l10 19v-17l10 12v-14l10 18v-17l10 12v-15l10 18v-20l10 18v-10l10 9v-16l10 18v-19l10 17v-16l10 16v-13l10 13v-10l10 11v-12l10 18v-20l10 18v-15l10 15v-19l10 15v-11l10 10v-16l10 24v-21l10 13v-12l10 15v-17l10 19v-23l10 23v-20l10 16v-11l10 10v-15l10 17v-16l10 19v-23l10 19v-14l10 17v-15l10 17v-17l10 15v-19l10 15v-15l10 21v-22l10 16v-10l10 10v-13l10 21v-24l10 16v-13l10 19v-22l10 16v-10l10 18v-20l10 18v-25l10 22v-14l10 14v-17l10 15v-11l10 10v-18l10 28v-22l10 21v-22l10 21v-20l10 15v-14l10 15v-16l10 12v-14l10 21v-18l10 12v-18l10 26v-23l10 23v-24l10 16v-21l10 23v-24l10 24v-14l10 21v-32l10 35v-30l10 27v-33l10 30v-19l10 19v-21l10 17v-20l10 22v-17l10 13v-11l10 11v-21l10 25v-20l10 16v-14l10 14v-17l10 22v-19l10 19v-25l10 22v-16l10 18v-17l10 14v-13l10 13v-14l10 17v-19l10 20v-21l10 17v-17l10 16v-13l10 13v-12l10 16v-18l10 20v-22l10 23v-20l10 14v-14l10 22v-25l10 21v-20l10 18v-14l10 11v-12l10 15v-18l10 19v-16l10 16v-16l10 11v-14l10 16v-17l10 21v-23l10 21v-14l10 11v-17l10 21v-16l10 13v-18l10 23v-24l10 23v-20l10 21v-18l10 21v-28l10 23v-19l10 17v-13l10 15v-18l10 14v-18l10 19v-16l10 14v-11l10 11v-18l10 21v-16l10 18v-18l10 13v-10l10 12v-14l10 14v-12l10 9v-13l10 16v-12l10 14v-21l10 18v-13l10 15v-21l10 24v-21l10 18v-14l10 14v-21l10 25v-24l10 25v-24l10 19v-20l10 20v-13l10 10v-12l10 19v-24l10 19v-17l10 23v-20l10 20v-24l10 19v-16l10 20v-18l10 12v-11l10 14v-15l10 21v-23l10 18v-15l10 11v-13l10 15v-16l10 18v-18l10 22v-22l10 17v-27l10 34v-30l10 22v-23l10 27v-22l10 18v-16l10 23v-22l10 19v-26l10 23v-16l10 14v-12l10 11v-12l10 20v-22l10 21v-27l10 24v-16l10 19v-23l10 22v-18l10 16v-20l10 25v-21l10 20v-21l10 18v-24l10 30v-30l10 26v-24l10 17v-14l10 21v-26l10 18v-16l10 22v-19l10 19v-22l10 19v-16l10 19v-19l10 18v-26l10 29v-23l10 20v-18l10 14v-13l10 17v-24l10 24v-16l10 12v-14l10 14v-12l10 12v-18l10 22v-22l10 18v-16l10 16v-16l10 19v-15l10 20v-23l10 16v-14l10 12v-15l10 17v-19l10 23v-19l10 16v-16l10 13v-11l10 19v-27l10 26v-24l10 29v-37l10 35v-27l10 20v-18l10 16v-16l10 21v-23l10 23v-16l10 16v-17l10 13v-18l10 22v-24l10 20v-14l10 16v-16l10 13v-17l10 24v-19l10 20v-19l10 13v-20l10 22v-18l10 15v-20l10 25v-23l10 21v-20l10 18v-19l10 17v-17l10 18v-18l10 17v-14l10 14v-21l10 27v-20l10 14v-16l10 18v-22l10 21v-14l10 19v-22l10 23v-27l10 20v-18l10 23v-23l10 24v-20l10 19v-23l10 21v-21l10 17v-17l10 17v-16l10 23v-18l10 14v-14l10 14v-15l10 13v-14l10 17v-18l10 13v-10l10 11v-10l10 16v-16l10 12v-18l10 24v-23l10 19v-14l10 13v-18l10 18v-22l10 26v-22l10 17v-21l10 21v-19l10 18v-12l10 12v-13l10 17v-16l10 14v-14l10 14v-15l10 19v-21l10 22v-19l10 16v-23l10 20v-12l10 13v-19l10 20v-19l10 19v-20l10 17v-20l10 22v-20l10 17v-11l10 12v-17l10 16v-17l10 23v-15l10 8v-8l10 9v-9l10 10v-16l10 16v-15l10 17v-15l10 12v-11l10 16v-22l10 18v-17l10 15v-13l10 16v-16l10 17v-14l10 14v-21l10 25v-21l10 15v-16l10 16v-18l10 19v-12l10 10v-13l10 21v-23l10 16v-12l10 12v-12l10 15v-14l10 10v-10l10 10v-11l10 12v-11l10 11v-17l10 17v-13l10 15v-17l10 23v-28l10 23v-15l10 18v-21l10 18v-15l10 13v-18l10 21v-21l10 20v-21l10 23v-20l10 20v-22l10 24v-22l10 13v-14l10 24v-21l10 15v-21l10 21v-16l10 19v-21l10 17v-17l10 15v-14l10 19v-21l10 17v-13l10 13v-13l10 14v-11l10 16v-19l10 16v-19l10 16v-16l10 16v-19l10 19v-17l10 19v-20l10 27v-25l10 24v-28l10 21v-15l10 13v-13l10 13v-11l10 12v-12l10 11v-10l10 11v-13l10 12v-14l10 14v-15l10 16v-12l10 16v-22l10 26v-19l10 13v-18l10 18v-13l10 15v-16l10 11v-15l10 20v-16l10 17v-17l10 11v-11l10 12v-12l10 13v-17l10 19v-18l10 17v-16l10 14v-19l10 19v-11l10 12v-12l10 18v-26l10 19v-14l10 18v-21l10 17v-14l10 13v-11l10 16v-17l10 13v-13l10 13v-19l10 25v-19l10 13v-20l10 25v-18l10 21v-25l10 18v-19l10 19v-21l10 26v-20l10 17v-15l10 13v-12l10 15v-20l10 20v-19l10 19v-16l10 13v-12l10 10v-10l10 14v-14l10 15v-21l10 18v-12l10 11v-14l10 14v-12l10 13v-17l10 15v-14l10 17v-16l10 18v-23l10 25v-25l10 18v-14l10 18v-17l10 17v-15l10 14v-19l10 22v-19l10 19v-24l10 18v-17l10 18v-15l10 15v-13l10 13v-16l10 15v-15l10 22v-17l10 15v-18l10 20v-19l10 12v-11l10 11v-10l10 10v-15l10 17v-13l10 14v-15l10 16v-13l10 12v-12l10 10v-12l10 12v-10l10 14v-15l10 17v-19l10 17v-15l10 13v-22l10 25v-18l10 15v-14l10 16v-18l10 17v-17l10 14v-15l10 22v-18l10 16v-19l10 20v-23l10 21v-18l10 15v-15l10 20v-24l10 26v-24l10 20v-17l10 18v-28l10 31v-31l10 38v-37l10 26v-23l10 25v-23l10 17v-22l10 25v-18l10 18v-16l10 19v-25l10 19v-21l10 24v-24l10 30v-23l10 14v-14l10 14v-18l10 17v-19l10 25v-16l10 13v-13l10 10v-12l10 16v-23l10 20v-15l10 14v-10l10 11v-13l10 15v-14l10 12v-12l10 15v-23l10 24v-16l10 13v-20l10 19v-12l10 12v-12l10 12v-15l10 14v-10l10 11v-17l10 18v-13l10 14v-13l10 11v-16l10 18v-19l10 15v-13l10 14v-15l10 16v-12l10 12v-19l10 23v-18l10 13v-10l10 15v-21l10 18v-19l10 19v-14l10 12v-10l10 14v-14l10 17v-18l10 18v-19l10 13v-21l10 27v-21l10 17v-16l10 14v-15l10 20v-18l10 14v-12l10 11v-16l10 18v-16l10 17v-17l10 15v-15l10 16v-16l10 16v-19l10 18v-14l10 14v-11l10 9v-12l10 13v-13l10 14v-12l10 11v-15l10 20v-16l10 16v-22l10 23v-18l10 14v-14l10 14v-13l10 16v-18l10 14v-13l10 16v-17l10 12v-15l10 18v-18l10 15v-14l10 16v-14l10 19v-17l10 10v-13l10 13v-15l10 22v-22l10 24v-27l10 23v-17l10 16v-16l10 18v-16l10 10v-11l10 13v-20l10 18v-13l10 14v-12l10 12v-17l10 17v-11l10 11v-14l10 17v-20l10 17v-13l10 14v-22l10 26v-21l10 22v-24l10 25v-22l10 14v-17l10 22v-19l10 14v-15l10 18v-17l10 22v-21l10 21v-24l10 18v-15l10 16v-22l10 28v-22l10 15v-18l10 19v-18l10 21v-16l10 15v-23l10 19v-15l10 16v-14l10 14v-11l10 15v-18l10 12v-14l10 14v-13l10 14v-11l10 16v-18l10 13v-16l10 15v-16l10 17v-16l10 18v-13l10 10v-10l10 17v-21l10 15v-14l10 21v-18l10 12v-18l10 21v-18l10 18v-14l10 14v-15l10 12v-18l10 17v-12l10 15v-22l10 26v-21l10 21v-25l10 24v-21l10 16v-16l10 15v-20l10 26v-25"/><use href="#t28" transform="translate(5,0) scale(1,-.85)"/><path d="M560 14v-25M750 41v-74l10 58v-50M1370 28v-56l10 42v-27M2070 14v-26l10 51v-84l10 60v-30M2200 18v-35M2900 20v-40M3100 15v-30M3190 17v-33M3400 31v-65l10 48v-27M3570 15v-31M5660 34v-69l10 58v-44"/></g>
<g stroke="#00f" transform="translate(111.5,397.49) scale(0.1)"><path id="t29" d="M0 10v-17l10 12v-9l10 13v-13l10 10v-14l10 15v-12l10 10v-14l10 13v-10l10 10v-11l10 16v-13l10 11v-16l10 17v-20l10 18v-15l10 18v-19l10 18v-15l10 13v-12l10 17v-18l10 16v-16l10 15v-13l10 16v-18l10 15v-13l10 11v-16l10 18v-25l10 35v-35l10 34v-34l10 30v-20l10 17v-16l10 14v-15l10 12v-12l10 13v-14l10 13v-11l10 10v-14l10 17v-18l10 19v-18l10 15v-12l10 14v-19l10 18v-15l10 14v-17l10 23v-21l10 23v-22l10 22v-19l10 12v-12l10 18v-21l10 22v-23l10 17v-18l10 17v-16l10 20v-20l10 20v-21l10 16v-11l10 12v-17l10 17v-18l10 18v-16l10 15v-16l10 24v-24l10 19v-15l10 13v-18l10 22v-16l10 18v-18l10 16v-17l10 17v-15l10 11v-15l10 21v-23l10 17v-14l10 18v-20l10 16v-15l10 14v-15l10 22v-18l10 18v-20l10 17v-16l10 14v-17l10 18v-15l10 14v-14l10 15v-12l10 9v-12l10 18v-20l10 18v-16l10 13v-11l10 15v-19l10 21v-20l10 14v-11l10 9v-9l10 11v-12l10 12v-13l10 13v-12l10 12v-13l10 14v-20l10 20v-14l10 19v-22l10 15v-17l10 20v-19l10 18v-13l10 19v-22l10 15v-14l10 14v-18l10 20v-14l10 18v-17l10 17v-24l10 21v-18l10 14v-18l10 22v-17l10 13v-11l10 13v-19l10 22v-20l10 21v-19l10 14v-17l10 16v-12l10 16v-14l10 14v-21l10 22v-17l10 13v-11l10 15v-20l10 16v-10l10 13v-16l10 12v-16l10 21v-18l10 12v-10l10 18v-24l10 40v-43l10 36v-38l10 30v-23l10 17v-16l10 19v-21l10 17v-17l10 17v-12l10 15v-15l10 13v-18l10 17v-11l10 15v-19l10 20v-20l10 16v-19l10 18v-18l10 20v-15l10 16v-17l10 16v-13l10 10v-10l10 17v-24l10 23v-17l10 11v-14l10 18v-20l10 23v-24l10 19v-14l10 15v-18l10 18v-20l10 23v-23l10 21v-14l10 16v-18l10 16v-19l10 15v-11l10 17v-19l10 14v-15l10 21v-19l10 20v-21l10 16v-13l10 12v-14l10 16v-18l10 13v-14l10 14v-8l10 11v-14l10 13v-10l10 14v-21l10 16v-11l10 11v-11l10 16v-18l10 15v-17l10 22v-22l10 19v-19l10 15v-12l10 15v-18l10 20v-20l10 15v-16l10 22v-19l10 13v-10l10 14v-15l10 15v-14l10 10v-13l10 15v-14l10 14v-16l10 16v-15l10 15v-10l10 13v-17l10 15v-15l10 16v-18l10 19v-21l10 17v-14l10 15v-12l10 11v-16l10 22v-17l10 11v-13l10 15v-14l10 12v-10l10 17v-21l10 19v-16l10 13v-15l10 12v-10l10 10v-10l10 15v-20l10 15v-16l10 18v-13l10 12v-18l10 24v-24l10 22v-20l10 15v-15l10 22v-23l10 18v-14l10 13v-15l10 14v-13l10 18v-23l10 24v-16l10 13v-13l10 16v-18l10 15v-17l10 15v-11l10 11v-15l10 18v-14l10 12v-13l10 10v-12l10 17v-17l10 13v-14l10 17v-17l10 17v-20l10 20v-17l10 15v-13l10 12v-18l10 19v-14l10 17v-15l10 15v-15l10 12v-11l10 9v-11l10 14v-14l10 15v-14l10 12v-13l10 13v-13l10 15v-13l10 9v-10l10 11v-11l10 15v-17l10 14v-16l10 17v-18l10 23v-20l10 16v-13l10 10v-15l10 18v-13l10 18v-21l10 20v-25l10 26v-18l10 11v-14l10 13v-13l10 17v-15l10 15v-21l10 16v-10l10 15v-16l10 14v-12l10 11v-14l10 17v-18l10 20v-20l10 19v-20l10 19v-19l10 23v-25l10 22v-19l10 19v-29l10 28v-15l10 20v-23l10 18v-15l10 12v-16l10 16v-17l10 20v-15l10 14v-13l10 13v-13l10 16v-22l10 17v-14l10 13v-10l10 9v-11l10 12v-10l10 14v-13l10 13v-14l10 15v-15l10 17v-24l10 20v-13l10 14v-14l10 11v-17l10 20v-18l10 21v-17l10 10v-9l10 15v-18l10 13v-15l10 14v-11l10 14v-13l10 10v-16l10 20v-15l10 13v-18l10 22v-22l10 16v-11l10 11v-13l10 13v-12l10 16v-16l10 17v-17l10 19v-19l10 18v-18l10 14v-12l10 9v-14l10 21v-18l10 13v-11l10 10v-12l10 15v-17l10 17v-19l10 19v-18l10 19v-15l10 12v-15l10 17v-14l10 11v-12l10 12v-14l10 14v-14l10 18v-15l10 12v-13l10 15v-12l10 11v-12l10 11v-13l10 18v-16l10 10v-14l10 18v-17l10 13v-13l10 16v-14l10 13v-19l10 29v-28l10 20v-18l10 15v-12l10 12v-18l10 26v-24l10 19v-14l10 14v-20l10 21v-17l10 12v-12l10 11v-12l10 12v-11l10 15v-15l10 12v-11l10 16v-20l10 18v-14l10 12v-15l10 15v-14l10 16v-14l10 12v-16l10 20v-19l10 17v-15l10 15v-17l10 18v-15l10 17v-19l10 13v-12l10 14v-13l10 13v-12l10 16v-20l10 19v-16l10 14v-13l10 11v-15l10 13v-10l10 12v-15l10 15v-17l10 20v-14l10 13v-13l10 16v-24l10 20v-17l10 24v-20l10 11v-10l10 14v-19l10 16v-13l10 12v-17l10 20v-17l10 19v-16l10 12v-13l10 18v-17l10 14v-15l10 13v-11l10 11v-15l10 20v-18l10 12v-14l10 14v-12l10 19v-24l10 19v-12l10 20v-27l10 23v-27l10 30v-24l10 21v-22l10 18v-15l10 16v-21l10 27v-23l10 18v-20l10 21v-16l10 12v-17l10 20v-19l10 16v-15l10 14v-11l10 14v-15l10 11v-11l10 12v-11l10 13v-17l10 15v-11l10 14v-13l10 11v-15l10 13v-9l10 11v-15l10 18v-18l10 16v-14l10 16v-13l10 11v-11l10 13v-15l10 15v-15l10 12v-12l10 10v-14l10 19v-15l10 11v-13l10 13v-13l10 12v-9l10 13v-17l10 19v-20l10 22v-25l10 19v-14l10 14v-20l10 22v-15l10 18v-16l10 11v-11l10 15v-15l10 13v-17l10 17v-14l10 17v-23l10 17v-10l10 15v-22l10 18v-11l10 10v-13l10 13v-18l10 19v-10l10 10v-17l10 16v-15l10 21v-16l10 14v-18l10 14v-9l10 9v-12l10 13v-15l10 14v-10l10 9v-10l10 12v-12l10 13v-14l10 12v-12l10 13v-14l10 16v-16l10 12v-12l10 18v-20l10 16v-12l10 11v-11l10 18v-18l10 12v-13l10 16v-14l10 12v-15l10 18v-15l10 12v-19l10 19v-15l10 14v-15l10 18v-19l10 17v-15l10 13v-13l10 13v-12l10 13v-14l10 18v-17l10 12v-11l10 18v-18l10 17v-17l10 12v-11l10 12v-11l10 8v-12l10 18v-16l10 12v-11l10 13v-13l10 16v-24l10 19v-14l10 17v-16l10 12v-13l10 17v-15l10 16v-15l10 9v-11l10 15v-17l10 18v-15l10 10v-13l10 14v-10l10 10v-9l10 13v-14l10 15v-17l10 13v-16l10 17v-16l10 15v-12l10 13v-14l10 15v-15l10 13v-16l10 15v-11l10 15v-14l10 10v-11l10 15v-20l10 25v-20l10 18v-27l10 30v-27l10 29v-24l10 21v-23l10 19v-22l10 22v-17l10 20v-20l10 13v-18l10 22v-24l10 29v-28l10 33v-37l10 34v-28l10 24v-21l10 19v-19l10 15v-15l10 22v-22l10 20v-20l10 17v-18l10 18v-20l10 16v-13l10 16v-16l10 19v-18l10 12v-10l10 14v-16l10 11v-11l10 13v-15l10 14v-10l10 10v-10l10 17v-18l10 12v-14l10 16v-19l10 19v-18l10 18v-14l10 12v-18l10 17v-10l10 16v-19l10 14v-14l10 16v-12l10 12v-19l10 17v-16l10 15v-11l10 13v-14l10 17v-15l10 12v-12l10 14v-17l10 21v-21l10 22v-25l10 27v-33l10 28v-23l10 16v-11l10 16v-15l10 11v-12l10 13v-10l10 15v-15l10 23v-32l10 45v-93l10 77v-30l10 25v-16l10 16v-16l10 10v-15l10 19v-20l10 19v-13l10 16v-21l10 21v-23l10 23v-16l10 17v-18l10 16v-17l10 21v-26l10 23v-24l10 21v-16l10 16v-13l10 13v-15l10 17v-15l10 15v-19l10 17v-13l10 11v-10l10 9v-16l10 18v-16l10 19v-21l10 26v-31l10 22v-13l10 17v-19l10 21v-19l10 17v-14l10 8v-10l10 12v-12l10 14v-15l10 16v-18l10 14v-11l10 16v-14l10 10v-10l10 10v-12l10 10v-10l10 17v-20l10 20v-21l10 21v-16l10 16v-19l10 13v-10l10 10v-15l10 15v-11l10 14v-17l10 14v-10l10 10v-13l10 12v-12l10 14v-15l10 17v-15l10 18v-20l10 15v-13l10 13v-16l10 17v-13l10 13v-12l10 15v-19l10 21v-20l10 17v-16l10 13v-13l10 16v-16l10 13v-15l10 21v-26l10 22v-14l10 13v-13l10 11v-15l10 19v-22l10 24v-23l10 25v-25l10 23v-19l10 13v-16l10 16v-16l10 16v-10l10 17v-19l10 14v-20l10 25v-19l10 13v-13l10 17v-20l10 21v-17l10 16v-18l10 19v-24l10 26v-27l10 21v-15l10 19v-21l10 24v-23l10 23v-25l10 34v-45l10 39v-30l10 23v-22l10 21v-21l10 22v-22l10 19v-14l10 12v-16l10 17v-12l10 14v-14l10 12v-15l10 17v-17l10 18v-15l10 11v-13l10 14v-16l10 19v-14l10 9v-8l10 10v-12l10 16v-19l10 19v-16l10 13v-17l10 15v-11l10 11v-11l10 11v-15l10 15v-17l10 18v-12l10 14v-18l10 22v-20l10 19v-17l10 13v-16l10 16v-18l10 17v-11l10 10v-12l10 16v-14l10 13v-20l10 23v-17l10 12v-14l10 17v-21l10 18v-11l10 10v-15l10 23v-19l10 12v-18l10 24v-25l10 19v-14l10 21v-24l10 18v-14l10 15v-19l10 16v-11l10 18v-24l10 19v-20l10 21v-22l10 26v-22l10 20v-22l10 17v-10l10 10v-17l10 21v-14l10 10v-15l10 21v-18l10 18v-16l10 12v-13l10 13v-14l10 18v-17l10 11v-17l10 17v-16l10 24v-23l10 21v-20l10 24v-26l10 17v-12l10 14v-18l10 20v-18l10 12v-10l10 11v-10"/><use href="#t29" transform="translate(5,0) scale(1,-.85)"/><path d="M220 19v-40M1160 38v-75l10 57v-43M2580 18v-36M3220 19v-40M3770 16v-30l10 58v-94l10 73v-48M3830 24v-46M4940 13v-28M5050 26v-51M5100 19v-43M5400 34v-65l10 45v-27M5500 116v-241M5730 19v-34M6110 15v-30M6170 19v-41M6340 14v-25l10 51v-78l10 60v-44M7000 17v-34"/></g>
<g stroke="#f00" transform="translate(111.5,409.66) scale(0.1)"><path id="t30" d="M0 6v-18l10 17v-15l10 15v-13l10 12v-10l10 13v-16l10 23v-24l10 20v-20l10 15v-10l10 12v-19l10 17v-15l10 20v-15l10 13v-13l10 10v-17l10 20v-19l10 17v-15l10 22v-18l10 10v-14l10 16v-16l10 18v-19l10 18v-17l10 16v-17l10 16v-11l10 13v-16l10 13v-9l10 10v-15l10 14v-12l10 16v-15l10 19v-18l10 20v-33l10 32v-27l10 19v-15l10 21v-19l10 17v-22l10 17v-13l10 16v-13l10 10v-12l10 11v-10l10 15v-15l10 11v-11l10 11v-15l10 14v-9l10 9v-13l10 20v-17l10 13v-18l10 16v-12l10 16v-19l10 15v-14l10 14v-10l10 15v-15l10 14v-14l10 11v-10l10 10v-15l10 15v-16l10 20v-21l10 18v-13l10 15v-13l10 12v-13l10 16v-17l10 18v-19l10 16v-16l10 14v-12l10 10v-11l10 12v-16l10 16v-11l10 13v-21l10 20v-12l10 15v-15l10 13v-20l10 17v-11l10 13v-16l10 20v-16l10 14v-22l10 22v-14l10 11v-11l10 10v-13l10 13v-10l10 10v-15l10 18v-19l10 17v-13l10 15v-17l10 15v-12l10 16v-19l10 21v-21l10 14v-12l10 18v-17l10 16v-15l10 11v-18l10 24v-21l10 16v-16l10 19v-15l10 13v-15l10 13v-17l10 15v-9l10 12v-11l10 17v-22l10 20v-22l10 22v-16l10 17v-19l10 15v-18l10 22v-21l10 20v-20l10 24v-29l10 21v-13l10 12v-12l10 14v-16l10 16v-14l10 13v-17l10 14v-10l10 14v-13l10 12v-13l10 14v-15l10 16v-14l10 10v-9l10 9v-11l10 13v-18l10 18v-16l10 19v-18l10 13v-15l10 15v-17l10 25v-28l10 27v-29l10 26v-18l10 17v-14l10 14v-16l10 14v-12l10 11v-15l10 18v-19l10 20v-17l10 15v-15l10 14v-13l10 18v-18l10 17v-16l10 11v-11l10 14v-14l10 12v-13l10 12v-13l10 19v-20l10 19v-17l10 18v-16l10 16v-22l10 16v-13l10 18v-17l10 12v-15l10 16v-13l10 14v-17l10 17v-12l10 16v-17l10 15v-16l10 13v-18l10 18v-13l10 15v-17l10 20v-21l10 23v-23l10 18v-18l10 17v-20l10 24v-16l10 11v-12l10 14v-15l10 14v-15l10 14v-11l10 15v-20l10 15v-14l10 21v-19l10 13v-15l10 15v-11l10 11v-14l10 19v-25l10 20v-16l10 15v-14l10 14v-12l10 14v-14l10 16v-18l10 14v-12l10 12v-17l10 22v-18l10 14v-12l10 11v-10l10 9v-10l10 13v-12l10 17v-19l10 18v-19l10 13v-14l10 18v-16l10 12v-11l10 11v-14l10 19v-17l10 13v-11l10 11v-14l10 22v-28l10 32v-27l10 25v-32l10 26v-22l10 18v-15l10 18v-17l10 20v-19l10 18v-17l10 11v-10l10 13v-14l10 15v-18l10 19v-20l10 22v-19l10 17v-15l10 12v-18l10 17v-15l10 17v-15l10 15v-17l10 14v-15l10 19v-17l10 17v-13l10 9v-17l10 25v-19l10 17v-18l10 11v-14l10 15v-14l10 18v-14l10 13v-16l10 14v-12l10 12v-13l10 17v-20l10 20v-18l10 19v-19l10 15v-15l10 13v-18l10 24v-19l10 15v-14l10 15v-18l10 19v-14l10 13v-17l10 22v-20l10 15v-14l10 11v-11l10 12v-17l10 22v-19l10 14v-14l10 18v-20l10 20v-21l10 20v-15l10 14v-13l10 19v-25l10 22v-29l10 28v-18l10 14v-18l10 20v-13l10 14v-14l10 21v-26l10 25v-27l10 30v-33l10 31v-28l10 19v-14l10 17v-21l10 16v-9l10 10v-17l10 20v-18l10 16v-11l10 15v-19l10 20v-24l10 19v-12l10 13v-16l10 14v-18l10 23v-18l10 13v-11l10 15v-16l10 16v-17l10 14v-16l10 18v-15l10 11v-17l10 17v-16l10 22v-17l10 21v-30l10 22v-14l10 14v-13l10 12v-14l10 13v-15l10 16v-16l10 16v-10l10 12v-15l10 13v-11l10 12v-12l10 14v-17l10 14v-12l10 15v-16l10 17v-15l10 12v-14l10 13v-14l10 18v-17l10 14v-13l10 16v-22l10 20v-19l10 19v-16l10 14v-13l10 17v-18l10 14v-13l10 14v-13l10 16v-18l10 17v-17l10 14v-11l10 10v-11l10 16v-19l10 15v-12l10 19v-20l10 20v-18l10 13v-14l10 14v-18l10 15v-11l10 12v-16l10 21v-18l10 12v-11l10 14v-14l10 13v-18l10 20v-15l10 17v-19l10 14v-15l10 21v-19l10 16v-13l10 13v-20l10 21v-20l10 17v-12l10 11v-16l10 16v-18l10 20v-15l10 15v-19l10 16v-10l10 12v-16l10 17v-13l10 14v-16l10 12v-17l10 18v-18l10 18v-13l10 15v-14l10 11v-17l10 20v-16l10 21v-19l10 13v-12l10 12v-15l10 15v-15l10 18v-16l10 14v-13l10 12v-16l10 16v-13l10 10v-8l10 13v-18l10 14v-16l10 21v-14l10 12v-15l10 12v-13l10 15v-13l10 16v-15l10 11v-17l10 19v-17l10 19v-18l10 14v-15l10 14v-11l10 13v-14l10 12v-12l10 15v-12l10 10v-16l10 15v-10l10 17v-19l10 18v-21l10 16v-11l10 16v-22l10 17v-14l10 19v-25l10 20v-13l10 16v-18l10 22v-27l10 25v-20l10 19v-16l10 18v-18l10 11v-10l10 11v-13l10 20v-19l10 17v-20l10 14v-16l10 16v-11l10 17v-16l10 13v-17l10 14v-16l10 23v-17l10 15v-20l10 24v-20l10 16v-18l10 19v-18l10 12v-16l10 20v-14l10 14v-15l10 13v-13l10 12v-11l10 9v-9l10 12v-10l10 10v-11l10 11v-14l10 11v-13l10 21v-21l10 14v-15l10 19v-15l10 11v-13l10 19v-19l10 16v-21l10 17v-9l10 11v-12l10 14v-16l10 16v-13l10 12v-15l10 19v-17l10 12v-17l10 16v-10l10 14v-20l10 17v-13l10 16v-19l10 21v-17l10 13v-12l10 11v-11l10 13v-14l10 12v-12l10 13v-14l10 14v-13l10 12v-13l10 17v-15l10 11v-19l10 18v-14l10 18v-17l10 15v-13l10 15v-18l10 22v-19l10 11v-12l10 18v-22l10 16v-15l10 15v-15l10 20v-24l10 19v-12l10 18v-18l10 16v-16l10 17v-18l10 17v-14l10 11v-11l10 13v-14l10 10v-10l10 12v-13l10 12v-10l10 15v-15l10 10v-12l10 12v-13l10 14v-17l10 17v-10l10 13v-16l10 18v-22l10 20v-19l10 19v-18l10 15v-12l10 13v-14l10 18v-22l10 20v-18l10 19v-23l10 19v-16l10 16v-16l10 15v-10l10 13v-14l10 11v-13l10 13v-10l10 11v-18l10 19v-13l10 13v-16l10 14v-15l10 18v-18l10 16v-10l10 9v-10l10 14v-14l10 10v-15l10 21v-19l10 14v-17l10 17v-14l10 16v-14l10 16v-18l10 17v-19l10 20v-23l10 19v-20l10 25v-19l10 15v-19l10 22v-21l10 16v-11l10 10v-9l10 13v-12l10 14v-22l10 18v-12l10 12v-18l10 18v-14l10 14v-14l10 12v-10l10 16v-19l10 20v-20l10 15v-14l10 15v-14l10 16v-13l10 13v-13l10 16v-23l10 15v-15l10 19v-12l10 11v-16l10 18v-18l10 16v-11l10 14v-15l10 16v-16l10 15v-21l10 18v-14l10 12v-16l10 21v-17l10 14v-15l10 15v-15l10 13v-13l10 17v-14l10 10v-9l10 13v-20l10 16v-11l10 13v-13l10 17v-20l10 21v-19l10 20v-24l10 16v-18l10 18v-15l10 19v-23l10 27v-24l10 24v-21l10 19v-19l10 14v-11l10 13v-20l10 18v-13l10 20v-23l10 25v-25l10 30v-47l10 38v-28l10 24v-15l10 13v-11l10 11v-16l10 22v-22l10 19v-14l10 16v-16l10 13v-12l10 15v-14l10 9v-13l10 19v-23l10 17v-10l10 15v-21l10 18v-20l10 27v-29l10 28v-24l10 18v-12l10 14v-14l10 11v-15l10 16v-14l10 14v-19l10 24v-20l10 18v-16l10 11v-15l10 19v-20l10 23v-19l10 12v-13l10 15v-14l10 18v-21l10 15v-17l10 21v-21l10 23v-24l10 21v-18l10 17v-13l10 16v-17l10 14v-15l10 13v-13l10 14v-13l10 12v-11l10 17v-23l10 28v-28l10 22v-26l10 28v-21l10 14v-12l10 12v-16l10 21v-15l10 17v-17l10 16v-25l10 20v-12l10 13v-12l10 11v-17l10 16v-11l10 11v-10l10 13v-14l10 11v-13l10 17v-21l10 19v-12l10 13v-13l10 10v-11l10 17v-19l10 19v-18l10 12v-11l10 11v-13l10 13v-13l10 13v-10l10 12v-15l10 14v-17l10 22v-21l10 19v-15l10 14v-19l10 18v-15l10 13v-15l10 16v-16l10 15v-13l10 12v-8l10 9v-15l10 20v-18l10 13v-12l10 14v-14l10 13v-16l10 18v-17l10 14v-12l10 18v-19l10 20v-19l10 12v-13l10 14v-13l10 17v-22l10 18v-16l10 16v-15l10 22v-24l10 20v-17l10 16v-22l10 21v-15l10 14v-13l10 14v-15l10 16v-15l10 12v-14l10 17v-17l10 16v-12l10 16v-24l10 26v-25l10 24v-22l10 21v-22l10 18v-15l10 15v-16l10 17v-22l10 21v-14l10 15v-14l10 16v-15l10 16v-18l10 13v-13l10 14v-18l10 18v-17l10 20v-27l10 28v-21l10 22v-24l10 18v-13l10 19v-21l10 14v-11l10 18v-23l10 21v-16l10 11v-18l10 18v-11l10 14v-20l10 18v-16l10 15v-14l10 21v-22l10 16v-11l10 11v-15l10 16v-17l10 17v-13l10 17v-16l10 11v-15l10 20v-16l10 10v-14l10 18v-19l10 19v-17l10 12v-14l10 18v-15l10 17v-15l10 15v-22l10 18v-11l10 15v-17l10 13v-18l10 24v-22l10 20v-16l10 18v-19l10 15v-15l10 13v-11l10 9v-10l10 12v-14l10 13v-15l10 15v-14l10 15v-13l10 14v-11l10 16v-17l10 12v-12l10 10v-11l10 12v-13l10 14v-17l10 16v-17l10 21v-17l10 18v-23l10 23v-19l10 15v-16l10 13v-8l10 9v-11l10 11v-15l10 17v-11l10 10v-10l10 12v-12l10 13v-16l10 15v-13l10 11v-11l10 13v-15l10 17v-16l10 19v-19"/><use href="#t30" transform="translate(5,0) scale(1,-.85)"/><path d="M280 19v-36M990 16v-32M1200 15v-28M1890 34v-69l10 47v-22M1980 17v-36M2180 19v-37M2390 17v-33M2450 17v-32M2680 18v-36M2890 19v-34M4460 12v-25M4900 14v-26M5210 18v-35M5280 19v-36l10 73v-122l10 83v-32M5440 30v-57M5700 36v-70M6300 21v-43l10 36v-28M6420 23v-47"/></g>
<g stroke="#00f" transform="translate(111.5,421.83) scale(0.1)"><path id="t31" d="M0 10v-15l10 9v-12l10 20v-24l10 23v-17l10 11v-15l10 15v-13l10 15v-20l10 24v-21l10 21v-16l10 13v-13l10 10v-10l10 16v-17l10 12v-12l10 16v-17l10 19v-19l10 16v-16l10 13v-12l10 17v-23l10 19v-12l10 11v-16l10 21v-27l10 26v-17l10 14v-13l10 11v-10l10 15v-15l10 11v-11l10 13v-13l10 11v-11l10 10v-12l10 17v-20l10 21v-25l10 34v-36l10 23v-15l10 18v-22l10 18v-12l10 11v-16l10 18v-12l10 15v-17l10 13v-11l10 16v-20l10 20v-23l10 22v-22l10 23v-23l10 22v-15l10 14v-16l10 16v-16l10 12v-10l10 16v-19l10 19v-16l10 15v-21l10 23v-19l10 18v-16l10 9v-8l10 9v-12l10 13v-11l10 10v-15l10 23v-21l10 13v-12l10 19v-22l10 19v-15l10 13v-14l10 16v-14l10 10v-15l10 17v-12l10 18v-19l10 13v-18l10 24v-20l10 14v-12l10 11v-12l10 13v-12l10 15v-15l10 12v-14l10 20v-22l10 20v-25l10 21v-15l10 17v-15l10 16v-21l10 26v-21l10 16v-16l10 14v-20l10 18v-17l10 20v-22l10 23v-17l10 16v-16l10 13v-14l10 13v-10l10 14v-17l10 14v-16l10 15v-10l10 13v-18l10 20v-14l10 9v-16l10 19v-13l10 11v-11l10 11v-15l10 13v-10l10 11v-16l10 15v-14l10 17v-18l10 19v-16l10 17v-20l10 22v-22l10 17v-12l10 11v-12l10 23v-25l10 21v-24l10 23v-17l10 13v-14l10 19v-17l10 9v-11l10 12v-13l10 12v-10l10 10v-9l10 17v-19l10 16v-13l10 8v-11l10 13v-15l10 24v-33l10 32v-24l10 18v-14l10 12v-18l10 21v-15l10 12v-19l10 21v-18l10 21v-18l10 12v-13l10 19v-20l10 19v-23l10 24v-16l10 17v-19l10 19v-18l10 14v-16l10 13v-15l10 17v-16l10 14v-14l10 15v-13l10 15v-18l10 18v-16l10 20v-21l10 20v-21l10 17v-20l10 18v-17l10 21v-15l10 13v-14l10 12v-13l10 14v-15l10 15v-13l10 14v-12l10 17v-23l10 16v-18l10 23v-15l10 18v-19l10 11v-13l10 14v-12l10 18v-19l10 13v-16l10 22v-19l10 15v-13l10 14v-16l10 18v-19l10 16v-13l10 13v-15l10 12v-10l10 13v-21l10 19v-16l10 23v-20l10 20v-18l10 16v-21l10 22v-25l10 22v-23l10 25v-17l10 19v-21l10 14v-19l10 18v-14l10 14v-15l10 15v-15l10 22v-19l10 16v-18l10 19v-15l10 12v-14l10 14v-16l10 20v-20l10 19v-16l10 12v-15l10 15v-13l10 17v-19l10 15v-13l10 15v-14l10 12v-15l10 20v-21l10 15v-16l10 28v-30l10 26v-24l10 32v-44l10 33v-22l10 29v-25l10 24v-28l10 23v-25l10 28v-25l10 26v-22l10 16v-19l10 16v-17l10 22v-17l10 12v-15l10 14v-14l10 16v-14l10 15v-14l10 12v-17l10 16v-10l10 16v-17l10 16v-15l10 9v-14l10 17v-15l10 14v-13l10 19v-18l10 13v-16l10 18v-16l10 14v-16l10 21v-21l10 20v-18l10 14v-17l10 18v-15l10 19v-23l10 18v-13l10 13v-14l10 13v-13l10 12v-14l10 19v-20l10 16v-11l10 9v-12l10 21v-23l10 17v-15l10 13v-16l10 18v-12l10 11v-16l10 18v-16l10 15v-15l10 13v-14l10 20v-20l10 13v-10l10 13v-12l10 13v-13l10 11v-14l10 18v-18l10 13v-16l10 17v-15l10 14v-15l10 14v-9l10 11v-15l10 13v-10l10 15v-17l10 15v-11l10 8v-8l10 11v-11l10 13v-18l10 16v-15l10 16v-13l10 15v-14l10 8v-8l10 10v-12l10 12v-13l10 18v-18l10 17v-16l10 15v-15l10 15v-19l10 20v-15l10 11v-13l10 24v-35l10 28v-22l10 34v-43l10 35v-33l10 35v-26l10 24v-24l10 17v-13l10 11v-10l10 10v-11l10 10v-10l10 10v-9l10 9v-10l10 12v-11l10 14v-15l10 11v-13l10 13v-13l10 19v-18l10 13v-13l10 13v-12l10 11v-16l10 17v-14l10 18v-18l10 19v-21l10 15v-13l10 17v-17l10 13v-14l10 15v-11l10 12v-12l10 13v-20l10 17v-11l10 18v-20l10 17v-16l10 15v-13l10 11v-15l10 14v-12l10 15v-13l10 10v-14l10 14v-15l10 15v-13l10 16v-17l10 17v-13l10 11v-17l10 23v-21l10 22v-30l10 24v-15l10 19v-21l10 19v-16l10 19v-17l10 14v-14l10 16v-20l10 13v-8l10 11v-20l10 19v-14l10 19v-22l10 16v-15l10 19v-13l10 12v-12l10 9v-9l10 9v-14l10 12v-6l10 10v-17l10 19v-19l10 18v-19l10 21v-22l10 19v-19l10 18v-12l10 13v-12l10 13v-14l10 12v-10l10 13v-18l10 14v-16l10 17v-12l10 13v-18l10 16v-11l10 11v-17l10 18v-12l10 13v-13l10 12v-12l10 11v-16l10 18v-15l10 15v-15l10 17v-17l10 19v-17l10 13v-15l10 13v-10l10 10v-12l10 19v-24l10 23v-17l10 11v-16l10 21v-17l10 17v-20l10 17v-15l10 15v-13l10 15v-20l10 17v-17l10 16v-10l10 10v-10l10 11v-15l10 17v-14l10 14v-13l10 12v-15l10 15v-14l10 13v-13l10 12v-12l10 14v-12l10 10v-10l10 11v-11l10 11v-16l10 15v-10l10 14v-14l10 10v-13l10 14v-12l10 16v-17l10 14v-12l10 10v-10l10 16v-17l10 17v-19l10 15v-14l10 12v-12l10 12v-15l10 15v-13l10 14v-14l10 12v-15l10 17v-11l10 14v-15l10 12v-11l10 17v-25l10 25v-17l10 15v-24l10 21v-19l10 17v-16l10 20v-14l10 11v-12l10 17v-21l10 15v-11l10 16v-19l10 18v-21l10 17v-17l10 17v-9l10 8v-8l10 10v-10l10 9v-11l10 13v-16l10 14v-11l10 13v-13l10 11v-10l10 14v-20l10 18v-13l10 17v-24l10 23v-17l10 18v-21l10 15v-12l10 14v-16l10 17v-16l10 19v-16l10 11v-12l10 18v-23l10 22v-23l10 22v-23l10 27v-27l10 22v-18l10 14v-15l10 20v-15l10 10v-13l10 14v-14l10 16v-15l10 12v-10l10 13v-19l10 21v-16l10 16v-16l10 13v-17l10 15v-14l10 18v-17l10 17v-23l10 20v-16l10 18v-18l10 15v-16l10 19v-19l10 21v-15l10 11v-17l10 16v-12l10 15v-16l10 16v-15l10 16v-22l10 27v-22l10 22v-23l10 15v-15l10 18v-19l10 18v-15l10 15v-12l10 10v-10l10 9v-11l10 11v-16l10 22v-16l10 11v-17l10 21v-17l10 15v-13l10 17v-19l10 14v-11l10 15v-18l10 18v-20l10 17v-15l10 17v-18l10 13v-11l10 11v-13l10 15v-13l10 14v-14l10 11v-12l10 16v-14l10 17v-18l10 12v-14l10 13v-9l10 9v-10l10 14v-19l10 15v-14l10 20v-15l10 9v-13l10 20v-18l10 16v-16l10 11v-14l10 13v-9l10 10v-13l10 17v-18l10 15v-17l10 17v-14l10 17v-19l10 16v-15l10 18v-19l10 15v-16l10 17v-18l10 20v-16l10 14v-16l10 19v-15l10 16v-14l10 15v-18l10 19v-19l10 16v-14l10 13v-14l10 13v-15l10 13v-13l10 14v-13l10 12v-15l10 18v-14l10 14v-18l10 20v-16l10 15v-21l10 23v-16l10 16v-22l10 20v-14l10 11v-13l10 12v-11l10 13v-15l10 15v-17l10 15v-14l10 18v-14l10 12v-16l10 23v-29l10 23v-18l10 25v-31l10 28v-25l10 21v-17l10 24v-27l10 25v-23l10 18v-17l10 19v-16l10 13v-12l10 11v-17l10 18v-12l10 12v-16l10 14v-15l10 19v-17l10 13v-12l10 17v-16l10 11v-10l10 10v-13l10 16v-17l10 15v-11l10 12v-12l10 12v-17l10 18v-18l10 18v-21l10 24v-24l10 24v-18l10 19v-17l10 12v-17l10 22v-20l10 18v-22l10 24v-24l10 19v-19l10 27v-30l10 33v-33l10 26v-19l10 15v-19l10 24v-23l10 19v-17l10 17v-16l10 19v-20l10 14v-15l10 18v-20l10 25v-20l10 14v-21l10 21v-14l10 14v-18l10 24v-19l10 11v-14l10 14v-10l10 17v-24l10 24v-18l10 13v-14l10 18v-17l10 15v-20l10 23v-21l10 14v-11l10 16v-17l10 11v-9l10 9v-9l10 12v-19l10 16v-11l10 11v-10l10 11v-15l10 15v-12l10 11v-11l10 15v-16l10 14v-11l10 11v-11l10 11v-15l10 20v-17l10 11v-10l10 15v-20l10 23v-18l10 10v-13l10 13v-10l10 14v-16l10 13v-13l10 14v-12l10 12v-18l10 18v-13l10 14v-12l10 8v-15l10 18v-17l10 20v-17l10 12v-11l10 13v-16l10 17v-18l10 16v-11l10 14v-17l10 20v-25l10 20v-12l10 15v-17l10 15v-19l10 21v-16l10 16v-15l10 9v-10l10 12v-12l10 10v-15l10 23v-18l10 15v-21l10 22v-15l10 11v-14l10 13v-10l10 14v-14l10 11v-16l10 19v-15l10 15v-20l10 18v-14l10 12v-16l10 16v-10l10 17v-22l10 22v-20l10 15v-12l10 10v-11l10 15v-14l10 17v-22l10 19v-19l10 23v-20l10 12v-17l10 17v-12l10 14v-19l10 17v-11l10 11v-13l10 15v-13l10 13v-17l10 15v-9l10 9v-11l10 12v-11l10 12v-13l10 16v-19l10 14v-11l10 11v-14l10 16v-14l10 12v-11l10 17v-16l10 14v-19l10 17v-13l10 11v-14l10 19v-18l10 14v-18l10 21v-15l10 11v-14l10 21v-20l10 18v-18l10 18v-20l10 18v-14l10 15v-20l10 25v-21l10 15v-22l10 25v-17l10 12v-11l10 13v-12l10 10v-10l10 14v-20l10 15v-12l10 11v-10l10 10v-14l10 15v-13l10 16v-15l10 15v-13l10 16v-17l10 16v-21l10 17v-12l10 13v-15l10 18v-18l10 21v-19l10 12v-12l10 14v-19l10 21v-16l10 13v-13l10 17v-18l10 19v-19l10 18v-20l10 17v-13l10 18v-18l10 15v-18l10 16v-16l10 17v-14l10 11v-15l10 19v-15l10 12v-18l10 17v-11l10 11v-10"/><use href="#t31" transform="translate(5,0) scale(1,-.85)"/><path d="M200 20v-41M310 21v-44M570 19v-34M1050 17v-35M1170 22v-43M1370 16v-31M1910 15v-30l10 64v-99l10 68v-38M1960 19v-43M2670 17v-31l10 62v-96l10 71v-45M3100 15v-28M3830 16v-29M4500 15v-31M5240 24v-43l10 33v-25M5460 19v-35M5560 18v-36l10 30v-24"/></g>
<g stroke="#f00" transform="translate(111.5,434.00) scale(0.1)"><path id="t32" d="M0 10v-18l10 13v-14l10 21v-22l10 15v-16l10 18v-12l10 10v-10l10 13v-16l10 16v-15l10 12v-15l10 19v-22l10 24v-24l10 25v-22l10 21v-18l10 19v-21l10 19v-18l10 17v-19l10 21v-17l10 13v-18l10 29v-33l10 34v-34l10 25v-22l10 22v-22l10 24v-22l10 19v-24l10 22v-15l10 18v-16l10 13v-15l10 14v-12l10 16v-17l10 11v-9l10 11v-13l10 12v-9l10 10v-13l10 16v-20l10 16v-13l10 18v-22l10 20v-20l10 18v-13l10 16v-18l10 16v-15l10 16v-17l10 15v-13l10 13v-11l10 11v-14l10 15v-17l10 20v-16l10 16v-22l10 23v-20l10 15v-18l10 18v-14l10 13v-13l10 13v-12l10 12v-9l10 9v-16l10 20v-21l10 17v-10l10 10v-16l10 18v-12l10 10v-16l10 20v-23l10 25v-17l10 14v-17l10 18v-16l10 14v-14l10 13v-15l10 17v-13l10 12v-13l10 17v-16l10 10v-10l10 13v-13l10 10v-14l10 21v-23l10 23v-19l10 18v-17l10 13v-13l10 14v-18l10 19v-18l10 18v-19l10 18v-15l10 12v-16l10 22v-16l10 11v-13l10 14v-15l10 17v-14l10 11v-16l10 16v-13l10 16v-16l10 18v-21l10 18v-15l10 16v-14l10 19v-23l10 22v-19l10 12v-18l10 18v-13l10 15v-14l10 15v-22l10 18v-17l10 23v-18l10 12v-10l10 14v-15l10 10v-14l10 18v-17l10 13v-11l10 13v-11l10 16v-18l10 17v-14l10 10v-13l10 12v-10l10 14v-17l10 16v-20l10 20v-14l10 13v-16l10 18v-19l10 16v-18l10 22v-19l10 17v-15l10 11v-9l10 13v-13l10 10v-14l10 15v-13l10 13v-13l10 12v-12l10 11v-9l10 16v-22l10 21v-14l10 9v-13l10 18v-15l10 12v-17l10 22v-24l10 21v-14l10 13v-17l10 15v-17l10 16v-14l10 15v-11l10 14v-15l10 12v-11l10 11v-17l10 19v-18l10 17v-12l10 11v-18l10 19v-18l10 17v-13l10 12v-12l10 12v-16l10 17v-13l10 12v-12l10 16v-15l10 12v-16l10 15v-11l10 16v-15l10 14v-16l10 18v-16l10 9v-12l10 15v-12l10 15v-17l10 16v-20l10 16v-17l10 18v-13l10 16v-21l10 22v-17l10 13v-16l10 16v-13l10 11v-10l10 11v-10l10 12v-14l10 14v-14l10 13v-11l10 15v-16l10 13v-13l10 18v-17l10 10v-17l10 18v-11l10 16v-17l10 17v-18l10 18v-21l10 22v-19l10 16v-17l10 20v-24l10 18v-16l10 20v-18l10 19v-25l10 23v-18l10 20v-16l10 17v-19l10 14v-20l10 22v-16l10 13v-12l10 17v-22l10 19v-13l10 15v-18l10 15v-12l10 16v-18l10 15v-14l10 13v-20l10 19v-13l10 12v-10l10 13v-15l10 22v-27l10 22v-19l10 19v-19l10 19v-16l10 15v-19l10 15v-14l10 15v-13l10 16v-14l10 12v-14l10 12v-12l10 16v-20l10 16v-15l10 19v-16l10 14v-16l10 17v-18l10 21v-18l10 19v-25l10 26v-19l10 12v-13l10 13v-18l10 20v-17l10 18v-22l10 21v-22l10 21v-14l10 15v-17l10 14v-13l10 20v-21l10 14v-16l10 19v-19l10 16v-12l10 19v-24l10 17v-17l10 25v-21l10 16v-15l10 11v-8l10 10v-11l10 15v-14l10 9v-12l10 16v-16l10 13v-12l10 13v-15l10 18v-21l10 23v-17l10 11v-10l10 12v-16l10 13v-12l10 15v-12l10 14v-17l10 12v-15l10 16v-16l10 19v-16l10 14v-17l10 22v-17l10 14v-15l10 13v-13l10 12v-12l10 20v-22l10 19v-20l10 19v-18l10 15v-14l10 18v-20l10 18v-16l10 18v-20l10 13v-10l10 17v-16l10 16v-21l10 15v-10l10 11v-15l10 13v-14l10 16v-15l10 15v-18l10 18v-12l10 13v-13l10 14v-20l10 23v-16l10 11v-12l10 10v-9l10 10v-10l10 12v-12l10 17v-23l10 19v-17l10 19v-21l10 22v-19l10 15v-19l10 18v-17l10 20v-21l10 20v-20l10 20v-15l10 18v-20l10 17v-21l10 21v-16l10 16v-13l10 10v-11l10 11v-10l10 12v-17l10 16v-14l10 13v-10l10 11v-17l10 21v-15l10 15v-14l10 10v-14l10 16v-13l10 9v-11l10 14v-12l10 10v-13l10 13v-13l10 19v-16l10 15v-14l10 10v-11l10 12v-16l10 17v-12l10 10v-11l10 16v-22l10 28v-37l10 35v-25l10 23v-29l10 32v-25l10 17v-18l10 16v-15l10 14v-13l10 18v-17l10 12v-12l10 18v-21l10 15v-15l10 16v-16l10 22v-21l10 15v-16l10 18v-20l10 20v-15l10 12v-10l10 10v-13l10 17v-17l10 20v-23l10 18v-16l10 19v-14l10 13v-16l10 14v-14l10 15v-15l10 15v-14l10 12v-17l10 19v-15l10 11v-13l10 18v-16l10 16v-16l10 19v-17l10 14v-16l10 19v-20l10 17v-18l10 18v-15l10 16v-18l10 18v-19l10 17v-13l10 10v-9l10 10v-17l10 20v-14l10 12v-14l10 12v-16l10 18v-17l10 16v-15l10 19v-16l10 12v-13l10 15v-16l10 17v-13l10 11v-17l10 19v-14l10 14v-15l10 10v-9l10 12v-17l10 15v-10l10 13v-12l10 10v-16l10 16v-13l10 12v-9l10 12v-13l10 10v-10l10 12v-12l10 11v-15l10 19v-16l10 11v-11l10 13v-12l10 10v-13l10 19v-22l10 20v-18l10 18v-19l10 18v-12l10 14v-19l10 20v-20l10 20v-21l10 16v-14l10 18v-14l10 11v-18l10 16v-9l10 12v-14l10 11v-12l10 12v-17l10 18v-17l10 17v-14l10 16v-21l10 24v-22l10 18v-13l10 16v-20l10 18v-15l10 12v-12l10 12v-12l10 18v-21l10 16v-13l10 20v-18l10 11v-17l10 21v-20l10 16v-14l10 13v-12l10 16v-18l10 18v-21l10 18v-16l10 23v-18l10 12v-14l10 14v-20l10 24v-21l10 16v-13l10 19v-23l10 17v-17l10 22v-18l10 21v-25l10 20v-15l10 11v-11l10 17v-18l10 15v-17l10 14v-11l10 18v-17l10 12v-15l10 14v-18l10 22v-22l10 23v-23l10 18v-16l10 16v-15l10 19v-16l10 15v-17l10 13v-13l10 16v-13l10 10v-10l10 17v-17l10 10v-13l10 15v-15l10 21v-22l10 15v-11l10 11v-12l10 16v-15l10 10v-11l10 12v-13l10 17v-17l10 13v-12l10 12v-11l10 10v-15l10 15v-12l10 15v-17l10 15v-16l10 19v-22l10 26v-19l10 14v-17l10 18v-25l10 25v-19l10 17v-19l10 17v-10l10 11v-13l10 16v-19l10 15v-11l10 11v-10l10 13v-17l10 15v-11l10 13v-15l10 16v-14l10 11v-14l10 17v-15l10 18v-21l10 14v-12l10 16v-18l10 15v-11l10 16v-23l10 21v-20l10 19v-16l10 20v-20l10 14v-16l10 20v-17l10 13v-12l10 14v-21l10 25v-22l10 14v-10l10 16v-16l10 17v-16l10 16v-20l10 14v-14l10 17v-17l10 17v-18l10 15v-12l10 18v-18l10 13v-17l10 17v-17l10 22v-19l10 13v-14l10 18v-14l10 16v-16l10 11v-11l10 10v-11l10 11v-11l10 13v-12l10 11v-14l10 19v-21l10 19v-14l10 15v-21l10 20v-14l10 11v-13l10 18v-20l10 17v-15l10 13v-15l10 16v-13l10 16v-21l10 20v-14l10 10v-13l10 14v-17l10 18v-13l10 18v-23l10 21v-16l10 17v-20l10 16v-14l10 14v-16l10 16v-12l10 15v-16l10 15v-20l10 20v-14l10 10v-16l10 21v-18l10 16v-13l10 18v-20l10 14v-12l10 10v-10l10 16v-16l10 9v-12l10 17v-15l10 13v-18l10 31v-30l10 21v-23l10 30v-33l10 25v-25l10 23v-23l10 23v-14l10 17v-25l10 26v-24l10 20v-15l10 14v-17l10 18v-18l10 20v-22l10 18v-12l10 10v-8l10 17v-20l10 14v-16l10 15v-15l10 20v-22l10 17v-16l10 21v-23l10 20v-13l10 13v-20l10 25v-20l10 16v-20l10 23v-20l10 18v-16l10 18v-22l10 16v-14l10 15v-15l10 14v-11l10 12v-16l10 21v-21l10 17v-14l10 15v-22l10 19v-12l10 17v-20l10 15v-12l10 11v-16l10 22v-17l10 15v-18l10 14v-14l10 15v-12l10 16v-20l10 18v-20l10 17v-12l10 14v-14l10 12v-11l10 10v-11l10 18v-16l10 10v-9l10 11v-12l10 11v-14l10 13v-14l10 17v-15l10 18v-16l10 13v-19l10 17v-16l10 20v-15l10 11v-12l10 18v-19l10 17v-20l10 17v-14l10 13v-10l10 10v-16l10 19v-17l10 14v-16l10 19v-17l10 16v-15l10 12v-14l10 20v-19l10 14v-15l10 14v-16l10 16v-11l10 12v-12l10 14v-13l10 10v-14l10 16v-13l10 15v-16l10 18v-18l10 14v-18l10 23v-21l10 14v-17l10 17v-16l10 16v-10l10 17v-23l10 17v-16l10 17v-19l10 17v-12l10 15v-16l10 18v-16l10 12v-14l10 14v-13l10 17v-15l10 14v-15l10 14v-14l10 13v-16l10 16v-13l10 10v-10l10 14v-12l10 11v-13l10 18v-18l10 16v-15l10 11v-12l10 17v-20l10 16v-13l10 19v-21l10 17v-21l10 24v-24l10 17v-12l10 20v-24l10 16v-13l10 15v-15l10 15v-17l10 14v-11l10 15v-13l10 10v-10l10 15v-20l10 16v-12l10 13v-14l10 13v-12l10 11v-11l10 12v-12l10 15v-20l10 18v-13l10 15v-14l10 10v-12l10 14v-16l10 15v-12l10 11v-13l10 17v-16l10 19v-17l10 10v-10l10 15v-16l10 12v-13l10 19v-19l10 16v-16l10 13v-17l10 23v-18l10 16v-17l10 15v-18l10 17v-14l10 12v-12l10 18v-19l10 13v-16l10 20v-15l10 12v-18l10 17v-18l10 22v-14l10 9v-9l10 13v-14l10 16v-18l10 17v-17l10 16v-16l10 15v-19l10 19v-13l10 14v-14l10 14v-19l10 17v-17l10 21v-20l10 17v-12l10 9v-9l10 10v-14l10 19v-16l10 16v-18l10 12v-8l10 8v-10l10 13v-13l10 13v-14l10 12v-11l10 17v-15l10 9v-10"/><use href="#t32" transform="translate(5,0) scale(1,-.85)"/><path d="M180 20v-41l10 34v-26M1090 14v-26M1970 16v-30M2540 15v-31M2840 16v-34M3100 30v-58l10 44v-31l10 34v-38M4190 13v-26M4560 17v-33M5360 19v-42l10 36v-26M6140 15v-30M6740 14v-30"/></g>
<g stroke="#00f" transform="translate(111.5,446.17) scale(0.1)"><path id="t33" d="M0 10v-21l10 16v-13l10 19v-17l10 19v-22l10 17v-13l10 13v-16l10 18v-15l10 16v-16l10 10v-11l10 15v-19l10 18v-16l10 13v-11l10 11v-14l10 19v-19l10 21v-19l10 18v-24l10 27v-28l10 27v-22l10 22v-23l10 16v-19l10 19v-12l10 18v-25l10 19v-18l10 22v-20l10 20v-17l10 18v-22l10 15v-14l10 20v-15l10 12v-20l10 19v-13l10 16v-14l10 12v-15l10 14v-16l10 16v-12l10 15v-20l10 20v-15l10 13v-19l10 21v-17l10 22v-19l10 10v-18l10 18v-16l10 23v-19l10 16v-15l10 18v-17l10 12v-17l10 18v-16l10 21v-19l10 11v-13l10 19v-24l10 30v-27l10 36v-38l10 23v-21l10 24v-22l10 14v-18l10 22v-21l10 19v-16l10 16v-16l10 15v-13l10 18v-18l10 12v-15l10 16v-15l10 17v-15l10 11v-15l10 21v-21l10 15v-10l10 18v-24l10 22v-23l10 17v-13l10 16v-19l10 25v-26l10 28v-33l10 25v-21l10 19v-13l10 16v-17l10 19v-24l10 23v-16l10 13v-18l10 23v-23l10 16v-10l10 10v-15l10 16v-12l10 14v-15l10 12v-14l10 21v-19l10 12v-10l10 17v-20l10 15v-18l10 19v-16l10 15v-20l10 24v-23l10 19v-14l10 12v-17l10 23v-22l10 16v-10l10 9v-11l10 11v-10l10 13v-11l10 9v-9l10 9v-13l10 17v-17l10 15v-17l10 14v-11l10 14v-11l10 11v-11l10 11v-14l10 17v-19l10 15v-16l10 18v-17l10 14v-11l10 15v-18l10 14v-15l10 19v-19l10 21v-16l10 15v-15l10 12v-11l10 8v-9l10 14v-17l10 17v-15l10 11v-12l10 12v-15l10 18v-16l10 17v-16l10 11v-14l10 15v-10l10 12v-19l10 21v-20l10 18v-16l10 14v-12l10 13v-13l10 14v-12l10 15v-17l10 13v-12l10 11v-13l10 14v-12l10 12v-15l10 15v-16l10 20v-16l10 12v-11l10 16v-23l10 21v-14l10 11v-13l10 18v-21l10 20v-23l10 19v-15l10 18v-15l10 11v-10l10 11v-11l10 10v-10l10 12v-16l10 14v-16l10 22v-24l10 21v-14l10 11v-13l10 17v-17l10 16v-14l10 11v-10l10 18v-21l10 20v-20l10 13v-11l10 11v-10l10 16v-23l10 18v-17l10 18v-16l10 21v-20l10 15v-17l10 16v-18l10 17v-16l10 18v-17l10 16v-13l10 16v-17l10 14v-18l10 21v-17l10 14v-14l10 18v-18l10 19v-23l10 20v-18l10 14v-12l10 13v-11l10 16v-16l10 11v-9l10 9v-12l10 14v-12l10 15v-15l10 9v-14l10 16v-12l10 13v-16l10 16v-12l10 15v-14l10 8v-11l10 19v-17l10 10v-13l10 17v-14l10 13v-15l10 13v-14l10 19v-18l10 15v-17l10 17v-16l10 18v-15l10 13v-13l10 10v-12l10 15v-13l10 16v-18l10 12v-14l10 17v-16l10 18v-19l10 15v-14l10 18v-21l10 22v-19l10 19v-21l10 14v-14l10 16v-10l10 13v-15l10 10v-13l10 15v-11l10 16v-17l10 10v-8l10 12v-17l10 17v-19l10 18v-19l10 21v-14l10 10v-14l10 19v-15l10 12v-14l10 17v-16l10 15v-17l10 16v-20l10 20v-17l10 15v-12l10 14v-18l10 19v-18l10 15v-16l10 18v-14l10 12v-14l10 12v-8l10 9v-11l10 12v-11l10 13v-14l10 13v-14l10 14v-19l10 17v-10l10 15v-15l10 14v-18l10 18v-17l10 16v-16l10 14v-12l10 15v-15l10 14v-15l10 13v-12l10 14v-13l10 10v-17l10 20v-17l10 21v-21l10 18v-13l10 10v-17l10 23v-28l10 29v-29l10 25v-21l10 24v-21l10 16v-14l10 14v-16l10 19v-16l10 12v-14l10 17v-17l10 19v-22l10 20v-15l10 12v-11l10 11v-16l10 20v-16l10 10v-9l10 10v-10l10 16v-16l10 14v-13l10 10v-11l10 12v-11l10 10v-16l10 17v-17l10 14v-14l10 15v-10l10 16v-16l10 13v-14l10 18v-21l10 14v-13l10 12v-8l10 10v-11l10 10v-13l10 15v-18l10 21v-23l10 20v-20l10 19v-15l10 16v-13l10 16v-15l10 10v-14l10 21v-22l10 22v-24l10 27v-25l10 17v-13l10 14v-18l10 21v-24l10 18v-15l10 19v-14l10 11v-11l10 9v-11l10 12v-11l10 10v-13l10 15v-14l10 12v-12l10 19v-21l10 17v-15l10 16v-17l10 15v-13l10 18v-20l10 14v-10l10 14v-16l10 13v-11l10 16v-23l10 17v-13l10 16v-14l10 11v-12l10 12v-15l10 16v-11l10 13v-18l10 23v-25l10 23v-22l10 22v-22l10 22v-19l10 14v-12l10 12v-12l10 14v-14l10 13v-11l10 13v-19l10 15v-15l10 19v-16l10 20v-22l10 21v-20l10 13v-10l10 13v-13l10 12v-20l10 22v-16l10 15v-18l10 22v-19l10 18v-16l10 18v-19l10 18v-20l10 13v-9l10 14v-18l10 18v-18l10 20v-18l10 13v-16l10 18v-20l10 16v-14l10 15v-12l10 11v-15l10 20v-18l10 23v-22l10 19v-27l10 31v-31l10 25v-32l10 37v-25l10 18v-16l10 15v-12l10 13v-15l10 11v-11l10 12v-11l10 17v-20l10 31v-44l10 43v-41l10 32v-24l10 24v-19l10 14v-19l10 23v-18l10 18v-21l10 15v-16l10 16v-15l10 21v-18l10 18v-22l10 15v-13l10 14v-12l10 13v-10l10 14v-14l10 9v-14l10 18v-14l10 12v-12l10 14v-17l10 14v-11l10 14v-16l10 17v-24l10 26v-21l10 18v-20l10 22v-18l10 16v-14l10 14v-15l10 10v-10l10 12v-9l10 7v-10l10 12v-13l10 14v-16l10 20v-20l10 15v-11l10 10v-14l10 15v-12l10 13v-13l10 11v-14l10 20v-19l10 14v-10l10 10v-15l10 17v-15l10 11v-9l10 16v-20l10 14v-17l10 17v-13l10 13v-12l10 16v-14l10 11v-16l10 20v-16l10 14v-21l10 23v-19l10 15v-11l10 9v-8l10 10v-10l10 9v-9l10 10v-13l10 13v-17l10 23v-21l10 16v-13l10 13v-14l10 14v-13l10 13v-14l10 15v-18l10 17v-19l10 17v-11l10 10v-8l10 8v-12l10 16v-13l10 13v-15l10 14v-14l10 17v-22l10 24v-17l10 14v-15l10 12v-11l10 12v-15l10 17v-17l10 19v-18l10 16v-18l10 21v-18l10 12v-11l10 10v-10l10 15v-16l10 17v-18l10 19v-19l10 17v-15l10 14v-16l10 12v-13l10 17v-20l10 23v-17l10 14v-14l10 12v-14l10 17v-17l10 14v-17l10 15v-11l10 16v-17l10 15v-18l10 16v-10l10 12v-15l10 12v-12l10 15v-14l10 12v-16l10 15v-11l10 17v-20l10 19v-23l10 23v-20l10 17v-12l10 14v-15l10 10v-9l10 10v-14l10 19v-22l10 18v-18l10 24v-18l10 12v-11l10 10v-10l10 10v-11l10 10v-8l10 9v-9l10 13v-17l10 16v-17l10 16v-15l10 12v-8l10 14v-20l10 17v-14l10 19v-22l10 20v-16l10 11v-12l10 20v-20l10 15v-21l10 25v-17l10 11v-12l10 12v-13l10 12v-12l10 16v-17l10 17v-16l10 12v-14l10 19v-24l10 26v-20l10 19v-21l10 20v-17l10 14v-14l10 16v-17l10 15v-12l10 16v-16l10 13v-20l10 18v-19l10 18v-12l10 13v-13l10 12v-11l10 14v-15l10 14v-15l10 14v-17l10 19v-16l10 17v-17l10 14v-11l10 12v-13l10 13v-12l10 14v-16l10 14v-13l10 14v-20l10 18v-12l10 17v-17l10 13v-15l10 18v-19l10 14v-16l10 20v-19l10 14v-12l10 16v-12l10 8v-11l10 14v-11l10 15v-18l10 18v-19l10 17v-16l10 16v-13l10 13v-13l10 8v-7l10 10v-11l10 13v-14l10 10v-10l10 13v-14l10 11v-12l10 13v-18l10 20v-14l10 11v-10l10 10v-14l10 19v-17l10 17v-14l10 12v-16l10 14v-13l10 13v-15l10 17v-16l10 14v-16l10 18v-15l10 13v-18l10 17v-13l10 19v-22l10 17v-12l10 11v-16l10 18v-11l10 13v-20l10 20v-14l10 11v-13l10 14v-17l10 17v-16l10 16v-21l10 28v-26l10 20v-16l10 15v-15l10 17v-16l10 15v-17l10 16v-20l10 21v-18l10 15v-10l10 12v-18l10 24v-20l10 16v-18l10 17v-13l10 9v-13l10 13v-10l10 10v-10l10 15v-15l10 13v-13l10 10v-12l10 13v-9l10 12v-13l10 9v-9l10 10v-15l10 21v-19l10 14v-14l10 17v-16l10 14v-14l10 16v-15l10 13v-13l10 12v-11l10 16v-23l10 22v-20l10 17v-19l10 17v-15l10 21v-22l10 15v-9l10 13v-15l10 16v-16l10 12v-13l10 21v-23l10 33v-48l10 42v-31l10 22v-21l10 24v-23l10 28v-24l10 17v-20l10 24v-25l10 24v-24l10 23v-24l10 20v-20l10 19v-15l10 18v-15l10 13v-12l10 15v-18l10 19v-16l10 14v-15l10 13v-14l10 14v-11l10 9v-10l10 13v-12l10 12v-16l10 14v-11l10 12v-14l10 13v-12l10 11v-10l10 11v-17l10 17v-13l10 12v-16l10 21v-19l10 22v-23l10 17v-18l10 17v-19l10 23v-16l10 15v-17l10 19v-17l10 14v-13l10 12v-12l10 14v-14l10 11v-11l10 11v-18l10 20v-15l10 15v-14l10 11v-12l10 15v-17l10 18v-21l10 23v-19l10 15v-13l10 11v-14l10 17v-19l10 20v-20l10 20v-15l10 12v-15l10 19v-16l10 12v-12l10 12v-16l10 14v-11l10 12v-16l10 18v-17l10 16v-12l10 11v-10l10 14v-18l10 15v-17l10 15v-9l10 13v-15l10 11v-11l10 14v-15l10 13v-11l10 16v-16l10 17v-19l10 18v-20l10 17v-15l10 23v-32l10 27v-20l10 22v-18l10 12v-17l10 20v-21l10 19v-13l10 14v-22l10 27v-20l10 19v-22l10 18v-18l10 17v-13l10 16v-20l10 21v-22l10 23v-19l10 17v-16l10 19v-21l10 21v-21l10 13v-15l10 19v-17l10 18v-16l10 11v-14l10 16v-13l10 18v-17l10 11v-14l10 20v-21l10 20v-18l10 12v-12l10 12v-10"/><use href="#t33" transform="translate(5,0) scale(1,-.85)"/><path d="M160 18v-37M490 29v-59l10 47v-34M700 23v-42M860 13v-27M2550 22v-46M2930 19v-39M3220 24v-42M3530 11v-23l10 52v-78l10 71v-68l10 49v-29M3640 34v-64l10 45v-31M3860 15v-31M5670 14v-29M6070 12v-27l10 61v-90l10 68v-50M6140 16v-35M6780 15v-30"/></g>
<g stroke="#f00" transform="translate(111.5,458.34) scale(0.1)"><path id="t34" d="M0 8v-14l10 16v-20l10 17v-14l10 19v-17l10 12v-14l10 16v-15l10 17v-22l10 17v-14l10 14v-14l10 13v-12l10 12v-12l10 12v-11l10 14v-19l10 24v-24l10 19v-18l10 24v-28l10 28v-22l10 16v-20l10 25v-20l10 16v-18l10 14v-11l10 19v-24l10 20v-14l10 13v-15l10 15v-13l10 9v-8l10 9v-14l10 14v-15l10 22v-25l10 26v-22l10 14v-17l10 19v-11l10 11v-12l10 13v-16l10 14v-20l10 27v-28l10 30v-24l10 22v-24l10 18v-20l10 24v-22l10 18v-18l10 20v-15l10 15v-16l10 13v-14l10 18v-20l10 22v-24l10 27v-27l10 18v-15l10 15v-20l10 20v-12l10 14v-18l10 23v-24l10 23v-18l10 12v-16l10 21v-20l10 16v-18l10 17v-16l10 17v-13l10 20v-26l10 23v-22l10 23v-22l10 24v-27l10 19v-19l10 24v-20l10 18v-19l10 21v-18l10 16v-14l10 16v-18l10 12v-12l10 14v-17l10 18v-15l10 12v-18l10 18v-17l10 19v-12l10 10v-12l10 19v-20l10 23v-26l10 21v-16l10 17v-24l10 20v-13l10 12v-15l10 15v-18l10 18v-12l10 12v-20l10 19v-15l10 19v-19l10 18v-16l10 18v-19l10 20v-16l10 15v-26l10 38v-42l10 33v-31l10 27v-29l10 30v-19l10 16v-18l10 20v-23l10 23v-21l10 23v-18l10 13v-17l10 24v-26l10 21v-17l10 14v-15l10 25v-25l10 16v-11l10 16v-17l10 13v-14l10 16v-14l10 16v-16l10 14v-20l10 19v-15l10 17v-17l10 14v-14l10 14v-13l10 16v-16l10 15v-17l10 22v-21l10 20v-21l10 14v-16l10 16v-11l10 10v-17l10 18v-18l10 21v-14l10 15v-22l10 20v-14l10 10v-8l10 11v-16l10 18v-15l10 17v-17l10 12v-16l10 17v-12l10 13v-14l10 16v-17l10 19v-23l10 24v-23l10 21v-23l10 25v-20l10 18v-17l10 15v-20l10 17v-14l10 13v-14l10 16v-20l10 20v-18l10 16v-11l10 13v-14l10 21v-24l10 16v-13l10 19v-22l10 20v-19l10 18v-17l10 17v-13l10 13v-17l10 13v-18l10 21v-16l10 19v-20l10 17v-16l10 19v-23l10 18v-20l10 26v-20l10 15v-16l10 17v-16l10 14v-15l10 17v-18l10 19v-23l10 21v-14l10 14v-12l10 15v-19l10 15v-14l10 16v-16l10 14v-17l10 25v-22l10 16v-19l10 20v-15l10 13v-12l10 18v-18l10 16v-24l10 22v-15l10 19v-20l10 12v-13l10 19v-21l10 19v-14l10 15v-15l10 11v-19l10 19v-15l10 16v-18l10 16v-12l10 11v-13l10 15v-16l10 22v-23l10 16v-12l10 11v-11l10 12v-14l10 22v-20l10 18v-18l10 20v-19l10 18v-18l10 12v-18l10 26v-25l10 18v-12l10 10v-12l10 13v-11l10 14v-16l10 19v-24l10 22v-18l10 14v-18l10 24v-18l10 14v-19l10 17v-17l10 23v-21l10 22v-26l10 18v-17l10 18v-11l10 12v-15l10 19v-23l10 21v-21l10 18v-15l10 14v-13l10 15v-18l10 16v-16l10 21v-19l10 14v-13l10 16v-17l10 21v-18l10 16v-21l10 19v-14l10 19v-23l10 18v-14l10 15v-15l10 13v-13l10 13v-18l10 17v-17l10 17v-15l10 14v-16l10 22v-21l10 15v-13l10 14v-18l10 22v-16l10 12v-11l10 16v-19l10 19v-23l10 23v-20l10 14v-10l10 11v-18l10 25v-25l10 17v-14l10 18v-17l10 19v-21l10 15v-11l10 15v-22l10 21v-14l10 17v-22l10 20v-19l10 21v-18l10 16v-14l10 11v-16l10 18v-20l10 17v-16l10 16v-9l10 16v-25l10 22v-15l10 12v-15l10 16v-15l10 14v-18l10 20v-14l10 19v-26l10 19v-18l10 18v-13l10 13v-11l10 14v-15l10 15v-18l10 21v-18l10 13v-15l10 17v-14l10 15v-16l10 11v-10l10 17v-22l10 26v-32l10 23v-14l10 17v-17l10 18v-16l10 10v-16l10 17v-12l10 11v-13l10 21v-19l10 12v-14l10 15v-13l10 19v-24l10 22v-25l10 22v-12l10 11v-13l10 12v-13l10 12v-10l10 10v-16l10 20v-15l10 13v-16l10 16v-12l10 12v-15l10 18v-18l10 15v-18l10 17v-15l10 15v-19l10 19v-12l10 15v-15l10 14v-13l10 12v-14l10 15v-19l10 20v-16l10 13v-12l10 16v-15l10 16v-24l10 25v-19l10 16v-15l10 21v-30l10 26v-20l10 21v-22l10 20v-16l10 11v-12l10 13v-17l10 17v-16l10 14v-10l10 10v-14l10 14v-10l10 15v-14l10 16v-22l10 21v-15l10 17v-17l10 15v-16l10 16v-18l10 15v-16l10 15v-13l10 15v-16l10 16v-18l10 16v-15l10 15v-11l10 12v-13l10 11v-14l10 16v-18l10 23v-26l10 20v-14l10 16v-18l10 18v-16l10 14v-11l10 15v-16l10 11v-16l10 21v-18l10 14v-17l10 20v-16l10 18v-16l10 13v-18l10 16v-18l10 24v-22l10 18v-16l10 17v-17l10 13v-11l10 16v-21l10 21v-21l10 24v-23l10 20v-18l10 23v-26l10 21v-18l10 20v-23l10 24v-24l10 24v-25l10 22v-21l10 24v-18l10 16v-17l10 12v-17l10 20v-15l10 13v-16l10 20v-25l10 19v-19l10 28v-24l10 19v-16l10 21v-23l10 20v-20l10 18v-15l10 13v-21l10 22v-18l10 16v-13l10 20v-19l10 19v-23l10 21v-17l10 12v-17l10 19v-20l10 18v-16l10 21v-26l10 27v-28l10 28v-26l10 25v-20l10 20v-18l10 22v-26l10 21v-18l10 26v-32l10 23v-21l10 25v-23l10 27v-27l10 25v-29l10 27v-24l10 26v-26l10 22v-17l10 11v-14l10 19v-16l10 19v-26l10 24v-21l10 17v-17l10 17v-14l10 20v-25l10 23v-22l10 16v-14l10 21v-20l10 13v-16l10 16v-14l10 18v-15l10 11v-14l10 20v-17l10 14v-14l10 12v-14l10 15v-13l10 18v-18l10 16v-18l10 15v-17l10 20v-20l10 21v-17l10 17v-20l10 17v-13l10 13v-17l10 16v-16l10 14v-12l10 16v-21l10 18v-11l10 11v-13l10 18v-16l10 12v-13l10 11v-10l10 11v-16l10 16v-18l10 20v-19l10 19v-16l10 17v-16l10 18v-18l10 21v-21l10 17v-17l10 14v-15l10 14v-16l10 16v-15l10 14v-16l10 23v-20l10 18v-17l10 15v-15l10 13v-15l10 20v-23l10 18v-14l10 14v-13l10 16v-21l10 19v-13l10 16v-23l10 24v-19l10 15v-14l10 21v-21l10 20v-22l10 20v-19l10 20v-17l10 11v-12l10 12v-14l10 17v-23l10 20v-18l10 20v-14l10 16v-18l10 21v-22l10 19v-20l10 18v-14l10 17v-19l10 17v-16l10 21v-20l10 18v-21l10 15v-16l10 20v-16l10 18v-17l10 16v-18l10 13v-11l10 15v-22l10 23v-23l10 27v-28l10 23v-21l10 23v-26l10 19v-10l10 17v-17l10 15v-19l10 26v-28l10 27v-28l10 22v-20l10 18v-19l10 21v-23l10 21v-22l10 20v-14l10 17v-18l10 20v-18l10 15v-15l10 14v-12l10 11v-14l10 16v-18l10 14v-8l10 11v-12l10 12v-12l10 16v-16l10 12v-14l10 19v-18l10 20v-27l10 22v-22l10 21v-19l10 17v-13l10 13v-12l10 18v-24l10 19v-18l10 17v-11l10 10v-15l10 20v-15l10 15v-17l10 13v-12l10 15v-16l10 12v-16l10 16v-12l10 15v-18l10 17v-17l10 17v-15l10 18v-27l10 26v-20l10 17v-15l10 24v-23l10 23v-21l10 11v-17l10 18v-18l10 18v-12l10 13v-12l10 11v-16l10 19v-16l10 18v-19l10 20v-19l10 14v-18l10 17v-15l10 15v-12l10 15v-20l10 23v-21l10 20v-18l10 13v-14l10 13v-12l10 13v-14l10 18v-17l10 13v-18l10 21v-18l10 17v-14l10 12v-20l10 20v-20l10 19v-12l10 15v-14l10 16v-23l10 21v-14l10 12v-17l10 18v-17l10 17v-16l10 23v-26l10 19v-17l10 19v-17l10 13v-13l10 19v-20l10 16v-13l10 15v-20l10 19v-13l10 18v-25l10 22v-21l10 21v-15l10 12v-18l10 21v-16l10 18v-18l10 20v-25l10 21v-22l10 25v-18l10 13v-14l10 12v-16l10 17v-15l10 13v-13l10 14v-13l10 13v-17l10 21v-14l10 14v-20l10 20v-19l10 18v-20l10 21v-16l10 13v-13l10 16v-23l10 20v-19l10 23v-19l10 14v-12l10 16v-18l10 15v-17l10 16v-18l10 20v-20l10 22v-23l10 21v-17l10 14v-16l10 16v-10l10 14v-23l10 24v-24l10 26v-24l10 21v-17l10 19v-19l10 17v-16l10 17v-17l10 14v-14l10 13v-13l10 15v-18l10 15v-17l10 21v-16l10 12v-13l10 19v-17l10 11v-10l10 13v-17l10 13v-8l10 10v-13l10 15v-16l10 15v-17l10 20v-15l10 10v-11l10 18v-23l10 19v-19l10 19v-20l10 19v-14l10 13v-18l10 24v-24l10 25v-25l10 20v-20l10 17v-11l10 10v-10l10 11v-9l10 10v-11l10 11v-13l10 17v-18l10 18v-16l10 11v-17l10 23v-20l10 20v-21l10 19v-16l10 15v-17l10 20v-16l10 13v-17l10 17v-14l10 15v-14l10 17v-17l10 14v-18l10 23v-25l10 28v-30l10 26v-31l10 25v-18l10 21v-22l10 25v-30l10 29v-31l10 34v-31l10 30v-31l10 33v-26l10 28v-34l10 29v-25l10 30v-33l10 24v-21l10 22v-16l10 15v-18l10 18v-22l10 24v-24l10 20v-19l10 18v-14l10 13v-18l10 19v-16l10 16v-17l10 17v-16l10 21v-21l10 16v-14l10 18v-18l10 17v-15l10 17v-20l10 19v-18l10 15v-23l10 21v-11l10 18v-17l10 14v-17l10 23v-26l10 21v-24l10 23v-19l10 16v-12l10 15v-16l10 14v-16l10 15v-13l10 17v-21l10 22v-18l10 13v-14l10 15v-16l10 16v-13l10 17v-22l10 18v-13l10 16v-16l10 16v-21l10 24v-21l10 13v-13l10 15v-18l10 18v-17l10 21v-16l10 10v-11l10 11v-10l10 10v-10l10 10v-16"/><use href="#t34" transform="translate(5,0) scale(1,-.85)"/><path d="M340 17v-32M900 35v-66l10 54v-45M2010 13v-28M2750 15v-30M3840 17v-33M3900 20v-38M3960 17v-32M4810 19v-41M4870 19v-38M5880 16v-33M6480 36v-70l10 48v-28M6540 22v-42M6590 31v-65"/></g>
<g stroke="#00f" transform="translate(111.5,470.51) scale(0.1)"><path id="t35" d="M0 7v-15l10 16v-14l10 11v-13l10 19v-22l10 24v-20l10 16v-15l10 11v-11l10 11v-13l10 15v-15l10 14v-20l10 23v-16l10 18v-19l10 16v-19l10 23v-19l10 18v-20l10 17v-19l10 23v-18l10 14v-14l10 13v-21l10 28v-28l10 21v-18l10 19v-21l10 23v-18l10 14v-18l10 20v-18l10 18v-15l10 13v-16l10 17v-15l10 13v-16l10 17v-11l10 12v-15l10 18v-21l10 18v-15l10 16v-15l10 14v-15l10 15v-16l10 15v-17l10 21v-18l10 13v-16l10 17v-14l10 15v-18l10 23v-21l10 17v-14l10 18v-24l10 22v-19l10 15v-18l10 21v-15l10 16v-19l10 17v-16l10 13v-15l10 20v-17l10 15v-17l10 20v-23l10 18v-11l10 13v-18l10 17v-12l10 13v-15l10 17v-21l10 22v-23l10 22v-19l10 20v-18l10 16v-15l10 11v-14l10 14v-12l10 13v-14l10 15v-20l10 19v-16l10 21v-24l10 25v-18l10 18v-17l10 19v-22l10 21v-22l10 16v-21l10 22v-21l10 24v-21l10 20v-19l10 22v-20l10 16v-19l10 18v-16l10 15v-20l10 27v-22l10 15v-14l10 16v-21l10 18v-13l10 15v-14l10 12v-13l10 17v-21l10 16v-13l10 19v-17l10 12v-17l10 16v-11l10 19v-24l10 18v-17l10 17v-15l10 21v-19l10 12v-14l10 19v-19l10 14v-12l10 12v-14l10 19v-20l10 16v-12l10 10v-17l10 19v-13l10 14v-14l10 17v-17l10 17v-19l10 20v-20l10 13v-11l10 14v-17l10 14v-15l10 18v-19l10 17v-15l10 18v-18l10 14v-10l10 10v-10l10 14v-22l10 22v-16l10 14v-13l10 15v-15l10 11v-18l10 19v-13l10 12v-17l10 17v-12l10 12v-15l10 19v-19l10 15v-10l10 15v-19l10 16v-16l10 15v-13l10 18v-16l10 17v-21l10 20v-18l10 18v-18l10 14v-17l10 23v-21l10 20v-21l10 17v-16l10 15v-14l10 16v-14l10 10v-16l10 16v-10l10 14v-18l10 16v-14l10 14v-16l10 20v-23l10 17v-15l10 20v-21l10 18v-14l10 12v-14l10 15v-17l10 21v-21l10 23v-18l10 14v-14l10 14v-20l10 22v-21l10 21v-19l10 28v-42l10 42v-32l10 26v-29l10 31v-31l10 24v-20l10 26v-29l10 27v-24l10 27v-30l10 28v-29l10 36v-36l10 33v-35l10 35v-30l10 25v-29l10 37v-32l10 28v-35l10 38v-31l10 30v-29l10 21v-19l10 24v-28l10 25v-27l10 30v-28l10 28v-27l10 21v-18l10 27v-36l10 27v-24l10 23v-19l10 17v-18l10 20v-14l10 18v-19l10 18v-20l10 19v-22l10 19v-17l10 19v-20l10 18v-14l10 12v-17l10 22v-21l10 16v-10l10 10v-16l10 24v-19l10 12v-19l10 19v-14l10 22v-21l10 18v-17l10 13v-21l10 21v-16l10 18v-19l10 22v-22l10 20v-22l10 20v-21l10 24v-21l10 16v-14l10 14v-16l10 14v-9l10 13v-15l10 18v-16l10 12v-12l10 15v-17l10 15v-16l10 14v-12l10 18v-21l10 15v-13l10 13v-15l10 14v-10l10 10v-13l10 18v-16l10 12v-14l10 17v-16l10 21v-21l10 20v-26l10 19v-11l10 16v-21l10 28v-32l10 30v-33l10 30v-24l10 18v-14l10 19v-19l10 12v-16l10 19v-14l10 18v-18l10 17v-24l10 19v-14l10 17v-21l10 23v-16l10 16v-22l10 20v-19l10 15v-14l10 19v-20l10 17v-15l10 16v-14l10 17v-21l10 16v-15l10 14v-16l10 22v-18l10 12v-11l10 13v-16l10 16v-14l10 13v-13l10 14v-13l10 17v-22l10 18v-14l10 15v-15l10 15v-15l10 12v-11l10 20v-20l10 23v-24l10 13v-21l10 22v-13l10 16v-15l10 17v-21l10 20v-23l10 19v-16l10 22v-25l10 24v-23l10 24v-22l10 15v-17l10 22v-17l10 15v-16l10 12v-12l10 14v-20l10 23v-20l10 24v-21l10 16v-17l10 19v-23l10 24v-20l10 19v-23l10 20v-14l10 18v-18l10 16v-17l10 13v-18l10 17v-11l10 16v-21l10 23v-21l10 17v-13l10 13v-14l10 12v-19l10 24v-23l10 18v-18l10 21v-15l10 16v-16l10 12v-19l10 20v-20l10 21v-19l10 19v-14l10 12v-12l10 12v-16l10 23v-20l10 17v-19l10 19v-21l10 23v-18l10 17v-19l10 18v-22l10 21v-15l10 15v-17l10 14v-15l10 15v-15l10 14v-10l10 10v-12l10 14v-18l10 18v-17l10 18v-14l10 17v-21l10 21v-19l10 18v-22l10 25v-22l10 15v-12l10 16v-18l10 12v-8l10 13v-20l10 16v-11l10 17v-22l10 17v-14l10 19v-22l10 20v-18l10 21v-20l10 15v-16l10 17v-12l10 12v-16l10 15v-18l10 17v-11l10 19v-25l10 27v-32l10 33v-31l10 29v-31l10 30v-24l10 19v-20l10 20v-20l10 21v-26l10 29v-27l10 22v-16l10 16v-13l10 11v-17l10 18v-14l10 12v-15l10 18v-17l10 21v-21l10 18v-16l10 14v-14l10 19v-19l10 17v-18l10 15v-16l10 16v-15l10 20v-24l10 22v-20l10 25v-41l10 37v-30l10 31v-23l10 22v-21l10 16v-16l10 16v-15l10 17v-16l10 20v-19l10 13v-18l10 21v-23l10 20v-13l10 16v-24l10 23v-20l10 20v-18l10 18v-15l10 14v-21l10 20v-14l10 21v-24l10 22v-19l10 14v-14l10 20v-23l10 17v-13l10 19v-23l10 21v-16l10 19v-21l10 15v-17l10 15v-15l10 16v-15l10 15v-12l10 17v-22l10 20v-16l10 14v-14l10 12v-11l10 15v-19l10 21v-23l10 22v-20l10 16v-19l10 19v-13l10 20v-22l10 18v-16l10 15v-18l10 17v-17l10 20v-15l10 11v-13l10 16v-18l10 20v-19l10 19v-21l10 19v-15l10 14v-17l10 20v-24l10 22v-18l10 14v-13l10 16v-19l10 19v-19l10 18v-13l10 15v-21l10 20v-13l10 15v-20l10 15v-16l10 17v-11l10 10v-12l10 14v-18l10 24v-18l10 18v-26l10 18v-13l10 18v-15l10 18v-26l10 22v-21l10 24v-20l10 16v-15l10 14v-16l10 19v-14l10 12v-16l10 19v-16l10 10v-16l10 20v-19l10 20v-18l10 14v-12l10 19v-19l10 19v-27l10 22v-17l10 15v-19l10 19v-12l10 13v-15l10 15v-20l10 20v-13l10 16v-20l10 20v-20l10 16v-19l10 20v-14l10 14v-14l10 17v-16l10 12v-15l10 16v-16l10 20v-22l10 24v-27l10 26v-17l10 18v-19l10 13v-17l10 22v-18l10 13v-14l10 18v-17l10 14v-15l10 17v-24l10 24v-20l10 19v-18l10 22v-33l10 30v-20l10 26v-30l10 26v-25l10 25v-22l10 32v-41l10 26v-16l10 19v-18l10 21v-23l10 22v-23l10 23v-27l10 27v-30l10 28v-19l10 21v-24l10 25v-22l10 16v-13l10 19v-25l10 21v-24l10 30v-27l10 25v-22l10 20v-23l10 21v-22l10 23v-19l10 21v-18l10 11v-11l10 15v-19l10 16v-15l10 15v-17l10 19v-17l10 19v-16l10 16v-17l10 17v-22l10 24v-18l10 19v-27l10 27v-20l10 22v-26l10 18v-19l10 21v-19l10 16v-14l10 14v-11l10 18v-23l10 15v-13l10 21v-22l10 17v-17l10 16v-17l10 21v-21l10 19v-16l10 19v-17l10 16v-20l10 15v-12l10 16v-18l10 20v-18l10 13v-15l10 15v-15l10 14v-14l10 18v-23l10 19v-15l10 22v-19l10 13v-15l10 18v-19l10 15v-14l10 13v-13l10 13v-17l10 18v-11l10 11v-16l10 15v-13l10 16v-18l10 20v-22l10 19v-21l10 26v-23l10 21v-20l10 23v-21l10 14v-12l10 14v-19l10 26v-25l10 21v-25l10 26v-18l10 15v-22l10 26v-20l10 12v-10l10 15v-20l10 21v-20l10 17v-17l10 15v-18l10 17v-16l10 20v-18l10 17v-16l10 18v-20l10 20v-16l10 11v-12l10 16v-18l10 19v-20l10 17v-19l10 22v-16l10 18v-19l10 14v-18l10 17v-17l10 20v-20l10 23v-18l10 12v-14l10 18v-22l10 18v-13l10 21v-20l10 19v-23l10 19v-20l10 22v-19l10 16v-19l10 19v-18l10 18v-15l10 19v-17l10 10v-12l10 19v-20l10 15v-14l10 12v-14l10 17v-20l10 22v-21l10 19v-21l10 22v-23l10 26v-19l10 16v-21l10 18v-12l10 13v-13l10 16v-15l10 11v-11l10 10v-16l10 16v-9l10 13v-15l10 13v-13l10 12v-13l10 20v-21l10 14v-20l10 26v-22l10 23v-20l10 16v-15l10 16v-19l10 20v-21l10 20v-21l10 17v-16l10 16v-12l10 17v-19l10 19v-21l10 15v-10l10 11v-14l10 14v-19l10 26v-27l10 21v-12l10 12v-14l10 13v-14l10 14v-19l10 21v-20l10 17v-17l10 27v-26l10 20v-15l10 11v-10l10 19v-20l10 18v-23l10 25v-22l10 20v-18l10 16v-16l10 11v-16l10 17v-18l10 20v-14l10 12v-15l10 13v-8l10 12v-19l10 21v-14l10 13v-19l10 16v-10l10 10v-14l10 16v-12l10 13v-14l10 15v-21l10 16v-13l10 20v-25l10 20v-16l10 18v-18l10 17v-15l10 20v-23l10 17v-13l10 17v-16l10 11v-13l10 18v-20l10 19v-15l10 10v-15l10 16v-14l10 22v-19l10 18v-20l10 13v-13l10 13v-14l10 14v-14l10 13v-16l10 15v-11l10 16v-16l10 12v-15l10 15v-14l10 19v-15l10 16v-21l10 15v-10l10 11v-11l10 11v-16l10 19v-15l10 11v-15l10 23v-20l10 15v-20l10 27v-28l10 25v-26l10 21v-18l10 24v-24l10 19v-13l10 11v-13l10 18v-25l10 19v-14l10 15v-17l10 16v-12l10 15v-17l10 15v-11l10 14v-17l10 14v-16l10 15v-15l10 15v-11l10 12v-16l10 17v-18l10 16v-17l10 21v-14l10 12v-16l10 15v-11l10 17v-23l10 19v-16l10 14v-11l10 11v-16l10 19v-17l10 17v-14l10 13v-19l10 18v-19l10 19v-13l10 14v-16l10 16v-13l10 15v-16l10 15v-17l10 13v-12l10 18v-19l10 19v-24"/><use href="#t35" transform="translate(5,0) scale(1,-.85)"/><path d="M190 15v-30M1560 24v-45l10 36v-28M1630 13v-28M1680 21v-42M1730 15v-32M1780 19v-38M2270 27v-53M2430 11v-25M2660 24v-43M2750 19v-36M3360 19v-42M3420 18v-33M3580 36v-70l10 57v-42M4030 17v-35M4640 21v-44M4690 39v-74l10 54v-35M4750 17v-37l10 35v-28M4810 20v-40M5000 19v-36M5390 13v-28M5690 19v-42M5810 14v-26"/></g>
<g stroke="#f00" transform="translate(111.5,482.68) scale(0.1)"><path id="t36" d="M0 9v-17l10 14v-11l10 15v-20l10 19v-16l10 15v-16l10 12v-10l10 12v-16l10 17v-17l10 19v-20l10 24v-19l10 17v-18l10 15v-19l10 18v-19l10 24v-24l10 19v-19l10 19v-12l10 10v-9l10 9v-13l10 13v-10l10 14v-18l10 17v-20l10 25v-22l10 27v-34l10 34v-31l10 28v-29l10 21v-16l10 20v-24l10 20v-13l10 17v-18l10 12v-12l10 19v-22l10 18v-14l10 11v-17l10 18v-10l10 10v-13l10 14v-14l10 13v-10l10 12v-19l10 19v-14l10 15v-14l10 12v-15l10 17v-19l10 17v-13l10 16v-19l10 18v-15l10 12v-11l10 13v-13l10 11v-12l10 16v-22l10 21v-14l10 11v-10l10 8v-13l10 15v-13l10 14v-15l10 19v-15l10 15v-19l10 17v-15l10 11v-12l10 17v-16l10 15v-16l10 13v-10l10 9v-13l10 13v-14l10 18v-17l10 14v-15l10 19v-14l10 14v-14l10 10v-13l10 16v-14l10 11v-15l10 18v-16l10 14v-17l10 20v-15l10 14v-18l10 14v-10l10 12v-17l10 17v-13l10 14v-13l10 12v-13l10 10v-12l10 16v-17l10 17v-14l10 13v-14l10 13v-11l10 9v-12l10 16v-12l10 8v-9l10 12v-11l10 8v-9l10 14v-14l10 14v-18l10 16v-12l10 11v-14l10 19v-18l10 11v-9l10 12v-17l10 17v-11l10 14v-19l10 18v-20l10 21v-14l10 9v-10l10 12v-14l10 15v-16l10 15v-16l10 18v-18l10 16v-15l10 18v-17l10 13v-11l10 13v-16l10 12v-12l10 15v-13l10 15v-14l10 15v-19l10 15v-15l10 15v-14l10 13v-12l10 12v-11l10 16v-16l10 12v-11l10 9v-10l10 15v-18l10 18v-14l10 10v-13l10 12v-9l10 10v-12l10 17v-16l10 16v-17l10 11v-12l10 18v-20l10 20v-16l10 13v-15l10 13v-15l10 19v-15l10 14v-13l10 15v-16l10 14v-18l10 16v-16l10 19v-13l10 11v-11l10 13v-14l10 14v-14l10 12v-11l10 14v-15l10 14v-18l10 17v-18l10 17v-11l10 9v-16l10 15v-8l10 8v-11l10 13v-13l10 12v-13l10 16v-16l10 16v-16l10 13v-15l10 14v-9l10 14v-14l10 16v-19l10 13v-15l10 15v-10l10 11v-15l10 20v-16l10 12v-11l10 8v-14l10 16v-11l10 14v-20l10 23v-18l10 13v-11l10 9v-15l10 16v-17l10 18v-15l10 14v-17l10 16v-10l10 15v-18l10 16v-17l10 14v-11l10 11v-13l10 12v-10l10 10v-8l10 8v-10l10 16v-14l10 11v-12l10 11v-11l10 14v-19l10 19v-16l10 17v-18l10 13v-10l10 12v-15l10 14v-14l10 17v-15l10 11v-14l10 17v-19l10 16v-13l10 13v-13l10 17v-14l10 10v-9l10 12v-15l10 11v-9l10 12v-11l10 8v-8l10 13v-18l10 14v-15l10 18v-14l10 12v-11l10 13v-12l10 10v-16l10 18v-17l10 14v-9l10 9v-14l10 17v-16l10 16v-14l10 14v-13l10 11v-11l10 12v-18l10 17v-13l10 13v-17l10 20v-20l10 18v-18l10 16v-14l10 18v-14l10 11v-18l10 18v-11l10 11v-14l10 18v-18l10 18v-22l10 25v-24l10 18v-15l10 19v-24l10 25v-21l10 13v-8l10 9v-12l10 16v-15l10 11v-9l10 13v-14l10 9v-8l10 14v-16l10 14v-12l10 8v-13l10 14v-9l10 10v-12l10 10v-11l10 20v-21l10 32v-38l10 27v-28l10 27v-29l10 30v-29l10 28v-20l10 15v-19l10 20v-17l10 16v-16l10 14v-13l10 17v-17l10 17v-20l10 16v-14l10 14v-10l10 11v-12l10 15v-15l10 12v-16l10 16v-14l10 13v-10l10 15v-18l10 13v-15l10 14v-14l10 19v-13l10 9v-11l10 10v-12l10 13v-15l10 15v-14l10 16v-13l10 11v-11l10 14v-12l10 9v-15l10 19v-20l10 20v-14l10 12v-14l10 12v-14l10 17v-15l10 16v-19l10 14v-15l10 15v-10l10 11v-11l10 13v-11l10 11v-15l10 15v-14l10 13v-10l10 8v-9l10 14v-14l10 13v-18l10 21v-20l10 14v-11l10 16v-15l10 10v-13l10 16v-12l10 14v-19l10 21v-24l10 18v-17l10 23v-27l10 24v-18l10 16v-18l10 18v-14l10 18v-19l10 22v-23l10 17v-15l10 13v-15l10 15v-11l10 9v-10l10 15v-17l10 17v-18l10 14v-11l10 11v-12l10 15v-15l10 12v-10l10 12v-14l10 16v-15l10 10v-8l10 8v-9l10 13v-15l10 12v-10l10 12v-18l10 20v-16l10 16v-14l10 9v-13l10 14v-16l10 19v-14l10 10v-8l10 10v-14l10 18v-17l10 13v-16l10 23v-22l10 18v-19l10 15v-9l10 8v-11l10 12v-10l10 13v-16l10 18v-20l10 21v-18l10 12v-12l10 12v-16l10 18v-19l10 17v-10l10 11v-11l10 10v-14l10 13v-10l10 16v-18l10 19v-20l10 16v-16l10 16v-16l10 21v-23l10 20v-16l10 15v-13l10 9v-11l10 17v-14l10 11v-10l10 10v-11l10 12v-15l10 14v-11l10 8v-9l10 10v-9l10 13v-16l10 12v-14l10 14v-11l10 11v-12l10 12v-11l10 11v-11l10 10v-8l10 9v-16l10 16v-14l10 15v-11l10 11v-12l10 11v-9l10 8v-8l10 8v-15l10 16v-12l10 18v-18l10 12v-11l10 10v-9l10 14v-14l10 12v-15l10 16v-15l10 15v-13l10 15v-17l10 16v-20l10 19v-12l10 10v-11l10 13v-13l10 13v-16l10 16v-15l10 11v-13l10 14v-9l10 9v-14l10 13v-14l10 19v-16l10 12v-9l10 8v-13l10 16v-15l10 16v-15l10 15v-12l10 13v-18l10 16v-12l10 13v-19l10 16v-14l10 15v-11l10 17v-23l10 18v-13l10 15v-19l10 16v-16l10 22v-20l10 16v-19l10 20v-20l10 20v-20l10 19v-18l10 19v-21l10 24v-17l10 15v-20l10 19v-17l10 13v-15l10 20v-20l10 20v-20l10 17v-17l10 19v-17l10 21v-24l10 19v-14l10 13v-12l10 14v-13l10 12v-14l10 15v-18l10 19v-17l10 14v-15l10 15v-12l10 12v-14l10 14v-16l10 18v-13l10 12v-15l10 12v-10l10 13v-14l10 13v-17l10 18v-18l10 21v-18l10 13v-10l10 9v-13l10 14v-13l10 16v-13l10 9v-15l10 19v-15l10 14v-13l10 14v-17l10 18v-19l10 15v-14l10 14v-12l10 14v-13l10 10v-11l10 12v-11l10 15v-15l10 11v-15l10 15v-10l10 10v-16l10 18v-14l10 14v-16l10 13v-10l10 10v-10l10 13v-18l10 15v-12l10 17v-20l10 17v-13l10 10v-8l10 9v-15l10 18v-13l10 11v-13l10 15v-18l10 20v-17l10 11v-8l10 13v-14l10 9v-11l10 15v-12l10 9v-9l10 8v-10l10 12v-14l10 17v-17l10 17v-19l10 14v-9l10 14v-18l10 13v-11l10 15v-17l10 18v-15l10 13v-13l10 11v-13l10 17v-13l10 8v-13l10 16v-15l10 13v-12l10 14v-13l10 10v-9l10 9v-10l10 14v-12l10 10v-13l10 11v-10l10 14v-16l10 13v-9l10 10v-13l10 14v-12l10 14v-13l10 14v-15l10 12v-13l10 10v-10l10 11v-11l10 15v-15l10 11v-10l10 19v-28l10 26v-20l10 35v-51l10 36v-21l10 20v-24l10 26v-20l10 17v-21l10 20v-24l10 23v-17l10 19v-18l10 14v-10l10 12v-15l10 11v-10l10 16v-16l10 13v-13l10 12v-11l10 9v-14l10 15v-14l10 15v-16l10 16v-11l10 13v-18l10 16v-11l10 11v-15l10 13v-10l10 14v-17l10 16v-12l10 9v-14l10 18v-13l10 8v-6l10 6v-8l10 11v-11l10 12v-11l10 8v-12l10 12v-8l10 8v-8l10 13v-16l10 15v-17l10 18v-13l10 11v-16l10 14v-14l10 17v-13l10 15v-15l10 11v-15l10 15v-16l10 16v-13l10 16v-18l10 17v-16l10 13v-10l10 13v-20l10 17v-11l10 10v-9l10 12v-11l10 11v-14l10 12v-10l10 12v-16l10 16v-17l10 19v-14l10 10v-9l10 12v-17l10 18v-13l10 9v-14l10 20v-16l10 12v-15l10 14v-14l10 19v-21l10 18v-18l10 17v-13l10 15v-13l10 8v-9l10 9v-10l10 11v-11l10 11v-11l10 14v-16l10 13v-13l10 15v-13l10 17v-18l10 17v-20l10 19v-19l10 18v-15l10 13v-10l10 8v-8l10 14v-21l10 19v-15l10 18v-21l10 16v-15l10 18v-15l10 10v-14l10 17v-16l10 17v-17l10 19v-18l10 12v-11l10 15v-12l10 13v-16l10 12v-9l10 9v-11l10 16v-19l10 13v-9l10 15v-19l10 15v-13l10 14v-14l10 11v-15l10 16v-17l10 17v-14l10 15v-10l10 11v-15l10 16v-15l10 14v-12l10 10v-13l10 14v-15l10 13v-9l10 10v-15l10 17v-17l10 18v-17l10 18v-17l10 13v-11l10 14v-13l10 9v-11l10 13v-13l10 11v-14l10 15v-13l10 18v-17l10 16v-16l10 20v-24l10 27v-27l10 28v-30l10 23v-19l10 19v-18l10 21v-25l10 20v-20l10 19v-20l10 19v-21l10 24v-23l10 19v-16l10 20v-20l10 21v-21l10 20v-14l10 12v-16l10 13v-9l10 9v-12l10 14v-13l10 12v-15l10 17v-11l10 11v-12l10 13v-14l10 13v-13l10 14v-12l10 9v-17l10 24v-19l10 18v-24l10 22v-14l10 14v-13l10 11v-17l10 21v-18l10 12v-9l10 9v-12l10 18v-15l10 14v-14l10 10v-12l10 11v-10l10 15v-17l10 18v-22l10 16v-10l10 10v-10l10 10v-9l10 13v-16l10 15v-12l10 8v-14l10 16v-15l10 18v-20l10 15v-10l10 11v-12l10 16v-15l10 10v-9l10 13v-12l10 8v-9l10 11v-15l10 13v-10l10 14v-13l10 13v-12l10 15v-17l10 12v-10l10 12v-18l10 16v-18l10 18v-16l10 18v-14l10 16v-15l10 17v-24l10 18v-13l10 16v-17l10 18v-16l10 10v-9l10 9v-12l10 18v-19l10 16v-14l10 17v-21l10 15v-13l10 16v-11l10 8v-11l10 17v-15l10 16v-16l10 16v-15"/><use href="#t36" transform="translate(5,0) scale(1,-.85)"/><path d="M90 19v-35l10 27v-22M210 34v-64l10 48v-37M2400 11v-23l10 50v-72l10 55v-48M2950 17v-32M2990 22v-40M4240 19v-34M5060 14v-28l10 58v-85l10 64v-45M5130 19v-38M6290 18v-36l10 32v-26M6360 18v-34"/></g>
<g stroke="#00f" transform="translate(111.5,494.85) scale(0.1)"><path id="t37" d="M0 7v-12l10 13v-15l10 21v-22l10 19v-20l10 20v-20l10 16v-16l10 14v-11l10 10v-11l10 14v-15l10 14v-13l10 13v-14l10 13v-12l10 12v-10l10 11v-15l10 14v-10l10 10v-10l10 10v-13l10 15v-14l10 11v-14l10 15v-10l10 12v-14l10 11v-8l10 8v-8l10 9v-13l10 12v-10l10 16v-14l10 11v-13l10 15v-14l10 11v-10l10 9v-14l10 12v-6l10 10v-11l10 9v-11l10 16v-15l10 11v-16l10 17v-12l10 10v-10l10 9v-12l10 16v-17l10 14v-11l10 12v-11l10 13v-16l10 17v-13l10 15v-17l10 19v-24l10 19v-21l10 24v-20l10 15v-19l10 24v-18l10 13v-15l10 17v-16l10 12v-13l10 14v-16l10 19v-24l10 27v-26l10 27v-27l10 28v-21l10 22v-22l10 16v-16l10 16v-19l10 19v-19l10 21v-23l10 20v-20l10 20v-13l10 10v-12l10 13v-14l10 13v-12l10 12v-12l10 13v-10l10 10v-13l10 15v-11l10 10v-12l10 11v-12l10 11v-11l10 16v-15l10 14v-15l10 11v-8l10 10v-10l10 12v-12l10 13v-17l10 15v-12l10 10v-11l10 10v-15l10 15v-9l10 10v-12l10 12v-15l10 15v-10l10 11v-13l10 12v-13l10 19v-18l10 14v-14l10 17v-19l10 17v-20l10 23v-18l10 15v-17l10 22v-23l10 18v-18l10 16v-15l10 21v-23l10 15v-12l10 13v-12l10 17v-20l10 16v-11l10 9v-8l10 14v-16l10 17v-24l10 19v-19l10 24v-17l10 16v-14l10 9v-13l10 18v-21l10 18v-13l10 13v-14l10 12v-10l10 9v-11l10 12v-11l10 13v-14l10 17v-18l10 15v-16l10 15v-13l10 14v-17l10 18v-15l10 16v-14l10 13v-14l10 10v-14l10 16v-16l10 14v-12l10 15v-11l10 10v-15l10 13v-10l10 11v-10l10 12v-14l10 11v-10l10 11v-13l10 15v-19l10 18v-11l10 9v-13l10 14v-14l10 20v-21l10 18v-12l10 10v-14l10 13v-16l10 18v-11l10 11v-11l10 15v-21l10 21v-23l10 24v-20l10 14v-11l10 12v-16l10 16v-16l10 17v-17l10 16v-11l10 8v-9l10 13v-12l10 12v-16l10 19v-16l10 12v-12l10 13v-17l10 15v-13l10 14v-12l10 12v-11l10 12v-13l10 10v-13l10 13v-15l10 18v-12l10 9v-9l10 8v-11l10 13v-12l10 14v-15l10 12v-14l10 13v-12l10 17v-13l10 8v-8l10 12v-13l10 12v-14l10 11v-10l10 15v-19l10 16v-15l10 18v-14l10 12v-14l10 13v-17l10 20v-20l10 16v-12l10 14v-13l10 10v-9l10 13v-15l10 15v-13l10 12v-15l10 12v-8l10 10v-15l10 17v-13l10 14v-14l10 10v-11l10 15v-13l10 13v-17l10 18v-19l10 17v-17l10 19v-20l10 18v-12l10 9v-10l10 9v-9l10 13v-13l10 10v-10l10 9v-11l10 11v-10l10 14v-17l10 13v-13l10 14v-14l10 15v-13l10 12v-10l10 13v-15l10 16v-17l10 19v-22l10 16v-9l10 13v-14l10 9v-9l10 15v-15l10 14v-14l10 15v-15l10 14v-13l10 9v-12l10 17v-21l10 20v-13l10 9v-16l10 17v-16l10 17v-14l10 12v-10l10 13v-15l10 17v-19l10 14v-9l10 10v-18l10 18v-16l10 20v-17l10 13v-14l10 16v-14l10 11v-13l10 14v-14l10 16v-18l10 22v-21l10 14v-15l10 15v-16l10 19v-18l10 15v-12l10 15v-13l10 11v-15l10 14v-10l10 9v-12l10 16v-16l10 16v-18l10 15v-11l10 12v-18l10 19v-11l10 8v-8l10 11v-15l10 16v-14l10 13v-14l10 13v-16l10 21v-21l10 18v-13l10 10v-13l10 15v-17l10 17v-12l10 12v-15l10 12v-8l10 10v-11l10 10v-13l10 14v-11l10 16v-17l10 14v-17l10 18v-14l10 11v-13l10 17v-14l10 14v-20l10 17v-11l10 8v-11l10 16v-17l10 12v-12l10 12v-11l10 14v-15l10 13v-11l10 18v-22l10 18v-14l10 13v-12l10 17v-19l10 14v-13l10 11v-15l10 15v-11l10 13v-15l10 14v-12l10 10v-12l10 18v-15l10 10v-11l10 14v-15l10 18v-17l10 13v-15l10 17v-16l10 13v-12l10 11v-13l10 15v-18l10 18v-12l10 10v-10l10 9v-12l10 16v-14l10 11v-14l10 18v-15l10 13v-16l10 15v-11l10 14v-15l10 11v-13l10 17v-15l10 12v-12l10 10v-10l10 10v-13l10 14v-14l10 17v-13l10 12v-12l10 9v-10l10 12v-12l10 11v-9l10 12v-17l10 24v-24l10 20v-21l10 15v-11l10 15v-16l10 18v-20l10 20v-22l10 18v-19l10 26v-25l10 25v-24l10 21v-19l10 13v-12l10 12v-13l10 14v-10l10 10v-12l10 15v-15l10 12v-11l10 11v-11l10 10v-17l10 24v-21l10 13v-9l10 10v-9l10 9v-13l10 17v-13l10 9v-14l10 15v-12l10 14v-16l10 19v-21l10 15v-13l10 16v-14l10 12v-12l10 16v-16l10 17v-18l10 14v-18l10 20v-18l10 14v-14l10 15v-16l10 15v-14l10 18v-19l10 16v-10l10 8v-11l10 18v-18l10 15v-17l10 16v-15l10 15v-17l10 15v-12l10 14v-13l10 13v-15l10 18v-16l10 11v-10l10 13v-17l10 20v-20l10 13v-10l10 14v-20l10 16v-12l10 17v-17l10 17v-20l10 17v-12l10 12v-17l10 20v-20l10 18v-16l10 22v-27l10 22v-22l10 21v-17l10 15v-15l10 16v-11l10 10v-9l10 8v-9l10 10v-12l10 14v-12l10 10v-11l10 10v-11l10 11v-9l10 9v-10l10 14v-15l10 15v-18l10 20v-15l10 10v-11l10 16v-18l10 18v-17l10 17v-16l10 14v-15l10 16v-13l10 9v-12l10 18v-16l10 15v-19l10 15v-10l10 15v-16l10 11v-13l10 11v-9l10 10v-9l10 10v-12l10 11v-10l10 13v-17l10 13v-10l10 16v-19l10 19v-18l10 15v-19l10 18v-13l10 19v-21l10 19v-16l10 11v-11l10 11v-10l10 11v-16l10 20v-16l10 14v-14l10 16v-17l10 11v-9l10 15v-19l10 13v-10l10 12v-13l10 17v-19l10 16v-16l10 14v-9l10 13v-15l10 10v-10l10 13v-12l10 14v-20l10 17v-13l10 11v-9l10 10v-11l10 13v-12l10 10v-16l10 16v-16l10 20v-19l10 20v-17l10 15v-14l10 11v-11l10 10v-9l10 13v-13l10 13v-13l10 11v-12l10 17v-21l10 16v-15l10 14v-12l10 15v-21l10 18v-16l10 20v-14l10 13v-14l10 14v-12l10 12v-13l10 11v-14l10 16v-13l10 14v-15l10 13v-14l10 12v-10l10 10v-16l10 16v-17l10 17v-12l10 13v-12l10 14v-18l10 15v-14l10 17v-18l10 16v-16l10 22v-17l10 10v-13l10 18v-19l10 14v-11l10 11v-13l10 16v-17l10 13v-11l10 15v-15l10 16v-18l10 16v-11l10 14v-17l10 12v-11l10 11v-14l10 14v-10l10 10v-11l10 12v-11l10 15v-23l10 21v-19l10 18v-15l10 16v-13l10 11v-16l10 18v-16l10 19v-16l10 15v-19l10 19v-16l10 13v-13l10 13v-15l10 21v-25l10 18v-11l10 16v-18l10 14v-12l10 9v-13l10 18v-20l10 28v-41l10 33v-26l10 30v-22l10 20v-16l10 14v-15l10 12v-11l10 15v-17l10 12v-13l10 16v-16l10 13v-11l10 12v-12l10 12v-10l10 10v-12l10 12v-12l10 10v-13l10 18v-19l10 14v-8l10 13v-14l10 13v-15l10 15v-14l10 11v-14l10 19v-18l10 14v-11l10 15v-20l10 17v-12l10 12v-12l10 15v-19l10 14v-15l10 20v-22l10 18v-17l10 17v-17l10 18v-11l10 9v-11l10 13v-12l10 12v-11l10 8v-11l10 11v-8l10 8v-10l10 10v-9l10 10v-11l10 15v-16l10 11v-13l10 21v-24l10 20v-13l10 16v-17l10 12v-16l10 20v-17l10 14v-14l10 13v-11l10 12v-17l10 15v-15l10 15v-11l10 14v-14l10 13v-13l10 12v-16l10 15v-14l10 14v-14l10 15v-11l10 14v-21l10 23v-22l10 20v-19l10 22v-24l10 27v-25l10 20v-19l10 16v-18l10 17v-16l10 17v-18l10 19v-13l10 11v-13l10 16v-14l10 16v-25l10 28v-28l10 25v-22l10 27v-24l10 17v-19l10 17v-16l10 19v-22l10 29v-33l10 28v-24l10 22v-20l10 15v-16l10 21v-14l10 9v-11l10 12v-11l10 12v-13l10 14v-15l10 19v-24l10 24v-18l10 11v-13l10 19v-16l10 14v-15l10 13v-11l10 9v-14l10 16v-14l10 13v-15l10 16v-16l10 12v-9l10 13v-14l10 10v-10l10 12v-12l10 17v-21l10 18v-11l10 8v-9l10 13v-18l10 19v-15l10 15v-16l10 12v-9l10 12v-14l10 11v-11l10 17v-15l10 16v-19l10 16v-16l10 13v-13l10 15v-19l10 16v-15l10 15v-15l10 14v-9l10 12v-13l10 17v-22l10 19v-17l10 18v-16l10 19v-20l10 14v-17l10 20v-15l10 12v-12l10 19v-22l10 18v-16l10 17v-22l10 24v-18l10 12v-12l10 12v-10l10 11v-15l10 13v-9l10 11v-12l10 15v-18l10 13v-13l10 13v-9l10 14v-18l10 15v-16l10 16v-14l10 15v-13l10 14v-14l10 13v-14l10 14v-14l10 17v-17l10 16v-17l10 12v-10l10 9v-8l10 12v-16l10 14v-11l10 12v-12l10 8v-9l10 12v-12l10 10v-11l10 13v-13l10 16v-13l10 7v-7l10 13v-16l10 12v-10l10 14v-20l10 17v-14l10 13v-12l10 14v-14l10 16v-14l10 16v-16l10 15v-17l10 16v-14l10 9v-11l10 17v-14l10 14v-15l10 14v-16l10 14v-16l10 12v-8l10 14v-17l10 12v-12l10 16v-12l10 12v-16l10 13v-9l10 13v-13l10 10v-11l10 11v-14l10 13v-11l10 10v-9l10 12v-11l10 11v-15l10 13v-15l10 22v-21l10 15v-11l10 9v-12l10 13v-14l10 14v-10l10 12v-15l10 14v-11l10 9v-7l10 7v-14l10 17v-17l10 17v-12l10 13v-13l10 10v-10l10 17v-23l10 21v-21"/><use href="#t37" transform="translate(5,0) scale(1,-.85)"/><path d="M20 17v-33M450 24v-46M530 12v-24l10 58v-89l10 64v-44M610 23v-44M1050 25v-49M2940 13v-27M3200 26v-50M3280 20v-39M3800 18v-36M4150 15v-30M5060 27v-54l10 42v-30M5660 16v-34M5760 15v-29l10 57v-86l10 62v-38M5830 23v-46M6330 18v-35"/></g>
<g stroke="#f00" transform="translate(111.5,507.02) scale(0.1)"><path id="t38" d="M0 9v-13l10 10v-13l10 15v-16l10 14v-16l10 19v-19l10 15v-14l10 14v-10l10 13v-17l10 13v-8l10 12v-13l10 15v-14l10 14v-16l10 11v-14l10 18v-14l10 10v-12l10 11v-9l10 14v-14l10 15v-19l10 14v-10l10 12v-13l10 13v-12l10 12v-15l10 16v-16l10 15v-13l10 10v-8l10 8v-8l10 10v-16l10 15v-9l10 9v-10l10 10v-9l10 12v-16l10 13v-13l10 12v-8l10 8v-13l10 16v-10l10 8v-13l10 15v-15l10 18v-14l10 9v-15l10 14v-9l10 13v-16l10 13v-13l10 17v-15l10 16v-18l10 16v-12l10 9v-11l10 16v-20l10 16v-15l10 17v-13l10 13v-22l10 26v-21l10 16v-13l10 13v-17l10 21v-19l10 14v-12l10 11v-15l10 17v-12l10 15v-16l10 14v-13l10 9v-12l10 12v-13l10 16v-11l10 8v-11l10 11v-10l10 12v-10l10 11v-11l10 9v-12l10 17v-15l10 9v-13l10 13v-12l10 16v-16l10 14v-15l10 17v-14l10 14v-17l10 13v-10l10 14v-12l10 8v-10l10 13v-13l10 15v-18l10 12v-9l10 10v-11l10 13v-9l10 8v-11l10 11v-13l10 18v-17l10 12v-10l10 12v-11l10 8v-9l10 11v-11l10 10v-14l10 13v-11l10 15v-13l10 13v-13l10 15v-19l10 13v-13l10 14v-12l10 11v-10l10 12v-14l10 15v-11l10 11v-14l10 15v-15l10 12v-9l10 9v-9l10 9v-9l10 10v-11l10 10v-9l10 14v-15l10 8v-9l10 10v-8l10 12v-14l10 11v-12l10 16v-15l10 10v-10l10 10v-13l10 18v-13l10 11v-13l10 13v-14l10 12v-11l10 13v-15l10 16v-12l10 11v-11l10 9v-11l10 10v-9l10 14v-13l10 11v-12l10 13v-14l10 13v-15l10 13v-14l10 17v-13l10 12v-13l10 14v-17l10 20v-23l10 24v-22l10 18v-18l10 18v-16l10 12v-10l10 11v-10l10 12v-12l10 11v-10l10 9v-12l10 12v-13l10 12v-9l10 13v-16l10 12v-15l10 17v-15l10 20v-20l10 19v-18l10 13v-12l10 12v-15l10 15v-10l10 11v-14l10 12v-11l10 12v-11l10 12v-14l10 14v-10l10 7v-10l10 20v-20l10 16v-26l10 29v-22l10 18v-14l10 16v-15l10 9v-10l10 12v-10l10 7v-11l10 15v-15l10 16v-14l10 9v-9l10 11v-8l10 9v-10l10 9v-13l10 12v-10l10 13v-11l10 8v-9l10 11v-14l10 14v-11l10 9v-10l10 12v-11l10 14v-14l10 9v-11l10 14v-12l10 13v-13l10 11v-10l10 9v-9l10 12v-15l10 18v-17l10 16v-20l10 19v-19l10 14v-11l10 14v-11l10 13v-17l10 15v-14l10 14v-16l10 13v-8l10 11v-15l10 17v-15l10 12v-15l10 14v-9l10 13v-15l10 15v-17l10 13v-9l10 8v-9l10 11v-11l10 12v-12l10 9v-10l10 14v-17l10 18v-17l10 11v-7l10 11v-11l10 8v-11l10 15v-14l10 11v-8l10 8v-14l10 21v-23l10 28v-35l10 28v-23l10 20v-13l10 11v-10l10 11v-10l10 9v-13l10 15v-11l10 9v-14l10 15v-10l10 14v-15l10 15v-19l10 17v-14l10 17v-19l10 17v-19l10 17v-16l10 13v-11l10 12v-8l10 7v-11l10 11v-9l10 9v-12l10 16v-13l10 9v-8l10 10v-14l10 17v-15l10 13v-12l10 10v-10l10 13v-14l10 14v-12l10 10v-12l10 12v-10l10 10v-10l10 9v-11l10 9v-9l10 15v-18l10 14v-10l10 12v-10l10 8v-9l10 8v-8l10 8v-13l10 18v-17l10 12v-9l10 9v-10l10 16v-16l10 13v-11l10 10v-12l10 12v-11l10 8v-10l10 10v-8l10 9v-13l10 13v-9l10 9v-10l10 11v-9l10 13v-19l10 21v-17l10 12v-12l10 12v-13l10 13v-15l10 17v-15l10 11v-14l10 14v-8l10 10v-12l10 16v-14l10 10v-13l10 15v-12l10 9v-13l10 13v-13l10 11v-10l10 10v-10l10 11v-13l10 17v-13l10 10v-14l10 14v-14l10 16v-13l10 15v-14l10 10v-14l10 14v-13l10 17v-18l10 14v-13l10 13v-14l10 15v-11l10 9v-8l10 11v-13l10 16v-16l10 13v-15l10 12v-10l10 15v-13l10 12v-14l10 12v-12l10 12v-14l10 12v-9l10 10v-14l10 14v-12l10 12v-9l10 15v-18l10 13v-13l10 15v-13l10 12v-15l10 12v-8l10 11v-10l10 11v-16l10 11v-9l10 13v-15l10 17v-17l10 11v-9l10 12v-13l10 15v-14l10 10v-12l10 15v-12l10 9v-11l10 12v-9l10 8v-10l10 9v-8l10 10v-10l10 10v-11l10 9v-8l10 11v-10l10 8v-7l10 7v-12l10 14v-13l10 11v-8l10 11v-14l10 11v-9l10 10v-9l10 8v-13l10 13v-11l10 11v-9l10 9v-10l10 11v-13l10 12v-12l10 14v-10l10 15v-19l10 16v-12l10 11v-12l10 11v-13l10 11v-12l10 12v-13l10 13v-8l10 8v-12l10 15v-13l10 17v-16l10 10v-11l10 12v-17l10 16v-10l10 15v-20l10 15v-11l10 11v-11l10 10v-8l10 11v-11l10 11v-10l10 6v-11l10 14v-11l10 9v-9l10 11v-13l10 12v-9l10 11v-13l10 9v-11l10 14v-11l10 8v-9l10 10v-7l10 9v-14l10 12v-8l10 12v-13l10 13v-13l10 9v-8l10 12v-11l10 7v-9l10 13v-13l10 11v-12l10 12v-10l10 11v-15l10 15v-12l10 10v-11l10 10v-9l10 13v-12l10 12v-17l10 12v-9l10 12v-10l10 7v-7l10 8v-8l10 8v-11l10 12v-9l10 11v-14l10 16v-17l10 16v-15l10 13v-15l10 16v-15l10 12v-7l10 12v-16l10 12v-12l10 12v-9l10 12v-14l10 10v-8l10 12v-11l10 10v-13l10 16v-15l10 12v-15l10 17v-15l10 16v-17l10 19v-17l10 12v-12l10 10v-10l10 11v-17l10 19v-18l10 19v-17l10 15v-12l10 11v-14l10 18v-20l10 16v-11l10 13v-15l10 15v-17l10 12v-8l10 10v-12l10 11v-9l10 9v-10l10 12v-15l10 18v-15l10 13v-13l10 13v-12l10 9v-9l10 9v-11l10 11v-8l10 9v-10l10 9v-9l10 12v-14l10 16v-17l10 14v-15l10 17v-12l10 8v-8l10 13v-16l10 13v-14l10 13v-16l10 20v-13l10 13v-16l10 15v-12l10 12v-13l10 13v-13l10 9v-11l10 12v-16l10 21v-19l10 18v-14l10 14v-18l10 14v-12l10 11v-9l10 12v-12l10 14v-13l10 14v-21l10 20v-18l10 21v-25l10 23v-18l10 20v-21l10 17v-15l10 12v-14l10 20v-18l10 12v-12l10 13v-12l10 17v-22l10 16v-12l10 17v-18l10 13v-12l10 13v-11l10 14v-13l10 13v-16l10 12v-10l10 12v-17l10 18v-15l10 15v-17l10 14v-11l10 15v-15l10 12v-12l10 12v-14l10 12v-11l10 13v-11l10 11v-10l10 8v-11l10 14v-13l10 12v-14l10 13v-12l10 13v-16l10 16v-15l10 13v-13l10 18v-17l10 13v-10l10 11v-14l10 13v-12l10 12v-9l10 7v-9l10 12v-14l10 12v-13l10 18v-13l10 11v-11l10 10v-12l10 16v-15l10 12v-12l10 9v-8l10 8v-11l10 15v-13l10 11v-13l10 17v-14l10 11v-15l10 14v-12l10 11v-11l10 10v-9l10 8v-8l10 8v-7l10 13v-15l10 11v-10l10 12v-11l10 11v-17l10 20v-14l10 8v-12l10 12v-14l10 22v-17l10 10v-10l10 10v-16l10 15v-9l10 13v-13l10 15v-15l10 10v-9l10 13v-19l10 14v-12l10 12v-11l10 11v-11l10 14v-18l10 16v-13l10 14v-14l10 12v-10l10 12v-13l10 15v-12l10 12v-14l10 13v-10l10 12v-15l10 12v-12l10 17v-16l10 13v-18l10 21v-22l10 20v-18l10 16v-12l10 12v-12l10 11v-15l10 16v-11l10 13v-13l10 9v-10l10 11v-14l10 14v-10l10 9v-14l10 15v-14l10 16v-11l10 7v-11l10 12v-11l10 11v-12l10 12v-10l10 13v-14l10 10v-13l10 18v-19l10 15v-13l10 16v-17l10 18v-13l10 10v-11l10 14v-15l10 9v-6l10 7v-11l10 12v-11l10 13v-12l10 12v-16l10 15v-10l10 12v-17l10 13v-11l10 11v-12l10 12v-10l10 16v-20l10 16v-16l10 15v-10l10 14v-18l10 13v-12l10 16v-15l10 12v-10l10 11v-12l10 13v-15l10 19v-15l10 14v-16l10 11v-10l10 14v-14l10 11v-14l10 13v-9l10 13v-15l10 13v-11l10 8v-12l10 14v-12l10 10v-9l10 10v-11l10 13v-11l10 10v-11l10 11v-18l10 19v-12l10 11v-12l10 11v-11l10 11v-10l10 13v-18l10 16v-10l10 8v-9l10 11v-15l10 13v-9l10 14v-19l10 18v-13l10 9v-8l10 8v-11l10 14v-11l10 9v-11l10 13v-12l10 9v-11l10 14v-10l10 8v-11l10 9v-6l10 8v-8l10 10v-10l10 7v-11l10 12v-14l10 15v-11l10 10v-10l10 11v-11l10 14v-16l10 12v-13l10 12v-12l10 12v-10l10 12v-12l10 13v-12l10 10v-10l10 11v-10l10 9v-12l10 11v-9l10 9v-9l10 11v-14l10 15v-13l10 15v-16l10 16v-14l10 9v-9l10 10v-10l10 14v-15l10 12v-11l10 10v-17l10 21v-15l10 11v-11l10 14v-14l10 10v-12l10 13v-14l10 13v-12l10 16v-12l10 13v-16l10 15v-11l10 12v-14l10 13v-15l10 14v-11l10 8v-8l10 8v-8l10 12v-15l10 17v-15l10 11v-12l10 13v-11l10 14v-14l10 13v-17l10 15v-13l10 12v-12l10 15v-18l10 16v-15l10 12v-11l10 12v-10l10 12v-12l10 9v-11l10 11v-10l10 12v-11l10 9v-12l10 17v-18l10 16v-11l10 11v-12l10 9v-12l10 12v-12l10 17v-17l10 13v-9l10 10v-16l10 14v-11l10 16v-13l10 9v-9l10 13v-13l10 8v-9l10 9v-8l10 9v-12l10 11v-9l10 12v-12l10 8v-9l10 11v-10l10 8v-6l10 11v-14l10 12v-14l10 11v-9"/><use href="#t38" transform="translate(5,0) scale(1,-.85)"/><path d="M480 18v-36l10 29v-24M1300 18v-33M1570 26v-52M2120 12v-22l10 50v-76l10 46v-22M2240 17v-36M4590 15v-32l10 30v-24M6060 11v-23"/></g>
<g stroke="#00f" transform="translate(111.5,519.19) scale(0.1)"><path id="t39" d="M0 7v-17l10 14v-12l10 14v-15l10 18v-17l10 12v-8l10 10v-13l10 13v-15l10 20v-16l10 13v-19l10 22v-23l10 24v-20l10 21v-18l10 17v-19l10 12v-13l10 13v-12l10 13v-13l10 12v-13l10 14v-10l10 7v-7l10 8v-7l10 10v-13l10 15v-13l10 13v-18l10 14v-14l10 17v-12l10 7v-9l10 11v-11l10 13v-13l10 16v-16l10 13v-16l10 19v-19l10 18v-18l10 18v-16l10 12v-11l10 13v-11l10 11v-12l10 12v-12l10 11v-12l10 16v-19l10 13v-10l10 11v-13l10 15v-17l10 14v-8l10 9v-9l10 9v-12l10 17v-19l10 15v-11l10 10v-11l10 16v-17l10 18v-22l10 16v-10l10 10v-11l10 14v-15l10 11v-9l10 12v-11l10 10v-10l10 13v-16l10 13v-14l10 17v-17l10 14v-11l10 9v-13l10 13v-10l10 10v-14l10 16v-15l10 13v-11l10 12v-10l10 9v-11l10 15v-12l10 11v-14l10 13v-12l10 15v-14l10 9v-11l10 12v-10l10 12v-16l10 18v-16l10 13v-12l10 10v-8l10 8v-10l10 11v-9l10 13v-16l10 15v-14l10 11v-14l10 13v-8l10 9v-11l10 14v-17l10 13v-11l10 15v-18l10 20v-15l10 9v-13l10 15v-12l10 14v-14l10 13v-13l10 13v-21l10 24v-18l10 15v-17l10 19v-15l10 14v-15l10 16v-18l10 17v-17l10 20v-19l10 17v-16l10 12v-9l10 14v-16l10 12v-11l10 13v-17l10 14v-9l10 13v-12l10 9v-11l10 12v-13l10 9v-9l10 10v-9l10 9v-9l10 12v-11l10 9v-11l10 10v-10l10 9v-9l10 10v-11l10 11v-9l10 10v-10l10 10v-12l10 11v-12l10 12v-15l10 19v-16l10 18v-19l10 15v-10l10 8v-13l10 17v-14l10 11v-9l10 9v-9l10 8v-11l10 15v-15l10 11v-10l10 9v-11l10 11v-9l10 9v-7l10 9v-14l10 12v-6l10 12v-13l10 12v-12l10 8v-15l10 19v-15l10 14v-15l10 12v-13l10 15v-12l10 16v-14l10 12v-13l10 9v-8l10 11v-13l10 10v-10l10 13v-13l10 18v-21l10 26v-27l10 19v-18l10 16v-15l10 19v-21l10 16v-10l10 13v-20l10 17v-10l10 13v-17l10 16v-13l10 15v-14l10 12v-14l10 11v-9l10 8v-11l10 14v-13l10 14v-18l10 20v-21l10 16v-12l10 12v-15l10 16v-15l10 14v-10l10 10v-12l10 11v-11l10 13v-14l10 13v-10l10 15v-16l10 11v-12l10 12v-8l10 10v-13l10 11v-13l10 14v-14l10 14v-11l10 10v-14l10 13v-13l10 17v-12l10 10v-12l10 10v-9l10 12v-13l10 13v-14l10 16v-14l10 11v-11l10 14v-14l10 14v-19l10 20v-20l10 15v-14l10 16v-14l10 15v-12l10 14v-23l10 31v-32l10 25v-26l10 27v-19l10 12v-14l10 14v-11l10 10v-10l10 15v-16l10 11v-9l10 13v-12l10 8v-13l10 15v-11l10 11v-13l10 11v-10l10 11v-8l10 13v-15l10 13v-14l10 11v-13l10 12v-11l10 12v-14l10 13v-12l10 15v-14l10 12v-13l10 12v-8l10 11v-15l10 16v-14l10 15v-16l10 13v-15l10 14v-11l10 11v-10l10 14v-15l10 11v-15l10 19v-19l10 15v-13l10 20v-23l10 15v-14l10 15v-13l10 12v-9l10 10v-9l10 8v-11l10 13v-13l10 14v-10l10 11v-16l10 19v-21l10 17v-16l10 17v-12l10 11v-14l10 13v-12l10 15v-13l10 9v-10l10 14v-13l10 8v-9l10 9v-12l10 13v-9l10 12v-18l10 16v-16l10 21v-16l10 15v-20l10 15v-11l10 11v-14l10 15v-14l10 17v-17l10 14v-13l10 11v-9l10 12v-15l10 13v-12l10 13v-11l10 9v-8l10 11v-12l10 14v-14l10 14v-13l10 8v-7l10 11v-12l10 7v-9l10 14v-14l10 14v-13l10 9v-8l10 13v-13l10 11v-13l10 13v-11l10 9v-9l10 12v-14l10 13v-12l10 15v-14l10 9v-10l10 11v-13l10 13v-13l10 17v-18l10 20v-21l10 14v-13l10 19v-16l10 14v-15l10 10v-9l10 9v-10l10 11v-13l10 12v-11l10 17v-15l10 12v-15l10 23v-25l10 24v-26l10 24v-17l10 13v-16l10 19v-21l10 19v-19l10 14v-10l10 11v-10l10 14v-17l10 20v-18l10 14v-20l10 20v-13l10 10v-11l10 11v-13l10 14v-14l10 12v-8l10 14v-17l10 13v-11l10 10v-12l10 16v-14l10 11v-11l10 9v-10l10 15v-13l10 10v-10l10 10v-15l10 13v-11l10 13v-14l10 18v-14l10 11v-16l10 15v-16l10 20v-20l10 16v-12l10 17v-18l10 17v-15l10 13v-14l10 12v-18l10 22v-15l10 12v-12l10 12v-11l10 13v-19l10 15v-14l10 17v-18l10 15v-16l10 16v-15l10 16v-15l10 16v-12l10 9v-11l10 14v-11l10 8v-9l10 12v-15l10 16v-14l10 10v-12l10 16v-15l10 13v-15l10 18v-13l10 8v-8l10 12v-15l10 11v-11l10 12v-13l10 13v-12l10 14v-12l10 10v-9l10 11v-16l10 18v-14l10 15v-16l10 10v-11l10 10v-12l10 18v-18l10 14v-13l10 28v-32l10 24v-28l10 25v-18l10 14v-12l10 13v-13l10 16v-19l10 16v-15l10 14v-11l10 10v-8l10 12v-13l10 10v-16l10 20v-14l10 13v-14l10 12v-16l10 16v-12l10 16v-14l10 10v-14l10 16v-15l10 16v-17l10 14v-10l10 10v-12l10 16v-19l10 13v-9l10 11v-16l10 16v-12l10 12v-16l10 14v-12l10 14v-13l10 16v-16l10 11v-9l10 9v-9l10 14v-13l10 12v-12l10 7v-7l10 11v-12l10 10v-10l10 11v-14l10 12v-13l10 13v-8l10 9v-14l10 16v-13l10 16v-17l10 11v-13l10 18v-14l10 11v-17l10 15v-11l10 16v-14l10 15v-14l10 13v-16l10 11v-9l10 10v-10l10 14v-15l10 10v-9l10 16v-16l10 9v-10l10 12v-14l10 17v-13l10 11v-11l10 9v-10l10 8v-10l10 11v-9l10 9v-8l10 10v-15l10 18v-16l10 11v-10l10 16v-18l10 12v-8l10 12v-15l10 12v-12l10 12v-10l10 13v-17l10 15v-16l10 15v-16l10 17v-13l10 14v-13l10 13v-11l10 8v-12l10 13v-13l10 17v-14l10 14v-17l10 12v-9l10 12v-10l10 6v-8l10 9v-11l10 14v-14l10 13v-11l10 9v-8l10 9v-10l10 9v-11l10 14v-13l10 10v-8l10 8v-9l10 10v-12l10 14v-12l10 12v-13l10 11v-11l10 13v-11l10 9v-14l10 13v-12l10 12v-8l10 14v-16l10 10v-8l10 12v-12l10 11v-19l10 23v-22l10 21v-14l10 9v-11l10 12v-15l10 14v-10l10 14v-16l10 13v-11l10 15v-15l10 14v-14l10 10v-11l10 13v-13l10 14v-12l10 8v-11l10 13v-15l10 13v-9l10 9v-9l10 10v-13l10 16v-14l10 18v-19l10 17v-16l10 11v-11l10 11v-9l10 8v-9l10 13v-17l10 16v-15l10 15v-16l10 13v-13l10 15v-10l10 10v-15l10 14v-11l10 11v-10l10 9v-9l10 12v-13l10 12v-13l10 16v-14l10 8v-8l10 9v-8l10 13v-14l10 14v-13l10 14v-18l10 18v-19l10 16v-17l10 19v-15l10 11v-12l10 13v-14l10 16v-16l10 16v-15l10 12v-9l10 13v-20l10 17v-12l10 15v-18l10 14v-12l10 16v-19l10 19v-15l10 10v-13l10 15v-15l10 12v-8l10 11v-12l10 11v-13l10 15v-11l10 11v-16l10 14v-11l10 14v-14l10 13v-10l10 8v-12l10 16v-16l10 13v-11l10 10v-10l10 11v-13l10 13v-10l10 12v-16l10 13v-11l10 11v-12l10 13v-12l10 13v-12l10 10v-9l10 11v-12l10 10v-9l10 8v-10l10 15v-16l10 17v-17l10 14v-12l10 11v-10l10 11v-15l10 12v-15l10 20v-15l10 12v-11l10 10v-10l10 10v-12l10 13v-14l10 12v-8l10 8v-9l10 9v-8l10 8v-12l10 15v-14l10 16v-14l10 13v-11l10 6v-6l10 6v-8l10 12v-12l10 9v-13l10 13v-13l10 17v-12l10 11v-11l10 12v-14l10 10v-8l10 8v-7l10 8v-10l10 12v-11l10 9v-10l10 12v-11l10 11v-15l10 12v-12l10 14v-13l10 11v-9l10 10v-12l10 14v-13l10 12v-10l10 10v-10l10 15v-27l10 22v-12l10 10v-8l10 9v-12l10 12v-9l10 10v-10l10 11v-11l10 10v-12l10 12v-9l10 9v-15l10 16v-11l10 10v-13l10 11v-9l10 9v-8l10 8v-9l10 9v-7l10 8v-10l10 9v-10l10 12v-9l10 11v-11l10 7v-10l10 12v-13l10 11v-7l10 6v-7l10 11v-13l10 14v-16l10 17v-18l10 19v-14l10 9v-9l10 8v-11l10 13v-12l10 12v-10l10 9v-10l10 14v-19l10 16v-10l10 9v-10l10 11v-15l10 19v-20l10 18v-17l10 14v-9l10 14v-19l10 15v-15l10 13v-12l10 11v-8l10 11v-11l10 10v-14l10 17v-13l10 12v-14l10 13v-13l10 11v-9l10 10v-12l10 15v-12l10 8v-12l10 13v-10l10 11v-10l10 9v-11l10 13v-11l10 8v-12l10 16v-13l10 10v-9l10 8v-15l10 19v-18l10 19v-14l10 9v-11l10 12v-11l10 12v-10l10 10v-12l10 13v-11l10 8v-8l10 11v-16l10 16v-13l10 9v-7l10 10v-14l10 13v-8l10 10v-12l10 10v-9l10 8v-11l10 14v-14l10 12v-9l10 8v-8l10 10v-10l10 9v-12l10 14v-15l10 14v-11l10 13v-14l10 14v-15l10 11v-9l10 9v-13l10 16v-14l10 18v-16l10 14v-15l10 12v-14l10 13v-12l10 12v-16l10 20v-15l10 10v-8l10 11v-11l10 13v-13l10 14v-15l10 13v-15l10 12v-14l10 15v-14l10 13v-14l10 15v-11l10 11v-10l10 13v-13l10 11v-11l10 9v-9l10 10v-15l10 15v-11l10 14v-14l10 15v-14l10 11v-12l10 9v-12l10 12v-12l10 13v-11l10 11v-12l10 15v-16l10 15v-13l10 10v-14"/><use href="#t39" transform="translate(5,0) scale(1,-.85)"/><path d="M80 13v-25M490 13v-24M920 15v-30M1510 26v-55M1980 28v-55l10 38v-26M2950 17v-34l10 28v-21M3040 15v-30M3630 26v-49l10 37v-29M5480 11v-24M5870 12v-23"/></g>
<g stroke="#f00" transform="translate(111.5,531.36) scale(0.1)"><path id="t40" d="M0 9v-16l10 15v-13l10 12v-14l10 15v-16l10 13v-12l10 12v-9l10 13v-16l10 11v-9l10 14v-14l10 12v-18l10 21v-15l10 14v-16l10 11v-11l10 17v-16l10 14v-19l10 20v-19l10 17v-17l10 16v-18l10 19v-13l10 16v-21l10 19v-21l10 17v-10l10 12v-13l10 13v-12l10 13v-17l10 19v-14l10 9v-13l10 16v-12l10 10v-13l10 12v-9l10 11v-12l10 12v-9l10 9v-11l10 14v-12l10 8v-10l10 11v-16l10 15v-9l10 11v-18l10 15v-8l10 10v-13l10 13v-10l10 14v-14l10 10v-11l10 12v-13l10 17v-21l10 17v-12l10 15v-17l10 17v-18l10 16v-13l10 16v-16l10 14v-13l10 11v-17l10 15v-15l10 18v-12l10 14v-18l10 14v-17l10 20v-17l10 13v-14l10 15v-14l10 13v-9l10 10v-14l10 13v-9l10 13v-14l10 11v-14l10 12v-16l10 16v-10l10 12v-11l10 13v-13l10 10v-11l10 13v-14l10 15v-12l10 11v-12l10 15v-18l10 13v-10l10 12v-14l10 12v-10l10 14v-16l10 13v-12l10 12v-14l10 14v-15l10 15v-10l10 12v-14l10 15v-18l10 16v-13l10 15v-17l10 15v-15l10 16v-15l10 15v-19l10 29v-27l10 18v-26l10 24v-22l10 24v-16l10 19v-25l10 26v-23l10 19v-16l10 12v-11l10 14v-14l10 16v-21l10 23v-23l10 18v-16l10 17v-17l10 14v-17l10 21v-23l10 27v-21l10 22v-23l10 23v-22l10 20v-20l10 13v-12l10 12v-12l10 14v-18l10 18v-18l10 23v-19l10 17v-19l10 19v-21l10 17v-11l10 15v-19l10 17v-14l10 20v-29l10 25v-23l10 24v-23l10 25v-21l10 14v-12l10 14v-19l10 19v-16l10 18v-18l10 18v-21l10 19v-21l10 23v-20l10 14v-8l10 9v-9l10 12v-16l10 13v-14l10 16v-11l10 14v-20l10 20v-20l10 23v-25l10 40v-50l10 39v-28l10 18v-15l10 18v-18l10 20v-22l10 18v-17l10 20v-18l10 15v-19l10 21v-19l10 16v-13l10 12v-18l10 21v-18l10 22v-26l10 24v-24l10 22v-18l10 20v-17l10 12v-15l10 21v-17l10 11v-11l10 10v-13l10 16v-20l10 22v-19l10 16v-12l10 14v-14l10 11v-14l10 16v-16l10 19v-23l10 20v-17l10 17v-17l10 16v-16l10 14v-11l10 15v-21l10 19v-11l10 15v-20l10 13v-12l10 12v-9l10 13v-17l10 15v-12l10 11v-14l10 14v-9l10 11v-17l10 14v-10l10 17v-22l10 16v-9l10 10v-16l10 14v-12l10 17v-16l10 13v-13l10 14v-13l10 15v-15l10 15v-16l10 14v-15l10 13v-10l10 15v-14l10 9v-12l10 14v-15l10 14v-14l10 12v-14l10 16v-10l10 13v-15l10 16v-16l10 10v-10l10 10v-10l10 12v-11l10 12v-10l10 7v-11l10 11v-12l10 14v-13l10 17v-15l10 13v-18l10 16v-16l10 19v-14l10 9v-14l10 21v-16l10 13v-12l10 12v-17l10 17v-20l10 21v-16l10 17v-15l10 9v-13l10 17v-14l10 15v-18l10 14v-17l10 23v-18l10 17v-17l10 15v-17l10 16v-11l10 9v-12l10 13v-15l10 13v-13l10 15v-15l10 13v-11l10 13v-11l10 12v-12l10 15v-16l10 12v-10l10 8v-12l10 18v-14l10 11v-17l10 15v-12l10 19v-20l10 18v-15l10 16v-18l10 13v-13l10 15v-18l10 15v-10l10 16v-20l10 19v-15l10 14v-14l10 13v-17l10 18v-15l10 12v-12l10 15v-13l10 10v-10l10 10v-13l10 16v-18l10 13v-13l10 15v-17l10 21v-14l10 9v-14l10 14v-12l10 12v-9l10 13v-14l10 12v-11l10 8v-9l10 12v-16l10 18v-17l10 13v-11l10 15v-20l10 17v-16l10 18v-19l10 18v-18l10 18v-18l10 15v-11l10 16v-14l10 12v-16l10 15v-18l10 21v-16l10 15v-15l10 15v-13l10 15v-18l10 15v-17l10 21v-20l10 16v-13l10 11v-15l10 20v-17l10 12v-10l10 11v-13l10 16v-14l10 9v-12l10 15v-15l10 16v-16l10 16v-16l10 16v-22l10 21v-14l10 17v-16l10 11v-16l10 17v-14l10 14v-11l10 10v-10l10 15v-14l10 8v-10l10 15v-13l10 8v-12l10 16v-13l10 13v-12l10 8v-8l10 13v-18l10 15v-17l10 21v-15l10 10v-10l10 11v-12l10 12v-12l10 13v-13l10 11v-10l10 16v-19l10 15v-18l10 20v-16l10 14v-20l10 23v-20l10 14v-10l10 15v-19l10 16v-14l10 15v-16l10 14v-13l10 17v-18l10 16v-17l10 15v-17l10 23v-17l10 14v-14l10 16v-16l10 15v-17l10 14v-12l10 11v-10l10 13v-16l10 12v-10l10 15v-13l10 9v-10l10 9v-10l10 11v-13l10 17v-13l10 12v-11l10 10v-12l10 11v-16l10 15v-12l10 16v-15l10 16v-17l10 14v-14l10 11v-11l10 11v-13l10 16v-13l10 10v-8l10 9v-11l10 11v-9l10 8v-13l10 16v-16l10 16v-14l10 15v-19l10 17v-14l10 19v-17l10 11v-13l10 18v-15l10 17v-17l10 11v-14l10 14v-10l10 9v-13l10 17v-17l10 16v-18l10 15v-9l10 13v-16l10 16v-13l10 9v-14l10 18v-19l10 16v-10l10 9v-13l10 17v-17l10 14v-13l10 11v-9l10 9v-9l10 14v-18l10 16v-17l10 18v-18l10 21v-19l10 13v-14l10 22v-29l10 26v-19l10 20v-18l10 17v-15l10 16v-16l10 10v-13l10 17v-14l10 12v-15l10 16v-12l10 9v-12l10 12v-11l10 15v-18l10 15v-12l10 15v-14l10 14v-14l10 9v-9l10 10v-11l10 13v-11l10 8v-11l10 12v-15l10 14v-8l10 9v-10l10 11v-16l10 19v-17l10 17v-14l10 17v-18l10 13v-18l10 21v-30l10 32v-24l10 23v-26l10 30v-22l10 16v-18l10 17v-15l10 18v-21l10 18v-17l10 14v-12l10 13v-13l10 12v-11l10 12v-13l10 12v-15l10 21v-16l10 13v-19l10 23v-21l10 22v-18l10 12v-13l10 17v-19l10 16v-12l10 9v-9l10 10v-14l10 14v-15l10 19v-17l10 11v-11l10 11v-10l10 9v-8l10 8v-7l10 7v-8l10 13v-16l10 16v-15l10 12v-16l10 19v-17l10 20v-22l10 17v-12l10 12v-11l10 13v-15l10 17v-18l10 13v-9l10 9v-13l10 17v-16l10 11v-9l10 15v-20l10 20v-14l10 9v-9l10 10v-17l10 18v-14l10 13v-14l10 12v-8l10 13v-14l10 14v-18l10 14v-10l10 9v-12l10 17v-18l10 15v-12l10 10v-8l10 10v-16l10 16v-11l10 9v-12l10 19v-19l10 18v-14l10 10v-13l10 13v-13l10 11v-13l10 14v-9l10 10v-10l10 11v-12l10 10v-11l10 11v-9l10 8v-9l10 11v-12l10 13v-11l10 9v-12l10 13v-16l10 15v-12l10 12v-9l10 10v-11l10 12v-12l10 10v-10l10 14v-18l10 13v-11l10 14v-12l10 11v-10l10 10v-12l10 14v-13l10 14v-16l10 16v-20l10 22v-17l10 14v-12l10 10v-12l10 12v-13l10 14v-17l10 15v-11l10 11v-9l10 11v-12l10 10v-11l10 17v-18l10 15v-15l10 16v-15l10 14v-17l10 14v-14l10 18v-18l10 15v-16l10 18v-17l10 16v-12l10 10v-11l10 15v-14l10 12v-17l10 24v-26l10 24v-21l10 17v-18l10 16v-13l10 13v-13l10 15v-15l10 17v-18l10 15v-11l10 11v-17l10 14v-13l10 13v-13l10 15v-10l10 9v-12l10 12v-12l10 13v-12l10 12v-16l10 18v-16l10 16v-14l10 12v-15l10 14v-10l10 9v-12l10 16v-14l10 13v-12l10 16v-17l10 12v-10l10 13v-15l10 10v-8l10 16v-20l10 13v-10l10 13v-17l10 13v-13l10 17v-15l10 13v-16l10 15v-11l10 11v-16l10 19v-19l10 18v-13l10 16v-22l10 19v-13l10 14v-14l10 15v-15l10 17v-18l10 16v-18l10 13v-12l10 12v-11l10 18v-15l10 11v-18l10 17v-11l10 16v-18l10 14v-11l10 13v-20l10 17v-15l10 18v-14l10 17v-22l10 19v-13l10 12v-13l10 9v-12l10 13v-12l10 11v-8l10 11v-12l10 11v-11l10 9v-9l10 9v-9l10 11v-9l10 9v-10l10 9v-14l10 19v-19l10 18v-16l10 18v-20l10 16v-12l10 18v-26l10 23v-20l10 17v-18l10 25v-21l10 14v-15l10 14v-12l10 11v-10l10 11v-17l10 17v-14l10 15v-13l10 12v-11l10 10v-10l10 17v-21l10 15v-14l10 17v-14l10 11v-10l10 12v-18l10 20v-19l10 19v-18l10 13v-11l10 12v-13l10 13v-12l10 13v-14l10 11v-10l10 17v-19l10 17v-17l10 18v-17l10 17v-20l10 14v-10l10 9v-6l10 11v-15l10 14v-12l10 11v-11l10 9v-9l10 15v-17l10 14v-12l10 12v-14l10 12v-10l10 14v-20l10 26v-24l10 20v-18l10 16v-14l10 12v-13l10 11v-10l10 12v-16l10 17v-13l10 11v-13l10 12v-11l10 10v-12l10 17v-14l10 12v-18l10 23v-23l10 24v-23l10 17v-14l10 13v-15l10 20v-19l10 13v-13l10 17v-16l10 12v-13l10 18v-19l10 16v-11l10 8v-8l10 12v-13l10 10v-9l10 8v-11l10 15v-18l10 17v-14l10 15v-12l10 12v-15l10 20v-25l10 22v-21l10 17v-14l10 16v-13l10 11v-13l10 12v-14l10 19v-16l10 13v-15l10 18v-15l10 12v-13l10 12v-11l10 13v-13l10 9v-9l10 14v-18l10 18v-13l10 9v-12l10 13v-15l10 13v-14l10 20v-16l10 12v-10l10 9v-12l10 13v-16l10 21v-16l10 11v-16l10 17v-12l10 13v-17l10 16v-16l10 17v-15l10 11v-15l10 20v-13l10 11v-13l10 11v-10l10 10v-11l10 18v-19l10 18v-21l10 17v-17l10 19v-13l10 13v-18l10 16v-22l10 25v-24l10 24v-20l10 21v-15l10 14v-15l10 9v-12l10 14v-12l10 13v-11l10 10v-9l10 9v-13l10 13v-10l10 11v-14l10 11v-8l10 11v-12l10 11v-12"/><use href="#t40" transform="translate(5,0) scale(1,-.85)"/><path d="M150 16v-33M880 19v-40M920 33v-66l10 47v-29M970 20v-39l10 32v-25M1030 20v-38l10 30v-24M1100 16v-29M1170 15v-32l10 29v-22M1250 27v-52l10 35v-22M1360 34v-74l10 57v-32M1400 26v-50M1470 21v-43l10 34v-24M2880 11v-24M3800 16v-29M4070 17v-37l10 34v-29M4130 16v-32M5150 18v-39l10 31v-21M6240 13v-29M6350 19v-36l10 28v-22M6540 16v-32M6880 14v-27M6930 16v-32"/></g>
<g stroke="#00f" transform="translate(111.5,543.53) scale(0.1)"><path id="t41" d="M0 8v-17l10 13v-11l10 16v-16l10 13v-10l10 13v-15l10 12v-13l10 11v-11l10 14v-15l10 18v-17l10 11v-13l10 19v-17l10 14v-15l10 13v-10l10 9v-8l10 8v-12l10 13v-11l10 16v-19l10 14v-13l10 19v-18l10 17v-24l10 31v-28l10 20v-18l10 15v-18l10 19v-12l10 13v-19l10 16v-14l10 16v-15l10 12v-12l10 14v-14l10 12v-8l10 10v-11l10 12v-15l10 12v-10l10 12v-15l10 19v-15l10 10v-10l10 10v-14l10 13v-10l10 11v-11l10 14v-13l10 12v-14l10 14v-11l10 9v-10l10 9v-14l10 16v-10l10 11v-15l10 15v-15l10 15v-16l10 13v-13l10 18v-16l10 11v-8l10 11v-12l10 14v-17l10 16v-16l10 16v-14l10 12v-11l10 13v-13l10 10v-11l10 13v-14l10 12v-14l10 13v-10l10 15v-14l10 13v-15l10 11v-8l10 8v-12l10 12v-12l10 13v-8l10 11v-13l10 12v-10l10 11v-13l10 13v-17l10 16v-12l10 14v-17l10 15v-23l10 23v-16l10 18v-18l10 15v-11l10 9v-14l10 15v-9l10 9v-9l10 12v-18l10 15v-11l10 11v-9l10 13v-19l10 17v-18l10 25v-25l10 19v-18l10 19v-17l10 15v-20l10 20v-15l10 18v-20l10 19v-15l10 14v-13l10 13v-18l10 18v-16l10 17v-14l10 15v-18l10 20v-19l10 18v-17l10 14v-15l10 13v-12l10 13v-12l10 13v-15l10 11v-8l10 9v-13l10 15v-16l10 13v-12l10 14v-10l10 10v-15l10 17v-18l10 18v-14l10 11v-18l10 25v-21l10 16v-14l10 11v-12l10 18v-16l10 12v-10l10 13v-13l10 14v-15l10 11v-15l10 18v-14l10 10v-10l10 11v-9l10 8v-12l10 14v-12l10 12v-12l10 13v-13l10 9v-8l10 9v-9l10 8v-9l10 11v-14l10 18v-20l10 15v-14l10 18v-16l10 12v-13l10 13v-10l10 10v-14l10 17v-17l10 18v-16l10 16v-16l10 17v-15l10 9v-11l10 12v-13l10 15v-12l10 12v-12l10 11v-11l10 13v-12l10 9v-14l10 16v-16l10 17v-14l10 13v-11l10 8v-8l10 8v-12l10 14v-13l10 12v-10l10 14v-13l10 11v-16l10 17v-16l10 12v-8l10 9v-12l10 17v-15l10 12v-15l10 15v-10l10 9v-15l10 14v-14l10 13v-11l10 11v-11l10 11v-12l10 11v-12l10 17v-14l10 10v-12l10 12v-11l10 13v-9l10 6v-10l10 10v-7l10 7v-7l10 12v-16l10 13v-9l10 12v-12l10 9v-10l10 9v-12l10 18v-15l10 13v-15l10 15v-12l10 9v-9l10 10v-13l10 11v-10l10 14v-16l10 12v-12l10 12v-8l10 12v-16l10 13v-11l10 9v-8l10 9v-8l10 14v-16l10 10v-10l10 11v-11l10 10v-10l10 16v-20l10 16v-10l10 10v-11l10 11v-12l10 14v-14l10 15v-16l10 16v-13l10 10v-10l10 8v-8l10 10v-10l10 10v-12l10 11v-11l10 13v-16l10 16v-12l10 9v-8l10 11v-11l10 12v-15l10 12v-10l10 14v-14l10 13v-16l10 18v-19l10 17v-15l10 12v-14l10 14v-12l10 16v-15l10 12v-12l10 13v-13l10 17v-16l10 12v-14l10 13v-12l10 16v-14l10 9v-10l10 9v-9l10 13v-15l10 11v-10l10 15v-13l10 9v-15l10 16v-12l10 14v-14l10 16v-15l10 13v-12l10 8v-11l10 14v-14l10 15v-14l10 14v-14l10 14v-12l10 11v-15l10 13v-12l10 16v-13l10 9v-11l10 10v-9l10 12v-12l10 9v-12l10 12v-11l10 16v-15l10 14v-15l10 15v-15l10 16v-16l10 11v-12l10 14v-11l10 9v-10l10 15v-14l10 13v-16l10 14v-13l10 13v-11l10 13v-16l10 12v-11l10 11v-11l10 14v-14l10 11v-12l10 13v-11l10 14v-17l10 14v-11l10 16v-17l10 15v-14l10 17v-18l10 16v-16l10 15v-19l10 19v-13l10 14v-13l10 13v-13l10 11v-14l10 10v-11l10 12v-11l10 12v-10l10 10v-9l10 9v-10l10 9v-13l10 14v-12l10 13v-14l10 16v-15l10 14v-16l10 18v-16l10 15v-14l10 16v-15l10 9v-8l10 10v-15l10 13v-10l10 13v-11l10 12v-12l10 8v-11l10 14v-12l10 14v-17l10 14v-11l10 11v-16l10 15v-16l10 18v-14l10 13v-10l10 16v-22l10 22v-21l10 19v-22l10 21v-16l10 13v-18l10 18v-17l10 22v-18l10 16v-14l10 9v-13l10 16v-13l10 14v-14l10 15v-13l10 8v-11l10 15v-15l10 15v-14l10 11v-10l10 11v-10l10 10v-16l10 19v-18l10 13v-8l10 12v-12l10 9v-10l10 14v-17l10 13v-12l10 13v-16l10 16v-13l10 15v-12l10 12v-15l10 18v-18l10 17v-14l10 11v-12l10 10v-12l10 13v-13l10 17v-14l10 13v-13l10 8v-14l10 15v-10l10 9v-9l10 14v-15l10 13v-12l10 13v-14l10 10v-8l10 8v-9l10 13v-16l10 14v-14l10 14v-16l10 17v-11l10 11v-12l10 9v-10l10 9v-6l10 11v-13l10 9v-7l10 7v-11l10 14v-12l10 9v-9l10 11v-13l10 13v-11l10 10v-10l10 12v-10l10 10v-11l10 8v-14l10 20v-19l10 14v-10l10 14v-17l10 14v-15l10 16v-12l10 11v-15l10 17v-14l10 11v-10l10 14v-17l10 19v-20l10 21v-23l10 17v-12l10 13v-11l10 10v-12l10 10v-9l10 9v-11l10 12v-10l10 15v-15l10 9v-13l10 13v-10l10 12v-9l10 12v-15l10 14v-16l10 13v-9l10 8v-10l10 11v-9l10 13v-16l10 15v-14l10 10v-9l10 12v-11l10 13v-13l10 10v-14l10 15v-17l10 20v-14l10 10v-11l10 9v-13l10 14v-9l10 10v-11l10 8v-7l10 8v-7l10 11v-14l10 12v-15l10 18v-17l10 14v-13l10 15v-13l10 12v-11l10 9v-9l10 13v-14l10 14v-14l10 13v-14l10 16v-14l10 9v-11l10 16v-19l10 14v-12l10 14v-10l10 10v-12l10 14v-14l10 13v-17l10 17v-13l10 12v-13l10 11v-12l10 11v-9l10 13v-17l10 14v-15l10 17v-12l10 11v-12l10 18v-19l10 15v-17l10 16v-13l10 10v-11l10 13v-11l10 12v-12l10 12v-15l10 12v-11l10 15v-13l10 11v-10l10 8v-8l10 9v-11l10 14v-13l10 13v-15l10 13v-11l10 13v-15l10 13v-10l10 7v-9l10 11v-12l10 13v-14l10 15v-15l10 14v-11l10 11v-10l10 9v-10l10 10v-11l10 13v-12l10 9v-10l10 14v-11l10 8v-13l10 11v-11l10 12v-11l10 15v-16l10 13v-14l10 16v-15l10 12v-11l10 16v-15l10 12v-13l10 17v-19l10 13v-11l10 13v-12l10 17v-19l10 14v-12l10 16v-18l10 16v-14l10 10v-10l10 13v-15l10 17v-15l10 13v-13l10 14v-14l10 11v-14l10 15v-10l10 15v-21l10 17v-14l10 16v-14l10 16v-21l10 17v-16l10 15v-10l10 11v-11l10 8v-8l10 9v-10l10 9v-12l10 17v-18l10 16v-11l10 11v-13l10 15v-14l10 14v-17l10 15v-12l10 10v-13l10 12v-9l10 14v-16l10 17v-17l10 18v-25l10 25v-20l10 15v-14l10 12v-8l10 13v-13l10 7v-10l10 14v-12l10 14v-19l10 15v-12l10 15v-12l10 11v-13l10 10v-9l10 11v-11l10 12v-15l10 16v-13l10 11v-11l10 11v-10l10 11v-13l10 15v-13l10 12v-12l10 12v-14l10 12v-12l10 12v-11l10 13v-12l10 9v-12l10 13v-11l10 12v-14l10 14v-14l10 15v-16l10 14v-15l10 17v-17l10 21v-17l10 9v-9l10 9v-12l10 12v-9l10 11v-10l10 11v-14l10 11v-10l10 12v-9l10 9v-10l10 11v-11l10 9v-13l10 15v-15l10 16v-12l10 12v-13l10 13v-14l10 12v-11l10 10v-14l10 16v-10l10 11v-15l10 11v-8l10 9v-12l10 15v-18l10 18v-12l10 8v-7l10 7v-10l10 14v-16l10 19v-27l10 23v-16l10 14v-12l10 15v-13l10 12v-15l10 15v-12l10 14v-15l10 12v-12l10 10v-14l10 15v-12l10 17v-17l10 13v-16l10 15v-10l10 15v-16l10 12v-15l10 15v-14l10 12v-13l10 19v-19l10 17v-14l10 12v-17l10 17v-16l10 18v-18l10 15v-9l10 8v-11l10 16v-16l10 14v-13l10 12v-11l10 14v-16l10 11v-11l10 15v-18l10 18v-14l10 13v-16l10 19v-22l10 18v-15l10 17v-13l10 13v-14l10 11v-10l10 14v-13l10 14v-17l10 11v-15l10 19v-17l10 17v-18l10 15v-15l10 16v-15l10 14v-9l10 10v-13l10 13v-15l10 21v-18l10 11v-16l10 16v-9l10 10v-11l10 12v-11l10 11v-15l10 14v-15l10 14v-11l10 10v-10l10 14v-13l10 15v-17l10 17v-17l10 15v-19l10 16v-14l10 14v-9l10 8v-8l10 13v-18l10 13v-9l10 12v-15l10 11v-8l10 10v-8l10 8v-12l10 12v-11l10 12v-14l10 12v-8l10 11v-13l10 13v-14l10 12v-9l10 13v-17l10 17v-13l10 9v-10l10 11v-13l10 11v-8l10 12v-14l10 12v-13l10 13v-16l10 21v-18l10 11v-9l10 9v-8l10 9v-11l10 13v-13l10 12v-10l10 10v-15l10 17v-18l10 21v-17l10 10v-8l10 11v-13l10 12v-10l10 11v-15l10 15v-11l10 10v-9l10 12v-14l10 14v-16l10 13v-14l10 12v-9l10 12v-14l10 17v-21l10 16v-15l10 20v-15l10 10v-13l10 18v-17l10 13v-10l10 12v-17l10 16v-12l10 15v-15l10 9v-12l10 18v-18l10 16v-13l10 14v-13l10 9v-9l10 10v-10l10 8v-8l10 8v-13l10 15v-13l10 12v-10l10 10v-11l10 12v-14l10 14v-10l10 9v-11l10 16v-18l10 17v-13l10 13v-15l10 10v-10l10 11v-14l10 17v-14l10 10v-8l10 12v-12l10 10v-13l10 10v-8l10 13v-13l10 13v-17l10 17v-15l10 12v-10l10 13v-15l10 13v-14l10 12v-8l10 9v-13l10 13v-9l10 9v-15"/><use href="#t41" transform="translate(5,0) scale(1,-.85)"/><path d="M190 17v-33l10 29v-23M730 24v-47M850 17v-32l10 27v-23M980 12v-25M1110 15v-27M3070 14v-26M3760 14v-26M4330 13v-25M5030 20v-42M5330 17v-35M5610 26v-53M5920 19v-37M6640 11v-24"/></g>
<g stroke="#f00" transform="translate(111.5,555.70) scale(0.1)"><path id="t42" d="M0 4v-10l10 11v-11l10 12v-10l10 8v-9l10 13v-13l10 8v-8l10 10v-13l10 13v-13l10 16v-13l10 13v-16l10 13v-13l10 12v-9l10 10v-9l10 13v-18l10 15v-14l10 18v-15l10 10v-15l10 15v-9l10 8v-11l10 13v-10l10 11v-12l10 13v-15l10 12v-9l10 14v-15l10 15v-16l10 11v-10l10 9v-10l10 11v-12l10 12v-10l10 12v-14l10 17v-18l10 13v-10l10 12v-15l10 16v-12l10 13v-18l10 14v-11l10 15v-17l10 13v-14l10 14v-13l10 16v-12l10 12v-12l10 10v-11l10 9v-10l10 10v-12l10 13v-8l10 8v-10l10 9v-12l10 17v-13l10 11v-15l10 15v-15l10 12v-8l10 7v-7l10 10v-10l10 13v-15l10 13v-15l10 16v-13l10 9v-11l10 15v-12l10 13v-17l10 12v-10l10 14v-14l10 15v-16l10 12v-10l10 13v-12l10 9v-9l10 12v-17l10 16v-13l10 13v-11l10 10v-11l10 11v-15l10 13v-14l10 14v-8l10 10v-12l10 15v-13l10 8v-9l10 11v-12l10 11v-9l10 14v-17l10 12v-9l10 9v-9l10 11v-12l10 11v-15l10 13v-8l10 10v-13l10 11v-9l10 14v-13l10 8v-12l10 13v-12l10 12v-12l10 14v-12l10 13v-13l10 12v-11l10 10v-10l10 12v-14l10 11v-10l10 10v-9l10 10v-10l10 13v-16l10 12v-12l10 13v-16l10 14v-10l10 12v-10l10 10v-12l10 10v-15l10 20v-16l10 13v-17l10 22v-20l10 19v-17l10 16v-14l10 9v-11l10 17v-14l10 10v-15l10 13v-12l10 13v-16l10 16v-15l10 21v-21l10 19v-14l10 13v-13l10 9v-8l10 12v-17l10 15v-14l10 13v-10l10 9v-10l10 11v-10l10 13v-13l10 11v-13l10 14v-16l10 17v-16l10 14v-14l10 14v-12l10 12v-14l10 12v-11l10 12v-10l10 9v-13l10 12v-8l10 11v-10l10 8v-11l10 11v-12l10 17v-13l10 13v-14l10 14v-16l10 13v-16l10 20v-16l10 14v-15l10 11v-10l10 10v-9l10 9v-10l10 14v-13l10 10v-11l10 11v-10l10 12v-10l10 9v-10l10 12v-14l10 12v-11l10 10v-13l10 12v-11l10 11v-10l10 11v-9l10 8v-10l10 10v-8l10 12v-15l10 12v-13l10 12v-11l10 13v-13l10 12v-11l10 16v-15l10 10v-10l10 12v-12l10 9v-11l10 15v-13l10 15v-18l10 18v-23l10 28v-33l10 32v-31l10 28v-21l10 16v-13l10 13v-12l10 11v-10l10 12v-13l10 11v-14l10 19v-15l10 13v-16l10 13v-16l10 16v-15l10 16v-14l10 12v-13l10 15v-18l10 16v-13l10 14v-10l10 16v-17l10 13v-17l10 19v-14l10 10v-13l10 15v-13l10 12v-16l10 16v-13l10 13v-10l10 9v-13l10 17v-15l10 12v-13l10 15v-16l10 15v-14l10 12v-13l10 18v-17l10 17v-18l10 13v-10l10 14v-17l10 14v-11l10 13v-17l10 15v-13l10 15v-15l10 14v-11l10 8v-10l10 10v-12l10 13v-11l10 13v-11l10 14v-14l10 11v-13l10 12v-10l10 14v-22l10 18v-11l10 10v-12l10 13v-10l10 8v-8l10 8v-10l10 13v-13l10 11v-9l10 8v-8l10 7v-6l10 9v-10l10 8v-9l10 8v-11l10 13v-9l10 13v-16l10 16v-17l10 16v-12l10 12v-14l10 11v-14l10 18v-16l10 13v-11l10 11v-10l10 8v-10l10 9v-11l10 11v-10l10 15v-13l10 14v-17l10 16v-16l10 16v-13l10 12v-12l10 15v-14l10 10v-10l10 8v-9l10 13v-17l10 17v-15l10 13v-17l10 18v-13l10 11v-9l10 10v-10l10 7v-6l10 8v-9l10 8v-8l10 8v-10l10 13v-12l10 14v-15l10 10v-8l10 9v-9l10 10v-10l10 10v-11l10 9v-8l10 10v-12l10 14v-12l10 11v-12l10 9v-12l10 17v-18l10 15v-11l10 10v-9l10 8v-12l10 14v-13l10 17v-17l10 15v-16l10 12v-8l10 8v-12l10 12v-14l10 14v-11l10 11v-12l10 12v-10l10 13v-11l10 12v-17l10 16v-13l10 15v-18l10 13v-10l10 11v-11l10 13v-10l10 12v-13l10 13v-16l10 15v-16l10 14v-10l10 10v-15l10 17v-15l10 11v-11l10 12v-11l10 14v-15l10 13v-10l10 8v-9l10 11v-11l10 9v-11l10 16v-19l10 16v-11l10 12v-13l10 13v-12l10 12v-11l10 8v-10l10 9v-10l10 10v-9l10 10v-13l10 17v-13l10 12v-15l10 15v-16l10 18v-13l10 9v-18l10 21v-19l10 22v-23l10 20v-18l10 20v-18l10 16v-18l10 19v-18l10 14v-15l10 16v-12l10 13v-16l10 16v-11l10 13v-15l10 11v-10l10 9v-8l10 10v-11l10 9v-12l10 16v-15l10 12v-12l10 11v-7l10 10v-14l10 17v-14l10 13v-13l10 9v-9l10 8v-8l10 13v-14l10 13v-13l10 10v-13l10 13v-13l10 12v-11l10 14v-11l10 13v-14l10 9v-13l10 14v-11l10 10v-11l10 13v-13l10 14v-16l10 16v-11l10 9v-10l10 13v-12l10 10v-12l10 17v-19l10 16v-14l10 13v-13l10 11v-13l10 14v-12l10 13v-11l10 10v-13l10 14v-11l10 11v-11l10 11v-15l10 14v-15l10 17v-15l10 11v-8l10 8v-13l10 17v-13l10 13v-12l10 10v-14l10 16v-13l10 13v-15l10 13v-14l10 14v-11l10 9v-8l10 14v-14l10 14v-14l10 9v-11l10 11v-16l10 18v-12l10 11v-10l10 8v-10l10 11v-14l10 16v-13l10 12v-11l10 8v-6l10 10v-15l10 13v-11l10 10v-11l10 12v-13l10 16v-16l10 19v-20l10 14v-11l10 15v-14l10 11v-11l10 9v-11l10 18v-15l10 10v-14l10 16v-17l10 13v-10l10 11v-14l10 12v-7l10 11v-13l10 13v-15l10 13v-9l10 9v-9l10 9v-14l10 14v-12l10 15v-14l10 14v-15l10 18v-17l10 12v-12l10 16v-20l10 15v-15l10 15v-10l10 10v-13l10 12v-8l10 12v-14l10 15v-17l10 13v-12l10 12v-10l10 10v-14l10 17v-18l10 17v-11l10 10v-12l10 15v-18l10 20v-17l10 13v-15l10 14v-10l10 8v-13l10 17v-16l10 17v-14l10 9v-10l10 22v-30l10 41v-54l10 47v-29l10 16v-19l10 22v-19l10 15v-16l10 18v-15l10 15v-12l10 9v-14l10 14v-15l10 17v-15l10 13v-14l10 19v-14l10 8v-14l10 19v-14l10 10v-11l10 11v-11l10 11v-12l10 13v-12l10 15v-19l10 18v-20l10 17v-13l10 17v-18l10 16v-19l10 23v-17l10 10v-13l10 13v-8l10 8v-8l10 9v-11l10 14v-15l10 12v-13l10 17v-14l10 12v-11l10 10v-11l10 13v-13l10 14v-21l10 21v-18l10 26v-30l10 24v-16l10 14v-13l10 13v-17l10 16v-18l10 18v-15l10 11v-11l10 12v-10l10 11v-14l10 14v-15l10 13v-10l10 11v-11l10 11v-14l10 17v-15l10 14v-12l10 14v-18l10 17v-16l10 12v-12l10 15v-14l10 13v-11l10 8v-12l10 15v-13l10 15v-11l10 7v-10l10 11v-10l10 12v-16l10 17v-13l10 13v-17l10 15v-14l10 16v-13l10 9v-12l10 13v-11l10 14v-12l10 9v-9l10 14v-16l10 15v-15l10 15v-16l10 16v-14l10 11v-17l10 19v-12l10 10v-13l10 13v-10l10 10v-17l10 17v-12l10 11v-11l10 13v-12l10 11v-11l10 12v-13l10 12v-11l10 12v-14l10 14v-11l10 8v-8l10 9v-13l10 13v-12l10 12v-15l10 14v-11l10 12v-10l10 10v-10l10 10v-10l10 9v-8l10 17v-21l10 15v-13l10 12v-18l10 16v-11l10 12v-13l10 13v-11l10 16v-17l10 12v-11l10 16v-16l10 11v-11l10 10v-15l10 17v-12l10 10v-11l10 14v-11l10 7v-6l10 7v-10l10 10v-10l10 10v-13l10 13v-15l10 20v-14l10 10v-9l10 9v-15l10 18v-17l10 19v-21l10 23v-23l10 17v-10l10 9v-17l10 23v-18l10 17v-26l10 23v-12l10 9v-12l10 14v-14l10 12v-9l10 10v-12l10 16v-18l10 13v-12l10 12v-12l10 14v-10l10 10v-10l10 7v-6l10 8v-13l10 11v-6l10 7v-9l10 9v-10l10 15v-15l10 11v-9l10 8v-9l10 9v-11l10 12v-10l10 11v-9l10 7v-11l10 18v-17l10 25v-35l10 22v-12l10 15v-14l10 12v-11l10 11v-11l10 11v-14l10 13v-14l10 15v-12l10 8v-9l10 17v-19l10 17v-17l10 15v-13l10 10v-9l10 11v-16l10 14v-12l10 11v-8l10 11v-13l10 13v-12l10 13v-13l10 20v-21l10 17v-24l10 25v-38l10 42v-32l10 31v-22l10 22v-26l10 20v-18l10 18v-16l10 13v-9l10 10v-10l10 10v-15l10 19v-20l10 15v-15l10 20v-15l10 10v-15l10 18v-14l10 10v-11l10 11v-13l10 19v-19l10 14v-11l10 11v-12l10 14v-13l10 15v-14l10 13v-18l10 18v-12l10 12v-15l10 11v-10l10 14v-14l10 15v-14l10 13v-14l10 14v-14l10 11v-9l10 13v-13l10 12v-12l10 9v-9l10 10v-15l10 14v-9l10 13v-15l10 14v-12l10 8v-12l10 17v-18l10 13v-14l10 18v-15l10 12v-9l10 11v-14l10 18v-16l10 12v-12l10 10v-11l10 14v-16l10 16v-14l10 12v-10l10 10v-14l10 15v-15l10 12v-9l10 10v-9l10 11v-12l10 11v-12l10 15v-14l10 10v-9l10 9v-11l10 15v-18l10 13v-10l10 11v-13l10 16v-16l10 14v-10l10 8v-8l10 8v-10l10 11v-9l10 10v-10l10 12v-15l10 12v-9l10 10v-14l10 14v-13l10 16v-19l10 15v-9l10 9v-10l10 10v-11l10 13v-17l10 19v-13l10 8v-9l10 12v-17l10 16v-11l10 9v-8l10 13v-14l10 11v-12l10 11v-14l10 15v-16l10 19v-13l10 8v-12l10 15v-15l10 14v-13l10 11v-12l10 13v-9l10 11v-11l10 13v-15l10 10v-9l10 13v-12l10 9v-11l10 15v-15l10 11v-12"/><use href="#t42" transform="translate(5,0) scale(1,-.85)"/><path d="M1050 15v-32M1710 26v-56l10 47v-33M2530 17v-35M2880 17v-36M3200 13v-26M4390 12v-25l10 49v-75l10 63v-47M4600 16v-35M4750 27v-51M5370 22v-44M5630 18v-35M5880 21v-43M6070 14v-28l10 67v-99l10 79v-62M6110 12v-26"/></g>
<g stroke="#00f" transform="translate(111.5,567.87) scale(0.1)"><path id="t43" d="M0 4v-9l10 9v-9l10 14v-12l10 10v-14l10 12v-15l10 18v-12l10 9v-12l10 17v-19l10 13v-10l10 10v-11l10 11v-11l10 16v-18l10 13v-9l10 9v-8l10 11v-13l10 15v-15l10 13v-16l10 14v-13l10 14v-12l10 12v-9l10 11v-15l10 13v-14l10 13v-13l10 16v-13l10 11v-13l10 10v-8l10 10v-10l10 12v-16l10 19v-14l10 9v-12l10 17v-15l10 10v-15l10 15v-13l10 12v-13l10 14v-15l10 15v-12l10 11v-13l10 16v-11l10 13v-19l10 14v-10l10 12v-10l10 15v-17l10 16v-20l10 20v-15l10 11v-12l10 12v-11l10 14v-18l10 18v-18l10 14v-12l10 11v-12l10 13v-13l10 12v-9l10 14v-14l10 12v-16l10 14v-14l10 16v-11l10 10v-16l10 16v-12l10 12v-15l10 19v-21l10 22v-17l10 11v-10l10 14v-18l10 18v-17l10 14v-14l10 15v-11l10 12v-15l10 16v-17l10 13v-10l10 13v-14l10 12v-12l10 14v-13l10 12v-17l10 16v-12l10 13v-14l10 11v-8l10 11v-14l10 11v-9l10 14v-18l10 16v-16l10 17v-18l10 15v-9l10 12v-12l10 8v-8l10 10v-13l10 12v-10l10 13v-12l10 11v-11l10 8v-12l10 17v-15l10 11v-13l10 11v-7l10 9v-12l10 11v-11l10 11v-10l10 13v-11l10 8v-8l10 12v-13l10 13v-12l10 8v-9l10 9v-11l10 19v-22l10 19v-18l10 17v-16l10 20v-20l10 17v-19l10 16v-16l10 14v-9l10 9v-11l10 17v-19l10 19v-18l10 13v-15l10 14v-9l10 9v-8l10 8v-13l10 17v-14l10 10v-11l10 11v-12l10 11v-10l10 12v-10l10 9v-9l10 10v-13l10 11v-11l10 15v-14l10 12v-10l10 14v-17l10 14v-11l10 10v-13l10 14v-11l10 11v-11l10 9v-8l10 8v-11l10 11v-12l10 19v-16l10 10v-9l10 12v-17l10 14v-13l10 15v-15l10 16v-13l10 12v-11l10 9v-9l10 14v-20l10 19v-15l10 16v-17l10 17v-15l10 13v-17l10 18v-14l10 11v-12l10 10v-9l10 10v-12l10 14v-12l10 9v-11l10 11v-9l10 11v-12l10 10v-13l10 13v-8l10 8v-9l10 12v-11l10 9v-10l10 9v-10l10 14v-13l10 14v-15l10 11v-11l10 15v-14l10 10v-11l10 13v-12l10 14v-16l10 12v-12l10 15v-17l10 18v-13l10 8v-8l10 8v-9l10 9v-11l10 14v-12l10 10v-10l10 10v-9l10 8v-11l10 10v-8l10 12v-11l10 10v-12l10 11v-13l10 11v-10l10 10v-10l10 15v-11l10 12v-16l10 15v-14l10 16v-14l10 10v-14l10 18v-17l10 16v-14l10 11v-12l10 13v-11l10 9v-14l10 14v-10l10 9v-12l10 14v-13l10 14v-11l10 8v-11l10 13v-12l10 14v-13l10 14v-18l10 17v-13l10 12v-12l10 9v-13l10 17v-15l10 13v-12l10 12v-13l10 13v-12l10 13v-11l10 8v-12l10 12v-9l10 13v-14l10 12v-10l10 11v-16l10 13v-11l10 12v-12l10 15v-16l10 14v-10l10 7v-6l10 14v-23l10 22v-19l10 25v-27l10 22v-20l10 14v-10l10 17v-17l10 12v-16l10 18v-23l10 21v-16l10 20v-18l10 12v-13l10 16v-17l10 17v-13l10 14v-14l10 10v-16l10 16v-9l10 9v-13l10 14v-10l10 9v-10l10 13v-16l10 13v-11l10 16v-14l10 13v-17l10 15v-15l10 14v-11l10 13v-17l10 14v-13l10 23v-25l10 21v-28l10 40v-37l10 27v-21l10 16v-20l10 21v-20l10 20v-19l10 20v-19l10 13v-14l10 18v-13l10 9v-11l10 12v-10l10 12v-13l10 12v-16l10 16v-15l10 17v-13l10 13v-15l10 10v-11l10 11v-12l10 18v-18l10 18v-19l10 17v-11l10 10v-12l10 12v-16l10 19v-13l10 11v-13l10 10v-13l10 13v-13l10 16v-10l10 12v-16l10 11v-10l10 10v-8l10 8v-11l10 12v-13l10 17v-18l10 14v-14l10 15v-14l10 14v-13l10 16v-16l10 13v-13l10 14v-12l10 11v-10l10 9v-12l10 13v-12l10 10v-9l10 11v-14l10 19v-17l10 14v-16l10 13v-14l10 16v-14l10 15v-16l10 12v-9l10 11v-10l10 14v-14l10 13v-15l10 11v-10l10 13v-12l10 12v-14l10 14v-15l10 11v-13l10 13v-13l10 14v-10l10 11v-10l10 10v-15l10 14v-9l10 10v-12l10 14v-14l10 13v-15l10 15v-15l10 14v-11l10 10v-11l10 14v-12l10 9v-12l10 12v-15l10 14v-11l10 16v-17l10 13v-12l10 17v-15l10 13v-14l10 14v-13l10 9v-11l10 16v-18l10 18v-19l10 16v-11l10 14v-16l10 12v-12l10 12v-12l10 12v-11l10 10v-11l10 12v-16l10 18v-15l10 19v-20l10 16v-11l10 13v-13l10 9v-14l10 14v-12l10 15v-13l10 9v-13l10 14v-14l10 14v-11l10 15v-13l10 12v-13l10 9v-8l10 16v-21l10 15v-14l10 18v-24l10 28v-21l10 13v-15l10 16v-17l10 21v-16l10 11v-14l10 17v-20l10 17v-11l10 10v-14l10 15v-13l10 18v-16l10 9v-10l10 13v-11l10 11v-11l10 9v-9l10 13v-14l10 13v-14l10 11v-14l10 18v-14l10 15v-14l10 14v-18l10 12v-13l10 18v-14l10 10v-13l10 14v-10l10 13v-18l10 16v-17l10 22v-20l10 13v-10l10 10v-13l10 13v-16l10 16v-14l10 17v-17l10 12v-7l10 8v-8l10 8v-12l10 15v-16l10 14v-14l10 13v-9l10 10v-10l10 9v-11l10 13v-14l10 14v-15l10 16v-15l10 18v-15l10 10v-10l10 11v-11l10 15v-16l10 12v-14l10 13v-13l10 16v-13l10 10v-14l10 14v-10l10 14v-18l10 15v-15l10 15v-13l10 13v-13l10 17v-20l10 20v-18l10 13v-14l10 14v-14l10 17v-17l10 14v-13l10 12v-11l10 13v-12l10 14v-13l10 9v-9l10 16v-19l10 13v-13l10 13v-12l10 11v-9l10 10v-12l10 11v-9l10 11v-13l10 15v-15l10 12v-13l10 15v-12l10 9v-12l10 12v-9l10 10v-12l10 15v-13l10 13v-16l10 17v-16l10 16v-15l10 14v-16l10 16v-19l10 17v-10l10 9v-13l10 16v-17l10 15v-10l10 11v-12l10 11v-14l10 13v-9l10 9v-9l10 12v-13l10 12v-16l10 19v-21l10 20v-19l10 18v-13l10 13v-12l10 9v-14l10 16v-11l10 11v-11l10 11v-12l10 10v-10l10 14v-15l10 15v-17l10 13v-11l10 13v-14l10 13v-12l10 10v-10l10 10v-10l10 12v-13l10 11v-8l10 9v-10l10 13v-15l10 12v-13l10 15v-13l10 14v-12l10 12v-12l10 10v-10l10 14v-16l10 17v-16l10 14v-20l10 18v-11l10 11v-12l10 13v-15l10 11v-10l10 10v-9l10 9v-13l10 18v-15l10 15v-14l10 12v-12l10 13v-15l10 12v-14l10 17v-15l10 13v-13l10 11v-8l10 12v-14l10 14v-14l10 10v-11l10 11v-8l10 14v-19l10 20v-15l10 11v-14l10 12v-14l10 15v-17l10 17v-17l10 16v-14l10 15v-11l10 10v-13l10 18v-17l10 17v-18l10 14v-14l10 15v-15l10 16v-18l10 15v-16l10 21v-20l10 17v-12l10 10v-9l10 9v-10l10 12v-11l10 12v-12l10 13v-14l10 12v-10l10 7v-9l10 14v-14l10 15v-19l10 14v-13l10 13v-9l10 11v-18l10 21v-18l10 15v-16l10 15v-9l10 7v-11l10 13v-12l10 13v-13l10 10v-11l10 16v-18l10 13v-10l10 10v-8l10 9v-15l10 18v-13l10 10v-15l10 18v-16l10 15v-11l10 12v-15l10 17v-18l10 13v-9l10 8v-9l10 10v-15l10 16v-10l10 10v-16l10 14v-10l10 16v-20l10 21v-20l10 17v-14l10 13v-16l10 15v-10l10 8v-8l10 11v-14l10 14v-15l10 17v-13l10 11v-14l10 14v-17l10 14v-12l10 16v-12l10 8v-12l10 15v-12l10 10v-12l10 13v-13l10 12v-13l10 12v-8l10 13v-16l10 13v-11l10 9v-8l10 8v-8l10 8v-12l10 14v-10l10 7v-8l10 12v-11l10 11v-12l10 9v-10l10 14v-13l10 9v-10l10 12v-13l10 12v-15l10 19v-17l10 13v-15l10 20v-20l10 19v-15l10 11v-14l10 16v-12l10 13v-11l10 8v-13l10 11v-9l10 15v-18l10 15v-12l10 15v-13l10 11v-13l10 11v-13l10 16v-17l10 18v-13l10 15v-21l10 18v-17l10 15v-12l10 11v-10l10 13v-13l10 10v-11l10 14v-18l10 17v-14l10 12v-10l10 14v-18l10 16v-12l10 9v-8l10 14v-14l10 9v-11l10 17v-17l10 12v-11l10 9v-11l10 18v-17l10 17v-18l10 22v-25l10 22v-20l10 14v-16l10 21v-19l10 28v-41l10 35v-29l10 24v-18l10 16v-15l10 18v-16l10 14v-13l10 11v-16l10 15v-11l10 10v-8l10 12v-13l10 13v-13l10 8v-6l10 8v-9l10 8v-9l10 12v-12l10 9v-13l10 19v-20l10 15v-11l10 11v-9l10 15v-21l10 18v-20l10 18v-14l10 13v-15l10 21v-22l10 19v-13l10 11v-14l10 15v-11l10 8v-9l10 10v-9l10 16v-24l10 22v-18l10 16v-18l10 17v-14l10 16v-16l10 12v-14l10 17v-13l10 10v-9l10 10v-11l10 9v-11l10 11v-10l10 12v-11l10 11v-14l10 12v-9l10 12v-11l10 13v-16l10 16v-19l10 14v-9l10 13v-15l10 12v-9l10 9v-11l10 15v-19l10 14v-12l10 14v-10l10 9v-11l10 9v-7l10 7v-7l10 10v-13l10 15v-18l10 17v-16l10 14v-12l10 13v-13l10 14v-11l10 10v-10l10 8v-14l10 21v-21l10 14v-8l10 11v-16l10 14v-10l10 10v-9l10 9v-13l10 15v-11l10 11v-16l10 18v-13l10 10v-10l10 10v-13l10 11v-13l10 16v-15l10 14v-15l10 17v-16l10 14v-15l10 14v-13l10 11v-11l10 15v-15l10 14v-16l10 14v-10l10 15v-16l10 16v-17l10 14v-12l10 11v-9l10 9v-13"/><use href="#t43" transform="translate(5,0) scale(1,-.85)"/><path d="M1020 19v-37l10 29v-23M2200 29v-61l10 43v-23M2250 22v-45l10 35v-23M2460 13v-30l10 65v-101l10 76v-45M3500 19v-39l10 32v-23M3960 12v-25M5020 13v-27M5770 15v-29M5950 14v-27M6120 23v-52l10 44v-31M6170 26v-52l10 39v-26M6370 17v-32M6470 27v-55l10 41v-25"/></g>
<g stroke="#f00" transform="translate(111.5,580.04) scale(0.1)"><path id="t44" d="M0 5v-12l10 12v-9l10 9v-9l10 8v-8l10 8v-7l10 8v-11l10 10v-10l10 10v-10l10 12v-13l10 11v-10l10 9v-7l10 9v-8l10 6v-9l10 13v-10l10 10v-10l10 7v-8l10 7v-7l10 11v-13l10 11v-12l10 10v-6l10 8v-12l10 12v-11l10 13v-10l10 7v-7l10 7v-9l10 8v-7l10 9v-8l10 6v-10l10 11v-10l10 9v-7l10 11v-13l10 13v-11l10 7v-9l10 12v-11l10 8v-8l10 11v-9l10 5v-5l10 6v-10l10 12v-11l10 11v-9l10 10v-10l10 11v-10l10 8v-12l10 11v-10l10 10v-8l10 9v-8l10 8v-10l10 9v-9l10 10v-10l10 8v-8l10 10v-8l10 9v-11l10 8v-6l10 6v-7l10 10v-10l10 8v-7l10 7v-7l10 8v-8l10 7v-11l10 13v-9l10 6v-6l10 9v-9l10 7v-9l10 12v-14l10 12v-11l10 11v-10l10 8v-10l10 15v-14l10 11v-10l10 9v-11l10 15v-14l10 12v-12l10 14v-14l10 11v-10l10 10v-9l10 7v-7l10 11v-10l10 9v-10l10 7v-7l10 7v-9l10 10v-11l10 16v-16l10 11v-8l10 8v-11l10 11v-12l10 15v-11l10 10v-10l10 7v-7l10 9v-10l10 13v-15l10 14v-11l10 11v-11l10 7v-9l10 10v-8l10 10v-12l10 14v-15l10 10v-8l10 9v-9l10 8v-6l10 8v-10l10 9v-7l10 9v-12l10 15v-16l10 12v-14l10 16v-14l10 11v-7l10 6v-9l10 12v-9l10 6v-7l10 8v-8l10 7v-9l10 11v-10l10 12v-14l10 13v-10l10 10v-10l10 7v-8l10 8v-7l10 9v-11l10 11v-10l10 8v-8l10 10v-10l10 9v-9l10 9v-8l10 8v-9l10 11v-12l10 12v-11l10 8v-6l10 7v-11l10 10v-6l10 10v-14l10 13v-12l10 9v-7l10 9v-8l10 7v-9l10 12v-14l10 10v-6l10 8v-8l10 9v-10l10 9v-9l10 7v-9l10 9v-7l10 9v-13l10 13v-8l10 8v-13l10 13v-13l10 11v-7l10 11v-12l10 9v-7l10 7v-9l10 10v-8l10 11v-14l10 12v-13l10 14v-14l10 10v-11l10 12v-7l10 6v-6l10 8v-11l10 12v-12l10 9v-9l10 10v-8l10 10v-13l10 13v-11l10 8v-8l10 11v-11l10 8v-8l10 10v-9l10 8v-9l10 12v-15l10 13v-9l10 8v-10l10 11v-9l10 9v-9l10 7v-10l10 12v-8l10 10v-10l10 8v-8l10 8v-10l10 8v-6l10 9v-10l10 7v-7l10 8v-8l10 8v-7l10 9v-10l10 7v-7l10 10v-12l10 14v-12l10 11v-10l10 10v-12l10 8v-9l10 14v-11l10 8v-9l10 11v-11l10 8v-8l10 14v-16l10 13v-12l10 12v-11l10 9v-10l10 11v-10l10 9v-9l10 10v-9l10 8v-8l10 8v-9l10 10v-12l10 9v-6l10 9v-9l10 9v-13l10 10v-6l10 9v-9l10 10v-14l10 11v-11l10 14v-10l10 7v-10l10 13v-12l10 9v-9l10 12v-10l10 6v-8l10 9v-7l10 9v-10l10 7v-6l10 8v-9l10 11v-13l10 10v-8l10 7v-7l10 11v-13l10 11v-12l10 11v-6l10 8v-11l10 7v-6l10 7v-7l10 10v-9l10 8v-8l10 8v-8l10 6v-10l10 10v-9l10 11v-9l10 9v-9l10 9v-9l10 10v-10l10 11v-16l10 16v-16l10 16v-10l10 10v-14l10 12v-9l10 9v-11l10 10v-8l10 8v-8l10 10v-9l10 7v-9l10 9v-8l10 8v-8l10 9v-9l10 8v-10l10 10v-7l10 8v-12l10 11v-11l10 11v-8l10 9v-8l10 8v-8l10 8v-11l10 12v-12l10 9v-9l10 9v-7l10 9v-10l10 9v-9l10 9v-7l10 8v-11l10 12v-9l10 7v-8l10 7v-7l10 10v-9l10 10v-10l10 6v-8l10 8v-7l10 11v-11l10 7v-8l10 9v-9l10 11v-11l10 9v-9l10 11v-14l10 12v-9l10 8v-10l10 10v-9l10 9v-7l10 9v-8l10 7v-9l10 8v-9l10 11v-9l10 9v-10l10 10v-9l10 9v-10l10 11v-10l10 8v-11l10 10v-7l10 7v-6l10 6v-6l10 7v-8l10 10v-9l10 8v-9l10 7v-7l10 10v-10l10 7v-6l10 8v-9l10 7v-7l10 9v-8l10 5v-6l10 7v-9l10 10v-9l10 8v-6l10 6v-5l10 5v-7l10 9v-11l10 9v-5l10 7v-11l10 11v-10l10 12v-11l10 10v-11l10 10v-12l10 12v-8l10 9v-11l10 9v-9l10 8v-6l10 7v-10l10 10v-7l10 6v-7l10 7v-11l10 15v-12l10 8v-11l10 16v-11l10 9v-13l10 11v-9l10 9v-11l10 13v-10l10 9v-8l10 7v-11l10 15v-16l10 11v-11l10 14v-9l10 6v-6l10 9v-9l10 7v-7l10 7v-11l10 12v-11l10 13v-14l10 13v-11l10 10v-12l10 10v-10l10 13v-10l10 7v-8l10 9v-8l10 10v-11l10 12v-10l10 8v-10l10 12v-11l10 9v-12l10 14v-11l10 10v-11l10 10v-11l10 12v-10l10 9v-11l10 9v-7l10 9v-9l10 9v-13l10 15v-11l10 8v-9l10 8v-6l10 6v-7l10 12v-14l10 14v-15l10 13v-12l10 13v-12l10 8v-8l10 7v-5l10 8v-8l10 6v-8l10 9v-7l10 6v-7l10 7v-7l10 7v-9l10 9v-7l10 11v-12l10 9v-9l10 11v-11l10 9v-11l10 10v-6l10 7v-8l10 8v-11l10 12v-9l10 7v-8l10 10v-10l10 11v-11l10 9v-7l10 10v-14l10 12v-8l10 6v-8l10 10v-10l10 9v-9l10 8v-9l10 9v-7l10 8v-7l10 7v-7l10 6v-6l10 8v-12l10 12v-10l10 12v-12l10 12v-11l10 9v-9l10 9v-10l10 9v-11l10 11v-9l10 11v-10l10 11v-11l10 8v-9l10 8v-7l10 8v-8l10 8v-11l10 13v-10l10 10v-9l10 8v-10l10 8v-7l10 11v-10l10 7v-10l10 9v-6l10 8v-9l10 8v-10l10 11v-8l10 8v-10l10 12v-14l10 10v-9l10 10v-10l10 10v-7l10 9v-10l10 12v-12l10 8v-8l10 9v-8l10 6v-7l10 9v-8l10 10v-10l10 7v-8l10 10v-10l10 10v-11l10 11v-12l10 10v-8l10 11v-13l10 10v-10l10 10v-7l10 9v-10l10 9v-12l10 14v-15l10 13v-14l10 18v-13l10 7v-6l10 8v-9l10 11v-10l10 7v-9l10 8v-6l10 7v-9l10 11v-12l10 10v-9l10 14v-14l10 10v-14l10 18v-18l10 18v-17l10 15v-12l10 10v-12l10 13v-10l10 11v-16l10 15v-13l10 12v-11l10 13v-12l10 8v-9l10 12v-9l10 7v-7l10 10v-13l10 9v-9l10 9v-9l10 10v-8l10 7v-6l10 8v-9l10 7v-8l10 10v-12l10 10v-7l10 7v-8l10 9v-11l10 11v-8l10 10v-9l10 10v-11l10 9v-12l10 12v-10l10 12v-11l10 8v-8l10 8v-10l10 10v-9l10 8v-9l10 13v-12l10 11v-9l10 6v-7l10 7v-7l10 10v-10l10 7v-8l10 10v-9l10 10v-12l10 11v-9l10 7v-7l10 7v-7l10 8v-9l10 8v-7l10 7v-6l10 6v-6l10 8v-12l10 13v-13l10 11v-11l10 11v-7l10 8v-12l10 13v-14l10 12v-8l10 13v-18l10 17v-15l10 11v-10l10 13v-11l10 11v-12l10 11v-13l10 11v-7l10 10v-14l10 11v-7l10 8v-12l10 10v-9l10 12v-12l10 10v-8l10 11v-12l10 9v-9l10 10v-10l10 10v-7l10 6v-8l10 7v-6l10 7v-10l10 10v-9l10 10v-14l10 14v-9l10 12v-14l10 11v-13l10 15v-13l10 9v-9l10 10v-7l10 8v-9l10 7v-6l10 9v-12l10 9v-6l10 6v-9l10 9v-7l10 11v-13l10 9v-8l10 9v-7l10 8v-10l10 9v-11l10 14v-11l10 11v-12l10 8v-7l10 11v-12l10 8v-10l10 11v-8l10 7v-7l10 11v-11l10 11v-14l10 10v-11l10 14v-10l10 11v-14l10 11v-7l10 8v-10l10 8v-6l10 6v-7l10 7v-10l10 11v-8l10 10v-11l10 8v-8l10 13v-11l10 7v-9l10 11v-13l10 12v-12l10 13v-11l10 11v-10l10 13v-12l10 12v-15l10 10v-12l10 12v-10l10 10v-10l10 9v-9l10 10v-7l10 8v-10l10 9v-10l10 12v-10l10 9v-9l10 6v-7l10 11v-9l10 5v-6l10 6v-4l10 7v-7l10 5v-6l10 6v-10l10 12v-8l10 7v-10l10 12v-12l10 14v-14l10 9v-9l10 11v-13l10 11v-10l10 12v-13l10 11v-10l10 11v-9l10 12v-13l10 12v-12l10 9v-7l10 9v-9l10 8v-10l10 14v-11l10 8v-12l10 13v-12l10 12v-10l10 13v-12l10 8v-10l10 9v-9l10 8v-9l10 14v-12l10 9v-10l10 8v-7l10 10v-11l10 10v-10l10 12v-14l10 12v-10l10 8v-7l10 7v-6l10 8v-9l10 8v-7l10 9v-13l10 12v-12l10 10v-7l10 10v-9l10 6v-6l10 7v-8l10 9v-8l10 6v-8l10 12v-10l10 7v-8l10 10v-9l10 7v-10l10 9v-6l10 7v-11l10 15v-16l10 11v-8l10 9v-10l10 11v-13l10 11v-6l10 7v-7l10 6v-10l10 11v-11l10 12v-8l10 8v-8l10 9v-13l10 14v-11l10 15v-22l10 17v-12l10 9v-6l10 6v-9l10 12v-10l10 10v-12l10 11v-9l10 8v-7l10 9v-11l10 12v-10l10 8v-9l10 10v-10l10 12v-12l10 10v-10l10 11v-15l10 12v-12l10 15v-14l10 13v-9l10 10v-14l10 11v-10l10 12v-9l10 6v-9l10 11v-9l10 10v-13l10 13v-10l10 8v-8l10 8v-8l10 8v-9l10 8v-6l10 7v-9l10 11v-11l10 9v-7l10 6v-6l10 7v-11l10 11v-7l10 9v-8l10 8v-11l10 12v-12l10 10v-11l10 9v-8l10 8v-7l10 10v-14l10 12v-8l10 12v-12l10 10v-11l10 9v-9l10 12v-10l10 7v-8l10 12v-11"/><use href="#t44" transform="translate(5,0) scale(1,-.85)"/><path d="M710 11v-23M1030 12v-27M1920 17v-31l10 23v-18M2390 9v-19M4590 16v-30l10 21v-16M4640 16v-32M6580 19v-35"/></g>
<g stroke="#00f" transform="translate(111.5,592.21) scale(0.1)"><path id="t45" d="M0 4v-7l10 6v-8l10 9v-7l10 7v-10l10 10v-9l10 8v-9l10 9v-8l10 9v-8l10 6v-5l10 6v-6l10 6v-7l10 8v-7l10 6v-6l10 6v-5l10 7v-9l10 6v-7l10 10v-9l10 8v-7l10 8v-10l10 10v-10l10 8v-6l10 9v-10l10 11v-10l10 7v-9l10 9v-11l10 13v-13l10 12v-10l10 8v-7l10 8v-11l10 12v-11l10 10v-7l10 7v-9l10 10v-12l10 10v-9l10 8v-4l10 6v-7l10 8v-11l10 10v-8l10 10v-14l10 13v-9l10 10v-9l10 6v-6l10 7v-9l10 10v-11l10 10v-8l10 9v-8l10 8v-11l10 12v-10l10 7v-7l10 9v-8l10 11v-12l10 7v-6l10 8v-9l10 7v-9l10 12v-13l10 10v-6l10 6v-6l10 6v-6l10 8v-8l10 9v-10l10 7v-10l10 14v-10l10 6v-8l10 9v-9l10 12v-13l10 10v-7l10 7v-8l10 6v-5l10 6v-6l10 10v-14l10 12v-9l10 8v-10l10 9v-5l10 6v-8l10 9v-8l10 6v-7l10 8v-9l10 10v-7l10 4v-5l10 6v-6l10 8v-11l10 9v-10l10 13v-12l10 9v-7l10 7v-10l10 14v-12l10 9v-10l10 9v-9l10 10v-7l10 6v-6l10 6v-7l10 8v-7l10 6v-6l10 6v-8l10 9v-7l10 7v-8l10 9v-9l10 9v-8l10 8v-10l10 8v-9l10 10v-7l10 6v-8l10 8v-6l10 6v-6l10 6v-10l10 14v-10l10 10v-12l10 10v-11l10 9v-8l10 9v-9l10 8v-6l10 7v-7l10 8v-8l10 8v-10l10 11v-10l10 7v-6l10 9v-10l10 10v-11l10 8v-6l10 6v-6l10 6v-7l10 6v-6l10 10v-11l10 11v-9l10 8v-12l10 12v-8l10 9v-11l10 12v-10l10 8v-8l10 6v-7l10 11v-10l10 10v-13l10 13v-10l10 9v-11l10 8v-7l10 11v-15l10 14v-13l10 11v-8l10 9v-10l10 10v-9l10 9v-12l10 10v-6l10 9v-9l10 5v-5l10 7v-8l10 6v-5l10 7v-9l10 8v-7l10 9v-8l10 8v-9l10 7v-7l10 9v-8l10 6v-7l10 7v-9l10 13v-12l10 9v-7l10 6v-9l10 13v-11l10 10v-9l10 7v-8l10 7v-9l10 11v-8l10 8v-12l10 12v-8l10 9v-11l10 11v-12l10 13v-12l10 15v-17l10 16v-14l10 10v-10l10 9v-11l10 12v-8l10 6v-8l10 12v-14l10 13v-10l10 10v-13l10 11v-7l10 8v-8l10 9v-12l10 10v-10l10 14v-14l10 13v-13l10 12v-10l10 8v-7l10 8v-10l10 8v-7l10 7v-6l10 6v-6l10 6v-8l10 10v-11l10 9v-6l10 8v-10l10 8v-6l10 8v-8l10 8v-9l10 9v-8l10 6v-8l10 12v-11l10 8v-7l10 6v-7l10 10v-13l10 10v-8l10 9v-9l10 11v-11l10 8v-9l10 9v-8l10 9v-7l10 6v-7l10 9v-8l10 7v-9l10 10v-11l10 10v-7l10 8v-10l10 8v-6l10 7v-6l10 5v-6l10 6v-6l10 9v-11l10 10v-9l10 9v-7l10 7v-8l10 6v-9l10 11v-9l10 7v-10l10 9v-7l10 7v-5l10 8v-8l10 7v-9l10 9v-7l10 9v-9l10 6v-8l10 10v-8l10 6v-9l10 9v-8l10 11v-10l10 8v-9l10 8v-6l10 8v-10l10 9v-7l10 9v-9l10 6v-8l10 10v-8l10 6v-7l10 10v-11l10 10v-10l10 13v-14l10 10v-7l10 7v-9l10 9v-9l10 9v-9l10 10v-9l10 8v-8l10 10v-13l10 10v-6l10 9v-10l10 9v-11l10 12v-11l10 11v-12l10 11v-9l10 9v-13l10 11v-8l10 9v-9l10 11v-10l10 8v-11l10 11v-11l10 10v-6l10 7v-9l10 10v-10l10 11v-12l10 12v-14l10 13v-9l10 8v-7l10 8v-8l10 9v-10l10 7v-8l10 9v-11l10 13v-10l10 8v-10l10 10v-9l10 8v-6l10 6v-5l10 6v-10l10 11v-8l10 7v-8l10 9v-9l10 11v-16l10 19v-15l10 14v-14l10 8v-6l10 9v-10l10 10v-10l10 12v-13l10 9v-9l10 9v-8l10 10v-11l10 9v-7l10 7v-7l10 5v-5l10 8v-10l10 8v-9l10 9v-6l10 6v-10l10 10v-8l10 8v-9l10 9v-8l10 10v-9l10 9v-11l10 9v-7l10 10v-13l10 13v-10l10 9v-11l10 8v-7l10 8v-6l10 8v-7l10 5v-8l10 10v-8l10 9v-10l10 8v-11l10 11v-6l10 5v-6l10 7v-8l10 9v-11l10 12v-9l10 7v-10l10 9v-9l10 9v-8l10 8v-8l10 8v-6l10 9v-9l10 9v-9l10 6v-7l10 7v-9l10 9v-8l10 9v-7l10 6v-7l10 7v-10l10 12v-11l10 11v-10l10 11v-11l10 10v-9l10 10v-9l10 8v-9l10 9v-9l10 7v-9l10 12v-9l10 7v-10l10 10v-10l10 10v-10l10 12v-9l10 6v-6l10 7v-9l10 11v-9l10 6v-8l10 9v-10l10 9v-9l10 10v-9l10 9v-10l10 9v-10l10 9v-7l10 9v-8l10 8v-7l10 10v-10l10 6v-11l10 12v-11l10 10v-7l10 8v-9l10 8v-9l10 11v-11l10 12v-10l10 7v-6l10 8v-9l10 11v-15l10 13v-12l10 15v-17l10 16v-11l10 8v-8l10 8v-8l10 9v-10l10 8v-6l10 6v-8l10 9v-8l10 10v-13l10 10v-6l10 7v-10l10 11v-12l10 13v-9l10 8v-10l10 8v-11l10 12v-9l10 10v-12l10 14v-18l10 18v-12l10 9v-10l10 11v-8l10 7v-7l10 6v-10l10 10v-6l10 6v-8l10 10v-10l10 10v-11l10 10v-7l10 7v-8l10 7v-6l10 6v-7l10 8v-10l10 10v-10l10 11v-8l10 7v-7l10 7v-7l10 6v-9l10 12v-8l10 5v-5l10 9v-12l10 9v-8l10 9v-7l10 7v-8l10 5v-7l10 8v-9l10 10v-7l10 9v-11l10 9v-7l10 8v-8l10 9v-12l10 11v-10l10 9v-8l10 11v-13l10 11v-12l10 11v-7l10 10v-10l10 7v-9l10 9v-7l10 9v-12l10 11v-12l10 11v-10l10 9v-7l10 8v-9l10 8v-7l10 10v-12l10 10v-8l10 10v-11l10 11v-10l10 8v-11l10 11v-9l10 11v-10l10 9v-8l10 6v-7l10 9v-11l10 11v-10l10 10v-9l10 7v-10l10 10v-8l10 11v-12l10 13v-11l10 8v-11l10 11v-8l10 8v-8l10 8v-10l10 9v-6l10 6v-10l10 14v-11l10 9v-9l10 9v-9l10 7v-10l10 10v-8l10 10v-9l10 7v-6l10 8v-8l10 6v-6l10 8v-8l10 9v-9l10 5v-7l10 10v-8l10 7v-10l10 12v-13l10 11v-7l10 6v-6l10 6v-9l10 13v-10l10 9v-10l10 7v-7l10 10v-13l10 11v-7l10 9v-9l10 7v-10l10 12v-11l10 18v-25l10 16v-16l10 23v-18l10 14v-15l10 13v-9l10 8v-11l10 15v-19l10 19v-14l10 13v-10l10 9v-11l10 10v-10l10 8v-10l10 14v-14l10 13v-11l10 11v-9l10 7v-7l10 8v-10l10 9v-10l10 10v-10l10 11v-10l10 10v-10l10 11v-9l10 9v-9l10 8v-10l10 13v-13l10 10v-8l10 7v-10l10 12v-11l10 10v-8l10 9v-12l10 9v-6l10 6v-10l10 10v-9l10 12v-9l10 8v-9l10 10v-9l10 7v-7l10 9v-9l10 9v-12l10 12v-9l10 9v-9l10 6v-7l10 7v-7l10 9v-8l10 6v-6l10 10v-10l10 8v-8l10 8v-9l10 10v-10l10 8v-6l10 8v-10l10 11v-11l10 9v-12l10 12v-8l10 7v-10l10 9v-10l10 12v-9l10 10v-13l10 11v-8l10 10v-9l10 7v-10l10 12v-9l10 6v-6l10 7v-9l10 8v-7l10 8v-7l10 6v-6l10 6v-6l10 8v-11l10 9v-9l10 11v-10l10 9v-9l10 10v-11l10 11v-8l10 7v-10l10 11v-11l10 11v-10l10 8v-5l10 7v-9l10 8v-9l10 9v-10l10 9v-6l10 8v-8l10 6v-8l10 9v-9l10 8v-8l10 9v-10l10 10v-7l10 9v-8l10 6v-7l10 8v-8l10 9v-10l10 10v-9l10 8v-9l10 9v-10l10 10v-8l10 5v-8l10 9v-6l10 9v-9l10 6v-7l10 7v-7l10 9v-9l10 7v-9l10 12v-9l10 7v-7l10 6v-8l10 9v-11l10 14v-11l10 9v-10l10 8v-7l10 7v-7l10 7v-8l10 11v-12l10 14v-14l10 11v-8l10 6v-11l10 12v-8l10 10v-10l10 8v-11l10 12v-11l10 11v-9l10 10v-9l10 7v-9l10 7v-8l10 10v-7l10 6v-10l10 12v-10l10 8v-9l10 12v-11l10 8v-9l10 14v-12l10 10v-9l10 6v-9l10 10v-7l10 9v-10l10 7v-6l10 8v-8l10 8v-11l10 9v-7l10 10v-11l10 10v-11l10 12v-11l10 10v-8l10 7v-8l10 10v-9l10 10v-12l10 12v-12l10 10v-11l10 9v-6l10 9v-10l10 8v-9l10 11v-12l10 10v-10l10 9v-7l10 8v-7l10 6v-8l10 11v-10l10 10v-11l10 11v-13l10 10v-8l10 10v-12l10 11v-8l10 7v-6l10 6v-7l10 10v-10l10 10v-11l10 9v-10l10 11v-8l10 6v-6l10 6v-9l10 10v-10l10 11v-9l10 9v-9l10 9v-11l10 11v-8l10 6v-8l10 10v-10l10 10v-10l10 10v-8l10 7v-7l10 9v-11l10 8v-6l10 8v-8l10 7v-9l10 11v-12l10 10v-8l10 12v-15l10 12v-10l10 12v-10l10 6v-9l10 10v-7l10 7v-7l10 6v-6l10 8v-9l10 8v-10l10 12v-9l10 9v-12l10 13v-13l10 9v-8l10 7v-5l10 9v-9l10 8v-10l10 8v-10l10 14v-10l10 8v-9l10 8v-8l10 8v-7l10 7v-9l10 8v-7l10 7v-8l10 8v-9l10 11v-8l10 8v-11l10 13v-10l10 9v-9l10 7v-7l10 6v-7l10 7v-6l10 7v-10l10 10v-9l10 10v-10l10 8v-9"/><use href="#t45" transform="translate(5,0) scale(1,-.85)"/><path d="M1650 11v-23M2850 12v-26M2900 11v-25M3720 13v-25M3890 9v-17M4240 10v-18M4850 17v-35l10 28v-19M4900 12v-27M5030 8v-18"/></g>
<g stroke="#f00" transform="translate(111.5,604.38) scale(0.1)"><path id="t46" d="M0 2v-4l10 7v-8l10 8v-9l10 9v-8l10 8v-10l10 11v-9l10 7v-9l10 8v-6l10 6v-7l10 6v-6l10 8v-8l10 8v-6l10 5v-6l10 7v-9l10 8v-6l10 7v-8l10 7v-7l10 9v-10l10 8v-6l10 6v-5l10 5v-6l10 7v-7l10 6v-7l10 7v-6l10 6v-6l10 7v-6l10 5v-7l10 8v-8l10 10v-9l10 7v-9l10 8v-8l10 7v-5l10 5v-7l10 8v-5l10 7v-10l10 9v-10l10 12v-12l10 11v-10l10 8v-6l10 9v-11l10 10v-10l10 10v-7l10 6v-9l10 8v-7l10 9v-10l10 9v-6l10 4v-4l10 4v-4l10 7v-9l10 6v-6l10 7v-7l10 8v-6l10 7v-7l10 5v-5l10 5v-6l10 7v-7l10 8v-7l10 7v-8l10 5v-6l10 8v-8l10 10v-10l10 9v-10l10 9v-8l10 7v-7l10 7v-8l10 10v-8l10 6v-8l10 8v-8l10 10v-9l10 7v-8l10 11v-11l10 10v-8l10 9v-10l10 7v-7l10 8v-9l10 11v-9l10 7v-9l10 9v-6l10 5v-9l10 9v-7l10 8v-7l10 5v-7l10 9v-10l10 9v-9l10 9v-9l10 8v-6l10 9v-8l10 7v-8l10 8v-6l10 5v-7l10 7v-5l10 6v-9l10 9v-7l10 6v-7l10 7v-8l10 8v-6l10 8v-8l10 6v-7l10 7v-5l10 5v-5l10 7v-9l10 9v-8l10 6v-6l10 6v-9l10 9v-8l10 7v-6l10 7v-6l10 5v-6l10 7v-5l10 7v-8l10 5v-5l10 6v-7l10 8v-6l10 4v-6l10 9v-7l10 5v-5l10 5v-7l10 6v-5l10 6v-7l10 10v-11l10 8v-7l10 7v-5l10 8v-11l10 8v-6l10 5v-7l10 8v-9l10 11v-8l10 5v-5l10 5v-7l10 7v-6l10 8v-6l10 8v-11l10 9v-9l10 8v-6l10 9v-10l10 10v-11l10 8v-9l10 13v-11l10 7v-8l10 7v-6l10 9v-7l10 5v-6l10 5v-7l10 10v-9l10 6v-4l10 4v-7l10 9v-6l10 4v-5l10 5v-5l10 5v-5l10 7v-6l10 6v-8l10 9v-10l10 7v-6l10 7v-5l10 5v-6l10 5v-7l10 7v-5l10 8v-8l10 8v-10l10 8v-8l10 11v-12l10 10v-9l10 10v-10l10 9v-7l10 6v-8l10 8v-6l10 6v-6l10 6v-5l10 4v-6l10 8v-8l10 7v-7l10 6v-5l10 7v-7l10 8v-10l10 7v-5l10 6v-7l10 8v-9l10 8v-5l10 5v-5l10 6v-6l10 4v-6l10 8v-9l10 8v-6l10 7v-6l10 7v-9l10 9v-8l10 6v-9l10 10v-9l10 8v-7l10 7v-6l10 5v-5l10 6v-6l10 5v-4l10 5v-5l10 4v-4l10 7v-10l10 8v-6l10 6v-7l10 7v-5l10 6v-7l10 6v-7l10 8v-7l10 6v-5l10 4v-5l10 7v-7l10 6v-6l10 7v-7l10 7v-9l10 8v-6l10 8v-8l10 7v-8l10 7v-5l10 7v-9l10 9v-10l10 10v-8l10 5v-5l10 6v-6l10 6v-5l10 7v-8l10 7v-6l10 5v-8l10 8v-5l10 6v-6l10 4v-6l10 9v-7l10 6v-7l10 6v-6l10 8v-9l10 9v-9l10 7v-6l10 7v-6l10 4v-6l10 7v-6l10 6v-7l10 9v-7l10 5v-6l10 8v-9l10 6v-4l10 7v-8l10 6v-8l10 9v-6l10 4v-6l10 7v-7l10 9v-9l10 6v-6l10 6v-4l10 6v-8l10 8v-6l10 7v-8l10 6v-6l10 7v-6l10 4v-7l10 9v-6l10 5v-7l10 8v-6l10 5v-7l10 6v-6l10 7v-5l10 5v-6l10 8v-8l10 6v-7l10 7v-8l10 8v-7l10 9v-10l10 12v-10l10 9v-13l10 13v-10l10 9v-9l10 8v-9l10 9v-8l10 7v-7l10 9v-8l10 7v-10l10 8v-6l10 8v-6l10 6v-6l10 5v-5l10 5v-6l10 7v-9l10 7v-4l10 5v-5l10 5v-5l10 6v-7l10 8v-8l10 6v-8l10 9v-10l10 10v-6l10 6v-8l10 9v-9l10 9v-7l10 4v-4l10 5v-8l10 8v-6l10 8v-9l10 7v-5l10 8v-9l10 6v-5l10 5v-8l10 8v-7l10 6v-6l10 6v-5l10 6v-5l10 4v-5l10 6v-7l10 9v-8l10 7v-6l10 5v-7l10 8v-8l10 6v-5l10 6v-6l10 5v-6l10 7v-6l10 6v-5l10 7v-7l10 5v-7l10 10v-11l10 10v-9l10 8v-9l10 10v-7l10 4v-7l10 10v-8l10 7v-6l10 8v-9l10 6v-6l10 9v-12l10 9v-7l10 7v-9l10 9v-8l10 8v-7l10 6v-6l10 7v-7l10 7v-7l10 8v-7l10 6v-5l10 5v-9l10 11v-11l10 10v-6l10 4v-5l10 5v-4l10 8v-11l10 7v-4l10 4v-5l10 5v-6l10 10v-10l10 9v-11l10 9v-5l10 4v-5l10 7v-8l10 9v-9l10 6v-7l10 8v-7l10 6v-4l10 4v-4l10 7v-7l10 4v-5l10 5v-4l10 4v-4l10 5v-6l10 5v-7l10 7v-4l10 5v-6l10 7v-7l10 6v-6l10 5v-6l10 9v-8l10 6v-7l10 8v-6l10 7v-10l10 10v-8l10 8v-7l10 5v-5l10 4v-4l10 4v-7l10 9v-10l10 11v-10l10 9v-12l10 11v-10l10 10v-8l10 10v-8l10 7v-7l10 7v-9l10 11v-9l10 6v-9l10 11v-9l10 8v-7l10 5v-7l10 8v-5l10 4v-5l10 8v-11l10 10v-7l10 7v-7l10 5v-6l10 6v-4l10 5v-7l10 8v-6l10 4v-5l10 5v-7l10 8v-5l10 6v-8l10 8v-7l10 8v-8l10 7v-7l10 7v-8l10 7v-6l10 8v-9l10 9v-8l10 5v-5l10 6v-7l10 7v-5l10 7v-8l10 9v-8l10 6v-8l10 8v-9l10 10v-9l10 7v-9l10 11v-7l10 7v-7l10 8v-9l10 8v-8l10 6v-8l10 9v-9l10 7v-5l10 6v-8l10 8v-8l10 9v-9l10 8v-9l10 9v-7l10 7v-6l10 7v-6l10 4v-5l10 6v-6l10 9v-10l10 7v-6l10 5v-6l10 8v-6l10 4v-7l10 11v-9l10 6v-8l10 9v-6l10 4v-4l10 4v-4l10 4v-4l10 4v-5l10 5v-6l10 8v-7l10 7v-7l10 6v-5l10 4v-6l10 8v-6l10 4v-7l10 9v-8l10 9v-8l10 5v-6l10 8v-6l10 4v-7l10 7v-5l10 5v-5l10 7v-6l10 7v-8l10 6v-6l10 6v-6l10 8v-10l10 8v-6l10 6v-7l10 6v-5l10 6v-6l10 5v-5l10 5v-4l10 7v-7l10 6v-6l10 7v-7l10 7v-7l10 6v-7l10 7v-7l10 7v-8l10 7v-7l10 6v-4l10 5v-6l10 5v-6l10 7v-7l10 6v-4l10 4v-6l10 8v-7l10 5v-4l10 6v-8l10 9v-10l10 10v-11l10 9v-7l10 7v-6l10 8v-7l10 6v-9l10 9v-7l10 6v-5l10 7v-8l10 7v-7l10 5v-6l10 9v-9l10 9v-8l10 5v-4l10 6v-8l10 7v-6l10 7v-9l10 8v-5l10 5v-7l10 6v-7l10 7v-4l10 5v-7l10 9v-8l10 6v-6l10 7v-8l10 9v-10l10 10v-9l10 10v-9l10 7v-7l10 8v-8l10 6v-6l10 7v-7l10 6v-8l10 10v-8l10 5v-6l10 7v-5l10 4v-5l10 5v-5l10 5v-5l10 7v-6l10 4v-6l10 9v-8l10 6v-7l10 6v-6l10 8v-9l10 9v-7l10 8v-9l10 8v-9l10 8v-5l10 7v-9l10 8v-7l10 8v-7l10 8v-10l10 8v-9l10 7v-6l10 8v-10l10 10v-6l10 6v-9l10 8v-6l10 6v-7l10 7v-7l10 8v-7l10 5v-5l10 8v-8l10 5v-7l10 9v-9l10 8v-7l10 7v-6l10 5v-6l10 6v-4l10 4v-4l10 7v-8l10 8v-9l10 7v-6l10 8v-8l10 5v-7l10 9v-8l10 8v-7l10 6v-7l10 8v-7l10 9v-9l10 6v-6l10 5v-4l10 6v-8l10 6v-5l10 9v-11l10 10v-8l10 6v-7l10 6v-5l10 6v-8l10 7v-5l10 6v-5l10 4v-7l10 10v-10l10 8v-8l10 8v-5l10 6v-8l10 7v-5l10 5v-6l10 8v-10l10 7v-5l10 5v-6l10 7v-8l10 7v-6l10 7v-5l10 4v-5l10 7v-6l10 7v-8l10 7v-6l10 5v-6l10 7v-8l10 8v-7l10 5v-6l10 9v-9l10 9v-8l10 7v-8l10 8v-8l10 10v-10l10 8v-7l10 7v-7l10 6v-6l10 5v-8l10 10v-8l10 6v-5l10 6v-6l10 6v-8l10 10v-9l10 10v-11l10 8v-8l10 7v-6l10 9v-7l10 6v-8l10 6v-5l10 7v-8l10 8v-6l10 6v-7l10 6v-7l10 7v-5l10 5v-7l10 9v-7l10 6v-6l10 7v-8l10 7v-6l10 6v-6l10 4v-6l10 7v-6l10 8v-9l10 8v-9l10 10v-10l10 7v-7l10 8v-9l10 11v-8l10 6v-8l10 9v-7l10 6v-8l10 9v-7l10 8v-9l10 9v-7l10 6v-8l10 6v-7l10 7v-6l10 6v-4l10 6v-8l10 7v-7l10 10v-8l10 4v-4l10 7v-8l10 5v-7l10 7v-5l10 6v-8l10 8v-7l10 7v-7l10 6v-5l10 9v-12l10 10v-8l10 8v-8l10 9v-7l10 8v-11l10 10v-11l10 8v-4l10 4v-6l10 6v-4l10 5v-6l10 6v-6l10 6v-9l10 9v-6l10 7v-8l10 9v-8l10 8v-8l10 5v-7l10 8v-5l10 7v-9l10 8v-9l10 9v-9l10 10v-8l10 6v-6l10 5v-4l10 5v-6l10 7v-10l10 10v-7l10 7v-8l10 7v-6l10 7v-8l10 6v-4l10 4v-4l10 6v-6l10 6v-8l10 7v-5l10 5v-6l10 5v-4l10 5v-6l10 5v-6l10 8v-7l10 8v-8l10 6v-6l10 8v-9l10 9v-9l10 6v-6l10 6v-5l10 5v-8l10 10v-8"/><use href="#t46" transform="translate(5,0) scale(1,-.85)"/><path d="M2660 7v-15M3160 8v-15M3760 8v-14"/></g>
<g stroke="#00f" transform="translate(111.5,616.55) scale(0.1)"><path id="t47" d="M0 0v-1l10 2v-1l10 1v-1l10 1v-2l10 1v-1l10 1h10l10 1v-1h10l10 1v-2l10 1l10 1v-2l10 2v-1l10 1v-1l10 1v-1l10 1v-1h10v-1l10 2v-1h10h10l10 1v-2l10 2v-1l10 1v-1l10 1v-1h10v-1l10 2v-2l10 2v-1l10 1v-2l10 1l10 1v-2l10 1h10v-1l10 2v-2l10 1l10 1v-1l10 1v-1l10 1v-2l10 2v-1l10 1v-2l10 1h10v-1l10 2v-1h10v-1l10 2v-2l10 1l10 1v-2l10 2v-1h10v-1l10 1v-1l10 2v-2l10 2v-2l10 2v-2l10 1v-1l10 2v-2l10 1v-1l10 2v-1l10 1v-1h10h10l10 1v-1h10h10v-1l10 2v-1l10 1v-1l10 1v-1h10v-1l10 2v-1l10 1v-2l10 1v-1l10 2v-1h10l10 1v-2l10 2v-2l10 1v-1l10 2v-1h10l10 1v-2l10 2v-2l10 2v-1h10v-1l10 2v-2l10 2v-2l10 1h10l10 1v-2l10 2v-1l10 1v-1h10l10 1v-1h10l10 1v-2l10 1h10l10 1v-2l10 2v-2l10 1v-1l10 1v-1l10 1v-1l10 1v-1l10 1v-1l10 1v-1l10 2v-2l10 2v-2l10 1v-1l10 2v-1h10l10 1v-1h10v-1l10 1v-1l10 1v-1l10 1l10 1v-1h10l10 1v-2l10 2v-1h10v-1l10 1v-1l10 2v-2l10 1v-1l10 2v-1l10 1v-1h10l10 1v-2l10 2v-1l10 1v-1h10v-1l10 1l10 1v-2l10 1h10v-1l10 2v-1l10 1v-2l10 1h10h10h10l10 1v-1h10h10h10l10 1v-1l10 1v-1l10 1v-1h10v-1l10 1l10 1v-1l10 1v-2l10 1l10 1v-2l10 1v-1l10 2v-1h10l10 1v-1h10v-1l10 1h10v-1l10 2v-2l10 2v-2l10 2v-2l10 1h10h10v-1l10 2v-2l10 2v-1l10 1v-1h10l10 1v-1h10h10l10 1v-2l10 1h10v-1l10 2v-2l10 2v-1h10l10 1v-2l10 2v-2l10 2v-2l10 2v-2l10 2v-2l10 2v-2l10 2v-2l10 2v-1l10 1v-2l10 2v-2l10 2v-1h10l10 1v-2l10 2v-2l10 1v-1l10 2v-1h10l10 1v-2l10 2v-2l10 1l10 1v-1h10v-1l10 1v-1l10 2v-2l10 1h10v-1l10 2v-1h10h10l10 1v-2l10 1h10v-1l10 2v-2l10 1l10 1v-2l10 2v-2l10 1h10v-1l10 1v-1l10 2v-1l10 1v-1l10 1v-1l10 1v-2l10 2v-2l10 2v-2l10 1v-1l10 1v-1l10 1v-1l10 1h10v-1l10 1h10l10 1v-1h10v-1l10 2v-1l10 1v-2l10 2v-1h10v-1l10 1v-1l10 1v-1l10 2v-1l10 1v-1l10 1v-2l10 1h10v-1l10 2v-2l10 1h10v-1l10 2v-2l10 2v-1h10v-1l10 2v-1h10l10 1v-1l10 1v-2l10 2v-2l10 2v-1h10v-1l10 1v-1l10 1l10 1v-1l10 1v-2l10 2v-2l10 2v-2l10 2v-1h10v-1l10 2v-1l10 1v-1h10l10 1v-1h10v-1l10 1v-1l10 2v-2l10 3v-4l10 4v-3l10 2v-2l10 2v-2l10 2v-1h10l10 1v-2l10 1v-1l10 2v-2l10 2v-1l10 1v-2l10 1h10l10 1v-2l10 2v-2l10 1l10 1v-2l10 1v-1l10 1v-1l10 2v-2l10 2v-1l10 1v-1h10v-1l10 1v-1l10 1h10h10h10v-1l10 1v-1l10 1v-1l10 2v-1h10v-1l10 2v-1h10v-1l10 2v-2l10 1v-1l10 1h10l10 1v-1h10l10 1v-2l10 1l10 1v-2l10 1l10 1v-1l10 1v-2l10 1v-1l10 2v-2l10 1l10 1v-2l10 1v-1l10 2v-2l10 1v-1l10 2v-2l10 2v-1l10 1v-2l10 2v-1h10v-1l10 1h10v-1l10 1v-1l10 2v-2l10 1l10 1v-2l10 2v-2l10 1h10v-1l10 2v-2l10 1l10 1v-2l10 1v-1l10 1h10l10 1v-2l10 2v-2l10 1v-1l10 2v-1l10 1v-1l10 1v-2l10 1h10v-1l10 2v-1h10v-1l10 1h10h10v-1l10 2v-2l10 2v-1l10 1v-2l10 2v-2l10 2v-1h10l10 1v-2l10 2v-2l10 1v-1l10 1h10l10 1v-1l10 1v-2l10 1l10 1v-2l10 2v-1l10 1v-1l10 1v-2l10 2v-2l10 1l10 1v-2l10 2v-1h10h10v-1l10 1h10v-1l10 1h10h10h10l10 1v-1l10 1v-2l10 1h10v-1l10 1v-1l10 1h10h10v-1l10 2v-1h10h10l10 1v-1h10v-1l10 1l10 1v-1h10v-1l10 2v-2l10 2v-2l10 2v-1h10h10v-1l10 1l10 1v-2l10 2v-2l10 1v-1l10 2v-2l10 2v-1h10l10 1v-2l10 2v-2l10 2v-1l10 1v-1h10h10v-1l10 1v-1l10 2v-2l10 1v-1l10 1h10l10 1v-2l10 1l10 1v-2l10 2v-2l10 1h10h10v-1l10 1v-1l10 2v-2l10 1v-1l10 2v-2l10 1l10 1v-1l10 1v-2l10 1h10v-1l10 1v-1l10 2v-2l10 1v-1l10 2v-2l10 2v-1h10l10 1v-2l10 1l10 1v-1h10h10v-1l10 2v-1h10h10v-1l10 2v-2l10 2v-2l10 1v-1l10 2v-2l10 2v-2l10 2v-2l10 1v-1l10 2v-1h10h10v-1l10 1v-1l10 1h10v-1l10 2v-2l10 1v-1l10 2v-1l10 1v-2l10 1v-1l10 2v-2l10 2v-2l10 1l10 1v-1l10 1v-2l10 1v-1l10 2v-1l10 1v-1l10 1v-2l10 1h10l10 1v-1l10 1v-2l10 2v-1l10 1v-1l10 1v-2l10 1v-1l10 2v-2l10 2v-1h10v-1l10 1v-1l10 2v-2l10 2v-1h10l10 1v-1h10l10 1v-1l10 1v-2l10 2v-1l10 1v-1l10 1v-2l10 2v-2l10 2v-2l10 2v-2l10 1v-1l10 1v-1l10 2v-2l10 2v-1l10 1v-2l10 1h10l10 1v-1l10 1v-2l10 2v-2l10 1v-1l10 1v-1l10 1l10 1v-1l10 1v-1l10 1v-1h10v-1l10 1h10v-1l10 1h10l10 1v-2l10 2v-1l10 1v-1l10 1v-2l10 1l10 1v-2l10 2v-2l10 2v-1h10v-1l10 2v-2l10 1l10 1v-2l10 2v-2l10 2v-2l10 2v-1l10 1v-2l10 1h10v-1l10 2v-2l10 1v-1l10 1v-1l10 2v-2l10 2v-2l10 2v-1h10h10v-1l10 1v-1l10 2v-1l10 1v-2l10 2v-1l10 1v-1l10 1v-2l10 2v-1h10l10 1v-2l10 2v-1h10h10h10v-1l10 2v-1l10 1v-2l10 1h10v-1l10 1h10v-1l10 2v-2l10 2v-2l10 2v-1l10 1v-1l10 1v-2l10 2v-1l10 1v-2l10 2v-1h10h10v-1l10 1v-1l10 1l10 1v-2l10 2v-2l10 2v-2l10 2v-2l10 1l10 1v-1h10l10 1v-1h10h10l10 1v-1h10h10h10v-1l10 1h10v-1l10 2v-2l10 1v-1l10 1h10l10 1v-1h10l10 1v-1l10 1v-1h10v-1l10 1h10v-1l10 1h10v-1l10 2v-1l10 1v-2l10 2v-1l10 1v-2l10 2v-2l10 1l10 1v-2l10 1v-1l10 2v-2l10 2v-2l10 1v-1l10 1v-1l10 2v-2l10 2v-2l10 2v-2l10 2v-2l10 1v-1l10 1v-1l10 1l10 1v-2l10 2v-2l10 2v-1h10h10v-1l10 2v-2l10 1h10h10l10 1v-2l10 2v-1h10h10l10 1v-1l10 1v-2l10 2v-2l10 1h10h10h10l10 1v-2l10 2v-1h10l10 1v-2l10 1l10 1v-2l10 2v-2l10 2v-2l10 1h10l10 1v-1h10h10v-1l10 2v-1l10 1v-2l10 2v-1l10 1v-1l10 1v-2l10 1l10 1v-1l10 1v-2l10 2v-2l10 1v-1l10 2v-1h10v-1l10 2v-2l10 2v-1h10h10l10 1v-1h10v-1l10 1v-1l10 1v-1l10 2v-2l10 1v-1l10 2v-2l10 2v-2l10 2v-2l10 1v-1l10 1v-1l10 2v-2l10 2v-2l10 2v-1l10 1v-2l10 2v-2l10 2v-2l10 1v-1l10 2v-2l10 2v-1h10v-1l10 1v-1l10 1l10 1v-2l10 2v-1l10 1v-1h10v-1"/><path d="M2680 6v-12"/><path stroke-width="5.0" d="M-5 0H3685"/><path stroke-width="2.5" d="M3685 0H5085"/></g>
</g>
<rect x="111.5" y="35.5" width="706.0" height="591.0" fill="none" stroke="#000" stroke-width="1"/>
<g stroke="#000" stroke-width="1">
<line x1="106.5" y1="45.5" x2="111.5" y2="45.5"/>
<line x1="106.5" y1="57.5" x2="111.5" y2="57.5"/>
<line x1="106.5" y1="69.5" x2="111.5" y2="69.5"/>
<line x1="106.5" y1="81.5" x2="111.5" y2="81.5"/>
<line x1="106.5" y1="93.5" x2="111.5" y2="93.5"/>
<line x1="106.5" y1="105.5" x2="111.5" y2="105.5"/>
<line x1="106.5" y1="118.5" x2="111.5" y2="118.5"/>
<line x1="106.5" y1="130.5" x2="111.5" y2="130.5"/>
<line x1="106.5" y1="142.5" x2="111.5" y2="142.5"/>
<line x1="106.5" y1="154.5" x2="111.5" y2="154.5"/>
<line x1="106.5" y1="166.5" x2="111.5" y2="166.5"/>
<line x1="106.5" y1="178.5" x2="111.5" y2="178.5"/>
<line x1="106.5" y1="191.5" x2="111.5" y2="191.5"/>
<line x1="106.5" y1="203.5" x2="111.5" y2="203.5"/>
<line x1="106.5" y1="215.5" x2="111.5" y2="215.5"/>
<line x1="106.5" y1="227.5" x2="111.5" y2="227.5"/>
<line x1="106.5" y1="239.5" x2="111.5" y2="239.5"/>
<line x1="106.5" y1="251.5" x2="111.5" y2="251.5"/>
<line x1="106.5" y1="264.5" x2="111.5" y2="264.5"/>
<line x1="106.5" y1="276.5" x2="111.5" y2="276.5"/>
<line x1="106.5" y1="288.5" x2="111.5" y2="288.5"/>
<line x1="106.5" y1="300.5" x2="111.5" y2="300.5"/>
<line x1="106.5" y1="312.5" x2="111.5" y2="312.5"/>
<line x1="106.5" y1="325.5" x2="111.5" y2="325.5"/>
<line x1="106.5" y1="337.5" x2="111.5" y2="337.5"/>
<line x1="106.5" y1="349.5" x2="111.5" y2="349.5"/>
<line x1="106.5" y1="361.5" x2="111.5" y2="361.5"/>
<line x1="106.5" y1="373.5" x2="111.5" y2="373.5"/>
<line x1="106.5" y1="385.5" x2="111.5" y2="385.5"/>
<line x1="106.5" y1="398.5" x2="111.5" y2="398.5"/>
<line x1="106.5" y1="410.5" x2="111.5" y2="410.5"/>
<line x1="106.5" y1="422.5" x2="111.5" y2="422.5"/>
<line x1="106.5" y1="434.5" x2="111.5" y2="434.5"/>
<line x1="106.5" y1="446.5" x2="111.5" y2="446.5"/>
<line x1="106.5" y1="458.5" x2="111.5" y2="458.5"/>
<line x1="106.5" y1="471.5" x2="111.5" y2="471.5"/>
<line x1="106.5" y1="483.5" x2="111.5" y2="483.5"/>
<line x1="106.5" y1="495.5" x2="111.5" y2="495.5"/>
<line x1="106.5" y1="507.5" x2="111.5" y2="507.5"/>
<line x1="106.5" y1="519.5" x2="111.5" y2="519.5"/>
<line x1="106.5" y1="531.5" x2="111.5" y2="531.5"/>
<line x1="106.5" y1="544.5" x2="111.5" y2="544.5"/>
<line x1="106.5" y1="556.5" x2="111.5" y2="556.5"/>
<line x1="106.5" y1="568.5" x2="111.5" y2="568.5"/>
<line x1="106.5" y1="580.5" x2="111.5" y2="580.5"/>
<line x1="106.5" y1="592.5" x2="111.5" y2="592.5"/>
<line x1="106.5" y1="604.5" x2="111.5" y2="604.5"/>
<line x1="106.5" y1="617.5" x2="111.5" y2="617.5"/>
<line x1="111.5" y1="626.5" x2="111.5" y2="631.5"/>
<line x1="229.5" y1="626.5" x2="229.5" y2="631.5"/>
<line x1="346.5" y1="626.5" x2="346.5" y2="631.5"/>
<line x1="464.5" y1="626.5" x2="464.5" y2="631.5"/>
<line x1="582.5" y1="626.5" x2="582.5" y2="631.5"/>
<line x1="699.5" y1="626.5" x2="699.5" y2="631.5"/>
<line x1="817.5" y1="626.5" x2="817.5" y2="631.5"/>
</g>
<g font-size="10.4" text-anchor="end">
<text x="101.5" y="49.1">00:00</text>
<text x="101.5" y="61.1">00:30</text>
<text x="101.5" y="73.1">01:00</text>
<text x="101.5" y="85.1">01:30</text>
<text x="101.5" y="97.1">02:00</text>
<text x="101.5" y="109.1">02:30</text>
<text x="101.5" y="122.1">03:00</text>
<text x="101.5" y="134.1">03:30</text>
<text x="101.5" y="146.1">04:00</text>
<text x="101.5" y="158.1">04:30</text>
<text x="101.5" y="170.1">05:00</text>
<text x="101.5" y="182.1">05:30</text>
<text x="101.5" y="195.1">06:00</text>
<text x="101.5" y="207.1">06:30</text>
<text x="101.5" y="219.1">07:00</text>
<text x="101.5" y="231.1">07:30</text>
<text x="101.5" y="243.1">08:00</text>
<text x="101.5" y="255.1">08:30</text>
<text x="101.5" y="268.1">09:00</text>
<text x="101.5" y="280.1">09:30</text>
<text x="100.4" y="292.1">10:00</text>
<text x="100.4" y="304.1">10:30</text>
<text x="100.4" y="316.1">11:00</text>
<text x="100.4" y="329.1">11:30</text>
<text x="100.4" y="341.1">12:00</text>
<text x="100.4" y="353.1">12:30</text>
<text x="100.4" y="365.1">13:00</text>
<text x="100.4" y="377.1">13:30</text>
<text x="100.4" y="389.1">14:00</text>
<text x="100.4" y="402.1">14:30</text>
<text x="100.4" y="414.1">15:00</text>
<text x="100.4" y="426.1">15:30</text>
<text x="100.4" y="438.1">16:00</text>
<text x="100.4" y="450.1">16:30</text>
<text x="100.4" y="462.1">17:00</text>
<text x="100.4" y="475.1">17:30</text>
<text x="100.4" y="487.1">18:00</text>
<text x="100.4" y="499.1">18:30</text>
<text x="100.4" y="511.1">19:00</text>
<text x="100.4" y="523.1">19:30</text>
<text x="101.5" y="535.1">20:00</text>
<text x="101.5" y="548.1">20:30</text>
<text x="101.5" y="560.1">21:00</text>
<text x="101.5" y="572.1">21:30</text>
<text x="101.5" y="584.1">22:00</text>
<text x="101.5" y="596.1">22:30</text>
<text x="101.5" y="608.1">23:00</text>
<text x="101.5" y="621.1">23:30</text>
</g>
<g font-size="10.4" text-anchor="middle">
<text x="112.0" y="644.3">0</text>
<text x="229.5" y="644.3">5</text>
<text x="346.5" y="644.3">10</text>
<text x="463.6" y="644.3">15</text>
<text x="581.6" y="644.3">20</text>
<text x="699.5" y="644.3">25</text>
<text x="816.6" y="644.3">30</text>
</g>
<text font-size="11.1" text-anchor="middle" x="463.7" y="660.3" letter-spacing="0.04">time in minutes</text>
<text font-size="13.9" x="108" y="25.3" letter-spacing="-0.15">23-02-2026</text>
<text font-size="13.9" x="819.1" y="25.3" text-anchor="end" letter-spacing="-0.02">CA.MTJR..HNZ - High pass filtered @2Hz - Amplification: 1/3000</text>
<text font-size="13.9" text-anchor="middle" transform="translate(61.3,331) rotate(-90)">UTC (local time = UTC + 01:00)</text>
<text class="c" font-size="14.05" x="730" y="663.2">©ICGC 2026</text>
</svg>
</body>
</html>
